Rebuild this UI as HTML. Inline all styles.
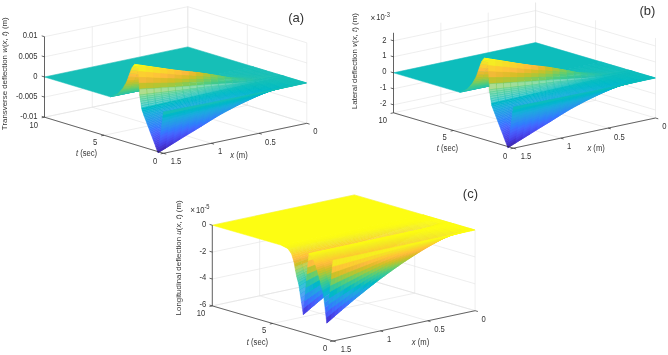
<!DOCTYPE html>
<html><head><meta charset="utf-8"><title>Figure</title>
<style>
html,body{margin:0;padding:0;background:#fff;}
body{width:668px;height:355px;overflow:hidden;}
svg{display:block;}
.s path{fill:currentColor;stroke:currentColor}
text{font-family:"Liberation Sans",sans-serif;fill:#333;}
</style></head><body>
<svg width="668" height="355" viewBox="0 0 668 355">
<rect width="668" height="355" fill="#fff"/>
<path d="M306.80 123.30L187.80 87.20" stroke="#e3e3e3" stroke-width="0.6" fill="none"/>
<path d="M187.80 87.20L187.80 6.70" stroke="#e3e3e3" stroke-width="0.6" fill="none"/>
<path d="M259.03 133.30L140.03 97.20" stroke="#e3e3e3" stroke-width="0.6" fill="none"/>
<path d="M140.03 97.20L140.03 16.70" stroke="#e3e3e3" stroke-width="0.6" fill="none"/>
<path d="M211.27 143.30L92.27 107.20" stroke="#e3e3e3" stroke-width="0.6" fill="none"/>
<path d="M92.27 107.20L92.27 26.70" stroke="#e3e3e3" stroke-width="0.6" fill="none"/>
<path d="M163.50 153.30L44.50 117.20" stroke="#e3e3e3" stroke-width="0.6" fill="none"/>
<path d="M44.50 117.20L44.50 36.70" stroke="#e3e3e3" stroke-width="0.6" fill="none"/>
<path d="M306.80 123.30L163.50 153.30" stroke="#e3e3e3" stroke-width="0.6" fill="none"/>
<path d="M306.80 123.30L306.80 42.80" stroke="#e3e3e3" stroke-width="0.6" fill="none"/>
<path d="M247.30 105.25L104.00 135.25" stroke="#e3e3e3" stroke-width="0.6" fill="none"/>
<path d="M247.30 105.25L247.30 24.75" stroke="#e3e3e3" stroke-width="0.6" fill="none"/>
<path d="M187.80 87.20L44.50 117.20" stroke="#e3e3e3" stroke-width="0.6" fill="none"/>
<path d="M187.80 87.20L187.80 6.70" stroke="#e3e3e3" stroke-width="0.6" fill="none"/>
<path d="M44.50 117.20L187.80 87.20" stroke="#e3e3e3" stroke-width="0.6" fill="none"/>
<path d="M187.80 87.20L306.80 123.30" stroke="#e3e3e3" stroke-width="0.6" fill="none"/>
<path d="M44.50 97.08L187.80 67.07" stroke="#e3e3e3" stroke-width="0.6" fill="none"/>
<path d="M187.80 67.07L306.80 103.17" stroke="#e3e3e3" stroke-width="0.6" fill="none"/>
<path d="M44.50 76.95L187.80 46.95" stroke="#e3e3e3" stroke-width="0.6" fill="none"/>
<path d="M187.80 46.95L306.80 83.05" stroke="#e3e3e3" stroke-width="0.6" fill="none"/>
<path d="M44.50 56.83L187.80 26.82" stroke="#e3e3e3" stroke-width="0.6" fill="none"/>
<path d="M187.80 26.82L306.80 62.92" stroke="#e3e3e3" stroke-width="0.6" fill="none"/>
<path d="M44.50 36.70L187.80 6.70" stroke="#e3e3e3" stroke-width="0.6" fill="none"/>
<path d="M187.80 6.70L306.80 42.80" stroke="#e3e3e3" stroke-width="0.6" fill="none"/>
<g stroke-width="0.5" stroke-linejoin="round"><g class="s">
<path d="M253.4 66.8l-143.3 30-65.6-19.8 143.3-30.1z" color="#16bfb7"/>
<path d="M254 67l-7.2 1.5-0.6-0.2 7.2-1.5z" color="#16bfb7"/>
<path d="M246.8 68.5l-7.2 1.5-0.6-0.2 7.2-1.5z" color="#16bfb7"/>
<path d="M239.6 70l-7.1 1.5-0.6-0.2 7.1-1.5z" color="#16bfb7"/>
<path d="M232.5 71.5l-7.2 1.5-0.6-0.2 7.2-1.5z" color="#16bfb7"/>
<path d="M225.3 73l-7.2 1.5-0.6-0.2 7.2-1.5z" color="#16bfb7"/>
<path d="M218.1 74.5l-7.1 1.5-0.6-0.2 7.1-1.5z" color="#16bfb7"/>
<path d="M211 76l-7.2 1.4-0.6-0.1 7.2-1.5z" color="#16bfb7"/>
<path d="M203.8 77.4l-7.2 1.5-0.6-0.1 7.2-1.5z" color="#17bfb7"/>
<path d="M196.6 78.9l-7.1 1.5-0.6-0.1 7.1-1.5z" color="#17bfb7"/>
<path d="M189.5 80.4l-7.2 1.5-0.6-0.1 7.2-1.5z" color="#17bfb6"/>
<path d="M182.3 81.9l-7.2 1.4-0.5 0 7.1-1.5z" color="#17bfb6"/>
<path d="M175.1 83.3l-7.1 1.5-0.6 0 7.2-1.5z" color="#17bfb6"/>
<path d="M168 84.8l-7.2 1.5-0.6 0 7.2-1.5z" color="#17bfb6"/>
<path d="M160.8 86.3l-7.1 1.5-0.6 0 7.1-1.5z" color="#18bfb6"/>
<path d="M153.7 87.8l-7.2 1.5-0.6 0 7.2-1.5z" color="#18bfb6"/>
<path d="M146.5 89.3l-7.2 1.4-0.6 0.1 7.2-1.5z" color="#18bfb6"/>
<path d="M139.3 90.7l-7.1 1.5-0.6 0.1 7.1-1.5z" color="#18bfb6"/>
<path d="M132.2 92.2l-7.2 1.5-0.6 0.1 7.2-1.5z" color="#18bfb6"/>
<path d="M125 93.7l-7.2 1.5-0.6 0.1 7.2-1.5z" color="#18bfb6"/>
<path d="M117.8 95.2l-7.1 1.4-0.6 0.2 7.1-1.5z" color="#18bfb6"/>
<path d="M255.2 67.4l-7.2 1.5-1.2-0.4 7.2-1.5z" color="#16bfb7"/>
<path d="M248 68.9l-7.2 1.5-1.2-0.4 7.2-1.5z" color="#16bfb7"/>
<path d="M240.8 70.4l-7.1 1.5-1.2-0.4 7.1-1.5z" color="#16bfb7"/>
<path d="M233.7 71.9l-7.2 1.4-1.2-0.3 7.2-1.5z" color="#16bfb7"/>
<path d="M226.5 73.3l-7.2 1.5-1.2-0.3 7.2-1.5z" color="#17bfb7"/>
<path d="M219.3 74.8l-7.1 1.4-1.2-0.2 7.1-1.5z" color="#17bfb6"/>
<path d="M212.2 76.2l-7.2 1.5-1.2-0.3 7.2-1.4z" color="#17bfb6"/>
<path d="M205 77.7l-7.2 1.4-1.2-0.2 7.2-1.5z" color="#18bfb6"/>
<path d="M197.8 79.1l-7.1 1.4-1.2-0.1 7.1-1.5z" color="#19bfb6"/>
<path d="M190.7 80.5l-7.2 1.4-1.2 0 7.2-1.5z" color="#19bfb5"/>
<path d="M183.5 81.9l-7.2 1.4-1.2 0 7.2-1.4z" color="#1abfb5"/>
<path d="M176.3 83.3l-7.1 1.5-1.2 0 7.1-1.5z" color="#1ac0b4"/>
<path d="M169.2 84.8l-7.2 1.4-1.2 0.1 7.2-1.5z" color="#1bc0b4"/>
<path d="M162 86.2l-7.2 1.4-1.1 0.2 7.1-1.5z" color="#1bc0b4"/>
<path d="M154.8 87.6l-7.1 1.5-1.2 0.2 7.2-1.5z" color="#1cc0b4"/>
<path d="M147.7 89.1l-7.2 1.4-1.2 0.2 7.2-1.4z" color="#1cc0b3"/>
<path d="M140.5 90.5l-7.2 1.4-1.1 0.3 7.1-1.5z" color="#1dc0b3"/>
<path d="M133.3 91.9l-7.1 1.4-1.2 0.4 7.2-1.5z" color="#1dc0b3"/>
<path d="M126.2 93.3l-7.2 1.5-1.2 0.4 7.2-1.5z" color="#1dc0b3"/>
<path d="M119 94.8l-7.1 1.4-1.2 0.4 7.1-1.4z" color="#1dc0b2"/>
<path d="M256.3 67.7l-7.1 1.5-1.2-0.3 7.2-1.5z" color="#16bfb7"/>
<path d="M249.2 69.2l-7.2 1.5-1.2-0.3 7.2-1.5z" color="#16bfb7"/>
<path d="M242 70.7l-7.2 1.5-1.1-0.3 7.1-1.5z" color="#16bfb7"/>
<path d="M234.8 72.2l-7.1 1.5-1.2-0.4 7.2-1.4z" color="#17bfb7"/>
<path d="M227.7 73.7l-7.2 1.4-1.2-0.3 7.2-1.5z" color="#17bfb6"/>
<path d="M220.5 75.1l-7.1 1.4-1.2-0.3 7.1-1.4z" color="#18bfb6"/>
<path d="M213.4 76.5l-7.2 1.4-1.2-0.2 7.2-1.5z" color="#19bfb6"/>
<path d="M206.2 77.9l-7.2 1.3-1.2-0.1 7.2-1.4z" color="#1abfb5"/>
<path d="M199 79.2l-7.1 1.4-1.2-0.1 7.1-1.4z" color="#1bc0b4"/>
<path d="M191.9 80.6l-7.2 1.4-1.2-0.1 7.2-1.4z" color="#1cc0b4"/>
<path d="M184.7 82l-7.2 1.4-1.2-0.1 7.2-1.4z" color="#1dc0b3"/>
<path d="M177.5 83.4l-7.1 1.3-1.2 0.1 7.1-1.5z" color="#1ec0b2"/>
<path d="M170.4 84.7l-7.2 1.4-1.2 0.1 7.2-1.4z" color="#1fc1b1"/>
<path d="M163.2 86.1l-7.2 1.4-1.2 0.1 7.2-1.4z" color="#20c1b1"/>
<path d="M156 87.5l-7.1 1.4-1.2 0.2 7.1-1.5z" color="#21c1b0"/>
<path d="M148.9 88.9l-7.2 1.4-1.2 0.2 7.2-1.4z" color="#22c1b0"/>
<path d="M141.7 90.3l-7.2 1.3-1.2 0.3 7.2-1.4z" color="#23c1af"/>
<path d="M134.5 91.6l-7.1 1.4-1.2 0.3 7.1-1.4z" color="#23c1af"/>
<path d="M127.4 93l-7.2 1.4-1.2 0.4 7.2-1.5z" color="#24c1ae"/>
<path d="M120.2 94.4l-7.2 1.4-1.1 0.4 7.1-1.4z" color="#24c1ae"/>
<path d="M257.5 68.1l-7.1 1.5-1.2-0.4 7.1-1.5z" color="#16bfb7"/>
<path d="M250.4 69.6l-7.2 1.5-1.2-0.4 7.2-1.5z" color="#16bfb7"/>
<path d="M243.2 71.1l-7.2 1.4-1.2-0.3 7.2-1.5z" color="#17bfb7"/>
<path d="M236 72.5l-7.1 1.5-1.2-0.3 7.1-1.5z" color="#17bfb6"/>
<path d="M228.9 74l-7.2 1.4-1.2-0.3 7.2-1.4z" color="#18bfb6"/>
<path d="M221.7 75.4l-7.2 1.4-1.1-0.3 7.1-1.4z" color="#19bfb6"/>
<path d="M214.5 76.8l-7.1 1.3-1.2-0.2 7.2-1.4z" color="#1abfb5"/>
<path d="M207.4 78.1l-7.2 1.3-1.2-0.2 7.2-1.3z" color="#1bc0b4"/>
<path d="M200.2 79.4l-7.2 1.3-1.1-0.1 7.1-1.4z" color="#1dc0b3"/>
<path d="M193 80.7l-7.1 1.3-1.2 0 7.2-1.4z" color="#1ec0b2"/>
<path d="M185.9 82l-7.2 1.4-1.2 0 7.2-1.4z" color="#20c1b1"/>
<path d="M178.7 83.4l-7.1 1.3-1.2 0 7.1-1.3z" color="#22c1b0"/>
<path d="M171.6 84.7l-7.2 1.3-1.2 0.1 7.2-1.4z" color="#24c1af"/>
<path d="M164.4 86l-7.2 1.4-1.2 0.1 7.2-1.4z" color="#25c2ae"/>
<path d="M157.2 87.4l-7.1 1.3-1.2 0.2 7.1-1.4z" color="#26c2ad"/>
<path d="M150.1 88.7l-7.2 1.3-1.2 0.3 7.2-1.4z" color="#27c2ac"/>
<path d="M142.9 90l-7.2 1.4-1.2 0.2 7.2-1.3z" color="#27c2ab"/>
<path d="M135.7 91.4l-7.1 1.3-1.2 0.3 7.1-1.4z" color="#28c3ab"/>
<path d="M128.6 92.7l-7.2 1.3-1.2 0.4 7.2-1.4z" color="#29c3aa"/>
<path d="M121.4 94l-7.2 1.3-1.2 0.5 7.2-1.4z" color="#29c3aa"/>
<path d="M258.7 68.5l-7.1 1.4-1.2-0.3 7.1-1.5z" color="#16bfb7"/>
<path d="M251.6 69.9l-7.2 1.5-1.2-0.3 7.2-1.5z" color="#16bfb7"/>
<path d="M244.4 71.4l-7.2 1.5-1.2-0.4 7.2-1.4z" color="#17bfb7"/>
<path d="M237.2 72.9l-7.1 1.4-1.2-0.3 7.1-1.5z" color="#17bfb6"/>
<path d="M230.1 74.3l-7.2 1.4-1.2-0.3 7.2-1.4z" color="#18bfb6"/>
<path d="M222.9 75.7l-7.2 1.3-1.2-0.2 7.2-1.4z" color="#19bfb5"/>
<path d="M215.7 77l-7.1 1.3-1.2-0.2 7.1-1.3z" color="#1bc0b4"/>
<path d="M208.6 78.3l-7.2 1.3-1.2-0.2 7.2-1.3z" color="#1dc0b3"/>
<path d="M201.4 79.6l-7.2 1.2-1.2-0.1 7.2-1.3z" color="#1fc0b2"/>
<path d="M194.2 80.8l-7.1 1.3-1.2-0.1 7.1-1.3z" color="#21c1b0"/>
<path d="M187.1 82.1l-7.2 1.3-1.2 0 7.2-1.4z" color="#23c1af"/>
<path d="M179.9 83.4l-7.2 1.3-1.1 0 7.1-1.3z" color="#25c2ad"/>
<path d="M172.7 84.7l-7.1 1.3-1.2 0 7.2-1.3z" color="#27c2ac"/>
<path d="M165.6 86l-7.2 1.3-1.2 0.1 7.2-1.4z" color="#28c3aa"/>
<path d="M158.4 87.3l-7.2 1.2-1.1 0.2 7.1-1.3z" color="#29c3a9"/>
<path d="M151.2 88.5l-7.1 1.3-1.2 0.2 7.2-1.3z" color="#2bc3a8"/>
<path d="M144.1 89.8l-7.2 1.3-1.2 0.3 7.2-1.4z" color="#2cc4a7"/>
<path d="M136.9 91.1l-7.1 1.3-1.2 0.3 7.1-1.3z" color="#2cc4a6"/>
<path d="M129.8 92.4l-7.2 1.2-1.2 0.4 7.2-1.3z" color="#2dc4a6"/>
<path d="M122.6 93.6l-7.2 1.3-1.2 0.4 7.2-1.3z" color="#2dc4a5"/>
<path d="M259.9 68.8l-7.2 1.5-1.1-0.4 7.1-1.4z" color="#16bfb7"/>
<path d="M252.7 70.3l-7.1 1.5-1.2-0.4 7.2-1.5z" color="#16bfb7"/>
<path d="M245.6 71.8l-7.2 1.4-1.2-0.3 7.2-1.5z" color="#17bfb6"/>
<path d="M238.4 73.2l-7.1 1.4-1.2-0.3 7.1-1.4z" color="#17bfb6"/>
<path d="M231.3 74.6l-7.2 1.4-1.2-0.3 7.2-1.4z" color="#19bfb6"/>
<path d="M224.1 76l-7.2 1.3-1.2-0.3 7.2-1.3z" color="#1ac0b5"/>
<path d="M216.9 77.3l-7.1 1.2-1.2-0.2 7.1-1.3z" color="#1cc0b4"/>
<path d="M209.8 78.5l-7.2 1.2-1.2-0.1 7.2-1.3z" color="#1ec0b2"/>
<path d="M202.6 79.7l-7.2 1.2-1.2-0.1 7.2-1.2z" color="#21c1b1"/>
<path d="M195.4 80.9l-7.1 1.2-1.2 0 7.1-1.3z" color="#23c1af"/>
<path d="M188.3 82.1l-7.2 1.3-1.2 0 7.2-1.3z" color="#26c2ad"/>
<path d="M181.1 83.4l-7.2 1.2-1.2 0.1 7.2-1.3z" color="#28c3ab"/>
<path d="M173.9 84.6l-7.1 1.3-1.2 0.1 7.1-1.3z" color="#2ac3a9"/>
<path d="M166.8 85.9l-7.2 1.2-1.2 0.2 7.2-1.3z" color="#2cc4a7"/>
<path d="M159.6 87.1l-7.2 1.3-1.2 0.1 7.2-1.2z" color="#2dc4a6"/>
<path d="M152.4 88.4l-7.1 1.2-1.2 0.2 7.1-1.3z" color="#2ec4a4"/>
<path d="M145.3 89.6l-7.2 1.2-1.2 0.3 7.2-1.3z" color="#2fc5a3"/>
<path d="M138.1 90.8l-7.2 1.2-1.1 0.4 7.1-1.3z" color="#2fc5a2"/>
<path d="M130.9 92l-7.1 1.2-1.2 0.4 7.2-1.2z" color="#30c5a1"/>
<path d="M123.8 93.2l-7.2 1.3-1.2 0.4 7.2-1.3z" color="#31c6a0"/>
<path d="M261.1 69.2l-7.2 1.5-1.2-0.4 7.2-1.5z" color="#16bfb7"/>
<path d="M253.9 70.7l-7.1 1.4-1.2-0.3 7.1-1.5z" color="#17bfb7"/>
<path d="M246.8 72.1l-7.2 1.5-1.2-0.4 7.2-1.4z" color="#17bfb6"/>
<path d="M239.6 73.6l-7.2 1.4-1.1-0.4 7.1-1.4z" color="#18bfb6"/>
<path d="M232.4 75l-7.1 1.3-1.2-0.3 7.2-1.4z" color="#19bfb5"/>
<path d="M225.3 76.3l-7.2 1.2-1.2-0.2 7.2-1.3z" color="#1bc0b4"/>
<path d="M218.1 77.5l-7.2 1.2-1.1-0.2 7.1-1.2z" color="#1dc0b3"/>
<path d="M210.9 78.7l-7.1 1.1-1.2-0.1 7.2-1.2z" color="#20c1b1"/>
<path d="M203.8 79.8l-7.2 1.1-1.2 0 7.2-1.2z" color="#23c1af"/>
<path d="M196.6 80.9l-7.1 1.2-1.2 0 7.1-1.2z" color="#26c2ad"/>
<path d="M189.5 82.1l-7.2 1.1-1.2 0.2 7.2-1.3z" color="#28c3aa"/>
<path d="M182.3 83.2l-7.2 1.2-1.2 0.2 7.2-1.2z" color="#2bc3a8"/>
<path d="M175.1 84.4l-7.1 1.2-1.2 0.3 7.1-1.3z" color="#2dc4a5"/>
<path d="M168 85.6l-7.2 1.2-1.2 0.3 7.2-1.2z" color="#2fc5a3"/>
<path d="M160.8 86.8l-7.2 1.2-1.2 0.4 7.2-1.3z" color="#30c5a1"/>
<path d="M153.6 88l-7.1 1.1-1.2 0.5 7.1-1.2z" color="#31c6a0"/>
<path d="M146.5 89.1l-7.2 1.2-1.2 0.5 7.2-1.2z" color="#32c69e"/>
<path d="M139.3 90.3l-7.2 1.1-1.2 0.6 7.2-1.2z" color="#33c79d"/>
<path d="M132.1 91.4l-7.1 1.2-1.2 0.6 7.1-1.2z" color="#34c79b"/>
<path d="M125 92.6l-7.2 1.1-1.2 0.8 7.2-1.3z" color="#35c79a"/>
<path d="M262.3 69.5l-7.2 1.5-1.2-0.3 7.2-1.5z" color="#16bfb7"/>
<path d="M255.1 71l-7.1 1.5-1.2-0.4 7.1-1.4z" color="#17bfb7"/>
<path d="M248 72.5l-7.2 1.4-1.2-0.3 7.2-1.5z" color="#17bfb6"/>
<path d="M240.8 73.9l-7.2 1.4-1.2-0.3 7.2-1.4z" color="#18bfb6"/>
<path d="M233.6 75.3l-7.1 1.2-1.2-0.2 7.1-1.3z" color="#1ac0b5"/>
<path d="M226.5 76.5l-7.2 1.2-1.2-0.2 7.2-1.2z" color="#1cc0b3"/>
<path d="M219.3 77.7l-7.2 1.1-1.2-0.1 7.2-1.2z" color="#1fc0b2"/>
<path d="M212.1 78.8l-7.1 1-1.2 0 7.1-1.1z" color="#22c1af"/>
<path d="M205 79.8l-7.2 1-1.2 0.1 7.2-1.1z" color="#26c2ad"/>
<path d="M197.8 80.8l-7.2 1-1.1 0.3 7.1-1.2z" color="#29c3aa"/>
<path d="M190.6 81.8l-7.1 1.1-1.2 0.3 7.2-1.1z" color="#2cc4a7"/>
<path d="M183.5 82.9l-7.2 1-1.2 0.5 7.2-1.2z" color="#2fc5a3"/>
<path d="M176.3 83.9l-7.2 1.2-1.1 0.5 7.1-1.2z" color="#31c6a0"/>
<path d="M169.1 85.1l-7.1 1.1-1.2 0.6 7.2-1.2z" color="#33c69d"/>
<path d="M162 86.2l-7.2 1-1.2 0.8 7.2-1.2z" color="#35c79b"/>
<path d="M154.8 87.2l-7.1 1.1-1.2 0.8 7.1-1.1z" color="#36c899"/>
<path d="M147.7 88.3l-7.2 1-1.2 1 7.2-1.2z" color="#38c896"/>
<path d="M140.5 89.3l-7.2 1.1-1.2 1 7.2-1.1z" color="#3ac994"/>
<path d="M133.3 90.4l-7.1 1-1.2 1.2 7.1-1.2z" color="#3bc992"/>
<path d="M126.2 91.4l-7.2 1.1-1.2 1.2 7.2-1.1z" color="#3dc991"/>
<path d="M263.5 69.9l-7.2 1.5-1.2-0.4 7.2-1.5z" color="#16bfb7"/>
<path d="M256.3 71.4l-7.1 1.4-1.2-0.3 7.1-1.5z" color="#17bfb6"/>
<path d="M249.2 72.8l-7.2 1.4-1.2-0.3 7.2-1.4z" color="#17bfb6"/>
<path d="M242 74.2l-7.2 1.3-1.2-0.2 7.2-1.4z" color="#19bfb5"/>
<path d="M234.8 75.5l-7.1 1.2-1.2-0.2 7.1-1.2z" color="#1bc0b4"/>
<path d="M227.7 76.7l-7.2 1.1-1.2-0.1 7.2-1.2z" color="#1ec0b2"/>
<path d="M220.5 77.8l-7.2 1-1.2 0 7.2-1.1z" color="#21c1b0"/>
<path d="M213.3 78.8l-7.1 0.9-1.2 0.1 7.1-1z" color="#25c2ad"/>
<path d="M206.2 79.7l-7.2 0.9-1.2 0.2 7.2-1z" color="#28c3aa"/>
<path d="M199 80.6l-7.2 0.9-1.2 0.3 7.2-1z" color="#2cc4a7"/>
<path d="M191.8 81.5l-7.1 1-1.2 0.4 7.1-1.1z" color="#2fc5a2"/>
<path d="M184.7 82.5l-7.2 1-1.2 0.4 7.2-1z" color="#33c69e"/>
<path d="M177.5 83.5l-7.2 1-1.2 0.6 7.2-1.2z" color="#35c799"/>
<path d="M170.3 84.5l-7.1 1-1.2 0.7 7.1-1.1z" color="#38c896"/>
<path d="M163.2 85.5l-7.2 1-1.2 0.7 7.2-1z" color="#3bc992"/>
<path d="M156 86.5l-7.2 0.9-1.1 0.9 7.1-1.1z" color="#3eca8f"/>
<path d="M148.8 87.4l-7.1 1-1.2 0.9 7.2-1z" color="#41ca8c"/>
<path d="M141.7 88.4l-7.2 0.9-1.2 1.1 7.2-1.1z" color="#44cb8a"/>
<path d="M134.5 89.3l-7.2 1-1.1 1.1 7.1-1z" color="#47cb87"/>
<path d="M127.3 90.3l-7.1 0.9-1.2 1.3 7.2-1.1z" color="#49cb85"/>
<path d="M264.7 70.3l-7.2 1.4-1.2-0.3 7.2-1.5z" color="#16bfb7"/>
<path d="M257.5 71.7l-7.2 1.5-1.1-0.4 7.1-1.4z" color="#17bfb6"/>
<path d="M250.3 73.2l-7.1 1.4-1.2-0.4 7.2-1.4z" color="#18bfb6"/>
<path d="M243.2 74.6l-7.2 1.2-1.2-0.3 7.2-1.3z" color="#19bfb5"/>
<path d="M236 75.8l-7.2 1.2-1.1-0.3 7.1-1.2z" color="#1cc0b4"/>
<path d="M228.8 77l-7.1 1-1.2-0.2 7.2-1.1z" color="#1fc0b1"/>
<path d="M221.7 78l-7.2 0.9-1.2-0.1 7.2-1z" color="#23c1af"/>
<path d="M214.5 78.9l-7.1 0.8-1.2 0 7.1-0.9z" color="#27c2ab"/>
<path d="M207.4 79.7l-7.2 0.8-1.2 0.1 7.2-0.9z" color="#2bc3a8"/>
<path d="M200.2 80.5l-7.2 0.8-1.2 0.2 7.2-0.9z" color="#2fc5a3"/>
<path d="M193 81.3l-7.1 0.8-1.2 0.4 7.1-1z" color="#32c69e"/>
<path d="M185.9 82.1l-7.2 0.9-1.2 0.5 7.2-1z" color="#36c898"/>
<path d="M178.7 83l-7.2 1-1.2 0.5 7.2-1z" color="#3bc992"/>
<path d="M171.5 84l-7.1 0.9-1.2 0.6 7.1-1z" color="#3fca8e"/>
<path d="M164.4 84.9l-7.2 0.8-1.2 0.8 7.2-1z" color="#44cb89"/>
<path d="M157.2 85.7l-7.2 0.9-1.2 0.8 7.2-0.9z" color="#49cb85"/>
<path d="M150 86.6l-7.1 0.8-1.2 1 7.1-1z" color="#4dcc82"/>
<path d="M142.9 87.4l-7.2 0.9-1.2 1 7.2-0.9z" color="#52cc7e"/>
<path d="M135.7 88.3l-7.2 0.8-1.2 1.2 7.2-1z" color="#56cc7b"/>
<path d="M128.5 89.1l-7.1 0.9-1.2 1.2 7.1-0.9z" color="#59cc78"/>
<path d="M265.9 70.6l-7.2 1.5-1.2-0.4 7.2-1.4z" color="#16bfb7"/>
<path d="M258.7 72.1l-7.2 1.4-1.2-0.3 7.2-1.5z" color="#17bfb6"/>
<path d="M251.5 73.5l-7.1 1.4-1.2-0.3 7.1-1.4z" color="#18bfb6"/>
<path d="M244.4 74.9l-7.2 1.2-1.2-0.3 7.2-1.2z" color="#1abfb5"/>
<path d="M237.2 76.1l-7.2 1.1-1.2-0.2 7.2-1.2z" color="#1dc0b3"/>
<path d="M230 77.2l-7.1 1-1.2-0.2 7.1-1z" color="#21c1b1"/>
<path d="M222.9 78.2l-7.2 0.8-1.2-0.1 7.2-0.9z" color="#25c2ad"/>
<path d="M215.7 79l-7.2 0.6-1.1 0.1 7.1-0.8z" color="#29c3a9"/>
<path d="M208.5 79.6l-7.1 0.7-1.2 0.2 7.2-0.8z" color="#2dc4a5"/>
<path d="M201.4 80.3l-7.2 0.7-1.2 0.3 7.2-0.8z" color="#31c69f"/>
<path d="M194.2 81l-7.2 0.8-1.1 0.3 7.1-0.8z" color="#36c799"/>
<path d="M187 81.8l-7.1 0.8-1.2 0.4 7.2-0.9z" color="#3cc992"/>
<path d="M179.9 82.6l-7.2 0.8-1.2 0.6 7.2-1z" color="#42ca8b"/>
<path d="M172.7 83.4l-7.1 0.8-1.2 0.7 7.1-0.9z" color="#49cb85"/>
<path d="M165.6 84.2l-7.2 0.8-1.2 0.7 7.2-0.8z" color="#4fcc80"/>
<path d="M158.4 85l-7.2 0.8-1.2 0.8 7.2-0.9z" color="#56cc7b"/>
<path d="M151.2 85.8l-7.1 0.7-1.2 0.9 7.1-0.8z" color="#5bcc76"/>
<path d="M144.1 86.5l-7.2 0.7-1.2 1.1 7.2-0.9z" color="#61cd72"/>
<path d="M136.9 87.2l-7.2 0.8-1.2 1.1 7.2-0.8z" color="#65cd6e"/>
<path d="M129.7 88l-7.1 0.7-1.2 1.3 7.1-0.9z" color="#6acd6a"/>
<path d="M267.1 71l-7.2 1.4-1.2-0.3 7.2-1.5z" color="#17bfb7"/>
<path d="M259.9 72.4l-7.2 1.4-1.2-0.3 7.2-1.4z" color="#17bfb6"/>
<path d="M252.7 73.8l-7.1 1.4-1.2-0.3 7.1-1.4z" color="#18bfb6"/>
<path d="M245.6 75.2l-7.2 1.2-1.2-0.3 7.2-1.2z" color="#1ac0b5"/>
<path d="M238.4 76.4l-7.2 1-1.2-0.2 7.2-1.1z" color="#1ec0b2"/>
<path d="M231.2 77.4l-7.1 0.8-1.2 0 7.1-1z" color="#22c1af"/>
<path d="M224.1 78.2l-7.2 0.7-1.2 0.1 7.2-0.8z" color="#27c2ac"/>
<path d="M216.9 78.9l-7.2 0.5-1.2 0.2 7.2-0.6z" color="#2cc4a7"/>
<path d="M209.7 79.4l-7.1 0.6-1.2 0.3 7.1-0.7z" color="#30c5a1"/>
<path d="M202.6 80l-7.2 0.5-1.2 0.5 7.2-0.7z" color="#35c79b"/>
<path d="M195.4 80.5l-7.2 0.6-1.2 0.7 7.2-0.8z" color="#3bc993"/>
<path d="M188.2 81.1l-7.1 0.7-1.2 0.8 7.1-0.8z" color="#43ca8a"/>
<path d="M181.1 81.8l-7.2 0.7-1.2 0.9 7.2-0.8z" color="#4dcc82"/>
<path d="M173.9 82.5l-7.2 0.7-1.1 1 7.1-0.8z" color="#56cc7a"/>
<path d="M166.7 83.2l-7.1 0.6-1.2 1.2 7.2-0.8z" color="#5ecd74"/>
<path d="M159.6 83.8l-7.2 0.6-1.2 1.4 7.2-0.8z" color="#66cd6d"/>
<path d="M152.4 84.4l-7.2 0.6-1.1 1.5 7.1-0.7z" color="#6dcd67"/>
<path d="M145.2 85l-7.1 0.6-1.2 1.6 7.2-0.7z" color="#74cc62"/>
<path d="M138.1 85.6l-7.2 0.6-1.2 1.8 7.2-0.8z" color="#7acc5d"/>
<path d="M130.9 86.2l-7.1 0.6-1.2 1.9 7.1-0.7z" color="#80cc59"/>
<path d="M268.2 71.4l-7.1 1.4-1.2-0.4 7.2-1.4z" color="#17bfb7"/>
<path d="M261.1 72.8l-7.2 1.4-1.2-0.4 7.2-1.4z" color="#18bfb6"/>
<path d="M253.9 74.2l-7.2 1.3-1.1-0.3 7.1-1.4z" color="#19bfb6"/>
<path d="M246.7 75.5l-7.1 1.2-1.2-0.3 7.2-1.2z" color="#1bc0b4"/>
<path d="M239.6 76.7l-7.2 0.8-1.2-0.1 7.2-1z" color="#1fc0b2"/>
<path d="M232.4 77.5l-7.1 0.8-1.2-0.1 7.1-0.8z" color="#24c1ae"/>
<path d="M225.3 78.3l-7.2 0.5-1.2 0.1 7.2-0.7z" color="#29c3aa"/>
<path d="M218.1 78.8l-7.2 0.4-1.2 0.2 7.2-0.5z" color="#2ec4a4"/>
<path d="M210.9 79.2l-7.1 0.4-1.2 0.4 7.1-0.6z" color="#33c69d"/>
<path d="M203.8 79.6l-7.2 0.4-1.2 0.5 7.2-0.5z" color="#39c895"/>
<path d="M196.6 80l-7.2 0.4-1.2 0.7 7.2-0.6z" color="#42ca8b"/>
<path d="M189.4 80.4l-7.1 0.6-1.2 0.8 7.1-0.7z" color="#4fcc80"/>
<path d="M182.3 81l-7.2 0.5-1.2 1 7.2-0.7z" color="#5ccc76"/>
<path d="M175.1 81.5l-7.2 0.6-1.2 1.1 7.2-0.7z" color="#67cd6c"/>
<path d="M167.9 82.1l-7.1 0.5-1.2 1.2 7.1-0.6z" color="#71cd64"/>
<path d="M160.8 82.6l-7.2 0.4-1.2 1.4 7.2-0.6z" color="#7bcc5d"/>
<path d="M153.6 83l-7.2 0.5-1.2 1.5 7.2-0.6z" color="#84cc56"/>
<path d="M146.4 83.5l-7.1 0.4-1.2 1.7 7.1-0.6z" color="#8ccb50"/>
<path d="M139.3 83.9l-7.2 0.5-1.2 1.8 7.2-0.6z" color="#93ca4b"/>
<path d="M132.1 84.4l-7.2 0.4-1.1 2 7.1-0.6z" color="#9ac946"/>
<path d="M269.4 71.7l-7.1 1.4-1.2-0.3 7.1-1.4z" color="#17bfb7"/>
<path d="M262.3 73.1l-7.2 1.4-1.2-0.3 7.2-1.4z" color="#18bfb6"/>
<path d="M255.1 74.5l-7.2 1.3-1.2-0.3 7.2-1.3z" color="#19bfb5"/>
<path d="M247.9 75.8l-7.1 1.1-1.2-0.2 7.1-1.2z" color="#1bc0b4"/>
<path d="M240.8 76.9l-7.2 0.8-1.2-0.2 7.2-0.8z" color="#20c1b1"/>
<path d="M233.6 77.7l-7.2 0.7-1.1-0.1 7.1-0.8z" color="#26c2ad"/>
<path d="M226.4 78.4l-7.1 0.4-1.2 0 7.2-0.5z" color="#2bc3a8"/>
<path d="M219.3 78.8l-7.2 0.2-1.2 0.2 7.2-0.4z" color="#30c5a1"/>
<path d="M212.1 79l-7.2 0.2-1.1 0.4 7.1-0.4z" color="#36c799"/>
<path d="M204.9 79.2l-7.1 0.2-1.2 0.6 7.2-0.4z" color="#3eca8f"/>
<path d="M197.8 79.4l-7.2 0.3-1.2 0.7 7.2-0.4z" color="#4bcb83"/>
<path d="M190.6 79.7l-7.1 0.4-1.2 0.9 7.1-0.6z" color="#5ccc76"/>
<path d="M183.5 80.1l-7.2 0.5-1.2 0.9 7.2-0.5z" color="#6bcd69"/>
<path d="M176.3 80.6l-7.2 0.4-1.2 1.1 7.2-0.6z" color="#79cc5e"/>
<path d="M169.1 81l-7.1 0.4-1.2 1.2 7.1-0.5z" color="#85cb55"/>
<path d="M162 81.4l-7.2 0.3-1.2 1.3 7.2-0.4z" color="#91ca4d"/>
<path d="M154.8 81.7l-7.2 0.3-1.2 1.5 7.2-0.5z" color="#9bc945"/>
<path d="M147.6 82l-7.1 0.3-1.2 1.6 7.1-0.4z" color="#a4c83e"/>
<path d="M140.5 82.3l-7.2 0.3-1.2 1.8 7.2-0.5z" color="#acc739"/>
<path d="M133.3 82.6l-7.2 0.3-1.2 1.9 7.2-0.4z" color="#b3c534"/>
<path d="M270.6 72.1l-7.1 1.4-1.2-0.4 7.1-1.4z" color="#17bfb7"/>
<path d="M263.5 73.5l-7.2 1.3-1.2-0.3 7.2-1.4z" color="#18bfb6"/>
<path d="M256.3 74.8l-7.2 1.3-1.2-0.3 7.2-1.3z" color="#19bfb5"/>
<path d="M249.1 76.1l-7.1 1-1.2-0.2 7.1-1.1z" color="#1cc0b3"/>
<path d="M242 77.1l-7.2 0.7-1.2-0.1 7.2-0.8z" color="#22c1b0"/>
<path d="M234.8 77.8l-7.2 0.6-1.2 0 7.2-0.7z" color="#27c2ab"/>
<path d="M227.6 78.4l-7.1 0.1-1.2 0.3 7.1-0.4z" color="#2dc4a5"/>
<path d="M220.5 78.5l-7.2 0-1.2 0.5 7.2-0.2z" color="#33c69d"/>
<path d="M213.3 78.5l-7.2 0-1.2 0.7 7.2-0.2z" color="#3ac993"/>
<path d="M206.1 78.5l-7.1 0-1.2 0.9 7.1-0.2z" color="#46cb87"/>
<path d="M199 78.5l-7.2 0.1-1.2 1.1 7.2-0.3z" color="#58cc79"/>
<path d="M191.8 78.6l-7.2 0.2-1.1 1.3 7.1-0.4z" color="#6ccd68"/>
<path d="M184.6 78.8l-7.1 0.3-1.2 1.5 7.2-0.5z" color="#80cc59"/>
<path d="M177.5 79.1l-7.2 0.3-1.2 1.6 7.2-0.4z" color="#90ca4d"/>
<path d="M170.3 79.4l-7.2 0.1-1.1 1.9 7.1-0.4z" color="#9dc943"/>
<path d="M163.1 79.5l-7.1 0.1-1.2 2.1 7.2-0.3z" color="#aac73a"/>
<path d="M156 79.6l-7.2 0.1-1.2 2.3 7.2-0.3z" color="#b5c533"/>
<path d="M148.8 79.7l-7.1 0.1-1.2 2.5 7.1-0.3z" color="#bfc32e"/>
<path d="M141.7 79.8l-7.2 0.1-1.2 2.7 7.2-0.3z" color="#c7c12a"/>
<path d="M134.5 79.9l-7.2 0.1-1.2 2.9 7.2-0.3z" color="#cec028"/>
<path d="M271.8 72.4l-7.2 1.4-1.1-0.3 7.1-1.4z" color="#17bfb6"/>
<path d="M264.6 73.8l-7.1 1.3-1.2-0.3 7.2-1.3z" color="#18bfb6"/>
<path d="M257.5 75.1l-7.2 1.3-1.2-0.3 7.2-1.3z" color="#1abfb5"/>
<path d="M250.3 76.4l-7.1 1-1.2-0.3 7.1-1z" color="#1dc0b3"/>
<path d="M243.2 77.4l-7.2 0.5-1.2-0.1 7.2-0.7z" color="#23c1af"/>
<path d="M236 77.9l-7.2 0.4-1.2 0.1 7.2-0.6z" color="#2ac3a9"/>
<path d="M228.8 78.3l-7.1 0-1.2 0.2 7.1-0.1z" color="#30c5a2"/>
<path d="M221.7 78.3l-7.2-0.3-1.2 0.5 7.2 0z" color="#36c899"/>
<path d="M214.5 78l-7.2-0.2-1.2 0.7 7.2 0z" color="#41ca8d"/>
<path d="M207.3 77.8l-7.1-0.3-1.2 1 7.1 0z" color="#52cc7e"/>
<path d="M200.2 77.5l-7.2-0.1-1.2 1.2 7.2-0.1z" color="#68cd6c"/>
<path d="M193 77.4l-7.2 0-1.2 1.4 7.2-0.2z" color="#81cc58"/>
<path d="M185.8 77.4l-7.1 0.1-1.2 1.6 7.1-0.3z" color="#98c947"/>
<path d="M178.7 77.5l-7.2 0-1.2 1.9 7.2-0.3z" color="#aac73a"/>
<path d="M171.5 77.5l-7.2 0-1.2 2 7.2-0.1z" color="#b9c431"/>
<path d="M164.3 77.5l-7.1-0.2-1.2 2.3 7.1-0.1z" color="#c6c22a"/>
<path d="M157.2 77.3l-7.2-0.1-1.2 2.5 7.2-0.1z" color="#d1bf27"/>
<path d="M150 77.2l-7.2-0.1-1.1 2.7 7.1-0.1z" color="#dbbd29"/>
<path d="M142.8 77.1l-7.1-0.2-1.2 3 7.2-0.1z" color="#e3bc2c"/>
<path d="M135.7 76.9l-7.2-0.1-1.2 3.2 7.2-0.1z" color="#eabb30"/>
<path d="M273 72.8l-7.2 1.3-1.2-0.3 7.2-1.4z" color="#17bfb6"/>
<path d="M265.8 74.1l-7.1 1.4-1.2-0.4 7.1-1.3z" color="#19bfb6"/>
<path d="M258.7 75.5l-7.2 1.2-1.2-0.3 7.2-1.3z" color="#1ac0b4"/>
<path d="M251.5 76.7l-7.2 0.9-1.1-0.2 7.1-1z" color="#1ec0b2"/>
<path d="M244.3 77.6l-7.1 0.4-1.2-0.1 7.2-0.5z" color="#25c2ad"/>
<path d="M237.2 78l-7.2 0.2-1.2 0.1 7.2-0.4z" color="#2cc4a7"/>
<path d="M230 78.2l-7.2-0.2-1.1 0.3 7.1 0z" color="#32c69f"/>
<path d="M222.8 78l-7.1-0.6-1.2 0.6 7.2 0.3z" color="#3ac993"/>
<path d="M215.7 77.4l-7.2-0.4-1.2 0.8 7.2 0.2z" color="#49cb85"/>
<path d="M208.5 77l-7.1-0.5-1.2 1 7.1 0.3z" color="#5fcd73"/>
<path d="M201.4 76.5l-7.2-0.4-1.2 1.3 7.2 0.1z" color="#7acc5e"/>
<path d="M194.2 76.1l-7.2-0.2-1.2 1.5 7.2 0z" color="#97ca48"/>
<path d="M187 75.9l-7.1-0.1-1.2 1.7 7.1-0.1z" color="#b0c636"/>
<path d="M179.9 75.8l-7.2-0.1-1.2 1.8 7.2 0z" color="#c3c22b"/>
<path d="M172.7 75.7l-7.2-0.3-1.2 2.1 7.2 0z" color="#d2bf27"/>
<path d="M165.5 75.4l-7.1-0.4-1.2 2.3 7.1 0.2z" color="#dfbc2a"/>
<path d="M158.4 75l-7.2-0.3-1.2 2.5 7.2 0.1z" color="#eaba31"/>
<path d="M151.2 74.7l-7.2-0.4-1.2 2.8 7.2 0.1z" color="#f3ba39"/>
<path d="M144 74.3l-7.1-0.3-1.2 2.9 7.1 0.2z" color="#fabb3d"/>
<path d="M136.9 74l-7.2-0.4-1.2 3.2 7.2 0.1z" color="#febe3c"/>
<path d="M274.2 73.2l-7.2 1.3-1.2-0.4 7.2-1.3z" color="#17bfb6"/>
<path d="M267 74.5l-7.1 1.3-1.2-0.3 7.1-1.4z" color="#19bfb5"/>
<path d="M259.9 75.8l-7.2 1.2-1.2-0.3 7.2-1.2z" color="#1bc0b4"/>
<path d="M252.7 77l-7.2 0.8-1.2-0.2 7.2-0.9z" color="#1fc0b1"/>
<path d="M245.5 77.8l-7.1 0.3-1.2-0.1 7.1-0.4z" color="#26c2ac"/>
<path d="M238.4 78.1l-7.2 0-1.2 0.1 7.2-0.2z" color="#2dc4a5"/>
<path d="M231.2 78.1l-7.2-0.5-1.2 0.4 7.2 0.2z" color="#34c79b"/>
<path d="M224 77.6l-7.1-0.7-1.2 0.5 7.1 0.6z" color="#3fca8e"/>
<path d="M216.9 76.9l-7.2-0.7-1.2 0.8 7.2 0.4z" color="#54cc7d"/>
<path d="M209.7 76.2l-7.2-0.8-1.1 1.1 7.1 0.5z" color="#6dcd67"/>
<path d="M202.5 75.4l-7.1-0.6-1.2 1.3 7.2 0.4z" color="#8dcb50"/>
<path d="M195.4 74.8l-7.2-0.4-1.2 1.5 7.2 0.2z" color="#adc738"/>
<path d="M188.2 74.4l-7.2-0.3-1.1 1.7 7.1 0.1z" color="#c7c12a"/>
<path d="M181 74.1l-7.1-0.3-1.2 1.9 7.2 0.1z" color="#dabd28"/>
<path d="M173.9 73.8l-7.2-0.5-1.2 2.1 7.2 0.3z" color="#e9bb2f"/>
<path d="M166.7 73.3l-7.1-0.6-1.2 2.3 7.1 0.4z" color="#f5ba3a"/>
<path d="M159.6 72.7l-7.2-0.6-1.2 2.6 7.2 0.3z" color="#fdbd3d"/>
<path d="M152.4 72.1l-7.2-0.6-1.2 2.8 7.2 0.4z" color="#fec338"/>
<path d="M145.2 71.5l-7.1-0.6-1.2 3.1 7.1 0.3z" color="#fec934"/>
<path d="M138.1 70.9l-7.2-0.6-1.2 3.3 7.2 0.4z" color="#fccf30"/>
<path d="M275.4 73.5l-7.2 1.3-1.2-0.3 7.2-1.3z" color="#17bfb6"/>
<path d="M268.2 74.8l-7.1 1.3-1.2-0.3 7.1-1.3z" color="#19bfb5"/>
<path d="M261.1 76.1l-7.2 1.2-1.2-0.3 7.2-1.2z" color="#1bc0b4"/>
<path d="M253.9 77.3l-7.2 0.7-1.2-0.2 7.2-0.8z" color="#20c1b1"/>
<path d="M246.7 78l-7.1 0.2-1.2-0.1 7.1-0.3z" color="#28c2ab"/>
<path d="M239.6 78.2l-7.2-0.1-1.2 0 7.2 0z" color="#2fc5a3"/>
<path d="M232.4 78.1l-7.2-0.7-1.2 0.2 7.2 0.5z" color="#37c898"/>
<path d="M225.2 77.4l-7.1-1-1.2 0.5 7.1 0.7z" color="#46cb88"/>
<path d="M218.1 76.4l-7.2-0.9-1.2 0.7 7.2 0.7z" color="#5dcc75"/>
<path d="M210.9 75.5l-7.2-0.9-1.2 0.8 7.2 0.8z" color="#7bcc5d"/>
<path d="M203.7 74.6l-7.1-0.8-1.2 1 7.1 0.6z" color="#9ec942"/>
<path d="M196.6 73.8l-7.2-0.6-1.2 1.2 7.2 0.4z" color="#bfc32d"/>
<path d="M189.4 73.2l-7.2-0.5-1.2 1.4 7.2 0.3z" color="#dabd28"/>
<path d="M182.2 72.7l-7.1-0.5-1.2 1.6 7.1 0.3z" color="#edba33"/>
<path d="M175.1 72.2l-7.2-0.7-1.2 1.8 7.2 0.5z" color="#fabb3d"/>
<path d="M167.9 71.5l-7.2-0.8-1.1 2 7.1 0.6z" color="#fec239"/>
<path d="M160.7 70.7l-7.1-0.8-1.2 2.2 7.2 0.6z" color="#feca33"/>
<path d="M153.6 69.9l-7.2-0.8-1.2 2.4 7.2 0.6z" color="#fbd22f"/>
<path d="M146.4 69.1l-7.2-0.8-1.1 2.6 7.1 0.6z" color="#f8d92b"/>
<path d="M139.2 68.3l-7.1-0.8-1.2 2.8 7.2 0.6z" color="#f6e028"/>
<path d="M276.6 73.9l-7.2 1.3-1.2-0.4 7.2-1.3z" color="#17bfb6"/>
<path d="M269.4 75.2l-7.2 1.3-1.1-0.4 7.1-1.3z" color="#19bfb5"/>
<path d="M262.2 76.5l-7.1 1.1-1.2-0.3 7.2-1.2z" color="#1cc0b4"/>
<path d="M255.1 77.6l-7.2 0.7-1.2-0.3 7.2-0.7z" color="#21c1b0"/>
<path d="M247.9 78.3l-7.2 0.1-1.1-0.2 7.1-0.2z" color="#29c3aa"/>
<path d="M240.7 78.4l-7.1-0.2-1.2-0.1 7.2 0.1z" color="#30c5a1"/>
<path d="M233.6 78.2l-7.2-0.8-1.2 0 7.2 0.7z" color="#39c895"/>
<path d="M226.4 77.4l-7.1-1.1-1.2 0.1 7.1 1z" color="#4acb84"/>
<path d="M219.3 76.3l-7.2-1-1.2 0.2 7.2 0.9z" color="#65cd6e"/>
<path d="M212.1 75.3l-7.2-1.1-1.2 0.4 7.2 0.9z" color="#86cb55"/>
<path d="M204.9 74.2l-7.1-0.9-1.2 0.5 7.1 0.8z" color="#aac73a"/>
<path d="M197.8 73.3l-7.2-0.7-1.2 0.6 7.2 0.6z" color="#cdc028"/>
<path d="M190.6 72.6l-7.2-0.6-1.2 0.7 7.2 0.5z" color="#e7bb2e"/>
<path d="M183.4 72l-7.1-0.7-1.2 0.9 7.1 0.5z" color="#f8ba3d"/>
<path d="M176.3 71.3l-7.2-0.8-1.2 1 7.2 0.7z" color="#fec239"/>
<path d="M169.1 70.5l-7.2-0.9-1.2 1.1 7.2 0.8z" color="#fdcc32"/>
<path d="M161.9 69.6l-7.1-0.9-1.2 1.2 7.1 0.8z" color="#fad52d"/>
<path d="M154.8 68.7l-7.2-0.9-1.2 1.3 7.2 0.8z" color="#f6de29"/>
<path d="M147.6 67.8l-7.2-0.9-1.2 1.4 7.2 0.8z" color="#f5e526"/>
<path d="M140.4 66.9l-7.1-0.9-1.2 1.5 7.1 0.8z" color="#f5ec22"/>
<path d="M277.8 74.2l-7.2 1.3-1.2-0.3 7.2-1.3z" color="#17bfb6"/>
<path d="M270.6 75.5l-7.2 1.3-1.2-0.3 7.2-1.3z" color="#19bfb5"/>
<path d="M263.4 76.8l-7.1 1.1-1.2-0.3 7.1-1.1z" color="#1cc0b3"/>
<path d="M256.3 77.9l-7.2 0.7-1.2-0.3 7.2-0.7z" color="#21c1b0"/>
<path d="M249.1 78.6l-7.2 0-1.2-0.2 7.2-0.1z" color="#29c3a9"/>
<path d="M241.9 78.6l-7.1-0.3-1.2-0.1 7.1 0.2z" color="#31c6a0"/>
<path d="M234.8 78.3l-7.2-0.8-1.2-0.1 7.2 0.8z" color="#3bc993"/>
<path d="M227.6 77.5l-7.2-1.3-1.1 0.1 7.1 1.1z" color="#4ecc81"/>
<path d="M220.4 76.2l-7.1-1.2-1.2 0.3 7.2 1z" color="#6bcd69"/>
<path d="M213.3 75l-7.2-1.2-1.2 0.4 7.2 1.1z" color="#8ecb4e"/>
<path d="M206.1 73.8l-7.2-1-1.1 0.5 7.1 0.9z" color="#b3c534"/>
<path d="M198.9 72.8l-7.1-0.8-1.2 0.6 7.2 0.7z" color="#d6be28"/>
<path d="M191.8 72l-7.2-0.7-1.2 0.7 7.2 0.6z" color="#f0ba36"/>
<path d="M184.6 71.3l-7.1-0.8-1.2 0.8 7.1 0.7z" color="#febe3c"/>
<path d="M177.5 70.5l-7.2-0.9-1.2 0.9 7.2 0.8z" color="#fec934"/>
<path d="M170.3 69.6l-7.2-1-1.2 1 7.2 0.9z" color="#fbd32e"/>
<path d="M163.1 68.6l-7.1-1.1-1.2 1.2 7.1 0.9z" color="#f6de29"/>
<path d="M156 67.5l-7.2-1-1.2 1.3 7.2 0.9z" color="#f5e725"/>
<path d="M148.8 66.5l-7.2-1.1-1.2 1.5 7.2 0.9z" color="#f5ee21"/>
<path d="M141.6 65.4l-7.1-1-1.2 1.6 7.1 0.9z" color="#f9f618"/>
<path d="M279.1 74.6l-7.2 1.3-1.3-0.4 7.2-1.3z" color="#17bfb6"/>
<path d="M271.9 75.9l-7.2 1.3-1.3-0.4 7.2-1.3z" color="#1abfb5"/>
<path d="M264.7 77.2l-7.1 1.1-1.3-0.4 7.1-1.1z" color="#1cc0b3"/>
<path d="M257.6 78.3l-7.2 0.7-1.3-0.4 7.2-0.7z" color="#22c1b0"/>
<path d="M250.4 79l-7.2 0-1.3-0.4 7.2 0z" color="#2ac3a9"/>
<path d="M243.2 79l-7.1-0.3-1.3-0.4 7.1 0.3z" color="#31c69f"/>
<path d="M236.1 78.7l-7.2-0.9-1.3-0.3 7.2 0.8z" color="#3cc992"/>
<path d="M228.9 77.8l-7.1-1.2-1.4-0.4 7.2 1.3z" color="#50cc7f"/>
<path d="M221.8 76.6l-7.2-1.2-1.3-0.4 7.1 1.2z" color="#6ecd67"/>
<path d="M214.6 75.4l-7.2-1.2-1.3-0.4 7.2 1.2z" color="#92ca4b"/>
<path d="M207.4 74.2l-7.1-1-1.4-0.4 7.2 1z" color="#b8c431"/>
<path d="M200.3 73.2l-7.2-0.8-1.3-0.4 7.1 0.8z" color="#dbbd28"/>
<path d="M193.1 72.4l-7.2-0.7-1.3-0.4 7.2 0.7z" color="#f4ba39"/>
<path d="M185.9 71.7l-7.1-0.8-1.3-0.4 7.1 0.8z" color="#fec13a"/>
<path d="M178.8 70.9l-7.2-0.9-1.3-0.4 7.2 0.9z" color="#fdcc32"/>
<path d="M171.6 70l-7.2-1.1-1.3-0.3 7.2 1z" color="#f9d72c"/>
<path d="M164.4 68.9l-7.1-1-1.3-0.4 7.1 1.1z" color="#f5e228"/>
<path d="M157.3 67.9l-7.2-1-1.3-0.4 7.2 1z" color="#f5eb23"/>
<path d="M150.1 66.9l-7.2-1.1-1.3-0.4 7.2 1.1z" color="#f7f31c"/>
<path d="M142.9 65.8l-7.1-1-1.3-0.4 7.1 1z" color="#fcfb13"/>
<path d="M280.4 75l-7.2 1.3-1.3-0.4 7.2-1.3z" color="#17bfb6"/>
<path d="M273.2 76.3l-7.1 1.3-1.4-0.4 7.2-1.3z" color="#1abfb5"/>
<path d="M266.1 77.6l-7.2 1.1-1.3-0.4 7.1-1.1z" color="#1cc0b3"/>
<path d="M258.9 78.7l-7.2 0.7-1.3-0.4 7.2-0.7z" color="#22c1b0"/>
<path d="M251.7 79.4l-7.1 0-1.4-0.4 7.2 0z" color="#2ac3a9"/>
<path d="M244.6 79.4l-7.2-0.3-1.3-0.4 7.1 0.3z" color="#31c69f"/>
<path d="M237.4 79.1l-7.2-0.9-1.3-0.4 7.2 0.9z" color="#3cc992"/>
<path d="M230.2 78.2l-7.1-1.2-1.3-0.4 7.1 1.2z" color="#50cc7f"/>
<path d="M223.1 77l-7.2-1.2-1.3-0.4 7.2 1.2z" color="#6ecd67"/>
<path d="M215.9 75.8l-7.2-1.2-1.3-0.4 7.2 1.2z" color="#92ca4b"/>
<path d="M208.7 74.6l-7.1-1-1.3-0.4 7.1 1z" color="#b8c431"/>
<path d="M201.6 73.6l-7.2-0.8-1.3-0.4 7.2 0.8z" color="#dbbd28"/>
<path d="M194.4 72.8l-7.2-0.7-1.3-0.4 7.2 0.7z" color="#f4ba39"/>
<path d="M187.2 72.1l-7.1-0.8-1.3-0.4 7.1 0.8z" color="#fec13a"/>
<path d="M180.1 71.3l-7.2-0.9-1.3-0.4 7.2 0.9z" color="#fdcc32"/>
<path d="M172.9 70.4l-7.2-1.1-1.3-0.4 7.2 1.1z" color="#f9d72c"/>
<path d="M165.7 69.3l-7.1-1-1.3-0.4 7.1 1z" color="#f5e228"/>
<path d="M158.6 68.3l-7.2-1.1-1.3-0.3 7.2 1z" color="#f5eb23"/>
<path d="M151.4 67.2l-7.2-1-1.3-0.4 7.2 1.1z" color="#f7f31c"/>
<path d="M144.2 66.2l-7.1-1-1.3-0.4 7.1 1z" color="#fcfb13"/>
<path d="M281.7 75.4l-7.2 1.3-1.3-0.4 7.2-1.3z" color="#17bfb6"/>
<path d="M274.5 76.7l-7.1 1.3-1.3-0.4 7.1-1.3z" color="#1abfb5"/>
<path d="M267.4 78l-7.2 1.1-1.3-0.4 7.2-1.1z" color="#1cc0b3"/>
<path d="M260.2 79.1l-7.2 0.7-1.3-0.4 7.2-0.7z" color="#22c1b0"/>
<path d="M253 79.8l-7.1 0-1.3-0.4 7.1 0z" color="#2ac3a9"/>
<path d="M245.9 79.8l-7.2-0.3-1.3-0.4 7.2 0.3z" color="#31c69f"/>
<path d="M238.7 79.5l-7.2-0.9-1.3-0.4 7.2 0.9z" color="#3cc992"/>
<path d="M231.5 78.6l-7.1-1.2-1.3-0.4 7.1 1.2z" color="#50cc7f"/>
<path d="M224.4 77.4l-7.2-1.2-1.3-0.4 7.2 1.2z" color="#6ecd67"/>
<path d="M217.2 76.2l-7.2-1.2-1.3-0.4 7.2 1.2z" color="#92ca4b"/>
<path d="M210 75l-7.1-1-1.3-0.4 7.1 1z" color="#b8c431"/>
<path d="M202.9 74l-7.2-0.8-1.3-0.4 7.2 0.8z" color="#dbbd28"/>
<path d="M195.7 73.2l-7.2-0.7-1.3-0.4 7.2 0.7z" color="#f4ba39"/>
<path d="M188.5 72.5l-7.1-0.8-1.3-0.4 7.1 0.8z" color="#fec13a"/>
<path d="M181.4 71.7l-7.2-0.9-1.3-0.4 7.2 0.9z" color="#fdcc32"/>
<path d="M174.2 70.8l-7.1-1.1-1.4-0.4 7.2 1.1z" color="#f9d72c"/>
<path d="M167.1 69.7l-7.2-1-1.3-0.4 7.1 1z" color="#f5e228"/>
<path d="M159.9 68.7l-7.2-1.1-1.3-0.4 7.2 1.1z" color="#f5eb23"/>
<path d="M152.7 67.6l-7.1-1-1.4-0.4 7.2 1z" color="#f7f31c"/>
<path d="M145.6 66.6l-7.2-1-1.3-0.4 7.1 1z" color="#fcfb13"/>
<path d="M282 75.5l-7.2 1.3-0.3-0.1 7.2-1.3z" color="#17bfb6"/>
<path d="M274.8 76.8l-7.2 1.3-0.2-0.1 7.1-1.3z" color="#19bfb5"/>
<path d="M267.6 78.1l-7.1 1.2-0.3-0.2 7.2-1.1z" color="#1cc0b4"/>
<path d="M260.5 79.3l-7.2 0.8-0.3-0.3 7.2-0.7z" color="#21c1b0"/>
<path d="M253.3 80.1l-7.2 0.2-0.2-0.5 7.1 0z" color="#29c3aa"/>
<path d="M246.1 80.3l-7.1 0-0.3-0.8 7.2 0.3z" color="#30c5a1"/>
<path d="M239 80.3l-7.2-0.5-0.3-1.2 7.2 0.9z" color="#39c895"/>
<path d="M231.8 79.8l-7.2-0.9-0.2-1.5 7.1 1.2z" color="#4acb84"/>
<path d="M224.6 78.9l-7.1-0.8-0.3-1.9 7.2 1.2z" color="#65cd6e"/>
<path d="M217.5 78.1l-7.2-0.8-0.3-2.3 7.2 1.2z" color="#86cb55"/>
<path d="M210.3 77.3l-7.2-0.6-0.2-2.7 7.1 1z" color="#aac73a"/>
<path d="M203.1 76.7l-7.1-0.5-0.3-3 7.2 0.8z" color="#cdc028"/>
<path d="M196 76.2l-7.2-0.4-0.3-3.3 7.2 0.7z" color="#e7bb2e"/>
<path d="M188.8 75.8l-7.2-0.4-0.2-3.7 7.1 0.8z" color="#f8ba3d"/>
<path d="M181.6 75.4l-7.1-0.6-0.3-4 7.2 0.9z" color="#fec239"/>
<path d="M174.5 74.8l-7.2-0.7-0.2-4.4 7.1 1.1z" color="#fdcc32"/>
<path d="M167.3 74.1l-7.2-0.6-0.2-4.8 7.2 1z" color="#fad52d"/>
<path d="M160.1 73.5l-7.1-0.7-0.3-5.2 7.2 1.1z" color="#f6de29"/>
<path d="M153 72.8l-7.2-0.7-0.2-5.5 7.1 1z" color="#f5e526"/>
<path d="M145.8 72.1l-7.1-0.6-0.3-5.9 7.2 1z" color="#f5ec22"/>
<path d="M282.2 75.6l-7.2 1.3-0.2-0.1 7.2-1.3z" color="#17bfb6"/>
<path d="M275 76.9l-7.1 1.4-0.3-0.2 7.2-1.3z" color="#19bfb5"/>
<path d="M267.9 78.3l-7.2 1.2-0.2-0.2 7.1-1.2z" color="#1bc0b4"/>
<path d="M260.7 79.5l-7.1 0.9-0.3-0.3 7.2-0.8z" color="#1fc0b1"/>
<path d="M253.6 80.4l-7.2 0.5-0.3-0.6 7.2-0.2z" color="#26c2ac"/>
<path d="M246.4 80.9l-7.2 0.2-0.2-0.8 7.1 0z" color="#2ec4a5"/>
<path d="M239.2 81.1l-7.1-0.2-0.3-1.1 7.2 0.5z" color="#34c79b"/>
<path d="M232.1 80.9l-7.2-0.4-0.3-1.6 7.2 0.9z" color="#3fca8e"/>
<path d="M224.9 80.5l-7.2-0.4-0.2-2 7.1 0.8z" color="#54cc7c"/>
<path d="M217.7 80.1l-7.1-0.4-0.3-2.4 7.2 0.8z" color="#6ecd67"/>
<path d="M210.6 79.7l-7.2-0.4-0.3-2.6 7.2 0.6z" color="#8dcb4f"/>
<path d="M203.4 79.3l-7.2-0.1-0.2-3 7.1 0.5z" color="#adc638"/>
<path d="M196.2 79.2l-7.1 0-0.3-3.4 7.2 0.4z" color="#c8c129"/>
<path d="M189.1 79.2l-7.2-0.1-0.3-3.7 7.2 0.4z" color="#dbbd29"/>
<path d="M181.9 79.1l-7.2-0.3-0.2-4 7.1 0.6z" color="#e9bb30"/>
<path d="M174.7 78.8l-7.1-0.3-0.3-4.4 7.2 0.7z" color="#f5ba3b"/>
<path d="M167.6 78.5l-7.2-0.3-0.3-4.7 7.2 0.6z" color="#febd3c"/>
<path d="M160.4 78.2l-7.2-0.3-0.2-5.1 7.1 0.7z" color="#fec438"/>
<path d="M153.2 77.9l-7.1-0.3-0.3-5.5 7.2 0.7z" color="#feca33"/>
<path d="M146.1 77.6l-7.2-0.3-0.2-5.8 7.1 0.6z" color="#fccf30"/>
<path d="M282.5 75.7l-7.2 1.3-0.3-0.1 7.2-1.3z" color="#17bfb6"/>
<path d="M275.3 77l-7.2 1.4-0.2-0.1 7.1-1.4z" color="#18bfb6"/>
<path d="M268.1 78.4l-7.1 1.3-0.3-0.2 7.2-1.2z" color="#1ac0b5"/>
<path d="M261 79.7l-7.2 1-0.2-0.3 7.1-0.9z" color="#1ec0b2"/>
<path d="M253.8 80.7l-7.1 0.7-0.3-0.5 7.2-0.5z" color="#24c1ae"/>
<path d="M246.7 81.4l-7.2 0.5-0.3-0.8 7.2-0.2z" color="#2bc3a8"/>
<path d="M239.5 81.9l-7.2 0.2-0.2-1.2 7.1 0.2z" color="#31c5a1"/>
<path d="M232.3 82.1l-7.1-0.1-0.3-1.5 7.2 0.4z" color="#38c896"/>
<path d="M225.2 82l-7.2 0-0.3-1.9 7.2 0.4z" color="#44cb89"/>
<path d="M218 82l-7.2 0-0.2-2.3 7.1 0.4z" color="#58cc79"/>
<path d="M210.8 82l-7.1 0-0.3-2.7 7.2 0.4z" color="#6fcd66"/>
<path d="M203.7 82l-7.2 0.2-0.3-3 7.2 0.1z" color="#8acb51"/>
<path d="M196.5 82.2l-7.2 0.3-0.2-3.3 7.1 0z" color="#a2c83f"/>
<path d="M189.3 82.5l-7.1 0.2-0.3-3.6 7.2 0.1z" color="#b5c533"/>
<path d="M182.2 82.7l-7.2 0.2-0.3-4.1 7.2 0.3z" color="#c4c22b"/>
<path d="M175 82.9l-7.2 0-0.2-4.4 7.1 0.3z" color="#d1bf27"/>
<path d="M167.8 82.9l-7.1 0.1-0.3-4.8 7.2 0.3z" color="#dcbd29"/>
<path d="M160.7 83l-7.2 0.1-0.3-5.2 7.2 0.3z" color="#e6bb2d"/>
<path d="M153.5 83.1l-7.2 0-0.2-5.5 7.1 0.3z" color="#edba34"/>
<path d="M146.3 83.1l-7.1 0.1-0.3-5.9 7.2 0.3z" color="#f4ba39"/>
<path d="M282.7 75.8l-7.1 1.4-0.3-0.2 7.2-1.3z" color="#17bfb7"/>
<path d="M275.6 77.2l-7.2 1.4-0.3-0.2 7.2-1.4z" color="#18bfb6"/>
<path d="M268.4 78.6l-7.2 1.3-0.2-0.2 7.1-1.3z" color="#19bfb5"/>
<path d="M261.2 79.9l-7.1 1.2-0.3-0.4 7.2-1z" color="#1cc0b3"/>
<path d="M254.1 81.1l-7.2 0.8-0.2-0.5 7.1-0.7z" color="#21c1b0"/>
<path d="M246.9 81.9l-7.2 0.8-0.2-0.8 7.2-0.5z" color="#27c2ac"/>
<path d="M239.7 82.7l-7.1 0.5-0.3-1.1 7.2-0.2z" color="#2dc4a6"/>
<path d="M232.6 83.2l-7.2 0.3-0.2-1.5 7.1 0.1z" color="#32c69f"/>
<path d="M225.4 83.5l-7.1 0.4-0.3-1.9 7.2 0z" color="#39c895"/>
<path d="M218.3 83.9l-7.2 0.4-0.3-2.3 7.2 0z" color="#44ca8a"/>
<path d="M211.1 84.3l-7.2 0.4-0.2-2.7 7.1 0z" color="#54cc7d"/>
<path d="M203.9 84.7l-7.1 0.6-0.3-3.1 7.2-0.2z" color="#66cd6d"/>
<path d="M196.8 85.3l-7.2 0.6-0.3-3.4 7.2-0.3z" color="#79cc5e"/>
<path d="M189.6 85.9l-7.2 0.5-0.2-3.7 7.1-0.2z" color="#88cb53"/>
<path d="M182.4 86.4l-7.1 0.5-0.3-4 7.2-0.2z" color="#96ca49"/>
<path d="M175.3 86.9l-7.2 0.4-0.3-4.4 7.2 0z" color="#a2c840"/>
<path d="M168.1 87.3l-7.2 0.5-0.2-4.8 7.1-0.1z" color="#adc638"/>
<path d="M160.9 87.8l-7.1 0.4-0.3-5.1 7.2-0.1z" color="#b6c532"/>
<path d="M153.8 88.2l-7.2 0.4-0.3-5.5 7.2 0z" color="#bec32e"/>
<path d="M146.6 88.6l-7.2 0.5-0.2-5.9 7.1-0.1z" color="#c5c22a"/>
</g>
<g class="p">
<path d="M283 75.8l-7.2 1.5-0.2-0.1 7.1-1.4z" fill="#66d5cf" stroke="#17bfb7"/>
<path d="M275.8 77.3l-7.1 1.4-0.3-0.1 7.2-1.4z" fill="#66d5cf" stroke="#17bfb6"/>
<path d="M268.7 78.7l-7.2 1.4-0.3-0.2 7.2-1.3z" fill="#67d5cf" stroke="#18bfb6"/>
<path d="M261.5 80.1l-7.2 1.3-0.2-0.3 7.1-1.2z" fill="#68d5ce" stroke="#1ac0b4"/>
<path d="M254.3 81.4l-7.1 1.1-0.3-0.6 7.2-0.8z" fill="#6bd6cc" stroke="#1ec0b2"/>
<path d="M247.2 82.5l-7.2 1-0.3-0.8 7.2-0.8z" fill="#6ed6ca" stroke="#23c1af"/>
<path d="M240 83.5l-7.2 0.8-0.2-1.1 7.1-0.5z" fill="#71d7c8" stroke="#28c2ab"/>
<path d="M232.8 84.3l-7.1 0.8-0.3-1.6 7.2-0.3z" fill="#74d8c4" stroke="#2cc4a6"/>
<path d="M225.7 85.1l-7.2 0.8-0.2-2 7.1-0.4z" fill="#77d9c0" stroke="#31c6a0"/>
<path d="M218.5 85.9l-7.1 0.7-0.3-2.3 7.2-0.4z" fill="#7adabc" stroke="#36c799"/>
<path d="M211.4 86.6l-7.2 0.8-0.3-2.7 7.2-0.4z" fill="#7fdcb6" stroke="#3dc991"/>
<path d="M204.2 87.4l-7.2 0.9-0.2-3 7.1-0.6z" fill="#85ddb0" stroke="#47cb87"/>
<path d="M197 88.3l-7.1 0.9-0.3-3.3 7.2-0.6z" fill="#8dddaa" stroke="#52cc7e"/>
<path d="M189.9 89.2l-7.2 0.9-0.3-3.7 7.2-0.5z" fill="#93dea5" stroke="#5bcc76"/>
<path d="M182.7 90.1l-7.2 0.8-0.2-4 7.1-0.5z" fill="#98dea0" stroke="#64cd6f"/>
<path d="M175.5 90.9l-7.1 0.8-0.3-4.4 7.2-0.4z" fill="#9ede9b" stroke="#6ccd68"/>
<path d="M168.4 91.7l-7.2 0.8-0.3-4.7 7.2-0.5z" fill="#a3de97" stroke="#74cc62"/>
<path d="M161.2 92.5l-7.2 0.8-0.2-5.1 7.1-0.4z" fill="#a8dd94" stroke="#7ccc5c"/>
<path d="M154 93.3l-7.1 0.9-0.3-5.6 7.2-0.4z" fill="#addd91" stroke="#82cc58"/>
<path d="M146.9 94.2l-7.2 0.8-0.3-5.9 7.2-0.5z" fill="#b0dd8e" stroke="#88cb53"/>
<path d="M283.3 75.9l-7.1 1.5-0.4-0.1 7.2-1.5z" fill="#65d5cf" stroke="#16bfb7"/>
<path d="M276.2 77.4l-7.2 1.4-0.3-0.1 7.1-1.4z" fill="#66d5cf" stroke="#17bfb6"/>
<path d="M269 78.8l-7.2 1.4-0.3-0.1 7.2-1.4z" fill="#66d5cf" stroke="#18bfb6"/>
<path d="M261.8 80.2l-7.1 1.3-0.4-0.1 7.2-1.3z" fill="#67d5ce" stroke="#19bfb5"/>
<path d="M254.7 81.5l-7.2 1.2-0.3-0.2 7.1-1.1z" fill="#69d5cd" stroke="#1cc0b3"/>
<path d="M247.5 82.7l-7.2 1.1-0.3-0.3 7.2-1z" fill="#6bd6cc" stroke="#1fc1b1"/>
<path d="M240.3 83.8l-7.1 1-0.4-0.5 7.2-0.8z" fill="#6ed6ca" stroke="#24c1af"/>
<path d="M233.2 84.8l-7.2 1-0.3-0.7 7.1-0.8z" fill="#71d7c8" stroke="#28c2ab"/>
<path d="M226 85.8l-7.2 0.9-0.3-0.8 7.2-0.8z" fill="#74d8c5" stroke="#2cc4a7"/>
<path d="M218.8 86.7l-7.1 0.9-0.3-1 7.1-0.7z" fill="#76d9c2" stroke="#2fc5a3"/>
<path d="M211.7 87.6l-7.2 1-0.3-1.2 7.2-0.8z" fill="#78dabf" stroke="#33c69d"/>
<path d="M204.5 88.6l-7.2 0.9-0.3-1.2 7.2-0.9z" fill="#7bdbbb" stroke="#37c897"/>
<path d="M197.3 89.5l-7.1 1-0.3-1.3 7.1-0.9z" fill="#7edbb7" stroke="#3cc992"/>
<path d="M190.2 90.5l-7.2 1-0.3-1.4 7.2-0.9z" fill="#81dcb4" stroke="#40ca8d"/>
<path d="M183 91.5l-7.2 1-0.3-1.6 7.2-0.8z" fill="#85ddb1" stroke="#46cb88"/>
<path d="M175.8 92.5l-7.1 0.9-0.3-1.7 7.1-0.8z" fill="#88ddae" stroke="#4bcb84"/>
<path d="M168.7 93.4l-7.2 0.9-0.3-1.8 7.2-0.8z" fill="#8bddab" stroke="#50cc80"/>
<path d="M161.5 94.3l-7.1 1-0.4-2 7.2-0.8z" fill="#8edda9" stroke="#54cc7c"/>
<path d="M154.4 95.3l-7.2 0.9-0.3-2 7.1-0.9z" fill="#91dea6" stroke="#59cc79"/>
<path d="M147.2 96.2l-7.2 0.9-0.3-2.1 7.2-0.8z" fill="#94dea4" stroke="#5dcc75"/>
<path d="M283.6 76l-7.1 1.5-0.3-0.1 7.1-1.5z" fill="#65d5cf" stroke="#16bfb7"/>
<path d="M276.5 77.5l-7.2 1.4-0.3-0.1 7.2-1.4z" fill="#66d5cf" stroke="#17bfb6"/>
<path d="M269.3 78.9l-7.2 1.5-0.3-0.2 7.2-1.4z" fill="#66d5cf" stroke="#18bfb6"/>
<path d="M262.1 80.4l-7.1 1.3-0.3-0.2 7.1-1.3z" fill="#67d5ce" stroke="#19bfb5"/>
<path d="M255 81.7l-7.2 1.3-0.3-0.3 7.2-1.2z" fill="#69d5ce" stroke="#1bc0b4"/>
<path d="M247.8 83l-7.1 1.2-0.4-0.4 7.2-1.1z" fill="#6ad6cc" stroke="#1ec0b2"/>
<path d="M240.7 84.2l-7.2 1.1-0.3-0.5 7.1-1z" fill="#6cd6cb" stroke="#21c1b0"/>
<path d="M233.5 85.3l-7.2 1.1-0.3-0.6 7.2-1z" fill="#6fd6c9" stroke="#25c2ae"/>
<path d="M226.3 86.4l-7.1 1.1-0.4-0.8 7.2-0.9z" fill="#71d7c7" stroke="#28c2ab"/>
<path d="M219.2 87.5l-7.2 1.1-0.3-1 7.1-0.9z" fill="#73d8c5" stroke="#2bc3a7"/>
<path d="M212 88.6l-7.2 1-0.3-1 7.2-1z" fill="#75d8c3" stroke="#2ec5a4"/>
<path d="M204.8 89.6l-7.1 1.1-0.4-1.2 7.2-0.9z" fill="#77d9c0" stroke="#31c6a0"/>
<path d="M197.7 90.7l-7.2 1.1-0.3-1.3 7.1-1z" fill="#79dabd" stroke="#34c79b"/>
<path d="M190.5 91.8l-7.2 1.1-0.3-1.4 7.2-1z" fill="#7bdbbb" stroke="#36c898"/>
<path d="M183.3 92.9l-7.1 1.1-0.4-1.5 7.2-1z" fill="#7cdbb9" stroke="#39c995"/>
<path d="M176.2 94l-7.2 1-0.3-1.6 7.1-0.9z" fill="#7edbb7" stroke="#3cc991"/>
<path d="M169 95l-7.2 1.1-0.3-1.8 7.2-0.9z" fill="#80dcb5" stroke="#3fca8e"/>
<path d="M161.8 96.1l-7.1 1.1-0.3-1.9 7.1-1z" fill="#82dcb3" stroke="#42ca8b"/>
<path d="M154.7 97.2l-7.2 1-0.3-2 7.2-0.9z" fill="#84dcb1" stroke="#45cb89"/>
<path d="M147.5 98.2l-7.2 1.1-0.3-2.2 7.2-0.9z" fill="#86ddaf" stroke="#48cb86"/>
<path d="M284 76.1l-7.2 1.5-0.3-0.1 7.1-1.5z" fill="#65d5cf" stroke="#16bfb7"/>
<path d="M276.8 77.6l-7.2 1.5-0.3-0.2 7.2-1.4z" fill="#66d5cf" stroke="#17bfb7"/>
<path d="M269.6 79.1l-7.1 1.4-0.4-0.1 7.2-1.5z" fill="#66d5cf" stroke="#17bfb6"/>
<path d="M262.5 80.5l-7.2 1.4-0.3-0.2 7.1-1.3z" fill="#67d5cf" stroke="#18bfb6"/>
<path d="M255.3 81.9l-7.2 1.3-0.3-0.2 7.2-1.3z" fill="#68d5ce" stroke="#1ac0b5"/>
<path d="M248.1 83.2l-7.1 1.3-0.3-0.3 7.1-1.2z" fill="#69d5cd" stroke="#1cc0b4"/>
<path d="M241 84.5l-7.2 1.3-0.3-0.5 7.2-1.1z" fill="#6bd6cc" stroke="#1ec0b2"/>
<path d="M233.8 85.8l-7.2 1.2-0.3-0.6 7.2-1.1z" fill="#6cd6cb" stroke="#21c1b0"/>
<path d="M226.6 87l-7.1 1.2-0.3-0.7 7.1-1.1z" fill="#6fd6ca" stroke="#24c1ae"/>
<path d="M219.5 88.2l-7.2 1.3-0.3-0.9 7.2-1.1z" fill="#70d7c8" stroke="#27c2ac"/>
<path d="M212.3 89.5l-7.2 1.2-0.3-1.1 7.2-1z" fill="#72d7c7" stroke="#29c3a9"/>
<path d="M205.1 90.7l-7.1 1.2-0.3-1.2 7.1-1.1z" fill="#74d8c5" stroke="#2cc4a7"/>
<path d="M198 91.9l-7.2 1.2-0.3-1.3 7.2-1.1z" fill="#75d8c3" stroke="#2ec4a4"/>
<path d="M190.8 93.1l-7.1 1.2-0.4-1.4 7.2-1.1z" fill="#76d9c1" stroke="#30c5a2"/>
<path d="M183.7 94.3l-7.2 1.2-0.3-1.5 7.1-1.1z" fill="#77d9c0" stroke="#31c69f"/>
<path d="M176.5 95.5l-7.2 1.2-0.3-1.7 7.2-1z" fill="#78dabe" stroke="#33c69d"/>
<path d="M169.3 96.7l-7.1 1.2-0.4-1.8 7.2-1.1z" fill="#79dabd" stroke="#34c79b"/>
<path d="M162.2 97.9l-7.2 1.2-0.3-1.9 7.1-1.1z" fill="#7adabc" stroke="#36c899"/>
<path d="M155 99.1l-7.2 1.1-0.3-2 7.2-1z" fill="#7bdbba" stroke="#37c897"/>
<path d="M147.8 100.2l-7.1 1.2-0.4-2.1 7.2-1.1z" fill="#7cdbb9" stroke="#39c895"/>
<path d="M284.3 76.2l-7.2 1.5-0.3-0.1 7.2-1.5z" fill="#65d5cf" stroke="#16bfb7"/>
<path d="M277.1 77.7l-7.1 1.5-0.4-0.1 7.2-1.5z" fill="#66d5cf" stroke="#17bfb7"/>
<path d="M270 79.2l-7.2 1.4-0.3-0.1 7.1-1.4z" fill="#66d5cf" stroke="#17bfb6"/>
<path d="M262.8 80.6l-7.2 1.5-0.3-0.2 7.2-1.4z" fill="#66d5cf" stroke="#18bfb6"/>
<path d="M255.6 82.1l-7.1 1.4-0.4-0.3 7.2-1.3z" fill="#67d5ce" stroke="#19bfb5"/>
<path d="M248.5 83.5l-7.2 1.4-0.3-0.4 7.1-1.3z" fill="#68d5ce" stroke="#1ac0b5"/>
<path d="M241.3 84.9l-7.2 1.4-0.3-0.5 7.2-1.3z" fill="#69d5cd" stroke="#1bc0b4"/>
<path d="M234.1 86.3l-7.1 1.3-0.4-0.6 7.2-1.2z" fill="#6ad5cd" stroke="#1dc0b3"/>
<path d="M227 87.6l-7.2 1.4-0.3-0.8 7.1-1.2z" fill="#6bd6cc" stroke="#1fc0b2"/>
<path d="M219.8 89l-7.2 1.3-0.3-0.8 7.2-1.3z" fill="#6dd6cb" stroke="#21c1b0"/>
<path d="M212.6 90.3l-7.1 1.4-0.4-1 7.2-1.2z" fill="#6ed6ca" stroke="#23c1af"/>
<path d="M205.5 91.7l-7.2 1.3-0.3-1.1 7.1-1.2z" fill="#6fd7c9" stroke="#25c2ad"/>
<path d="M198.3 93l-7.1 1.4-0.4-1.3 7.2-1.2z" fill="#70d7c8" stroke="#27c2ac"/>
<path d="M191.2 94.4l-7.2 1.3-0.3-1.4 7.1-1.2z" fill="#72d7c7" stroke="#29c3aa"/>
<path d="M184 95.7l-7.2 1.3-0.3-1.5 7.2-1.2z" fill="#72d7c6" stroke="#2ac3a9"/>
<path d="M176.8 97l-7.1 1.4-0.4-1.7 7.2-1.2z" fill="#73d8c5" stroke="#2bc3a7"/>
<path d="M169.7 98.4l-7.2 1.3-0.3-1.8 7.1-1.2z" fill="#74d8c4" stroke="#2dc4a6"/>
<path d="M162.5 99.7l-7.2 1.3-0.3-1.9 7.2-1.2z" fill="#75d8c3" stroke="#2dc4a5"/>
<path d="M155.3 101l-7.1 1.3-0.4-2.1 7.2-1.1z" fill="#75d8c3" stroke="#2ec5a4"/>
<path d="M148.2 102.3l-7.2 1.4-0.3-2.3 7.1-1.2z" fill="#76d9c2" stroke="#2fc5a2"/>
<path d="M284.6 76.3l-7.1 1.5-0.4-0.1 7.2-1.5z" fill="#65d5cf" stroke="#16bfb7"/>
<path d="M277.5 77.8l-7.2 1.5-0.3-0.1 7.1-1.5z" fill="#65d5cf" stroke="#16bfb7"/>
<path d="M270.3 79.3l-7.2 1.5-0.3-0.2 7.2-1.4z" fill="#66d5cf" stroke="#17bfb7"/>
<path d="M263.1 80.8l-7.1 1.5-0.4-0.2 7.2-1.5z" fill="#66d5cf" stroke="#17bfb6"/>
<path d="M256 82.3l-7.2 1.5-0.3-0.3 7.1-1.4z" fill="#66d5cf" stroke="#17bfb6"/>
<path d="M248.8 83.8l-7.2 1.5-0.3-0.4 7.2-1.4z" fill="#66d5cf" stroke="#18bfb6"/>
<path d="M241.6 85.3l-7.1 1.4-0.4-0.4 7.2-1.4z" fill="#67d5cf" stroke="#19bfb6"/>
<path d="M234.5 86.7l-7.2 1.5-0.3-0.6 7.1-1.3z" fill="#67d5ce" stroke="#19bfb5"/>
<path d="M227.3 88.2l-7.2 1.5-0.3-0.7 7.2-1.4z" fill="#68d5ce" stroke="#1ac0b5"/>
<path d="M220.1 89.7l-7.1 1.5-0.4-0.9 7.2-1.3z" fill="#68d5ce" stroke="#1bc0b4"/>
<path d="M213 91.2l-7.2 1.4-0.3-0.9 7.1-1.4z" fill="#69d5cd" stroke="#1cc0b4"/>
<path d="M205.8 92.6l-7.2 1.5-0.3-1.1 7.2-1.3z" fill="#6ad5cd" stroke="#1dc0b3"/>
<path d="M198.6 94.1l-7.1 1.5-0.3-1.2 7.1-1.4z" fill="#6ad6cc" stroke="#1ec0b2"/>
<path d="M191.5 95.6l-7.2 1.4-0.3-1.3 7.2-1.3z" fill="#6bd6cc" stroke="#1fc0b2"/>
<path d="M184.3 97l-7.2 1.5-0.3-1.5 7.2-1.3z" fill="#6cd6cc" stroke="#20c1b1"/>
<path d="M177.1 98.5l-7.1 1.5-0.3-1.6 7.1-1.4z" fill="#6cd6cb" stroke="#21c1b1"/>
<path d="M170 100l-7.2 1.4-0.3-1.7 7.2-1.3z" fill="#6dd6cb" stroke="#21c1b0"/>
<path d="M162.8 101.4l-7.2 1.5-0.3-1.9 7.2-1.3z" fill="#6dd6cb" stroke="#22c1b0"/>
<path d="M155.6 102.9l-7.1 1.5-0.3-2.1 7.1-1.3z" fill="#6ed6ca" stroke="#23c1af"/>
<path d="M148.5 104.4l-7.2 1.4-0.3-2.1 7.2-1.4z" fill="#6ed6ca" stroke="#24c1af"/>
<path d="M284.9 76.4l-7.1 1.5-0.3-0.1 7.1-1.5z" fill="#65d5cf" stroke="#16bfb7"/>
<path d="M277.8 77.9l-7.2 1.5-0.3-0.1 7.2-1.5z" fill="#65d5cf" stroke="#16bfb7"/>
<path d="M270.6 79.4l-7.2 1.6-0.3-0.2 7.2-1.5z" fill="#65d5cf" stroke="#16bfb7"/>
<path d="M263.4 81l-7.1 1.5-0.3-0.2 7.1-1.5z" fill="#65d5cf" stroke="#16bfb7"/>
<path d="M256.3 82.5l-7.2 1.6-0.3-0.3 7.2-1.5z" fill="#65d5d0" stroke="#16bfb7"/>
<path d="M249.1 84.1l-7.2 1.5-0.3-0.3 7.2-1.5z" fill="#65d5d0" stroke="#16bfb7"/>
<path d="M241.9 85.6l-7.1 1.6-0.3-0.5 7.1-1.4z" fill="#65d5d0" stroke="#15bfb7"/>
<path d="M234.8 87.2l-7.2 1.6-0.3-0.6 7.2-1.5z" fill="#65d5d0" stroke="#15bfb7"/>
<path d="M227.6 88.8l-7.1 1.5-0.4-0.6 7.2-1.5z" fill="#64d4d0" stroke="#15bfb8"/>
<path d="M220.5 90.3l-7.2 1.6-0.3-0.7 7.1-1.5z" fill="#64d4d0" stroke="#14bfb8"/>
<path d="M213.3 91.9l-7.2 1.6-0.3-0.9 7.2-1.4z" fill="#64d4d0" stroke="#14bfb8"/>
<path d="M206.1 93.5l-7.1 1.6-0.4-1 7.2-1.5z" fill="#64d4d0" stroke="#14beb8"/>
<path d="M199 95.1l-7.2 1.6-0.3-1.1 7.1-1.5z" fill="#63d4d0" stroke="#13beb8"/>
<path d="M191.8 96.7l-7.2 1.6-0.3-1.3 7.2-1.4z" fill="#63d4d0" stroke="#13beb8"/>
<path d="M184.6 98.3l-7.1 1.6-0.4-1.4 7.2-1.5z" fill="#63d4d1" stroke="#13beb9"/>
<path d="M177.5 99.9l-7.2 1.6-0.3-1.5 7.1-1.5z" fill="#63d4d1" stroke="#12beb9"/>
<path d="M170.3 101.5l-7.2 1.7-0.3-1.8 7.2-1.4z" fill="#62d4d1" stroke="#12beb9"/>
<path d="M163.1 103.2l-7.1 1.6-0.4-1.9 7.2-1.5z" fill="#62d4d1" stroke="#11beb9"/>
<path d="M156 104.8l-7.2 1.6-0.3-2 7.1-1.5z" fill="#62d4d1" stroke="#11beb9"/>
<path d="M148.8 106.4l-7.2 1.6-0.3-2.2 7.2-1.4z" fill="#62d4d1" stroke="#11beba"/>
</g>
<g class="s">
<path d="M285.3 76.5l-7.2 1.5-0.3-0.1 7.1-1.5z" color="#16bfb7"/>
<path d="M278.1 78l-7.2 1.6-0.3-0.2 7.2-1.5z" color="#16bfb7"/>
<path d="M270.9 79.6l-7.1 1.6-0.4-0.2 7.2-1.6z" color="#15bfb7"/>
<path d="M263.8 81.2l-7.2 1.5-0.3-0.2 7.1-1.5z" color="#15bfb8"/>
<path d="M256.6 82.7l-7.2 1.6-0.3-0.2 7.2-1.6z" color="#14beb8"/>
<path d="M249.4 84.3l-7.1 1.7-0.4-0.4 7.2-1.5z" color="#13beb8"/>
<path d="M242.3 86l-7.2 1.6-0.3-0.4 7.1-1.6z" color="#12beb9"/>
<path d="M235.1 87.6l-7.2 1.7-0.3-0.5 7.2-1.6z" color="#11beba"/>
<path d="M227.9 89.3l-7.1 1.7-0.3-0.7 7.1-1.5z" color="#0fbeba"/>
<path d="M220.8 91l-7.2 1.7-0.3-0.8 7.2-1.6z" color="#0ebdbb"/>
<path d="M213.6 92.7l-7.2 1.7-0.3-0.9 7.2-1.6z" color="#0cbdbc"/>
<path d="M206.4 94.4l-7.1 1.7-0.3-1 7.1-1.6z" color="#0bbdbd"/>
<path d="M199.3 96.1l-7.2 1.8-0.3-1.2 7.2-1.6z" color="#0abdbe"/>
<path d="M192.1 97.9l-7.1 1.7-0.4-1.3 7.2-1.6z" color="#08bcbf"/>
<path d="M185 99.6l-7.2 1.8-0.3-1.5 7.1-1.6z" color="#07bcc0"/>
<path d="M177.8 101.4l-7.2 1.7-0.3-1.6 7.2-1.6z" color="#06bbc1"/>
<path d="M170.6 103.1l-7.1 1.8-0.4-1.7 7.2-1.7z" color="#04bbc2"/>
<path d="M163.5 104.9l-7.2 1.7-0.3-1.8 7.1-1.6z" color="#03bbc2"/>
<path d="M156.3 106.6l-7.2 1.8-0.3-2 7.2-1.6z" color="#02bac3"/>
<path d="M149.1 108.4l-7.1 1.7-0.4-2.1 7.2-1.6z" color="#02bac4"/>
<path d="M285.9 76.7l-7.2 1.5-0.6-0.2 7.2-1.5z" color="#16bfb7"/>
<path d="M278.7 78.2l-7.2 1.6-0.6-0.2 7.2-1.6z" color="#16bfb7"/>
<path d="M271.5 79.8l-7.1 1.6-0.6-0.2 7.1-1.6z" color="#15bfb8"/>
<path d="M264.4 81.4l-7.2 1.6-0.6-0.3 7.2-1.5z" color="#14beb8"/>
<path d="M257.2 83l-7.2 1.7-0.6-0.4 7.2-1.6z" color="#13beb9"/>
<path d="M250 84.7l-7.1 1.6-0.6-0.3 7.1-1.7z" color="#11beb9"/>
<path d="M242.9 86.3l-7.2 1.7-0.6-0.4 7.2-1.6z" color="#0fbeba"/>
<path d="M235.7 88l-7.2 1.8-0.6-0.5 7.2-1.7z" color="#0dbdbb"/>
<path d="M228.5 89.8l-7.1 1.7-0.6-0.5 7.1-1.7z" color="#0bbdbd"/>
<path d="M221.4 91.5l-7.2 1.8-0.6-0.6 7.2-1.7z" color="#09bdbe"/>
<path d="M214.2 93.3l-7.2 1.8-0.6-0.7 7.2-1.7z" color="#08bcbf"/>
<path d="M207 95.1l-7.1 1.8-0.6-0.8 7.1-1.7z" color="#06bcc0"/>
<path d="M199.9 96.9l-7.2 1.8-0.6-0.8 7.2-1.8z" color="#04bbc2"/>
<path d="M192.7 98.7l-7.2 1.9-0.5-1 7.1-1.7z" color="#02bac4"/>
<path d="M185.5 100.6l-7.1 1.9-0.6-1.1 7.2-1.8z" color="#01bac5"/>
<path d="M178.4 102.5l-7.2 1.8-0.6-1.2 7.2-1.7z" color="#01b9c7"/>
<path d="M171.2 104.3l-7.1 1.8-0.6-1.2 7.1-1.8z" color="#01b8c8"/>
<path d="M164.1 106.1l-7.2 1.9-0.6-1.4 7.2-1.7z" color="#01b8ca"/>
<path d="M156.9 108l-7.2 1.9-0.6-1.5 7.2-1.8z" color="#02b7cb"/>
<path d="M149.7 109.9l-7.1 1.8-0.6-1.6 7.1-1.7z" color="#04b6cd"/>
<path d="M286.5 76.9l-7.2 1.5-0.6-0.2 7.2-1.5z" color="#16bfb7"/>
<path d="M279.3 78.4l-7.2 1.6-0.6-0.2 7.2-1.6z" color="#15bfb7"/>
<path d="M272.1 80l-7.1 1.6-0.6-0.2 7.1-1.6z" color="#14bfb8"/>
<path d="M265 81.6l-7.2 1.7-0.6-0.3 7.2-1.6z" color="#13beb8"/>
<path d="M257.8 83.3l-7.2 1.7-0.6-0.3 7.2-1.7z" color="#11beb9"/>
<path d="M250.6 85l-7.1 1.7-0.6-0.4 7.1-1.6z" color="#0fbeba"/>
<path d="M243.5 86.7l-7.2 1.8-0.6-0.5 7.2-1.7z" color="#0dbdbc"/>
<path d="M236.3 88.5l-7.2 1.8-0.6-0.5 7.2-1.8z" color="#0bbdbd"/>
<path d="M229.1 90.3l-7.1 1.8-0.6-0.6 7.1-1.7z" color="#09bcbe"/>
<path d="M222 92.1l-7.2 1.8-0.6-0.6 7.2-1.8z" color="#06bcc0"/>
<path d="M214.8 93.9l-7.2 1.9-0.6-0.7 7.2-1.8z" color="#04bbc2"/>
<path d="M207.6 95.8l-7.1 1.9-0.6-0.8 7.1-1.8z" color="#02bac3"/>
<path d="M200.5 97.7l-7.2 1.9-0.6-0.9 7.2-1.8z" color="#01bac5"/>
<path d="M193.3 99.6l-7.2 2-0.6-1 7.2-1.9z" color="#01b9c8"/>
<path d="M186.1 101.6l-7.1 1.9-0.6-1 7.1-1.9z" color="#01b8ca"/>
<path d="M179 103.5l-7.2 2-0.6-1.2 7.2-1.8z" color="#03b7cc"/>
<path d="M171.8 105.5l-7.2 1.9-0.5-1.3 7.1-1.8z" color="#05b6ce"/>
<path d="M164.6 107.4l-7.1 2-0.6-1.4 7.2-1.9z" color="#07b5d0"/>
<path d="M157.5 109.4l-7.2 1.9-0.6-1.4 7.2-1.9z" color="#0ab4d1"/>
<path d="M150.3 111.3l-7.1 2-0.6-1.6 7.1-1.8z" color="#0db3d3"/>
<path d="M287 77.1l-7.1 1.5-0.6-0.2 7.2-1.5z" color="#16bfb7"/>
<path d="M279.9 78.6l-7.2 1.6-0.6-0.2 7.2-1.6z" color="#15bfb7"/>
<path d="M272.7 80.2l-7.1 1.7-0.6-0.3 7.1-1.6z" color="#14beb8"/>
<path d="M265.6 81.9l-7.2 1.7-0.6-0.3 7.2-1.7z" color="#12beb9"/>
<path d="M258.4 83.6l-7.2 1.7-0.6-0.3 7.2-1.7z" color="#10beba"/>
<path d="M251.2 85.3l-7.1 1.8-0.6-0.4 7.1-1.7z" color="#0ebdbb"/>
<path d="M244.1 87.1l-7.2 1.8-0.6-0.4 7.2-1.8z" color="#0bbdbd"/>
<path d="M236.9 88.9l-7.2 1.8-0.6-0.4 7.2-1.8z" color="#09bcbe"/>
<path d="M229.7 90.7l-7.1 1.9-0.6-0.5 7.1-1.8z" color="#06bcc0"/>
<path d="M222.6 92.6l-7.2 1.9-0.6-0.6 7.2-1.8z" color="#03bbc2"/>
<path d="M215.4 94.5l-7.2 2-0.6-0.7 7.2-1.9z" color="#02bac4"/>
<path d="M208.2 96.5l-7.1 2-0.6-0.8 7.1-1.9z" color="#01b9c6"/>
<path d="M201.1 98.5l-7.2 2-0.6-0.9 7.2-1.9z" color="#01b8c9"/>
<path d="M193.9 100.5l-7.2 2.1-0.6-1 7.2-2z" color="#03b7cb"/>
<path d="M186.7 102.6l-7.1 2-0.6-1.1 7.1-1.9z" color="#05b6ce"/>
<path d="M179.6 104.6l-7.2 2.1-0.6-1.2 7.2-2z" color="#08b4d0"/>
<path d="M172.4 106.7l-7.2 2-0.6-1.3 7.2-1.9z" color="#0cb3d3"/>
<path d="M165.2 108.7l-7.1 2.1-0.6-1.4 7.1-2z" color="#10b2d5"/>
<path d="M158.1 110.8l-7.2 2-0.6-1.5 7.2-1.9z" color="#13b0d7"/>
<path d="M150.9 112.8l-7.2 2.1-0.5-1.6 7.1-2z" color="#16afd9"/>
<path d="M287.6 77.2l-7.1 1.6-0.6-0.2 7.1-1.5z" color="#16bfb7"/>
<path d="M280.5 78.8l-7.2 1.6-0.6-0.2 7.2-1.6z" color="#15bfb7"/>
<path d="M273.3 80.4l-7.2 1.7-0.5-0.2 7.1-1.7z" color="#13beb8"/>
<path d="M266.1 82.1l-7.1 1.7-0.6-0.2 7.2-1.7z" color="#11beb9"/>
<path d="M259 83.8l-7.2 1.8-0.6-0.3 7.2-1.7z" color="#0fbeba"/>
<path d="M251.8 85.6l-7.1 1.8-0.6-0.3 7.1-1.8z" color="#0cbdbc"/>
<path d="M244.7 87.4l-7.2 1.9-0.6-0.4 7.2-1.8z" color="#09bdbe"/>
<path d="M237.5 89.3l-7.2 1.9-0.6-0.5 7.2-1.8z" color="#07bcc0"/>
<path d="M230.3 91.2l-7.1 2-0.6-0.6 7.1-1.9z" color="#04bbc2"/>
<path d="M223.2 93.2l-7.2 1.9-0.6-0.6 7.2-1.9z" color="#02bac4"/>
<path d="M216 95.1l-7.2 2.1-0.6-0.7 7.2-2z" color="#01b9c7"/>
<path d="M208.8 97.2l-7.1 2.1-0.6-0.8 7.1-2z" color="#01b8c9"/>
<path d="M201.7 99.3l-7.2 2.1-0.6-0.9 7.2-2z" color="#03b7cc"/>
<path d="M194.5 101.4l-7.2 2.2-0.6-1 7.2-2.1z" color="#07b5cf"/>
<path d="M187.3 103.6l-7.1 2.1-0.6-1.1 7.1-2z" color="#0bb3d2"/>
<path d="M180.2 105.7l-7.2 2.2-0.6-1.2 7.2-2.1z" color="#0fb2d5"/>
<path d="M173 107.9l-7.2 2.1-0.6-1.3 7.2-2z" color="#13b0d7"/>
<path d="M165.8 110l-7.1 2.1-0.6-1.3 7.1-2.1z" color="#16aeda"/>
<path d="M158.7 112.1l-7.2 2.2-0.6-1.5 7.2-2z" color="#19addc"/>
<path d="M151.5 114.3l-7.2 2.2-0.6-1.6 7.2-2.1z" color="#1babde"/>
<path d="M288.2 77.4l-7.1 1.6-0.6-0.2 7.1-1.6z" color="#16bfb7"/>
<path d="M281.1 79l-7.2 1.6-0.6-0.2 7.2-1.6z" color="#15bfb8"/>
<path d="M273.9 80.6l-7.2 1.7-0.6-0.2 7.2-1.7z" color="#13beb8"/>
<path d="M266.7 82.3l-7.1 1.8-0.6-0.3 7.1-1.7z" color="#11beba"/>
<path d="M259.6 84.1l-7.2 1.8-0.6-0.3 7.2-1.8z" color="#0ebdbb"/>
<path d="M252.4 85.9l-7.2 1.9-0.5-0.4 7.1-1.8z" color="#0bbdbd"/>
<path d="M245.2 87.8l-7.1 1.9-0.6-0.4 7.2-1.9z" color="#08bcbf"/>
<path d="M238.1 89.7l-7.2 2-0.6-0.5 7.2-1.9z" color="#05bbc1"/>
<path d="M230.9 91.7l-7.1 2-0.6-0.5 7.1-2z" color="#02bac4"/>
<path d="M223.8 93.7l-7.2 2.1-0.6-0.7 7.2-1.9z" color="#01b9c6"/>
<path d="M216.6 95.8l-7.2 2.1-0.6-0.7 7.2-2.1z" color="#01b8c9"/>
<path d="M209.4 97.9l-7.1 2.2-0.6-0.8 7.1-2.1z" color="#03b7cc"/>
<path d="M202.3 100.1l-7.2 2.2-0.6-0.9 7.2-2.1z" color="#07b5cf"/>
<path d="M195.1 102.3l-7.2 2.3-0.6-1 7.2-2.2z" color="#0cb3d3"/>
<path d="M187.9 104.6l-7.1 2.2-0.6-1.1 7.1-2.1z" color="#12b1d6"/>
<path d="M180.8 106.8l-7.2 2.2-0.6-1.1 7.2-2.2z" color="#15afd9"/>
<path d="M173.6 109l-7.2 2.3-0.6-1.3 7.2-2.1z" color="#19addc"/>
<path d="M166.4 111.3l-7.1 2.2-0.6-1.4 7.1-2.1z" color="#1babde"/>
<path d="M159.3 113.5l-7.2 2.3-0.6-1.5 7.2-2.2z" color="#1da8e0"/>
<path d="M152.1 115.8l-7.2 2.2-0.6-1.5 7.2-2.2z" color="#1fa6e2"/>
<path d="M288.8 77.6l-7.1 1.6-0.6-0.2 7.1-1.6z" color="#16bfb7"/>
<path d="M281.7 79.2l-7.2 1.6-0.6-0.2 7.2-1.6z" color="#15bfb8"/>
<path d="M274.5 80.8l-7.2 1.8-0.6-0.3 7.2-1.7z" color="#13beb9"/>
<path d="M267.3 82.6l-7.1 1.8-0.6-0.3 7.1-1.8z" color="#10beba"/>
<path d="M260.2 84.4l-7.2 1.8-0.6-0.3 7.2-1.8z" color="#0dbdbc"/>
<path d="M253 86.2l-7.2 1.9-0.6-0.3 7.2-1.9z" color="#0abdbe"/>
<path d="M245.8 88.1l-7.1 2-0.6-0.4 7.1-1.9z" color="#06bcc0"/>
<path d="M238.7 90.1l-7.2 2.1-0.6-0.5 7.2-2z" color="#03bbc3"/>
<path d="M231.5 92.2l-7.2 2.1-0.5-0.6 7.1-2z" color="#01bac5"/>
<path d="M224.3 94.3l-7.1 2.1-0.6-0.6 7.2-2.1z" color="#01b8c8"/>
<path d="M217.2 96.4l-7.2 2.2-0.6-0.7 7.2-2.1z" color="#03b7cc"/>
<path d="M210 98.6l-7.1 2.3-0.6-0.8 7.1-2.2z" color="#06b5cf"/>
<path d="M202.9 100.9l-7.2 2.3-0.6-0.9 7.2-2.2z" color="#0cb3d3"/>
<path d="M195.7 103.2l-7.2 2.4-0.6-1 7.2-2.3z" color="#12b1d6"/>
<path d="M188.5 105.6l-7.1 2.3-0.6-1.1 7.1-2.2z" color="#16afda"/>
<path d="M181.4 107.9l-7.2 2.3-0.6-1.2 7.2-2.2z" color="#1aacdd"/>
<path d="M174.2 110.2l-7.2 2.4-0.6-1.3 7.2-2.3z" color="#1caadf"/>
<path d="M167 112.6l-7.1 2.3-0.6-1.4 7.1-2.2z" color="#1ea7e1"/>
<path d="M159.9 114.9l-7.2 2.4-0.6-1.5 7.2-2.3z" color="#20a4e3"/>
<path d="M152.7 117.3l-7.2 2.3-0.6-1.6 7.2-2.2z" color="#23a1e4"/>
<path d="M289.4 77.8l-7.1 1.6-0.6-0.2 7.1-1.6z" color="#16bfb7"/>
<path d="M282.3 79.4l-7.2 1.6-0.6-0.2 7.2-1.6z" color="#14bfb8"/>
<path d="M275.1 81l-7.2 1.8-0.6-0.2 7.2-1.8z" color="#12beb9"/>
<path d="M267.9 82.8l-7.1 1.8-0.6-0.2 7.1-1.8z" color="#0fbeba"/>
<path d="M260.8 84.6l-7.2 1.9-0.6-0.3 7.2-1.8z" color="#0cbdbc"/>
<path d="M253.6 86.5l-7.2 2-0.6-0.4 7.2-1.9z" color="#08bcbe"/>
<path d="M246.4 88.5l-7.1 2.1-0.6-0.5 7.1-2z" color="#05bbc1"/>
<path d="M239.3 90.6l-7.2 2.1-0.6-0.5 7.2-2.1z" color="#02bac4"/>
<path d="M232.1 92.7l-7.2 2.1-0.6-0.5 7.2-2.1z" color="#01b9c7"/>
<path d="M224.9 94.8l-7.1 2.2-0.6-0.6 7.1-2.1z" color="#02b7ca"/>
<path d="M217.8 97l-7.2 2.3-0.6-0.7 7.2-2.2z" color="#05b6ce"/>
<path d="M210.6 99.3l-7.2 2.3-0.5-0.7 7.1-2.3z" color="#0ab4d2"/>
<path d="M203.4 101.6l-7.1 2.5-0.6-0.9 7.2-2.3z" color="#11b1d6"/>
<path d="M196.3 104.1l-7.2 2.5-0.6-1 7.2-2.4z" color="#16afd9"/>
<path d="M189.1 106.6l-7.1 2.4-0.6-1.1 7.1-2.3z" color="#1aacdd"/>
<path d="M182 109l-7.2 2.4-0.6-1.2 7.2-2.3z" color="#1da9e0"/>
<path d="M174.8 111.4l-7.2 2.4-0.6-1.2 7.2-2.4z" color="#1fa6e2"/>
<path d="M167.6 113.8l-7.1 2.5-0.6-1.4 7.1-2.3z" color="#21a3e4"/>
<path d="M160.5 116.3l-7.2 2.4-0.6-1.4 7.2-2.4z" color="#249fe5"/>
<path d="M153.3 118.7l-7.2 2.5-0.6-1.6 7.2-2.3z" color="#259ce7"/>
<path d="M290 78l-7.1 1.6-0.6-0.2 7.1-1.6z" color="#16bfb7"/>
<path d="M282.9 79.6l-7.2 1.6-0.6-0.2 7.2-1.6z" color="#14bfb8"/>
<path d="M275.7 81.2l-7.2 1.8-0.6-0.2 7.2-1.8z" color="#12beb9"/>
<path d="M268.5 83l-7.1 1.9-0.6-0.3 7.1-1.8z" color="#0ebebb"/>
<path d="M261.4 84.9l-7.2 1.9-0.6-0.3 7.2-1.9z" color="#0bbdbd"/>
<path d="M254.2 86.8l-7.2 2-0.6-0.3 7.2-2z" color="#07bcbf"/>
<path d="M247 88.8l-7.1 2.2-0.6-0.4 7.1-2.1z" color="#03bbc2"/>
<path d="M239.9 91l-7.2 2.1-0.6-0.4 7.2-2.1z" color="#01bac5"/>
<path d="M232.7 93.1l-7.2 2.3-0.6-0.6 7.2-2.1z" color="#01b8c9"/>
<path d="M225.5 95.4l-7.1 2.2-0.6-0.6 7.1-2.2z" color="#04b6cc"/>
<path d="M218.4 97.6l-7.2 2.4-0.6-0.7 7.2-2.3z" color="#08b5d0"/>
<path d="M211.2 100l-7.2 2.4-0.6-0.8 7.2-2.3z" color="#0fb2d4"/>
<path d="M204 102.4l-7.1 2.6-0.6-0.9 7.1-2.5z" color="#15afd8"/>
<path d="M196.9 105l-7.2 2.5-0.6-0.9 7.2-2.5z" color="#19acdc"/>
<path d="M189.7 107.5l-7.2 2.6-0.5-1.1 7.1-2.4z" color="#1da9e0"/>
<path d="M182.5 110.1l-7.1 2.5-0.6-1.2 7.2-2.4z" color="#1fa6e2"/>
<path d="M175.4 112.6l-7.2 2.5-0.6-1.3 7.2-2.4z" color="#22a2e4"/>
<path d="M168.2 115.1l-7.1 2.6-0.6-1.4 7.1-2.5z" color="#249ee6"/>
<path d="M161.1 117.7l-7.2 2.5-0.6-1.5 7.2-2.4z" color="#269be8"/>
<path d="M153.9 120.2l-7.2 2.6-0.6-1.6 7.2-2.5z" color="#2797eb"/>
<path d="M290.6 78.1l-7.1 1.6-0.6-0.1 7.1-1.6z" color="#16bfb7"/>
<path d="M283.5 79.7l-7.2 1.8-0.6-0.3 7.2-1.6z" color="#14beb8"/>
<path d="M276.3 81.5l-7.2 1.8-0.6-0.3 7.2-1.8z" color="#11beb9"/>
<path d="M269.1 83.3l-7.1 1.9-0.6-0.3 7.1-1.9z" color="#0ebdbb"/>
<path d="M262 85.2l-7.2 1.9-0.6-0.3 7.2-1.9z" color="#0abdbd"/>
<path d="M254.8 87.1l-7.2 2.1-0.6-0.4 7.2-2z" color="#06bcc0"/>
<path d="M247.6 89.2l-7.1 2.2-0.6-0.4 7.1-2.2z" color="#02bac3"/>
<path d="M240.5 91.4l-7.2 2.2-0.6-0.5 7.2-2.1z" color="#01b9c7"/>
<path d="M233.3 93.6l-7.2 2.3-0.6-0.5 7.2-2.3z" color="#02b7cb"/>
<path d="M226.1 95.9l-7.1 2.4-0.6-0.7 7.1-2.2z" color="#06b5ce"/>
<path d="M219 98.3l-7.2 2.4-0.6-0.7 7.2-2.4z" color="#0cb3d3"/>
<path d="M211.8 100.7l-7.2 2.5-0.6-0.8 7.2-2.4z" color="#13b1d7"/>
<path d="M204.6 103.2l-7.1 2.7-0.6-0.9 7.1-2.6z" color="#18addb"/>
<path d="M197.5 105.9l-7.2 2.6-0.6-1 7.2-2.5z" color="#1caadf"/>
<path d="M190.3 108.5l-7.2 2.7-0.6-1.1 7.2-2.6z" color="#1fa6e2"/>
<path d="M183.1 111.2l-7.1 2.6-0.6-1.2 7.1-2.5z" color="#22a2e4"/>
<path d="M176 113.8l-7.2 2.6-0.6-1.3 7.2-2.5z" color="#249ee6"/>
<path d="M168.8 116.4l-7.2 2.7-0.5-1.4 7.1-2.6z" color="#269ae8"/>
<path d="M161.6 119.1l-7.1 2.6-0.6-1.5 7.2-2.5z" color="#2896ec"/>
<path d="M154.5 121.7l-7.2 2.7-0.6-1.6 7.2-2.6z" color="#2b91ef"/>
<path d="M291.2 78.3l-7.2 1.6-0.5-0.2 7.1-1.6z" color="#16bfb7"/>
<path d="M284 79.9l-7.1 1.8-0.6-0.2 7.2-1.8z" color="#14beb8"/>
<path d="M276.9 81.7l-7.2 1.8-0.6-0.2 7.2-1.8z" color="#11beba"/>
<path d="M269.7 83.5l-7.1 1.9-0.6-0.2 7.1-1.9z" color="#0dbdbc"/>
<path d="M262.6 85.4l-7.2 2-0.6-0.3 7.2-1.9z" color="#09bcbe"/>
<path d="M255.4 87.4l-7.2 2.2-0.6-0.4 7.2-2.1z" color="#05bbc1"/>
<path d="M248.2 89.6l-7.1 2.2-0.6-0.4 7.1-2.2z" color="#02bac4"/>
<path d="M241.1 91.8l-7.2 2.3-0.6-0.5 7.2-2.2z" color="#01b8c8"/>
<path d="M233.9 94.1l-7.2 2.3-0.6-0.5 7.2-2.3z" color="#03b7cc"/>
<path d="M226.7 96.4l-7.1 2.5-0.6-0.6 7.1-2.4z" color="#08b4d0"/>
<path d="M219.6 98.9l-7.2 2.5-0.6-0.7 7.2-2.4z" color="#0fb2d5"/>
<path d="M212.4 101.4l-7.2 2.6-0.6-0.8 7.2-2.5z" color="#16afd9"/>
<path d="M205.2 104l-7.1 2.8-0.6-0.9 7.1-2.7z" color="#1aabdd"/>
<path d="M198.1 106.8l-7.2 2.7-0.6-1 7.2-2.6z" color="#1ea7e1"/>
<path d="M190.9 109.5l-7.2 2.8-0.6-1.1 7.2-2.7z" color="#21a3e3"/>
<path d="M183.7 112.3l-7.1 2.7-0.6-1.2 7.1-2.6z" color="#249ee6"/>
<path d="M176.6 115l-7.2 2.7-0.6-1.3 7.2-2.6z" color="#269ae8"/>
<path d="M169.4 117.7l-7.2 2.7-0.6-1.3 7.2-2.7z" color="#2896ec"/>
<path d="M162.2 120.4l-7.1 2.8-0.6-1.5 7.1-2.6z" color="#2b91ef"/>
<path d="M155.1 123.2l-7.2 2.8-0.6-1.6 7.2-2.7z" color="#2d8cf3"/>
<path d="M291.8 78.5l-7.2 1.6-0.6-0.2 7.2-1.6z" color="#15bfb7"/>
<path d="M284.6 80.1l-7.1 1.8-0.6-0.2 7.1-1.8z" color="#14beb8"/>
<path d="M277.5 81.9l-7.2 1.8-0.6-0.2 7.2-1.8z" color="#10beba"/>
<path d="M270.3 83.7l-7.2 2-0.5-0.3 7.1-1.9z" color="#0cbdbc"/>
<path d="M263.1 85.7l-7.1 2-0.6-0.3 7.2-2z" color="#08bcbf"/>
<path d="M256 87.7l-7.2 2.2-0.6-0.3 7.2-2.2z" color="#04bbc2"/>
<path d="M248.8 89.9l-7.1 2.3-0.6-0.4 7.1-2.2z" color="#01bac5"/>
<path d="M241.7 92.2l-7.2 2.4-0.6-0.5 7.2-2.3z" color="#01b8ca"/>
<path d="M234.5 94.6l-7.2 2.4-0.6-0.6 7.2-2.3z" color="#05b6ce"/>
<path d="M227.3 97l-7.1 2.5-0.6-0.6 7.1-2.5z" color="#0bb3d2"/>
<path d="M220.2 99.5l-7.2 2.6-0.6-0.7 7.2-2.5z" color="#13b1d7"/>
<path d="M213 102.1l-7.2 2.7-0.6-0.8 7.2-2.6z" color="#18addb"/>
<path d="M205.8 104.8l-7.1 2.9-0.6-0.9 7.1-2.8z" color="#1ca9e0"/>
<path d="M198.7 107.7l-7.2 2.8-0.6-1 7.2-2.7z" color="#20a4e3"/>
<path d="M191.5 110.5l-7.2 2.9-0.6-1.1 7.2-2.8z" color="#23a0e5"/>
<path d="M184.3 113.4l-7.1 2.8-0.6-1.2 7.1-2.7z" color="#259be8"/>
<path d="M177.2 116.2l-7.2 2.8-0.6-1.3 7.2-2.7z" color="#2896eb"/>
<path d="M170 119l-7.2 2.8-0.6-1.4 7.2-2.7z" color="#2b91ef"/>
<path d="M162.8 121.8l-7.1 2.9-0.6-1.5 7.1-2.8z" color="#2d8cf3"/>
<path d="M155.7 124.7l-7.2 2.8-0.6-1.5 7.2-2.8z" color="#2e86f7"/>
<path d="M292.4 78.7l-7.2 1.6-0.6-0.2 7.2-1.6z" color="#15bfb7"/>
<path d="M285.2 80.3l-7.1 1.8-0.6-0.2 7.1-1.8z" color="#13beb8"/>
<path d="M278.1 82.1l-7.2 1.9-0.6-0.3 7.2-1.8z" color="#10beba"/>
<path d="M270.9 84l-7.2 2-0.6-0.3 7.2-2z" color="#0bbdbc"/>
<path d="M263.7 86l-7.1 2-0.6-0.3 7.1-2z" color="#07bcbf"/>
<path d="M256.6 88l-7.2 2.3-0.6-0.4 7.2-2.2z" color="#03bbc3"/>
<path d="M249.4 90.3l-7.2 2.3-0.5-0.4 7.1-2.3z" color="#01b9c7"/>
<path d="M242.2 92.6l-7.1 2.5-0.6-0.5 7.2-2.4z" color="#02b7cb"/>
<path d="M235.1 95.1l-7.2 2.4-0.6-0.5 7.2-2.4z" color="#07b5d0"/>
<path d="M227.9 97.5l-7.1 2.6-0.6-0.6 7.1-2.5z" color="#0eb2d4"/>
<path d="M220.8 100.1l-7.2 2.7-0.6-0.7 7.2-2.6z" color="#15afd9"/>
<path d="M213.6 102.8l-7.2 2.8-0.6-0.8 7.2-2.7z" color="#1aabdd"/>
<path d="M206.4 105.6l-7.1 2.9-0.6-0.8 7.1-2.9z" color="#1ea7e1"/>
<path d="M199.3 108.5l-7.2 3-0.6-1 7.2-2.8z" color="#22a2e4"/>
<path d="M192.1 111.5l-7.2 2.9-0.6-1 7.2-2.9z" color="#259ce7"/>
<path d="M184.9 114.4l-7.1 2.9-0.6-1.1 7.1-2.8z" color="#2797ea"/>
<path d="M177.8 117.3l-7.2 3-0.6-1.3 7.2-2.8z" color="#2b92ee"/>
<path d="M170.6 120.3l-7.2 2.9-0.6-1.4 7.2-2.8z" color="#2d8cf3"/>
<path d="M163.4 123.2l-7.1 3-0.6-1.5 7.1-2.9z" color="#2e86f7"/>
<path d="M156.3 126.2l-7.2 2.9-0.6-1.6 7.2-2.8z" color="#3080fa"/>
<path d="M293 78.9l-7.2 1.6-0.6-0.2 7.2-1.6z" color="#15bfb7"/>
<path d="M285.8 80.5l-7.1 1.8-0.6-0.2 7.1-1.8z" color="#13beb8"/>
<path d="M278.7 82.3l-7.2 1.9-0.6-0.2 7.2-1.9z" color="#10beba"/>
<path d="M271.5 84.2l-7.2 2-0.6-0.2 7.2-2z" color="#0bbdbd"/>
<path d="M264.3 86.2l-7.1 2.1-0.6-0.3 7.1-2z" color="#07bcc0"/>
<path d="M257.2 88.3l-7.2 2.3-0.6-0.3 7.2-2.3z" color="#02bac3"/>
<path d="M250 90.6l-7.2 2.5-0.6-0.5 7.2-2.3z" color="#01b9c8"/>
<path d="M242.8 93.1l-7.1 2.4-0.6-0.4 7.1-2.5z" color="#03b6cc"/>
<path d="M235.7 95.5l-7.2 2.6-0.6-0.6 7.2-2.4z" color="#09b4d1"/>
<path d="M228.5 98.1l-7.2 2.7-0.5-0.7 7.1-2.6z" color="#12b1d6"/>
<path d="M221.3 100.8l-7.1 2.7-0.6-0.7 7.2-2.7z" color="#18aedb"/>
<path d="M214.2 103.5l-7.2 2.9-0.6-0.8 7.2-2.8z" color="#1ca9df"/>
<path d="M207 106.4l-7.1 3-0.6-0.9 7.1-2.9z" color="#20a4e3"/>
<path d="M199.9 109.4l-7.2 3.1-0.6-1 7.2-3z" color="#249fe6"/>
<path d="M192.7 112.5l-7.2 3-0.6-1.1 7.2-2.9z" color="#2699e9"/>
<path d="M185.5 115.5l-7.1 3-0.6-1.2 7.1-2.9z" color="#2a93ed"/>
<path d="M178.4 118.5l-7.2 3-0.6-1.2 7.2-3z" color="#2c8ef2"/>
<path d="M171.2 121.5l-7.2 3.1-0.6-1.4 7.2-2.9z" color="#2d87f7"/>
<path d="M164 124.6l-7.1 3-0.6-1.4 7.1-3z" color="#2f81fa"/>
<path d="M156.9 127.6l-7.2 3.1-0.6-1.6 7.2-2.9z" color="#347afd"/>
<path d="M293.6 79l-7.2 1.7-0.6-0.2 7.2-1.6z" color="#15bfb7"/>
<path d="M286.4 80.7l-7.1 1.8-0.6-0.2 7.1-1.8z" color="#13beb8"/>
<path d="M279.3 82.5l-7.2 1.9-0.6-0.2 7.2-1.9z" color="#0fbeba"/>
<path d="M272.1 84.4l-7.2 2.1-0.6-0.3 7.2-2z" color="#0abdbd"/>
<path d="M264.9 86.5l-7.1 2.2-0.6-0.4 7.1-2.1z" color="#06bcc0"/>
<path d="M257.8 88.7l-7.2 2.3-0.6-0.4 7.2-2.3z" color="#02bac4"/>
<path d="M250.6 91l-7.2 2.5-0.6-0.4 7.2-2.5z" color="#01b8c9"/>
<path d="M243.4 93.5l-7.1 2.5-0.6-0.5 7.1-2.4z" color="#05b6ce"/>
<path d="M236.3 96l-7.2 2.6-0.6-0.5 7.2-2.6z" color="#0cb3d3"/>
<path d="M229.1 98.6l-7.2 2.8-0.6-0.6 7.2-2.7z" color="#14b0d8"/>
<path d="M221.9 101.4l-7.1 2.8-0.6-0.7 7.1-2.7z" color="#1aacdd"/>
<path d="M214.8 104.2l-7.2 3-0.6-0.8 7.2-2.9z" color="#1ea7e1"/>
<path d="M207.6 107.2l-7.2 3.1-0.5-0.9 7.1-3z" color="#22a2e4"/>
<path d="M200.4 110.3l-7.1 3.2-0.6-1 7.2-3.1z" color="#259ce7"/>
<path d="M193.3 113.5l-7.2 3.1-0.6-1.1 7.2-3z" color="#2896eb"/>
<path d="M186.1 116.6l-7.1 3.1-0.6-1.2 7.1-3z" color="#2c90f0"/>
<path d="M179 119.7l-7.2 3.1-0.6-1.3 7.2-3z" color="#2d89f5"/>
<path d="M171.8 122.8l-7.2 3.2-0.6-1.4 7.2-3.1z" color="#2f82f9"/>
<path d="M164.6 126l-7.1 3.1-0.6-1.5 7.1-3z" color="#337bfc"/>
<path d="M157.5 129.1l-7.2 3.2-0.6-1.6 7.2-3.1z" color="#3a73fe"/>
<path d="M294.2 79.2l-7.2 1.7-0.6-0.2 7.2-1.7z" color="#15bfb7"/>
<path d="M287 80.9l-7.1 1.8-0.6-0.2 7.1-1.8z" color="#13beb9"/>
<path d="M279.9 82.7l-7.2 2-0.6-0.3 7.2-1.9z" color="#0fbebb"/>
<path d="M272.7 84.7l-7.2 2.1-0.6-0.3 7.2-2.1z" color="#0abdbe"/>
<path d="M265.5 86.8l-7.1 2.2-0.6-0.3 7.1-2.2z" color="#05bbc1"/>
<path d="M258.4 89l-7.2 2.4-0.6-0.4 7.2-2.3z" color="#02bac5"/>
<path d="M251.2 91.4l-7.2 2.5-0.6-0.4 7.2-2.5z" color="#01b8ca"/>
<path d="M244 93.9l-7.1 2.6-0.6-0.5 7.1-2.5z" color="#06b5cf"/>
<path d="M236.9 96.5l-7.2 2.7-0.6-0.6 7.2-2.6z" color="#0eb2d4"/>
<path d="M229.7 99.2l-7.2 2.8-0.6-0.6 7.2-2.8z" color="#16afd9"/>
<path d="M222.5 102l-7.1 2.9-0.6-0.7 7.1-2.8z" color="#1baade"/>
<path d="M215.4 104.9l-7.2 3.1-0.6-0.8 7.2-3z" color="#1fa5e2"/>
<path d="M208.2 108l-7.2 3.2-0.6-0.9 7.2-3.1z" color="#23a0e5"/>
<path d="M201 111.2l-7.1 3.3-0.6-1 7.1-3.2z" color="#2699e9"/>
<path d="M193.9 114.5l-7.2 3.2-0.6-1.1 7.2-3.1z" color="#2a92ee"/>
<path d="M186.7 117.7l-7.2 3.2-0.5-1.2 7.1-3.1z" color="#2d8cf3"/>
<path d="M179.5 120.9l-7.1 3.2-0.6-1.3 7.2-3.1z" color="#2e85f8"/>
<path d="M172.4 124.1l-7.2 3.2-0.6-1.3 7.2-3.2z" color="#317dfc"/>
<path d="M165.2 127.3l-7.1 3.3-0.6-1.5 7.1-3.1z" color="#3975fe"/>
<path d="M158.1 130.6l-7.2 3.3-0.6-1.6 7.2-3.2z" color="#406dfe"/>
<path d="M294.8 79.4l-7.2 1.7-0.6-0.2 7.2-1.7z" color="#15bfb7"/>
<path d="M287.6 81.1l-7.1 1.8-0.6-0.2 7.1-1.8z" color="#13beb9"/>
<path d="M280.5 82.9l-7.2 2-0.6-0.2 7.2-2z" color="#0ebebb"/>
<path d="M273.3 84.9l-7.2 2.1-0.6-0.2 7.2-2.1z" color="#09bcbe"/>
<path d="M266.1 87l-7.1 2.3-0.6-0.3 7.1-2.2z" color="#04bbc1"/>
<path d="M259 89.3l-7.2 2.4-0.6-0.3 7.2-2.4z" color="#01b9c6"/>
<path d="M251.8 91.7l-7.2 2.6-0.6-0.4 7.2-2.5z" color="#02b7cb"/>
<path d="M244.6 94.3l-7.1 2.7-0.6-0.5 7.1-2.6z" color="#08b5d0"/>
<path d="M237.5 97l-7.2 2.7-0.6-0.5 7.2-2.7z" color="#11b1d6"/>
<path d="M230.3 99.7l-7.2 2.9-0.6-0.6 7.2-2.8z" color="#18addb"/>
<path d="M223.1 102.6l-7.1 3-0.6-0.7 7.1-2.9z" color="#1da9e0"/>
<path d="M216 105.6l-7.2 3.2-0.6-0.8 7.2-3.1z" color="#21a3e3"/>
<path d="M208.8 108.8l-7.2 3.3-0.6-0.9 7.2-3.2z" color="#249de7"/>
<path d="M201.6 112.1l-7.1 3.4-0.6-1 7.1-3.3z" color="#2796eb"/>
<path d="M194.5 115.5l-7.2 3.3-0.6-1.1 7.2-3.2z" color="#2c8ff1"/>
<path d="M187.3 118.8l-7.2 3.3-0.6-1.2 7.2-3.2z" color="#2d88f6"/>
<path d="M180.1 122.1l-7.1 3.3-0.6-1.3 7.1-3.2z" color="#3080fa"/>
<path d="M173 125.4l-7.2 3.3-0.6-1.4 7.2-3.2z" color="#3678fe"/>
<path d="M165.8 128.7l-7.2 3.4-0.5-1.5 7.1-3.3z" color="#3e6fff"/>
<path d="M158.6 132.1l-7.1 3.3-0.6-1.5 7.2-3.3z" color="#4466fd"/>
<path d="M295.4 79.6l-7.2 1.7-0.6-0.2 7.2-1.7z" color="#15bfb7"/>
<path d="M288.2 81.3l-7.2 1.8-0.5-0.2 7.1-1.8z" color="#12beb9"/>
<path d="M281 83.1l-7.1 2-0.6-0.2 7.2-2z" color="#0ebdbb"/>
<path d="M273.9 85.1l-7.2 2.2-0.6-0.3 7.2-2.1z" color="#09bcbe"/>
<path d="M266.7 87.3l-7.1 2.3-0.6-0.3 7.1-2.3z" color="#03bbc2"/>
<path d="M259.6 89.6l-7.2 2.5-0.6-0.4 7.2-2.4z" color="#01b9c7"/>
<path d="M252.4 92.1l-7.2 2.6-0.6-0.4 7.2-2.6z" color="#03b7cc"/>
<path d="M245.2 94.7l-7.1 2.8-0.6-0.5 7.1-2.7z" color="#0ab4d2"/>
<path d="M238.1 97.5l-7.2 2.8-0.6-0.6 7.2-2.7z" color="#13b0d7"/>
<path d="M230.9 100.3l-7.2 2.9-0.6-0.6 7.2-2.9z" color="#19acdc"/>
<path d="M223.7 103.2l-7.1 3.1-0.6-0.7 7.1-3z" color="#1ea7e1"/>
<path d="M216.6 106.3l-7.2 3.3-0.6-0.8 7.2-3.2z" color="#22a1e4"/>
<path d="M209.4 109.6l-7.2 3.4-0.6-0.9 7.2-3.3z" color="#269be8"/>
<path d="M202.2 113l-7.1 3.5-0.6-1 7.1-3.4z" color="#2a93ed"/>
<path d="M195.1 116.5l-7.2 3.4-0.6-1.1 7.2-3.3z" color="#2d8bf3"/>
<path d="M187.9 119.9l-7.2 3.4-0.6-1.2 7.2-3.3z" color="#2e83f9"/>
<path d="M180.7 123.3l-7.1 3.4-0.6-1.3 7.1-3.3z" color="#337bfc"/>
<path d="M173.6 126.7l-7.2 3.4-0.6-1.4 7.2-3.3z" color="#3c72ff"/>
<path d="M166.4 130.1l-7.2 3.5-0.6-1.5 7.2-3.4z" color="#4269fe"/>
<path d="M159.2 133.6l-7.1 3.4-0.6-1.6 7.1-3.3z" color="#4660fb"/>
<path d="M296 79.8l-7.2 1.7-0.6-0.2 7.2-1.7z" color="#15bfb7"/>
<path d="M288.8 81.5l-7.2 1.8-0.6-0.2 7.2-1.8z" color="#12beb9"/>
<path d="M281.6 83.3l-7.1 2.1-0.6-0.3 7.1-2z" color="#0dbdbb"/>
<path d="M274.5 85.4l-7.2 2.2-0.6-0.3 7.2-2.2z" color="#08bcbf"/>
<path d="M267.3 87.6l-7.2 2.3-0.5-0.3 7.1-2.3z" color="#03bbc3"/>
<path d="M260.1 89.9l-7.1 2.5-0.6-0.3 7.2-2.5z" color="#01b9c7"/>
<path d="M253 92.4l-7.2 2.7-0.6-0.4 7.2-2.6z" color="#04b6cd"/>
<path d="M245.8 95.1l-7.1 2.8-0.6-0.4 7.1-2.8z" color="#0cb3d3"/>
<path d="M238.7 97.9l-7.2 2.9-0.6-0.5 7.2-2.8z" color="#15afd9"/>
<path d="M231.5 100.8l-7.2 3.1-0.6-0.7 7.2-2.9z" color="#1babde"/>
<path d="M224.3 103.9l-7.1 3.1-0.6-0.7 7.1-3.1z" color="#1fa5e2"/>
<path d="M217.2 107l-7.2 3.4-0.6-0.8 7.2-3.3z" color="#249fe5"/>
<path d="M210 110.4l-7.2 3.5-0.6-0.9 7.2-3.4z" color="#2798ea"/>
<path d="M202.8 113.9l-7.1 3.6-0.6-1 7.1-3.5z" color="#2c90f0"/>
<path d="M195.7 117.5l-7.2 3.5-0.6-1.1 7.2-3.4z" color="#2d88f6"/>
<path d="M188.5 121l-7.2 3.5-0.6-1.2 7.2-3.4z" color="#307ffb"/>
<path d="M181.3 124.5l-7.1 3.5-0.6-1.3 7.1-3.4z" color="#3876fe"/>
<path d="M174.2 128l-7.2 3.5-0.6-1.4 7.2-3.4z" color="#406cfe"/>
<path d="M167 131.5l-7.2 3.5-0.6-1.4 7.2-3.5z" color="#4563fd"/>
<path d="M159.8 135l-7.1 3.6-0.6-1.6 7.1-3.4z" color="#475af9"/>
<path d="M296.6 79.9l-7.2 1.7-0.6-0.1 7.2-1.7z" color="#15bfb7"/>
<path d="M289.4 81.6l-7.2 1.9-0.6-0.2 7.2-1.8z" color="#12beb9"/>
<path d="M282.2 83.5l-7.1 2.1-0.6-0.2 7.1-2.1z" color="#0dbdbc"/>
<path d="M275.1 85.6l-7.2 2.2-0.6-0.2 7.2-2.2z" color="#08bcbf"/>
<path d="M267.9 87.8l-7.2 2.4-0.6-0.3 7.2-2.3z" color="#02bbc3"/>
<path d="M260.7 90.2l-7.1 2.6-0.6-0.4 7.1-2.5z" color="#01b8c8"/>
<path d="M253.6 92.8l-7.2 2.8-0.6-0.5 7.2-2.7z" color="#05b6ce"/>
<path d="M246.4 95.6l-7.2 2.8-0.5-0.5 7.1-2.8z" color="#0eb2d4"/>
<path d="M239.2 98.4l-7.1 3-0.6-0.6 7.2-2.9z" color="#17aeda"/>
<path d="M232.1 101.4l-7.2 3.1-0.6-0.6 7.2-3.1z" color="#1ca9df"/>
<path d="M224.9 104.5l-7.1 3.2-0.6-0.7 7.1-3.1z" color="#21a4e3"/>
<path d="M217.8 107.7l-7.2 3.4-0.6-0.7 7.2-3.4z" color="#249de7"/>
<path d="M210.6 111.1l-7.2 3.7-0.6-0.9 7.2-3.5z" color="#2895ec"/>
<path d="M203.4 114.8l-7.1 3.7-0.6-1 7.1-3.6z" color="#2d8df2"/>
<path d="M196.3 118.5l-7.2 3.6-0.6-1.1 7.2-3.5z" color="#2e84f8"/>
<path d="M189.1 122.1l-7.2 3.6-0.6-1.2 7.2-3.5z" color="#337bfd"/>
<path d="M181.9 125.7l-7.1 3.5-0.6-1.2 7.1-3.5z" color="#3d71ff"/>
<path d="M174.8 129.2l-7.2 3.7-0.6-1.4 7.2-3.5z" color="#4367fd"/>
<path d="M167.6 132.9l-7.2 3.6-0.6-1.5 7.2-3.5z" color="#465dfb"/>
<path d="M160.4 136.5l-7.1 3.7-0.6-1.6 7.1-3.6z" color="#4854f5"/>
<path d="M297.2 80.1l-7.2 1.7-0.6-0.2 7.2-1.7z" color="#15bfb7"/>
<path d="M290 81.8l-7.2 1.9-0.6-0.2 7.2-1.9z" color="#12beb9"/>
<path d="M282.8 83.7l-7.1 2.2-0.6-0.3 7.1-2.1z" color="#0cbdbc"/>
<path d="M275.7 85.9l-7.2 2.2-0.6-0.3 7.2-2.2z" color="#07bcbf"/>
<path d="M268.5 88.1l-7.2 2.4-0.6-0.3 7.2-2.4z" color="#02bac4"/>
<path d="M261.3 90.5l-7.1 2.7-0.6-0.4 7.1-2.6z" color="#01b8c9"/>
<path d="M254.2 93.2l-7.2 2.8-0.6-0.4 7.2-2.8z" color="#06b5cf"/>
<path d="M247 96l-7.2 2.9-0.6-0.5 7.2-2.8z" color="#10b2d5"/>
<path d="M239.8 98.9l-7.1 3-0.6-0.5 7.1-3z" color="#18addb"/>
<path d="M232.7 101.9l-7.2 3.2-0.6-0.6 7.2-3.1z" color="#1da8e0"/>
<path d="M225.5 105.1l-7.2 3.3-0.5-0.7 7.1-3.2z" color="#22a2e4"/>
<path d="M218.3 108.4l-7.1 3.5-0.6-0.8 7.2-3.4z" color="#259be8"/>
<path d="M211.2 111.9l-7.2 3.8-0.6-0.9 7.2-3.7z" color="#2a93ee"/>
<path d="M204 115.7l-7.1 3.8-0.6-1 7.1-3.7z" color="#2d8af5"/>
<path d="M196.9 119.5l-7.2 3.7-0.6-1.1 7.2-3.6z" color="#2f80fa"/>
<path d="M189.7 123.2l-7.2 3.6-0.6-1.1 7.2-3.6z" color="#3876fe"/>
<path d="M182.5 126.8l-7.1 3.7-0.6-1.3 7.1-3.5z" color="#416cfe"/>
<path d="M175.4 130.5l-7.2 3.7-0.6-1.3 7.2-3.7z" color="#4562fc"/>
<path d="M168.2 134.2l-7.2 3.8-0.6-1.5 7.2-3.6z" color="#4758f8"/>
<path d="M161 138l-7.1 3.8-0.6-1.6 7.1-3.7z" color="#484ef1"/>
<path d="M297.8 80.3l-7.2 1.7-0.6-0.2 7.2-1.7z" color="#15bfb7"/>
<path d="M290.6 82l-7.2 1.9-0.6-0.2 7.2-1.9z" color="#12beb9"/>
<path d="M283.4 83.9l-7.1 2.2-0.6-0.2 7.1-2.2z" color="#0cbdbc"/>
<path d="M276.3 86.1l-7.2 2.3-0.6-0.3 7.2-2.2z" color="#07bcc0"/>
<path d="M269.1 88.4l-7.2 2.4-0.6-0.3 7.2-2.4z" color="#02bac4"/>
<path d="M261.9 90.8l-7.1 2.7-0.6-0.3 7.1-2.7z" color="#01b8ca"/>
<path d="M254.8 93.5l-7.2 2.9-0.6-0.4 7.2-2.8z" color="#07b5d0"/>
<path d="M247.6 96.4l-7.2 3-0.6-0.5 7.2-2.9z" color="#12b1d6"/>
<path d="M240.4 99.4l-7.1 3.1-0.6-0.6 7.1-3z" color="#19acdc"/>
<path d="M233.3 102.5l-7.2 3.2-0.6-0.6 7.2-3.2z" color="#1ea7e1"/>
<path d="M226.1 105.7l-7.2 3.4-0.6-0.7 7.2-3.3z" color="#23a0e5"/>
<path d="M218.9 109.1l-7.1 3.6-0.6-0.8 7.1-3.5z" color="#2699e9"/>
<path d="M211.8 112.7l-7.2 3.9-0.6-0.9 7.2-3.8z" color="#2b90f0"/>
<path d="M204.6 116.6l-7.2 3.8-0.5-0.9 7.1-3.8z" color="#2e87f7"/>
<path d="M197.4 120.4l-7.1 3.8-0.6-1 7.2-3.7z" color="#327cfc"/>
<path d="M190.3 124.2l-7.2 3.8-0.6-1.2 7.2-3.6z" color="#3c71ff"/>
<path d="M183.1 128l-7.1 3.8-0.6-1.3 7.1-3.7z" color="#4367fd"/>
<path d="M176 131.8l-7.2 3.8-0.6-1.4 7.2-3.7z" color="#475cfa"/>
<path d="M168.8 135.6l-7.2 3.9-0.6-1.5 7.2-3.8z" color="#4852f4"/>
<path d="M161.6 139.5l-7.1 3.9-0.6-1.6 7.1-3.8z" color="#4848ec"/>
<path d="M298.4 80.5l-7.2 1.7-0.6-0.2 7.2-1.7z" color="#15bfb7"/>
<path d="M291.2 82.2l-7.2 2-0.6-0.3 7.2-1.9z" color="#11beb9"/>
<path d="M284 84.2l-7.1 2.1-0.6-0.2 7.1-2.2z" color="#0cbdbc"/>
<path d="M276.9 86.3l-7.2 2.4-0.6-0.3 7.2-2.3z" color="#06bcc0"/>
<path d="M269.7 88.7l-7.2 2.4-0.6-0.3 7.2-2.4z" color="#02bac5"/>
<path d="M262.5 91.1l-7.1 2.8-0.6-0.4 7.1-2.7z" color="#02b7ca"/>
<path d="M255.4 93.9l-7.2 2.9-0.6-0.4 7.2-2.9z" color="#09b4d1"/>
<path d="M248.2 96.8l-7.2 3.1-0.6-0.5 7.2-3z" color="#14b0d8"/>
<path d="M241 99.9l-7.1 3.1-0.6-0.5 7.1-3.1z" color="#1aabde"/>
<path d="M233.9 103l-7.2 3.4-0.6-0.7 7.2-3.2z" color="#1fa5e2"/>
<path d="M226.7 106.4l-7.2 3.4-0.6-0.7 7.2-3.4z" color="#249ee6"/>
<path d="M219.5 109.8l-7.1 3.7-0.6-0.8 7.1-3.6z" color="#2797eb"/>
<path d="M212.4 113.5l-7.2 4-0.6-0.9 7.2-3.9z" color="#2d8df2"/>
<path d="M205.2 117.5l-7.2 3.9-0.6-1 7.2-3.8z" color="#2e83f9"/>
<path d="M198 121.4l-7.1 3.9-0.6-1.1 7.1-3.8z" color="#3678fd"/>
<path d="M190.9 125.3l-7.2 3.9-0.6-1.2 7.2-3.8z" color="#406dfe"/>
<path d="M183.7 129.2l-7.2 3.9-0.5-1.3 7.1-3.8z" color="#4562fc"/>
<path d="M176.5 133.1l-7.1 3.9-0.6-1.4 7.2-3.8z" color="#4757f7"/>
<path d="M169.4 137l-7.2 4-0.6-1.5 7.2-3.9z" color="#484df0"/>
<path d="M162.2 141l-7.1 3.9-0.6-1.5 7.1-3.9z" color="#4742e6"/>
<path d="M298.9 80.7l-7.1 1.7-0.6-0.2 7.2-1.7z" color="#15bfb7"/>
<path d="M291.8 82.4l-7.2 2-0.6-0.2 7.2-2z" color="#11beb9"/>
<path d="M284.6 84.4l-7.1 2.2-0.6-0.3 7.1-2.1z" color="#0bbdbc"/>
<path d="M277.5 86.6l-7.2 2.3-0.6-0.2 7.2-2.4z" color="#05bbc1"/>
<path d="M270.3 88.9l-7.2 2.5-0.6-0.3 7.2-2.4z" color="#01bac5"/>
<path d="M263.1 91.4l-7.1 2.8-0.6-0.3 7.1-2.8z" color="#02b7cb"/>
<path d="M256 94.2l-7.2 3-0.6-0.4 7.2-2.9z" color="#0bb4d2"/>
<path d="M248.8 97.2l-7.2 3.1-0.6-0.4 7.2-3.1z" color="#15afd9"/>
<path d="M241.6 100.3l-7.1 3.3-0.6-0.6 7.1-3.1z" color="#1caadf"/>
<path d="M234.5 103.6l-7.2 3.4-0.6-0.6 7.2-3.4z" color="#21a4e3"/>
<path d="M227.3 107l-7.2 3.5-0.6-0.7 7.2-3.4z" color="#259de7"/>
<path d="M220.1 110.5l-7.1 3.8-0.6-0.8 7.1-3.7z" color="#2994ed"/>
<path d="M213 114.3l-7.2 4-0.6-0.8 7.2-4z" color="#2d8bf4"/>
<path d="M205.8 118.3l-7.2 4.1-0.6-1 7.2-3.9z" color="#3080fa"/>
<path d="M198.6 122.4l-7.1 4-0.6-1.1 7.1-3.9z" color="#3a74fe"/>
<path d="M191.5 126.4l-7.2 4-0.6-1.2 7.2-3.9z" color="#4368fe"/>
<path d="M184.3 130.4l-7.2 4-0.6-1.3 7.2-3.9z" color="#465dfa"/>
<path d="M177.1 134.4l-7.1 4-0.6-1.4 7.1-3.9z" color="#4852f4"/>
<path d="M170 138.4l-7.2 4-0.6-1.4 7.2-4z" color="#4747eb"/>
<path d="M162.8 142.4l-7.2 4.1-0.5-1.6 7.1-3.9z" color="#463cde"/>
<path d="M299.5 80.8l-7.1 1.8-0.6-0.2 7.1-1.7z" color="#15bfb8"/>
<path d="M292.4 82.6l-7.2 2-0.6-0.2 7.2-2z" color="#11beb9"/>
<path d="M285.2 84.6l-7.2 2.2-0.5-0.2 7.1-2.2z" color="#0bbdbd"/>
<path d="M278 86.8l-7.1 2.4-0.6-0.3 7.2-2.3z" color="#05bbc1"/>
<path d="M270.9 89.2l-7.2 2.5-0.6-0.3 7.2-2.5z" color="#01b9c6"/>
<path d="M263.7 91.7l-7.1 2.9-0.6-0.4 7.1-2.8z" color="#03b7cc"/>
<path d="M256.6 94.6l-7.2 3.1-0.6-0.5 7.2-3z" color="#0cb3d3"/>
<path d="M249.4 97.7l-7.2 3.1-0.6-0.5 7.2-3.1z" color="#16aeda"/>
<path d="M242.2 100.8l-7.1 3.3-0.6-0.5 7.1-3.3z" color="#1da9e0"/>
<path d="M235.1 104.1l-7.2 3.5-0.6-0.6 7.2-3.4z" color="#22a2e4"/>
<path d="M227.9 107.6l-7.2 3.6-0.6-0.7 7.2-3.5z" color="#259be8"/>
<path d="M220.7 111.2l-7.1 3.9-0.6-0.8 7.1-3.8z" color="#2b92ee"/>
<path d="M213.6 115.1l-7.2 4.1-0.6-0.9 7.2-4z" color="#2d88f6"/>
<path d="M206.4 119.2l-7.2 4.2-0.6-1 7.2-4.1z" color="#327cfc"/>
<path d="M199.2 123.4l-7.1 4.1-0.6-1.1 7.1-4z" color="#3e70ff"/>
<path d="M192.1 127.5l-7.2 4.1-0.6-1.2 7.2-4z" color="#4564fd"/>
<path d="M184.9 131.6l-7.2 4.1-0.6-1.3 7.2-4z" color="#4758f8"/>
<path d="M177.7 135.7l-7.1 4.1-0.6-1.4 7.1-4z" color="#484df0"/>
<path d="M170.6 139.8l-7.2 4.1-0.6-1.5 7.2-4z" color="#4741e5"/>
<path d="M163.4 143.9l-7.2 4.2-0.6-1.6 7.2-4.1z" color="#4537d5"/>
<path d="M300.1 81l-7.1 1.8-0.6-0.2 7.1-1.8z" color="#15bfb8"/>
<path d="M293 82.8l-7.2 2-0.6-0.2 7.2-2z" color="#11beba"/>
<path d="M285.8 84.8l-7.2 2.2-0.6-0.2 7.2-2.2z" color="#0bbdbd"/>
<path d="M278.6 87l-7.1 2.5-0.6-0.3 7.1-2.4z" color="#04bbc1"/>
<path d="M271.5 89.5l-7.2 2.5-0.6-0.3 7.2-2.5z" color="#01b9c7"/>
<path d="M264.3 92l-7.2 2.9-0.5-0.3 7.1-2.9z" color="#04b6cd"/>
<path d="M257.1 94.9l-7.1 3.2-0.6-0.4 7.2-3.1z" color="#0eb2d4"/>
<path d="M250 98.1l-7.2 3.2-0.6-0.5 7.2-3.1z" color="#18aedb"/>
<path d="M242.8 101.3l-7.1 3.4-0.6-0.6 7.1-3.3z" color="#1ea8e0"/>
<path d="M235.7 104.7l-7.2 3.5-0.6-0.6 7.2-3.5z" color="#23a1e4"/>
<path d="M228.5 108.2l-7.2 3.7-0.6-0.7 7.2-3.6z" color="#2699e9"/>
<path d="M221.3 111.9l-7.1 4-0.6-0.8 7.1-3.9z" color="#2c90f0"/>
<path d="M214.2 115.9l-7.2 4.2-0.6-0.9 7.2-4.1z" color="#2e85f8"/>
<path d="M207 120.1l-7.2 4.3-0.6-1 7.2-4.2z" color="#3579fd"/>
<path d="M199.8 124.4l-7.1 4.2-0.6-1.1 7.1-4.1z" color="#416cfe"/>
<path d="M192.7 128.6l-7.2 4.2-0.6-1.2 7.2-4.1z" color="#465ffb"/>
<path d="M185.5 132.8l-7.2 4.1-0.6-1.2 7.2-4.1z" color="#4854f5"/>
<path d="M178.3 136.9l-7.1 4.3-0.6-1.4 7.1-4.1z" color="#4848ec"/>
<path d="M171.2 141.2l-7.2 4.2-0.6-1.5 7.2-4.1z" color="#463cde"/>
<path d="M164 145.4l-7.2 4.3-0.6-1.6 7.2-4.2z" color="#4332ca"/>
<path d="M300.7 81.2l-7.1 1.8-0.6-0.2 7.1-1.8z" color="#15bfb8"/>
<path d="M293.6 83l-7.2 2-0.6-0.2 7.2-2z" color="#11beba"/>
<path d="M286.4 85l-7.2 2.3-0.6-0.3 7.2-2.2z" color="#0abdbd"/>
<path d="M279.2 87.3l-7.1 2.4-0.6-0.2 7.1-2.5z" color="#04bbc2"/>
<path d="M272.1 89.7l-7.2 2.7-0.6-0.4 7.2-2.5z" color="#01b9c7"/>
<path d="M264.9 92.4l-7.2 2.9-0.6-0.4 7.2-2.9z" color="#05b6cd"/>
<path d="M257.7 95.3l-7.1 3.2-0.6-0.4 7.1-3.2z" color="#10b2d5"/>
<path d="M250.6 98.5l-7.2 3.3-0.6-0.5 7.2-3.2z" color="#19addc"/>
<path d="M243.4 101.8l-7.2 3.4-0.5-0.5 7.1-3.4z" color="#1ea7e1"/>
<path d="M236.2 105.2l-7.1 3.6-0.6-0.6 7.2-3.5z" color="#249fe5"/>
<path d="M229.1 108.8l-7.2 3.8-0.6-0.7 7.2-3.7z" color="#2797eb"/>
<path d="M221.9 112.6l-7.1 4.1-0.6-0.8 7.1-4z" color="#2d8df2"/>
<path d="M214.8 116.7l-7.2 4.3-0.6-0.9 7.2-4.2z" color="#2f82f9"/>
<path d="M207.6 121l-7.2 4.4-0.6-1 7.2-4.3z" color="#3975fe"/>
<path d="M200.4 125.4l-7.1 4.3-0.6-1.1 7.1-4.2z" color="#4367fd"/>
<path d="M193.3 129.7l-7.2 4.3-0.6-1.2 7.2-4.2z" color="#475bf9"/>
<path d="M186.1 134l-7.2 4.2-0.6-1.3 7.2-4.1z" color="#484ff2"/>
<path d="M178.9 138.2l-7.1 4.3-0.6-1.3 7.1-4.3z" color="#4743e7"/>
<path d="M171.8 142.5l-7.2 4.4-0.6-1.5 7.2-4.2z" color="#4537d6"/>
<path d="M164.6 146.9l-7.2 4.4-0.6-1.6 7.2-4.3z" color="#412ebe"/>
<path d="M301.3 81.4l-7.1 1.8-0.6-0.2 7.1-1.8z" color="#15bfb8"/>
<path d="M294.2 83.2l-7.2 2-0.6-0.2 7.2-2z" color="#10beba"/>
<path d="M287 85.2l-7.2 2.3-0.6-0.2 7.2-2.3z" color="#0abdbd"/>
<path d="M279.8 87.5l-7.1 2.5-0.6-0.3 7.1-2.4z" color="#03bbc2"/>
<path d="M272.7 90l-7.2 2.7-0.6-0.3 7.2-2.7z" color="#01b9c8"/>
<path d="M265.5 92.7l-7.2 3-0.6-0.4 7.2-2.9z" color="#06b6ce"/>
<path d="M258.3 95.7l-7.1 3.2-0.6-0.4 7.1-3.2z" color="#11b1d6"/>
<path d="M251.2 98.9l-7.2 3.4-0.6-0.5 7.2-3.3z" color="#1aacdd"/>
<path d="M244 102.3l-7.2 3.5-0.6-0.6 7.2-3.4z" color="#1fa5e2"/>
<path d="M236.8 105.8l-7.1 3.7-0.6-0.7 7.1-3.6z" color="#249ee6"/>
<path d="M229.7 109.5l-7.2 3.8-0.6-0.7 7.2-3.8z" color="#2895ec"/>
<path d="M222.5 113.3l-7.2 4.2-0.5-0.8 7.1-4.1z" color="#2d8bf4"/>
<path d="M215.3 117.5l-7.1 4.4-0.6-0.9 7.2-4.3z" color="#307ffb"/>
<path d="M208.2 121.9l-7.2 4.5-0.6-1 7.2-4.4z" color="#3c71ff"/>
<path d="M201 126.4l-7.1 4.4-0.6-1.1 7.1-4.3z" color="#4563fd"/>
<path d="M193.9 130.8l-7.2 4.3-0.6-1.1 7.2-4.3z" color="#4757f7"/>
<path d="M186.7 135.1l-7.2 4.4-0.6-1.3 7.2-4.2z" color="#484aee"/>
<path d="M179.5 139.5l-7.1 4.4-0.6-1.4 7.1-4.3z" color="#463ee1"/>
<path d="M172.4 143.9l-7.2 4.5-0.6-1.5 7.2-4.4z" color="#4433cb"/>
<path d="M165.2 148.4l-7.2 4.4-0.6-1.5 7.2-4.4z" color="#3f29b1"/>
<path d="M301.7 81.5l-7.1 1.8-0.4-0.1 7.1-1.8z" color="#15bfb8"/>
<path d="M294.6 83.3l-7.2 2-0.4-0.1 7.2-2z" color="#11beba"/>
<path d="M287.4 85.3l-7.2 2.2-0.4 0 7.2-2.3z" color="#0abdbd"/>
<path d="M280.2 87.5l-7.1 2.4-0.4 0.1 7.1-2.5z" color="#04bbc2"/>
<path d="M273.1 89.9l-7.2 2.6-0.4 0.2 7.2-2.7z" color="#01b9c7"/>
<path d="M265.9 92.5l-7.2 2.9-0.4 0.3 7.2-3z" color="#05b6ce"/>
<path d="M258.7 95.4l-7.1 3.1-0.4 0.4 7.1-3.2z" color="#10b2d5"/>
<path d="M251.6 98.5l-7.2 3.2-0.4 0.6 7.2-3.4z" color="#19acdc"/>
<path d="M244.4 101.7l-7.2 3.4-0.4 0.7 7.2-3.5z" color="#1fa6e2"/>
<path d="M237.2 105.1l-7.1 3.5-0.4 0.9 7.1-3.7z" color="#249fe6"/>
<path d="M230.1 108.6l-7.2 3.7-0.4 1 7.2-3.8z" color="#2796eb"/>
<path d="M222.9 112.3l-7.2 4-0.4 1.2 7.2-4.2z" color="#2d8cf3"/>
<path d="M215.7 116.3l-7.1 4.2-0.4 1.4 7.1-4.4z" color="#2f81fa"/>
<path d="M208.6 120.5l-7.2 4.2-0.4 1.7 7.2-4.5z" color="#3a73fe"/>
<path d="M201.4 124.7l-7.2 4.2-0.3 1.9 7.1-4.4z" color="#4466fd"/>
<path d="M194.2 128.9l-7.1 4.2-0.4 2 7.2-4.3z" color="#4759f9"/>
<path d="M187.1 133.1l-7.2 4.1-0.4 2.3 7.2-4.4z" color="#484df0"/>
<path d="M179.9 137.2l-7.2 4.2-0.3 2.5 7.1-4.4z" color="#4741e4"/>
<path d="M172.7 141.4l-7.1 4.3-0.4 2.7 7.2-4.5z" color="#4435d2"/>
<path d="M165.6 145.7l-7.2 4.2-0.4 2.9 7.2-4.4z" color="#412cb9"/>
<path d="M302.1 81.6l-7.2 1.8-0.3-0.1 7.1-1.8z" color="#15bfb8"/>
<path d="M294.9 83.4l-7.1 1.9-0.4 0 7.2-2z" color="#11beb9"/>
<path d="M287.8 85.3l-7.2 2.2-0.4 0 7.2-2.2z" color="#0bbdbd"/>
<path d="M280.6 87.5l-7.1 2.4-0.4 0 7.1-2.4z" color="#05bbc1"/>
<path d="M273.5 89.9l-7.2 2.4-0.4 0.2 7.2-2.6z" color="#01b9c6"/>
<path d="M266.3 92.3l-7.2 2.8-0.4 0.3 7.2-2.9z" color="#03b7cc"/>
<path d="M259.1 95.1l-7.1 3-0.4 0.4 7.1-3.1z" color="#0db3d3"/>
<path d="M252 98.1l-7.2 3.1-0.4 0.5 7.2-3.2z" color="#17aeda"/>
<path d="M244.8 101.2l-7.2 3.2-0.4 0.7 7.2-3.4z" color="#1da9e0"/>
<path d="M237.6 104.4l-7.1 3.4-0.4 0.8 7.1-3.5z" color="#22a2e4"/>
<path d="M230.5 107.8l-7.2 3.5-0.4 1 7.2-3.7z" color="#269ae8"/>
<path d="M223.3 111.3l-7.2 3.8-0.4 1.2 7.2-4z" color="#2b92ef"/>
<path d="M216.1 115.1l-7.1 3.9-0.4 1.5 7.1-4.2z" color="#2e87f7"/>
<path d="M209 119l-7.2 4.1-0.4 1.6 7.2-4.2z" color="#327cfc"/>
<path d="M201.8 123.1l-7.2 4-0.4 1.8 7.2-4.2z" color="#3f6fff"/>
<path d="M194.6 127.1l-7.1 3.9-0.4 2.1 7.1-4.2z" color="#4563fc"/>
<path d="M187.5 131l-7.2 3.9-0.4 2.3 7.2-4.1z" color="#4757f7"/>
<path d="M180.3 134.9l-7.2 4-0.4 2.5 7.2-4.2z" color="#484cef"/>
<path d="M173.1 138.9l-7.1 4-0.4 2.8 7.1-4.3z" color="#4740e4"/>
<path d="M166 142.9l-7.2 4.1-0.4 2.9 7.2-4.2z" color="#4536d2"/>
<path d="M302.5 81.7l-7.2 1.8-0.4-0.1 7.2-1.8z" color="#15bfb7"/>
<path d="M295.3 83.5l-7.1 1.9-0.4-0.1 7.1-1.9z" color="#11beb9"/>
<path d="M288.2 85.4l-7.2 2.1-0.4 0 7.2-2.2z" color="#0cbdbc"/>
<path d="M281 87.5l-7.2 2.3-0.3 0.1 7.1-2.4z" color="#06bcc0"/>
<path d="M273.8 89.8l-7.1 2.4-0.4 0.1 7.2-2.4z" color="#02bac5"/>
<path d="M266.7 92.2l-7.2 2.7-0.4 0.2 7.2-2.8z" color="#02b7ca"/>
<path d="M259.5 94.9l-7.2 2.8-0.3 0.4 7.1-3z" color="#09b4d1"/>
<path d="M252.3 97.7l-7.1 3-0.4 0.5 7.2-3.1z" color="#14b0d8"/>
<path d="M245.2 100.7l-7.2 3-0.4 0.7 7.2-3.2z" color="#1babde"/>
<path d="M238 103.7l-7.1 3.2-0.4 0.9 7.1-3.4z" color="#1fa5e2"/>
<path d="M230.9 106.9l-7.2 3.4-0.4 1 7.2-3.5z" color="#249ee6"/>
<path d="M223.7 110.3l-7.2 3.5-0.4 1.3 7.2-3.8z" color="#2797eb"/>
<path d="M216.5 113.8l-7.1 3.8-0.4 1.4 7.1-3.9z" color="#2d8df2"/>
<path d="M209.4 117.6l-7.2 3.8-0.4 1.7 7.2-4.1z" color="#2e83f9"/>
<path d="M202.2 121.4l-7.2 3.8-0.4 1.9 7.2-4z" color="#3678fd"/>
<path d="M195 125.2l-7.1 3.7-0.4 2.1 7.1-3.9z" color="#406cfe"/>
<path d="M187.9 128.9l-7.2 3.7-0.4 2.3 7.2-3.9z" color="#4562fc"/>
<path d="M180.7 132.6l-7.2 3.8-0.4 2.5 7.2-4z" color="#4757f7"/>
<path d="M173.5 136.4l-7.1 3.8-0.4 2.7 7.1-4z" color="#484cf0"/>
<path d="M166.4 140.2l-7.2 3.8-0.4 3 7.2-4.1z" color="#4742e6"/>
<path d="M302.9 81.9l-7.2 1.7-0.4-0.1 7.2-1.8z" color="#15bfb7"/>
<path d="M295.7 83.6l-7.1 1.8-0.4 0 7.1-1.9z" color="#12beb9"/>
<path d="M288.6 85.4l-7.2 2.1-0.4 0 7.2-2.1z" color="#0dbdbc"/>
<path d="M281.4 87.5l-7.2 2.2-0.4 0.1 7.2-2.3z" color="#07bcbf"/>
<path d="M274.2 89.7l-7.1 2.3-0.4 0.2 7.1-2.4z" color="#02bac4"/>
<path d="M267.1 92l-7.2 2.6-0.4 0.3 7.2-2.7z" color="#01b8c9"/>
<path d="M259.9 94.6l-7.2 2.7-0.4 0.4 7.2-2.8z" color="#06b5cf"/>
<path d="M252.7 97.3l-7.1 2.8-0.4 0.6 7.1-3z" color="#10b2d5"/>
<path d="M245.6 100.1l-7.2 3-0.4 0.6 7.2-3z" color="#18addb"/>
<path d="M238.4 103.1l-7.2 3-0.3 0.8 7.1-3.2z" color="#1da8e0"/>
<path d="M231.2 106.1l-7.1 3.2-0.4 1 7.2-3.4z" color="#22a2e4"/>
<path d="M224.1 109.3l-7.2 3.4-0.4 1.1 7.2-3.5z" color="#259be8"/>
<path d="M216.9 112.7l-7.2 3.5-0.3 1.4 7.1-3.8z" color="#2a93ed"/>
<path d="M209.7 116.2l-7.1 3.6-0.4 1.6 7.2-3.8z" color="#2d8af4"/>
<path d="M202.6 119.8l-7.2 3.6-0.4 1.8 7.2-3.8z" color="#2f81fa"/>
<path d="M195.4 123.4l-7.2 3.5-0.3 2 7.1-3.7z" color="#3777fe"/>
<path d="M188.2 126.9l-7.1 3.5-0.4 2.2 7.2-3.7z" color="#406cfe"/>
<path d="M181.1 130.4l-7.2 3.6-0.4 2.4 7.2-3.8z" color="#4562fc"/>
<path d="M173.9 134l-7.2 3.6-0.3 2.6 7.1-3.8z" color="#4758f8"/>
<path d="M166.7 137.6l-7.1 3.6-0.4 2.8 7.2-3.8z" color="#484ff2"/>
<path d="M303.3 82l-7.2 1.7-0.4-0.1 7.2-1.7z" color="#15bfb7"/>
<path d="M296.1 83.7l-7.2 1.8-0.3-0.1 7.1-1.8z" color="#12beb9"/>
<path d="M288.9 85.5l-7.1 2-0.4 0 7.2-2.1z" color="#0dbdbb"/>
<path d="M281.8 87.5l-7.2 2.1-0.4 0.1 7.2-2.2z" color="#08bcbf"/>
<path d="M274.6 89.6l-7.1 2.3-0.4 0.1 7.1-2.3z" color="#03bbc2"/>
<path d="M267.5 91.9l-7.2 2.4-0.4 0.3 7.2-2.6z" color="#01b9c7"/>
<path d="M260.3 94.3l-7.2 2.6-0.4 0.4 7.2-2.7z" color="#04b6cd"/>
<path d="M253.1 96.9l-7.1 2.7-0.4 0.5 7.1-2.8z" color="#0bb3d2"/>
<path d="M246 99.6l-7.2 2.8-0.4 0.7 7.2-3z" color="#14b0d8"/>
<path d="M238.8 102.4l-7.2 2.9-0.4 0.8 7.2-3z" color="#1aabdd"/>
<path d="M231.6 105.3l-7.1 3-0.4 1 7.1-3.2z" color="#1fa6e2"/>
<path d="M224.5 108.3l-7.2 3.1-0.4 1.3 7.2-3.4z" color="#23a0e5"/>
<path d="M217.3 111.4l-7.2 3.4-0.4 1.4 7.2-3.5z" color="#2699e9"/>
<path d="M210.1 114.8l-7.1 3.4-0.4 1.6 7.1-3.6z" color="#2b91ef"/>
<path d="M203 118.2l-7.2 3.3-0.4 1.9 7.2-3.6z" color="#2d89f5"/>
<path d="M195.8 121.5l-7.2 3.3-0.4 2.1 7.2-3.5z" color="#2f80fa"/>
<path d="M188.6 124.8l-7.1 3.3-0.4 2.3 7.1-3.5z" color="#3677fe"/>
<path d="M181.5 128.1l-7.2 3.4-0.4 2.5 7.2-3.6z" color="#3f6efe"/>
<path d="M174.3 131.5l-7.2 3.3-0.4 2.8 7.2-3.6z" color="#4465fd"/>
<path d="M167.1 134.8l-7.1 3.4-0.4 3 7.1-3.6z" color="#475cfa"/>
<path d="M303.7 82.1l-7.2 1.7-0.4-0.1 7.2-1.7z" color="#15bfb7"/>
<path d="M296.5 83.8l-7.2 1.7-0.4 0 7.2-1.8z" color="#13beb9"/>
<path d="M289.3 85.5l-7.1 2-0.4 0 7.1-2z" color="#0ebebb"/>
<path d="M282.2 87.5l-7.2 2.1-0.4 0 7.2-2.1z" color="#09bdbe"/>
<path d="M275 89.6l-7.2 2.1-0.3 0.2 7.1-2.3z" color="#05bbc1"/>
<path d="M267.8 91.7l-7.1 2.3-0.4 0.3 7.2-2.4z" color="#01bac5"/>
<path d="M260.7 94l-7.2 2.5-0.4 0.4 7.2-2.6z" color="#01b7ca"/>
<path d="M253.5 96.5l-7.1 2.6-0.4 0.5 7.1-2.7z" color="#07b5d0"/>
<path d="M246.4 99.1l-7.2 2.6-0.4 0.7 7.2-2.8z" color="#10b2d5"/>
<path d="M239.2 101.7l-7.2 2.7-0.4 0.9 7.2-2.9z" color="#17aeda"/>
<path d="M232 104.4l-7.1 2.8-0.4 1.1 7.1-3z" color="#1caadf"/>
<path d="M224.9 107.2l-7.2 3-0.4 1.2 7.2-3.1z" color="#20a4e3"/>
<path d="M217.7 110.2l-7.2 3.2-0.4 1.4 7.2-3.4z" color="#249ee6"/>
<path d="M210.5 113.4l-7.1 3.1-0.4 1.7 7.1-3.4z" color="#2798ea"/>
<path d="M203.4 116.5l-7.2 3.1-0.4 1.9 7.2-3.3z" color="#2b91ef"/>
<path d="M196.2 119.6l-7.2 3.1-0.4 2.1 7.2-3.3z" color="#2d89f5"/>
<path d="M189 122.7l-7.1 3.1-0.4 2.3 7.1-3.3z" color="#2f82f9"/>
<path d="M181.9 125.8l-7.2 3.2-0.4 2.5 7.2-3.4z" color="#347afd"/>
<path d="M174.7 129l-7.2 3.1-0.4 2.7 7.2-3.3z" color="#3c71ff"/>
<path d="M167.5 132.1l-7.1 3.2-0.4 2.9 7.1-3.4z" color="#4269fe"/>
<path d="M304.1 82.2l-7.2 1.7-0.4-0.1 7.2-1.7z" color="#15bfb7"/>
<path d="M296.9 83.9l-7.2 1.7-0.4-0.1 7.2-1.7z" color="#13beb8"/>
<path d="M289.7 85.6l-7.1 1.9-0.4 0 7.1-2z" color="#0fbeba"/>
<path d="M282.6 87.5l-7.2 2-0.4 0.1 7.2-2.1z" color="#0bbdbd"/>
<path d="M275.4 89.5l-7.2 2-0.4 0.2 7.2-2.1z" color="#06bcc0"/>
<path d="M268.2 91.5l-7.1 2.3-0.4 0.2 7.1-2.3z" color="#02bac4"/>
<path d="M261.1 93.8l-7.2 2.3-0.4 0.4 7.2-2.5z" color="#01b8c8"/>
<path d="M253.9 96.1l-7.2 2.4-0.3 0.6 7.1-2.6z" color="#04b6cd"/>
<path d="M246.7 98.5l-7.1 2.5-0.4 0.7 7.2-2.6z" color="#0ab4d2"/>
<path d="M239.6 101l-7.2 2.6-0.4 0.8 7.2-2.7z" color="#12b1d7"/>
<path d="M232.4 103.6l-7.2 2.6-0.3 1 7.1-2.8z" color="#19addc"/>
<path d="M225.2 106.2l-7.1 2.8-0.4 1.2 7.2-3z" color="#1da9e0"/>
<path d="M218.1 109l-7.2 2.9-0.4 1.5 7.2-3.2z" color="#21a4e3"/>
<path d="M210.9 111.9l-7.1 3-0.4 1.6 7.1-3.1z" color="#249ee6"/>
<path d="M203.8 114.9l-7.2 2.9-0.4 1.8 7.2-3.1z" color="#2798ea"/>
<path d="M196.6 117.8l-7.2 2.9-0.4 2 7.2-3.1z" color="#2b92ee"/>
<path d="M189.4 120.7l-7.1 2.9-0.4 2.2 7.1-3.1z" color="#2d8cf3"/>
<path d="M182.3 123.6l-7.2 2.9-0.4 2.5 7.2-3.2z" color="#2e85f8"/>
<path d="M175.1 126.5l-7.2 2.9-0.4 2.7 7.2-3.1z" color="#307ffb"/>
<path d="M167.9 129.4l-7.1 2.9-0.4 3 7.1-3.2z" color="#3677fe"/>
<path d="M304.5 82.3l-7.2 1.7-0.4-0.1 7.2-1.7z" color="#15bfb7"/>
<path d="M297.3 84l-7.2 1.7-0.4-0.1 7.2-1.7z" color="#14beb8"/>
<path d="M290.1 85.7l-7.1 1.8-0.4 0 7.1-1.9z" color="#10beba"/>
<path d="M283 87.5l-7.2 1.9-0.4 0.1 7.2-2z" color="#0cbdbc"/>
<path d="M275.8 89.4l-7.2 2-0.4 0.1 7.2-2z" color="#08bcbf"/>
<path d="M268.6 91.4l-7.1 2.1-0.4 0.3 7.1-2.3z" color="#04bbc2"/>
<path d="M261.5 93.5l-7.2 2.2-0.4 0.4 7.2-2.3z" color="#01b9c6"/>
<path d="M254.3 95.7l-7.2 2.3-0.4 0.5 7.2-2.4z" color="#01b8ca"/>
<path d="M247.1 98l-7.1 2.3-0.4 0.7 7.1-2.5z" color="#05b6ce"/>
<path d="M240 100.3l-7.2 2.4-0.4 0.9 7.2-2.6z" color="#0cb3d3"/>
<path d="M232.8 102.7l-7.2 2.5-0.4 1 7.2-2.6z" color="#13b0d7"/>
<path d="M225.6 105.2l-7.1 2.6-0.4 1.2 7.1-2.8z" color="#19addc"/>
<path d="M218.5 107.8l-7.2 2.7-0.4 1.4 7.2-2.9z" color="#1da9e0"/>
<path d="M211.3 110.5l-7.2 2.7-0.3 1.7 7.1-3z" color="#20a4e3"/>
<path d="M204.1 113.2l-7.1 2.7-0.4 1.9 7.2-2.9z" color="#249fe5"/>
<path d="M197 115.9l-7.2 2.7-0.4 2.1 7.2-2.9z" color="#269ae8"/>
<path d="M189.8 118.6l-7.1 2.7-0.4 2.3 7.1-2.9z" color="#2895ec"/>
<path d="M182.7 121.3l-7.2 2.7-0.4 2.5 7.2-2.9z" color="#2c90f0"/>
<path d="M175.5 124l-7.2 2.7-0.4 2.7 7.2-2.9z" color="#2d8bf4"/>
<path d="M168.3 126.7l-7.1 2.7-0.4 2.9 7.1-2.9z" color="#2e85f8"/>
<path d="M304.8 82.5l-7.1 1.6-0.4-0.1 7.2-1.7z" color="#16bfb7"/>
<path d="M297.7 84.1l-7.2 1.6-0.4 0 7.2-1.7z" color="#14beb8"/>
<path d="M290.5 85.7l-7.1 1.8-0.4 0 7.1-1.8z" color="#11beb9"/>
<path d="M283.4 87.5l-7.2 1.8-0.4 0.1 7.2-1.9z" color="#0ebdbb"/>
<path d="M276.2 89.3l-7.2 1.9-0.4 0.2 7.2-2z" color="#0abdbd"/>
<path d="M269 91.2l-7.1 2-0.4 0.3 7.1-2.1z" color="#06bcc0"/>
<path d="M261.9 93.2l-7.2 2.1-0.4 0.4 7.2-2.2z" color="#02bac3"/>
<path d="M254.7 95.3l-7.2 2.2-0.4 0.5 7.2-2.3z" color="#01b9c7"/>
<path d="M247.5 97.5l-7.1 2.1-0.4 0.7 7.1-2.3z" color="#02b7cb"/>
<path d="M240.4 99.6l-7.2 2.3-0.4 0.8 7.2-2.4z" color="#06b5ce"/>
<path d="M233.2 101.9l-7.2 2.3-0.4 1 7.2-2.5z" color="#0cb3d3"/>
<path d="M226 104.2l-7.1 2.4-0.4 1.2 7.1-2.6z" color="#13b1d7"/>
<path d="M218.9 106.6l-7.2 2.5-0.4 1.4 7.2-2.7z" color="#18addb"/>
<path d="M211.7 109.1l-7.2 2.5-0.4 1.6 7.2-2.7z" color="#1caadf"/>
<path d="M204.5 111.6l-7.1 2.4-0.4 1.9 7.1-2.7z" color="#1fa6e2"/>
<path d="M197.4 114l-7.2 2.5-0.4 2.1 7.2-2.7z" color="#22a2e4"/>
<path d="M190.2 116.5l-7.2 2.5-0.3 2.3 7.1-2.7z" color="#249ee6"/>
<path d="M183 119l-7.1 2.5-0.4 2.5 7.2-2.7z" color="#269ae8"/>
<path d="M175.9 121.5l-7.2 2.5-0.4 2.7 7.2-2.7z" color="#2896ec"/>
<path d="M168.7 124l-7.2 2.5-0.3 2.9 7.1-2.7z" color="#2b91ef"/>
<path d="M305.2 82.6l-7.1 1.6-0.4-0.1 7.1-1.6z" color="#16bfb7"/>
<path d="M298.1 84.2l-7.2 1.6-0.4-0.1 7.2-1.6z" color="#14bfb8"/>
<path d="M290.9 85.8l-7.2 1.7-0.3 0 7.1-1.8z" color="#12beb9"/>
<path d="M283.7 87.5l-7.1 1.8-0.4 0 7.2-1.8z" color="#0fbeba"/>
<path d="M276.6 89.3l-7.2 1.8-0.4 0.1 7.2-1.9z" color="#0cbdbc"/>
<path d="M269.4 91.1l-7.1 1.9-0.4 0.2 7.1-2z" color="#09bcbe"/>
<path d="M262.3 93l-7.2 1.9-0.4 0.4 7.2-2.1z" color="#05bbc1"/>
<path d="M255.1 94.9l-7.2 2-0.4 0.6 7.2-2.2z" color="#02bac4"/>
<path d="M247.9 96.9l-7.1 2-0.4 0.7 7.1-2.1z" color="#01b9c7"/>
<path d="M240.8 98.9l-7.2 2.1-0.4 0.9 7.2-2.3z" color="#01b8ca"/>
<path d="M233.6 101l-7.2 2.2-0.4 1 7.2-2.3z" color="#05b6cd"/>
<path d="M226.4 103.2l-7.1 2.2-0.4 1.2 7.1-2.4z" color="#09b4d1"/>
<path d="M219.3 105.4l-7.2 2.2-0.4 1.5 7.2-2.5z" color="#10b2d5"/>
<path d="M212.1 107.6l-7.2 2.3-0.4 1.7 7.2-2.5z" color="#15afd9"/>
<path d="M204.9 109.9l-7.1 2.3-0.4 1.8 7.1-2.4z" color="#19acdc"/>
<path d="M197.8 112.2l-7.2 2.2-0.4 2.1 7.2-2.5z" color="#1caadf"/>
<path d="M190.6 114.4l-7.2 2.3-0.4 2.3 7.2-2.5z" color="#1ea7e1"/>
<path d="M183.4 116.7l-7.1 2.3-0.4 2.5 7.1-2.5z" color="#21a3e3"/>
<path d="M176.3 119l-7.2 2.2-0.4 2.8 7.2-2.5z" color="#23a0e5"/>
<path d="M169.1 121.2l-7.2 2.3-0.4 3 7.2-2.5z" color="#259de7"/>
<path d="M305.6 82.7l-7.1 1.5-0.4 0 7.1-1.6z" color="#16bfb7"/>
<path d="M298.5 84.2l-7.2 1.6-0.4 0 7.2-1.6z" color="#15bfb8"/>
<path d="M291.3 85.8l-7.2 1.7-0.4 0 7.2-1.7z" color="#13beb8"/>
<path d="M284.1 87.5l-7.1 1.7-0.4 0.1 7.1-1.8z" color="#11beb9"/>
<path d="M277 89.2l-7.2 1.7-0.4 0.2 7.2-1.8z" color="#0ebebb"/>
<path d="M269.8 90.9l-7.2 1.8-0.3 0.3 7.1-1.9z" color="#0bbdbd"/>
<path d="M262.6 92.7l-7.1 1.8-0.4 0.4 7.2-1.9z" color="#08bcbf"/>
<path d="M255.5 94.5l-7.2 1.9-0.4 0.5 7.2-2z" color="#05bbc1"/>
<path d="M248.3 96.4l-7.2 1.9-0.3 0.6 7.1-2z" color="#02bbc3"/>
<path d="M241.1 98.3l-7.1 1.9-0.4 0.8 7.2-2.1z" color="#01bac6"/>
<path d="M234 100.2l-7.2 2-0.4 1 7.2-2.2z" color="#01b8c8"/>
<path d="M226.8 102.2l-7.2 2-0.3 1.2 7.1-2.2z" color="#02b7cb"/>
<path d="M219.6 104.2l-7.1 2-0.4 1.4 7.2-2.2z" color="#06b5ce"/>
<path d="M212.5 106.2l-7.2 2.1-0.4 1.6 7.2-2.3z" color="#0ab4d2"/>
<path d="M205.3 108.3l-7.2 2.1-0.3 1.8 7.1-2.3z" color="#0fb2d5"/>
<path d="M198.1 110.4l-7.1 2-0.4 2 7.2-2.2z" color="#14b0d8"/>
<path d="M191 112.4l-7.2 2.1-0.4 2.2 7.2-2.3z" color="#17aeda"/>
<path d="M183.8 114.5l-7.1 2-0.4 2.5 7.1-2.3z" color="#1aacdd"/>
<path d="M176.7 116.5l-7.2 2.1-0.4 2.6 7.2-2.2z" color="#1caadf"/>
<path d="M169.5 118.6l-7.2 2.1-0.4 2.8 7.2-2.3z" color="#1ea7e1"/>
<path d="M306 82.8l-7.2 1.5-0.3-0.1 7.1-1.5z" color="#16bfb7"/>
<path d="M298.8 84.3l-7.1 1.6-0.4-0.1 7.2-1.6z" color="#15bfb7"/>
<path d="M291.7 85.9l-7.2 1.6-0.4 0 7.2-1.7z" color="#14bfb8"/>
<path d="M284.5 87.5l-7.1 1.6-0.4 0.1 7.1-1.7z" color="#13beb9"/>
<path d="M277.4 89.1l-7.2 1.7-0.4 0.1 7.2-1.7z" color="#11beba"/>
<path d="M270.2 90.8l-7.2 1.6-0.4 0.3 7.2-1.8z" color="#0fbebb"/>
<path d="M263 92.4l-7.1 1.7-0.4 0.4 7.1-1.8z" color="#0cbdbc"/>
<path d="M255.9 94.1l-7.2 1.8-0.4 0.5 7.2-1.9z" color="#0abdbe"/>
<path d="M248.7 95.9l-7.2 1.7-0.4 0.7 7.2-1.9z" color="#07bcbf"/>
<path d="M241.5 97.6l-7.1 1.8-0.4 0.8 7.1-1.9z" color="#05bbc1"/>
<path d="M234.4 99.4l-7.2 1.7-0.4 1.1 7.2-2z" color="#02bbc3"/>
<path d="M227.2 101.1l-7.2 1.9-0.4 1.2 7.2-2z" color="#02bac5"/>
<path d="M220 103l-7.1 1.8-0.4 1.4 7.1-2z" color="#01b9c7"/>
<path d="M212.9 104.8l-7.2 1.9-0.4 1.6 7.2-2.1z" color="#01b8ca"/>
<path d="M205.7 106.7l-7.2 1.8-0.4 1.9 7.2-2.1z" color="#03b7cc"/>
<path d="M198.5 108.5l-7.1 1.8-0.4 2.1 7.1-2z" color="#05b6ce"/>
<path d="M191.4 110.3l-7.2 1.9-0.4 2.3 7.2-2.1z" color="#08b5d0"/>
<path d="M184.2 112.2l-7.2 1.8-0.3 2.5 7.1-2z" color="#0bb3d2"/>
<path d="M177 114l-7.1 1.9-0.4 2.7 7.2-2.1z" color="#0fb2d4"/>
<path d="M169.9 115.9l-7.2 1.8-0.4 3 7.2-2.1z" color="#12b1d7"/>
<path d="M306.4 82.9l-7.2 1.5-0.4-0.1 7.2-1.5z" color="#16bfb7"/>
<path d="M299.2 84.4l-7.1 1.6-0.4-0.1 7.1-1.6z" color="#16bfb7"/>
<path d="M292.1 86l-7.2 1.5-0.4 0 7.2-1.6z" color="#15bfb7"/>
<path d="M284.9 87.5l-7.2 1.5-0.3 0.1 7.1-1.6z" color="#14bfb8"/>
<path d="M277.7 89l-7.1 1.6-0.4 0.2 7.2-1.7z" color="#13beb8"/>
<path d="M270.6 90.6l-7.2 1.6-0.4 0.2 7.2-1.6z" color="#12beb9"/>
<path d="M263.4 92.2l-7.1 1.5-0.4 0.4 7.1-1.7z" color="#11beba"/>
<path d="M256.3 93.7l-7.2 1.6-0.4 0.6 7.2-1.8z" color="#0fbeba"/>
<path d="M249.1 95.3l-7.2 1.6-0.4 0.7 7.2-1.7z" color="#0dbdbb"/>
<path d="M241.9 96.9l-7.1 1.6-0.4 0.9 7.1-1.8z" color="#0cbdbc"/>
<path d="M234.8 98.5l-7.2 1.6-0.4 1 7.2-1.7z" color="#0abdbd"/>
<path d="M227.6 100.1l-7.2 1.6-0.4 1.3 7.2-1.9z" color="#09bcbe"/>
<path d="M220.4 101.7l-7.1 1.7-0.4 1.4 7.1-1.8z" color="#07bcc0"/>
<path d="M213.3 103.4l-7.2 1.6-0.4 1.7 7.2-1.9z" color="#05bbc1"/>
<path d="M206.1 105l-7.2 1.6-0.4 1.9 7.2-1.8z" color="#03bbc2"/>
<path d="M198.9 106.6l-7.1 1.7-0.4 2 7.1-1.8z" color="#02bac3"/>
<path d="M191.8 108.3l-7.2 1.6-0.4 2.3 7.2-1.9z" color="#02bac5"/>
<path d="M184.6 109.9l-7.2 1.6-0.4 2.5 7.2-1.8z" color="#01b9c6"/>
<path d="M177.4 111.5l-7.1 1.7-0.4 2.7 7.1-1.9z" color="#01b9c7"/>
<path d="M170.3 113.2l-7.2 1.6-0.4 2.9 7.2-1.8z" color="#01b8c8"/>
<path d="M306.8 83l-7.2 1.5-0.4-0.1 7.2-1.5z" color="#16bfb7"/>
<path d="M299.6 84.5l-7.1 1.5-0.4 0 7.1-1.6z" color="#16bfb7"/>
<path d="M292.5 86l-7.2 1.5-0.4 0 7.2-1.5z" color="#16bfb7"/>
<path d="M285.3 87.5l-7.2 1.5-0.4 0 7.2-1.5z" color="#16bfb7"/>
<path d="M278.1 89l-7.1 1.4-0.4 0.2 7.1-1.6z" color="#16bfb7"/>
<path d="M271 90.4l-7.2 1.5-0.4 0.3 7.2-1.6z" color="#16bfb7"/>
<path d="M263.8 91.9l-7.2 1.4-0.3 0.4 7.1-1.5z" color="#16bfb7"/>
<path d="M256.6 93.3l-7.1 1.5-0.4 0.5 7.2-1.6z" color="#15bfb7"/>
<path d="M249.5 94.8l-7.2 1.4-0.4 0.7 7.2-1.6z" color="#15bfb7"/>
<path d="M242.3 96.2l-7.1 1.5-0.4 0.8 7.1-1.6z" color="#15bfb7"/>
<path d="M235.2 97.7l-7.2 1.4-0.4 1 7.2-1.6z" color="#15bfb7"/>
<path d="M228 99.1l-7.2 1.4-0.4 1.2 7.2-1.6z" color="#15bfb8"/>
<path d="M220.8 100.5l-7.1 1.4-0.4 1.5 7.1-1.7z" color="#14bfb8"/>
<path d="M213.7 101.9l-7.2 1.5-0.4 1.6 7.2-1.6z" color="#14bfb8"/>
<path d="M206.5 103.4l-7.2 1.4-0.4 1.8 7.2-1.6z" color="#14beb8"/>
<path d="M199.3 104.8l-7.1 1.4-0.4 2.1 7.1-1.7z" color="#14beb8"/>
<path d="M192.2 106.2l-7.2 1.4-0.4 2.3 7.2-1.6z" color="#14beb8"/>
<path d="M185 107.6l-7.2 1.4-0.4 2.5 7.2-1.6z" color="#13beb8"/>
<path d="M177.8 109l-7.1 1.4-0.4 2.8 7.1-1.7z" color="#13beb8"/>
<path d="M170.7 110.4l-7.2 1.4-0.4 3 7.2-1.6z" color="#13beb9"/>
</g></g>
<path d="M44.50 117.20L44.50 36.70" stroke="#262626" stroke-width="0.7" fill="none"/>
<path d="M44.50 117.20L163.50 153.30" stroke="#262626" stroke-width="0.7" fill="none"/>
<path d="M163.50 153.30L306.80 123.30" stroke="#262626" stroke-width="0.7" fill="none"/>
<path d="M306.80 123.30L309.58 124.14" stroke="#262626" stroke-width="0.7" fill="none"/>
<path d="M259.03 133.30L261.81 134.14" stroke="#262626" stroke-width="0.7" fill="none"/>
<path d="M211.27 143.30L214.04 144.14" stroke="#262626" stroke-width="0.7" fill="none"/>
<path d="M163.50 153.30L166.28 154.14" stroke="#262626" stroke-width="0.7" fill="none"/>
<path d="M163.50 153.30L160.66 153.89" stroke="#262626" stroke-width="0.7" fill="none"/>
<path d="M104.00 135.25L101.16 135.84" stroke="#262626" stroke-width="0.7" fill="none"/>
<path d="M44.50 117.20L41.66 117.79" stroke="#262626" stroke-width="0.7" fill="none"/>
<path d="M44.50 117.20L41.72 116.36" stroke="#262626" stroke-width="0.7" fill="none"/>
<path d="M44.50 97.08L41.72 96.23" stroke="#262626" stroke-width="0.7" fill="none"/>
<path d="M44.50 76.95L41.72 76.11" stroke="#262626" stroke-width="0.7" fill="none"/>
<path d="M44.50 56.83L41.72 55.98" stroke="#262626" stroke-width="0.7" fill="none"/>
<path d="M44.50 36.70L41.72 35.86" stroke="#262626" stroke-width="0.7" fill="none"/>
<path d="M655.50 118.00L535.60 82.60" stroke="#e3e3e3" stroke-width="0.6" fill="none"/>
<path d="M535.60 82.60L535.60 2.60" stroke="#e3e3e3" stroke-width="0.6" fill="none"/>
<path d="M608.13 128.07L488.23 92.67" stroke="#e3e3e3" stroke-width="0.6" fill="none"/>
<path d="M488.23 92.67L488.23 12.67" stroke="#e3e3e3" stroke-width="0.6" fill="none"/>
<path d="M560.77 138.13L440.87 102.73" stroke="#e3e3e3" stroke-width="0.6" fill="none"/>
<path d="M440.87 102.73L440.87 22.73" stroke="#e3e3e3" stroke-width="0.6" fill="none"/>
<path d="M513.40 148.20L393.50 112.80" stroke="#e3e3e3" stroke-width="0.6" fill="none"/>
<path d="M393.50 112.80L393.50 32.80" stroke="#e3e3e3" stroke-width="0.6" fill="none"/>
<path d="M655.50 118.00L513.40 148.20" stroke="#e3e3e3" stroke-width="0.6" fill="none"/>
<path d="M655.50 118.00L655.50 38.00" stroke="#e3e3e3" stroke-width="0.6" fill="none"/>
<path d="M595.55 100.30L453.45 130.50" stroke="#e3e3e3" stroke-width="0.6" fill="none"/>
<path d="M595.55 100.30L595.55 20.30" stroke="#e3e3e3" stroke-width="0.6" fill="none"/>
<path d="M535.60 82.60L393.50 112.80" stroke="#e3e3e3" stroke-width="0.6" fill="none"/>
<path d="M535.60 82.60L535.60 2.60" stroke="#e3e3e3" stroke-width="0.6" fill="none"/>
<path d="M393.50 104.80L535.60 74.60" stroke="#e3e3e3" stroke-width="0.6" fill="none"/>
<path d="M535.60 74.60L655.50 110.00" stroke="#e3e3e3" stroke-width="0.6" fill="none"/>
<path d="M393.50 88.80L535.60 58.60" stroke="#e3e3e3" stroke-width="0.6" fill="none"/>
<path d="M535.60 58.60L655.50 94.00" stroke="#e3e3e3" stroke-width="0.6" fill="none"/>
<path d="M393.50 72.80L535.60 42.60" stroke="#e3e3e3" stroke-width="0.6" fill="none"/>
<path d="M535.60 42.60L655.50 78.00" stroke="#e3e3e3" stroke-width="0.6" fill="none"/>
<path d="M393.50 56.80L535.60 26.60" stroke="#e3e3e3" stroke-width="0.6" fill="none"/>
<path d="M535.60 26.60L655.50 62.00" stroke="#e3e3e3" stroke-width="0.6" fill="none"/>
<path d="M393.50 40.80L535.60 10.60" stroke="#e3e3e3" stroke-width="0.6" fill="none"/>
<path d="M535.60 10.60L655.50 46.00" stroke="#e3e3e3" stroke-width="0.6" fill="none"/>
<g stroke-width="0.5" stroke-linejoin="round"><g class="s">
<path d="M601.7 62.1l-142.1 30.2-66.1-19.5 142.1-30.2z" color="#0dbdbc"/>
<path d="M602.3 62.3l-7.1 1.5-0.6-0.2 7.1-1.5z" color="#0dbdbc"/>
<path d="M595.2 63.8l-7.1 1.5-0.6-0.2 7.1-1.5z" color="#0dbdbc"/>
<path d="M588.1 65.3l-7.2 1.5-0.6-0.2 7.2-1.5z" color="#0dbdbc"/>
<path d="M580.9 66.8l-7.1 1.5-0.6-0.2 7.1-1.5z" color="#0dbdbc"/>
<path d="M573.8 68.3l-7.1 1.5-0.6-0.1 7.1-1.6z" color="#0dbdbc"/>
<path d="M566.7 69.8l-7.1 1.5-0.6-0.1 7.1-1.5z" color="#0dbdbc"/>
<path d="M559.6 71.3l-7.1 1.5-0.6-0.1 7.1-1.5z" color="#0dbdbc"/>
<path d="M552.5 72.8l-7.1 1.5-0.6-0.1 7.1-1.5z" color="#0dbdbb"/>
<path d="M545.4 74.3l-7.1 1.4-0.6 0 7.1-1.5z" color="#0dbdbb"/>
<path d="M538.3 75.7l-7.1 1.5-0.6 0 7.1-1.5z" color="#0ebdbb"/>
<path d="M531.2 77.2l-7.1 1.5-0.6 0 7.1-1.5z" color="#0ebdbb"/>
<path d="M524.1 78.7l-7.1 1.5-0.6 0 7.1-1.5z" color="#0ebdbb"/>
<path d="M517 80.2l-7.1 1.5-0.6 0 7.1-1.5z" color="#0ebdbb"/>
<path d="M509.9 81.7l-7.1 1.5-0.6 0 7.1-1.5z" color="#0ebebb"/>
<path d="M502.8 83.2l-7.1 1.5-0.6 0.1 7.1-1.6z" color="#0ebebb"/>
<path d="M495.7 84.7l-7.1 1.4-0.6 0.2 7.1-1.5z" color="#0ebebb"/>
<path d="M488.6 86.1l-7.1 1.5-0.6 0.2 7.1-1.5z" color="#0fbebb"/>
<path d="M481.5 87.6l-7.1 1.5-0.6 0.2 7.1-1.5z" color="#0fbebb"/>
<path d="M474.4 89.1l-7.1 1.5-0.6 0.2 7.1-1.5z" color="#0fbebb"/>
<path d="M467.3 90.6l-7.1 1.5-0.6 0.2 7.1-1.5z" color="#0fbebb"/>
<path d="M603.5 62.6l-7.1 1.5-1.2-0.3 7.1-1.5z" color="#0dbdbc"/>
<path d="M596.4 64.1l-7.1 1.5-1.2-0.3 7.1-1.5z" color="#0dbdbc"/>
<path d="M589.3 65.6l-7.2 1.5-1.2-0.3 7.2-1.5z" color="#0dbdbc"/>
<path d="M582.1 67.1l-7.1 1.5-1.2-0.3 7.1-1.5z" color="#0dbdbc"/>
<path d="M575 68.6l-7.1 1.5-1.2-0.3 7.1-1.5z" color="#0dbdbb"/>
<path d="M567.9 70.1l-7.1 1.4-1.2-0.2 7.1-1.5z" color="#0ebdbb"/>
<path d="M560.8 71.5l-7.1 1.5-1.2-0.2 7.1-1.5z" color="#0ebdbb"/>
<path d="M553.7 73l-7.1 1.4-1.2-0.1 7.1-1.5z" color="#0fbebb"/>
<path d="M546.6 74.4l-7.1 1.4-1.2-0.1 7.1-1.4z" color="#0fbeba"/>
<path d="M539.5 75.8l-7.1 1.5-1.2-0.1 7.1-1.5z" color="#10beba"/>
<path d="M532.4 77.3l-7.1 1.4-1.2 0 7.1-1.5z" color="#11beba"/>
<path d="M525.3 78.7l-7.1 1.4-1.2 0.1 7.1-1.5z" color="#11beb9"/>
<path d="M518.2 80.1l-7.1 1.5-1.2 0.1 7.1-1.5z" color="#12beb9"/>
<path d="M511.1 81.6l-7.1 1.4-1.2 0.2 7.1-1.5z" color="#13beb9"/>
<path d="M504 83l-7.1 1.4-1.2 0.3 7.1-1.5z" color="#13beb8"/>
<path d="M496.9 84.4l-7.1 1.5-1.2 0.2 7.1-1.4z" color="#14beb8"/>
<path d="M489.8 85.9l-7.1 1.4-1.2 0.3 7.1-1.5z" color="#14bfb8"/>
<path d="M482.7 87.3l-7.1 1.4-1.2 0.4 7.1-1.5z" color="#15bfb8"/>
<path d="M475.6 88.7l-7.1 1.5-1.2 0.4 7.1-1.5z" color="#15bfb7"/>
<path d="M468.5 90.2l-7.1 1.4-1.2 0.5 7.1-1.5z" color="#15bfb7"/>
<path d="M604.7 63l-7.1 1.5-1.2-0.4 7.1-1.5z" color="#0dbdbc"/>
<path d="M597.6 64.5l-7.1 1.5-1.2-0.4 7.1-1.5z" color="#0dbdbc"/>
<path d="M590.5 66l-7.2 1.5-1.2-0.4 7.2-1.5z" color="#0dbdbc"/>
<path d="M583.3 67.5l-7.1 1.4-1.2-0.3 7.1-1.5z" color="#0dbdbb"/>
<path d="M576.2 68.9l-7.1 1.5-1.2-0.3 7.1-1.5z" color="#0ebdbb"/>
<path d="M569.1 70.4l-7.1 1.4-1.2-0.3 7.1-1.4z" color="#0ebebb"/>
<path d="M562 71.8l-7.1 1.4-1.2-0.2 7.1-1.5z" color="#0fbeba"/>
<path d="M554.9 73.2l-7.1 1.4-1.2-0.2 7.1-1.4z" color="#10beba"/>
<path d="M547.8 74.6l-7.1 1.3-1.2-0.1 7.1-1.4z" color="#12beb9"/>
<path d="M540.7 75.9l-7.1 1.4-1.2 0 7.1-1.5z" color="#13beb8"/>
<path d="M533.6 77.3l-7.1 1.4-1.2 0 7.1-1.4z" color="#15bfb8"/>
<path d="M526.5 78.7l-7.1 1.4-1.2 0 7.1-1.4z" color="#16bfb7"/>
<path d="M519.4 80.1l-7.1 1.4-1.2 0.1 7.1-1.5z" color="#18bfb6"/>
<path d="M512.3 81.5l-7.1 1.4-1.2 0.1 7.1-1.4z" color="#19bfb5"/>
<path d="M505.2 82.9l-7.1 1.3-1.2 0.2 7.1-1.4z" color="#1abfb5"/>
<path d="M498.1 84.2l-7.1 1.4-1.2 0.3 7.1-1.5z" color="#1ac0b4"/>
<path d="M491 85.6l-7.1 1.4-1.2 0.3 7.1-1.4z" color="#1bc0b4"/>
<path d="M483.9 87l-7.1 1.4-1.2 0.3 7.1-1.4z" color="#1cc0b4"/>
<path d="M476.8 88.4l-7.1 1.4-1.2 0.4 7.1-1.5z" color="#1cc0b3"/>
<path d="M469.7 89.8l-7.1 1.3-1.2 0.5 7.1-1.4z" color="#1dc0b3"/>
<path d="M605.9 63.3l-7.1 1.5-1.2-0.3 7.1-1.5z" color="#0dbdbc"/>
<path d="M598.8 64.8l-7.1 1.5-1.2-0.3 7.1-1.5z" color="#0dbdbc"/>
<path d="M591.7 66.3l-7.2 1.5-1.2-0.3 7.2-1.5z" color="#0dbdbb"/>
<path d="M584.5 67.8l-7.1 1.5-1.2-0.4 7.1-1.4z" color="#0ebdbb"/>
<path d="M577.4 69.3l-7.1 1.4-1.2-0.3 7.1-1.5z" color="#0ebebb"/>
<path d="M570.3 70.7l-7.1 1.3-1.2-0.2 7.1-1.4z" color="#0fbeba"/>
<path d="M563.2 72l-7.1 1.4-1.2-0.2 7.1-1.4z" color="#11beba"/>
<path d="M556.1 73.4l-7.1 1.3-1.2-0.1 7.1-1.4z" color="#12beb9"/>
<path d="M549 74.7l-7.1 1.3-1.2-0.1 7.1-1.3z" color="#14beb8"/>
<path d="M541.9 76l-7.1 1.3-1.2 0 7.1-1.4z" color="#16bfb7"/>
<path d="M534.8 77.3l-7.1 1.4-1.2 0 7.1-1.4z" color="#18bfb6"/>
<path d="M527.7 78.7l-7.1 1.3-1.2 0.1 7.1-1.4z" color="#1ac0b4"/>
<path d="M520.6 80l-7.1 1.4-1.2 0.1 7.1-1.4z" color="#1cc0b3"/>
<path d="M513.5 81.4l-7.1 1.3-1.2 0.2 7.1-1.4z" color="#1ec0b2"/>
<path d="M506.4 82.7l-7.1 1.3-1.2 0.2 7.1-1.3z" color="#1fc0b2"/>
<path d="M499.3 84l-7.1 1.4-1.2 0.2 7.1-1.4z" color="#20c1b1"/>
<path d="M492.2 85.4l-7.1 1.3-1.2 0.3 7.1-1.4z" color="#21c1b0"/>
<path d="M485.1 86.7l-7.1 1.3-1.2 0.4 7.1-1.4z" color="#22c1af"/>
<path d="M478 88l-7.1 1.3-1.2 0.5 7.1-1.4z" color="#23c1af"/>
<path d="M470.9 89.3l-7.1 1.4-1.2 0.4 7.1-1.3z" color="#24c1ae"/>
<path d="M607.1 63.7l-7.1 1.5-1.2-0.4 7.1-1.5z" color="#0dbdbc"/>
<path d="M600 65.2l-7.1 1.5-1.2-0.4 7.1-1.5z" color="#0dbdbc"/>
<path d="M592.9 66.7l-7.2 1.5-1.2-0.4 7.2-1.5z" color="#0dbdbb"/>
<path d="M585.7 68.2l-7.1 1.4-1.2-0.3 7.1-1.5z" color="#0ebdbb"/>
<path d="M578.6 69.6l-7.1 1.4-1.2-0.3 7.1-1.4z" color="#0fbebb"/>
<path d="M571.5 71l-7.1 1.3-1.2-0.3 7.1-1.3z" color="#10beba"/>
<path d="M564.4 72.3l-7.1 1.3-1.2-0.2 7.1-1.4z" color="#12beb9"/>
<path d="M557.3 73.6l-7.1 1.2-1.2-0.1 7.1-1.3z" color="#14beb8"/>
<path d="M550.2 74.8l-7.1 1.3-1.2-0.1 7.1-1.3z" color="#17bfb7"/>
<path d="M543.1 76.1l-7.1 1.3-1.2-0.1 7.1-1.3z" color="#19bfb5"/>
<path d="M536 77.4l-7.1 1.2-1.2 0.1 7.1-1.4z" color="#1cc0b4"/>
<path d="M528.9 78.6l-7.1 1.3-1.2 0.1 7.1-1.3z" color="#1ec0b2"/>
<path d="M521.8 79.9l-7.1 1.3-1.2 0.2 7.1-1.4z" color="#21c1b0"/>
<path d="M514.7 81.2l-7.1 1.3-1.2 0.2 7.1-1.3z" color="#23c1af"/>
<path d="M507.6 82.5l-7.1 1.3-1.2 0.2 7.1-1.3z" color="#24c2ae"/>
<path d="M500.5 83.8l-7.1 1.3-1.2 0.3 7.1-1.4z" color="#25c2ad"/>
<path d="M493.4 85.1l-7.1 1.3-1.2 0.3 7.1-1.3z" color="#26c2ac"/>
<path d="M486.3 86.4l-7.1 1.2-1.2 0.4 7.1-1.3z" color="#27c2ab"/>
<path d="M479.2 87.6l-7.1 1.3-1.2 0.4 7.1-1.3z" color="#28c3aa"/>
<path d="M472.1 88.9l-7.1 1.3-1.2 0.5 7.1-1.4z" color="#29c3aa"/>
<path d="M608.3 64.1l-7.1 1.4-1.2-0.3 7.1-1.5z" color="#0dbdbc"/>
<path d="M601.2 65.5l-7.2 1.5-1.1-0.3 7.1-1.5z" color="#0dbdbb"/>
<path d="M594 67l-7.1 1.5-1.2-0.3 7.2-1.5z" color="#0dbdbb"/>
<path d="M586.9 68.5l-7.1 1.4-1.2-0.3 7.1-1.4z" color="#0ebdbb"/>
<path d="M579.8 69.9l-7.1 1.3-1.2-0.2 7.1-1.4z" color="#0fbeba"/>
<path d="M572.7 71.2l-7.1 1.4-1.2-0.3 7.1-1.3z" color="#11beb9"/>
<path d="M565.6 72.6l-7.1 1.2-1.2-0.2 7.1-1.3z" color="#13beb8"/>
<path d="M558.5 73.8l-7.1 1.2-1.2-0.2 7.1-1.2z" color="#16bfb7"/>
<path d="M551.4 75l-7.1 1.2-1.2-0.1 7.1-1.3z" color="#19bfb5"/>
<path d="M544.3 76.2l-7.1 1.2-1.2 0 7.1-1.3z" color="#1cc0b4"/>
<path d="M537.2 77.4l-7.1 1.2-1.2 0 7.1-1.2z" color="#1fc0b2"/>
<path d="M530.1 78.6l-7.1 1.3-1.2 0 7.1-1.3z" color="#22c1af"/>
<path d="M523 79.9l-7.1 1.2-1.2 0.1 7.1-1.3z" color="#25c2ae"/>
<path d="M515.9 81.1l-7.1 1.3-1.2 0.1 7.1-1.3z" color="#27c2ac"/>
<path d="M508.8 82.4l-7.1 1.2-1.2 0.2 7.1-1.3z" color="#28c3ab"/>
<path d="M501.7 83.6l-7.1 1.2-1.2 0.3 7.1-1.3z" color="#29c3a9"/>
<path d="M494.6 84.8l-7.1 1.3-1.2 0.3 7.1-1.3z" color="#2bc3a8"/>
<path d="M487.5 86.1l-7.1 1.2-1.2 0.3 7.1-1.2z" color="#2cc4a7"/>
<path d="M480.4 87.3l-7.1 1.2-1.2 0.4 7.1-1.3z" color="#2dc4a6"/>
<path d="M473.3 88.5l-7.1 1.2-1.2 0.5 7.1-1.3z" color="#2dc4a5"/>
<path d="M609.5 64.4l-7.1 1.5-1.2-0.4 7.1-1.4z" color="#0dbdbc"/>
<path d="M602.4 65.9l-7.2 1.5-1.2-0.4 7.2-1.5z" color="#0dbdbb"/>
<path d="M595.2 67.4l-7.1 1.4-1.2-0.3 7.1-1.5z" color="#0ebdbb"/>
<path d="M588.1 68.8l-7.1 1.4-1.2-0.3 7.1-1.4z" color="#0ebebb"/>
<path d="M581 70.2l-7.1 1.3-1.2-0.3 7.1-1.3z" color="#10beba"/>
<path d="M573.9 71.5l-7.1 1.3-1.2-0.2 7.1-1.4z" color="#12beb9"/>
<path d="M566.8 72.8l-7.1 1.1-1.2-0.1 7.1-1.2z" color="#15bfb7"/>
<path d="M559.7 73.9l-7.1 1.2-1.2-0.1 7.1-1.2z" color="#18bfb6"/>
<path d="M552.6 75.1l-7.1 1.1-1.2 0 7.1-1.2z" color="#1bc0b4"/>
<path d="M545.5 76.2l-7.1 1.1-1.2 0.1 7.1-1.2z" color="#1fc0b2"/>
<path d="M538.4 77.3l-7.1 1.2-1.2 0.1 7.1-1.2z" color="#23c1af"/>
<path d="M531.3 78.5l-7.1 1.1-1.2 0.3 7.1-1.3z" color="#26c2ac"/>
<path d="M524.2 79.6l-7.1 1.2-1.2 0.3 7.1-1.2z" color="#29c3aa"/>
<path d="M517.1 80.8l-7.1 1.2-1.2 0.4 7.1-1.3z" color="#2bc3a8"/>
<path d="M510 82l-7.1 1.2-1.2 0.4 7.1-1.2z" color="#2cc4a6"/>
<path d="M502.9 83.2l-7.1 1.1-1.2 0.5 7.1-1.2z" color="#2ec4a5"/>
<path d="M495.8 84.3l-7.1 1.2-1.2 0.6 7.1-1.3z" color="#2fc5a3"/>
<path d="M488.7 85.5l-7.1 1.1-1.2 0.7 7.1-1.2z" color="#30c5a2"/>
<path d="M481.6 86.6l-7.1 1.2-1.2 0.7 7.1-1.2z" color="#31c6a0"/>
<path d="M474.5 87.8l-7.1 1.1-1.2 0.8 7.1-1.2z" color="#32c69f"/>
<path d="M610.7 64.8l-7.1 1.4-1.2-0.3 7.1-1.5z" color="#0dbdbc"/>
<path d="M603.6 66.2l-7.2 1.5-1.2-0.3 7.2-1.5z" color="#0dbdbb"/>
<path d="M596.4 67.7l-7.1 1.4-1.2-0.3 7.1-1.4z" color="#0ebdbb"/>
<path d="M589.3 69.1l-7.1 1.4-1.2-0.3 7.1-1.4z" color="#0fbebb"/>
<path d="M582.2 70.5l-7.1 1.2-1.2-0.2 7.1-1.3z" color="#11beba"/>
<path d="M575.1 71.7l-7.1 1.2-1.2-0.1 7.1-1.3z" color="#14beb8"/>
<path d="M568 72.9l-7.1 1.1-1.2-0.1 7.1-1.1z" color="#17bfb6"/>
<path d="M560.9 74l-7.1 1-1.2 0.1 7.1-1.2z" color="#1bc0b4"/>
<path d="M553.8 75l-7.1 1-1.2 0.2 7.1-1.1z" color="#1fc0b2"/>
<path d="M546.7 76l-7.1 1-1.2 0.3 7.1-1.1z" color="#23c1af"/>
<path d="M539.6 77l-7.1 1.1-1.2 0.4 7.1-1.2z" color="#27c2ac"/>
<path d="M532.5 78.1l-7.1 1-1.2 0.5 7.1-1.1z" color="#2bc3a8"/>
<path d="M525.4 79.1l-7.1 1.1-1.2 0.6 7.1-1.2z" color="#2dc4a5"/>
<path d="M518.3 80.2l-7.1 1.1-1.2 0.7 7.1-1.2z" color="#2fc5a2"/>
<path d="M511.2 81.3l-7.1 1.1-1.2 0.8 7.1-1.2z" color="#31c6a0"/>
<path d="M504.1 82.4l-7.1 1-1.2 0.9 7.1-1.1z" color="#33c69e"/>
<path d="M497 83.4l-7.1 1.1-1.2 1 7.1-1.2z" color="#34c79b"/>
<path d="M489.9 84.5l-7.1 1-1.2 1.1 7.1-1.1z" color="#35c799"/>
<path d="M482.8 85.5l-7.1 1.1-1.2 1.2 7.1-1.2z" color="#37c898"/>
<path d="M475.7 86.6l-7.1 1-1.2 1.3 7.1-1.1z" color="#38c896"/>
<path d="M611.9 65.1l-7.1 1.5-1.2-0.4 7.1-1.4z" color="#0dbdbc"/>
<path d="M604.8 66.6l-7.2 1.4-1.2-0.3 7.2-1.5z" color="#0dbdbb"/>
<path d="M597.6 68l-7.1 1.5-1.2-0.4 7.1-1.4z" color="#0ebdbb"/>
<path d="M590.5 69.5l-7.1 1.3-1.2-0.3 7.1-1.4z" color="#0fbeba"/>
<path d="M583.4 70.8l-7.1 1.2-1.2-0.3 7.1-1.2z" color="#12beb9"/>
<path d="M576.3 72l-7.1 1.1-1.2-0.2 7.1-1.2z" color="#15bfb7"/>
<path d="M569.2 73.1l-7.1 0.9-1.2 0 7.1-1.1z" color="#1abfb5"/>
<path d="M562.1 74l-7.1 0.9-1.2 0.1 7.1-1z" color="#1ec0b2"/>
<path d="M555 74.9l-7.1 0.9-1.2 0.2 7.1-1z" color="#23c1af"/>
<path d="M547.9 75.8l-7.1 0.9-1.2 0.3 7.1-1z" color="#27c2ab"/>
<path d="M540.8 76.7l-7.1 1-1.2 0.4 7.1-1.1z" color="#2cc4a7"/>
<path d="M533.7 77.7l-7.1 0.9-1.2 0.5 7.1-1z" color="#2fc5a3"/>
<path d="M526.6 78.6l-7.1 1.1-1.2 0.5 7.1-1.1z" color="#32c69e"/>
<path d="M519.5 79.7l-7.1 1-1.2 0.6 7.1-1.1z" color="#35c79b"/>
<path d="M512.4 80.7l-7.1 0.9-1.2 0.8 7.1-1.1z" color="#37c898"/>
<path d="M505.3 81.6l-7.1 0.9-1.2 0.9 7.1-1z" color="#39c995"/>
<path d="M498.2 82.5l-7.1 1-1.2 1 7.1-1.1z" color="#3cc992"/>
<path d="M491.1 83.5l-7.1 0.9-1.2 1.1 7.1-1z" color="#3eca8f"/>
<path d="M484 84.4l-7.1 0.9-1.2 1.3 7.1-1.1z" color="#41ca8d"/>
<path d="M476.9 85.3l-7.1 1-1.2 1.3 7.1-1z" color="#43ca8a"/>
<path d="M613.1 65.5l-7.1 1.4-1.2-0.3 7.1-1.5z" color="#0dbdbc"/>
<path d="M606 66.9l-7.2 1.5-1.2-0.4 7.2-1.4z" color="#0ebdbb"/>
<path d="M598.8 68.4l-7.1 1.4-1.2-0.3 7.1-1.5z" color="#0ebebb"/>
<path d="M591.7 69.8l-7.1 1.3-1.2-0.3 7.1-1.3z" color="#10beba"/>
<path d="M584.6 71.1l-7.1 1.1-1.2-0.2 7.1-1.2z" color="#13beb8"/>
<path d="M577.5 72.2l-7.1 1-1.2-0.1 7.1-1.1z" color="#17bfb6"/>
<path d="M570.4 73.2l-7.1 0.9-1.2-0.1 7.1-0.9z" color="#1cc0b4"/>
<path d="M563.3 74.1l-7.1 0.7-1.2 0.1 7.1-0.9z" color="#21c1b0"/>
<path d="M556.2 74.8l-7.1 0.8-1.2 0.2 7.1-0.9z" color="#26c2ac"/>
<path d="M549.1 75.6l-7.1 0.8-1.2 0.3 7.1-0.9z" color="#2bc3a8"/>
<path d="M542 76.4l-7.1 0.9-1.2 0.4 7.1-1z" color="#2fc5a3"/>
<path d="M534.9 77.3l-7.1 0.8-1.2 0.5 7.1-0.9z" color="#33c69d"/>
<path d="M527.8 78.1l-7.1 1-1.2 0.6 7.1-1.1z" color="#37c898"/>
<path d="M520.7 79.1l-7.1 0.9-1.2 0.7 7.1-1z" color="#3bc993"/>
<path d="M513.6 80l-7.1 0.8-1.2 0.8 7.1-0.9z" color="#3eca8f"/>
<path d="M506.5 80.8l-7.1 0.9-1.2 0.8 7.1-0.9z" color="#43ca8b"/>
<path d="M499.4 81.7l-7.1 0.8-1.2 1 7.1-1z" color="#47cb87"/>
<path d="M492.3 82.5l-7.1 0.8-1.2 1.1 7.1-0.9z" color="#4bcb84"/>
<path d="M485.2 83.3l-7.1 0.8-1.2 1.2 7.1-0.9z" color="#4fcc80"/>
<path d="M478.1 84.1l-7.1 0.9-1.2 1.3 7.1-1z" color="#53cc7e"/>
<path d="M614.3 65.8l-7.2 1.5-1.1-0.4 7.1-1.4z" color="#0dbdbb"/>
<path d="M607.1 67.3l-7.1 1.4-1.2-0.3 7.2-1.5z" color="#0ebdbb"/>
<path d="M600 68.7l-7.1 1.4-1.2-0.3 7.1-1.4z" color="#0fbebb"/>
<path d="M592.9 70.1l-7.1 1.2-1.2-0.2 7.1-1.3z" color="#11beba"/>
<path d="M585.8 71.3l-7.1 1.1-1.2-0.2 7.1-1.1z" color="#14bfb8"/>
<path d="M578.7 72.4l-7.1 1-1.2-0.2 7.1-1z" color="#19bfb5"/>
<path d="M571.6 73.4l-7.1 0.7-1.2 0 7.1-0.9z" color="#1ec0b2"/>
<path d="M564.5 74.1l-7.1 0.7-1.2 0 7.1-0.7z" color="#24c1ae"/>
<path d="M557.4 74.8l-7.1 0.7-1.2 0.1 7.1-0.8z" color="#29c3aa"/>
<path d="M550.3 75.5l-7.1 0.6-1.2 0.3 7.1-0.8z" color="#2ec4a4"/>
<path d="M543.2 76.1l-7.1 0.8-1.2 0.4 7.1-0.9z" color="#32c69e"/>
<path d="M536.1 76.9l-7.1 0.7-1.2 0.5 7.1-0.8z" color="#37c897"/>
<path d="M529 77.6l-7.1 0.9-1.2 0.6 7.1-1z" color="#3dc990"/>
<path d="M521.9 78.5l-7.1 0.8-1.2 0.7 7.1-0.9z" color="#43ca8b"/>
<path d="M514.8 79.3l-7.1 0.7-1.2 0.8 7.1-0.8z" color="#49cb86"/>
<path d="M507.7 80l-7.1 0.8-1.2 0.9 7.1-0.9z" color="#4fcc81"/>
<path d="M500.6 80.8l-7.1 0.7-1.2 1 7.1-0.8z" color="#55cc7c"/>
<path d="M493.5 81.5l-7.1 0.7-1.2 1.1 7.1-0.8z" color="#5acc77"/>
<path d="M486.4 82.2l-7.1 0.7-1.2 1.2 7.1-0.8z" color="#5fcd73"/>
<path d="M479.3 82.9l-7.1 0.7-1.2 1.4 7.1-0.9z" color="#63cd70"/>
<path d="M615.5 66.2l-7.2 1.4-1.2-0.3 7.2-1.5z" color="#0dbdbb"/>
<path d="M608.3 67.6l-7.1 1.4-1.2-0.3 7.1-1.4z" color="#0ebdbb"/>
<path d="M601.2 69l-7.1 1.4-1.2-0.3 7.1-1.4z" color="#0fbebb"/>
<path d="M594.1 70.4l-7.1 1.2-1.2-0.3 7.1-1.2z" color="#11beb9"/>
<path d="M587 71.6l-7.1 1-1.2-0.2 7.1-1.1z" color="#15bfb7"/>
<path d="M579.9 72.6l-7.1 0.8-1.2 0 7.1-1z" color="#1bc0b4"/>
<path d="M572.8 73.4l-7.1 0.7-1.2 0 7.1-0.7z" color="#21c1b0"/>
<path d="M565.7 74.1l-7.1 0.4-1.2 0.3 7.1-0.7z" color="#27c2ac"/>
<path d="M558.6 74.5l-7.1 0.6-1.2 0.4 7.1-0.7z" color="#2cc4a6"/>
<path d="M551.5 75.1l-7.1 0.5-1.2 0.5 7.1-0.6z" color="#31c6a0"/>
<path d="M544.4 75.6l-7.1 0.5-1.2 0.8 7.1-0.8z" color="#36c898"/>
<path d="M537.3 76.1l-7.1 0.7-1.2 0.8 7.1-0.7z" color="#3eca90"/>
<path d="M530.2 76.8l-7.1 0.7-1.2 1 7.1-0.9z" color="#47cb87"/>
<path d="M523.1 77.5l-7.1 0.7-1.2 1.1 7.1-0.8z" color="#50cc80"/>
<path d="M516 78.2l-7.1 0.6-1.2 1.2 7.1-0.7z" color="#58cc7a"/>
<path d="M508.9 78.8l-7.1 0.6-1.2 1.4 7.1-0.8z" color="#5fcd73"/>
<path d="M501.8 79.4l-7.1 0.5-1.2 1.6 7.1-0.7z" color="#66cd6d"/>
<path d="M494.7 79.9l-7.1 0.6-1.2 1.7 7.1-0.7z" color="#6dcd67"/>
<path d="M487.6 80.5l-7.1 0.6-1.2 1.8 7.1-0.7z" color="#73cd63"/>
<path d="M480.5 81.1l-7.1 0.6-1.2 1.9 7.1-0.7z" color="#79cc5e"/>
<path d="M616.7 66.5l-7.2 1.4-1.2-0.3 7.2-1.4z" color="#0dbdbb"/>
<path d="M609.5 67.9l-7.1 1.5-1.2-0.4 7.1-1.4z" color="#0ebebb"/>
<path d="M602.4 69.4l-7.1 1.3-1.2-0.3 7.1-1.4z" color="#0fbeba"/>
<path d="M595.3 70.7l-7.1 1.2-1.2-0.3 7.1-1.2z" color="#12beb9"/>
<path d="M588.2 71.9l-7.1 0.8-1.2-0.1 7.1-1z" color="#17bfb6"/>
<path d="M581.1 72.7l-7.1 0.8-1.2-0.1 7.1-0.8z" color="#1dc0b3"/>
<path d="M574 73.5l-7.1 0.5-1.2 0.1 7.1-0.7z" color="#24c1ae"/>
<path d="M566.9 74l-7.1 0.3-1.2 0.2 7.1-0.4z" color="#2ac3a9"/>
<path d="M559.8 74.3l-7.1 0.3-1.2 0.5 7.1-0.6z" color="#2fc5a2"/>
<path d="M552.7 74.6l-7.1 0.4-1.2 0.6 7.1-0.5z" color="#35c79a"/>
<path d="M545.6 75l-7.1 0.4-1.2 0.7 7.1-0.5z" color="#3dc991"/>
<path d="M538.5 75.4l-7.1 0.5-1.2 0.9 7.1-0.7z" color="#48cb86"/>
<path d="M531.4 75.9l-7.1 0.6-1.2 1 7.1-0.7z" color="#55cc7b"/>
<path d="M524.3 76.5l-7.1 0.5-1.2 1.2 7.1-0.7z" color="#60cd72"/>
<path d="M517.2 77l-7.1 0.5-1.2 1.3 7.1-0.6z" color="#6acd6a"/>
<path d="M510.1 77.5l-7.1 0.4-1.2 1.5 7.1-0.6z" color="#74cd62"/>
<path d="M503 77.9l-7.1 0.4-1.2 1.6 7.1-0.5z" color="#7dcc5b"/>
<path d="M495.9 78.3l-7.1 0.4-1.2 1.8 7.1-0.6z" color="#86cb55"/>
<path d="M488.8 78.7l-7.1 0.5-1.2 1.9 7.1-0.6z" color="#8dcb4f"/>
<path d="M481.7 79.2l-7.1 0.4-1.2 2.1 7.1-0.6z" color="#94ca4a"/>
<path d="M617.9 66.9l-7.2 1.4-1.2-0.4 7.2-1.4z" color="#0dbdbb"/>
<path d="M610.7 68.3l-7.1 1.4-1.2-0.3 7.1-1.5z" color="#0ebebb"/>
<path d="M603.6 69.7l-7.1 1.3-1.2-0.3 7.1-1.3z" color="#10beba"/>
<path d="M596.5 71l-7.1 1.1-1.2-0.2 7.1-1.2z" color="#13beb9"/>
<path d="M589.4 72.1l-7.1 0.8-1.2-0.2 7.1-0.8z" color="#18bfb6"/>
<path d="M582.3 72.9l-7.1 0.6-1.2 0 7.1-0.8z" color="#1fc0b2"/>
<path d="M575.2 73.5l-7.1 0.4-1.2 0.1 7.1-0.5z" color="#26c2ac"/>
<path d="M568.1 73.9l-7.1 0.1-1.2 0.3 7.1-0.3z" color="#2dc4a6"/>
<path d="M561 74l-7.1 0.2-1.2 0.4 7.1-0.3z" color="#32c69e"/>
<path d="M553.9 74.2l-7.1 0.2-1.2 0.6 7.1-0.4z" color="#39c994"/>
<path d="M546.8 74.4l-7.1 0.3-1.2 0.7 7.1-0.4z" color="#45cb89"/>
<path d="M539.7 74.7l-7.1 0.3-1.2 0.9 7.1-0.5z" color="#55cc7c"/>
<path d="M532.6 75l-7.1 0.5-1.2 1 7.1-0.6z" color="#64cd6e"/>
<path d="M525.5 75.5l-7.1 0.4-1.2 1.1 7.1-0.5z" color="#72cd63"/>
<path d="M518.4 75.9l-7.1 0.3-1.2 1.3 7.1-0.5z" color="#7fcc5a"/>
<path d="M511.3 76.2l-7.1 0.3-1.2 1.4 7.1-0.4z" color="#8acb51"/>
<path d="M504.2 76.5l-7.1 0.2-1.2 1.6 7.1-0.4z" color="#95ca49"/>
<path d="M497.1 76.7l-7.1 0.3-1.2 1.7 7.1-0.4z" color="#9ec942"/>
<path d="M490 77l-7.1 0.2-1.2 2 7.1-0.5z" color="#a6c83c"/>
<path d="M482.9 77.2l-7.1 0.3-1.2 2.1 7.1-0.4z" color="#adc638"/>
<path d="M619.1 67.2l-7.2 1.4-1.2-0.3 7.2-1.4z" color="#0dbdbb"/>
<path d="M611.9 68.6l-7.1 1.4-1.2-0.3 7.1-1.4z" color="#0fbebb"/>
<path d="M604.8 70l-7.1 1.3-1.2-0.3 7.1-1.3z" color="#10beba"/>
<path d="M597.7 71.3l-7.1 1-1.2-0.2 7.1-1.1z" color="#14beb8"/>
<path d="M590.6 72.3l-7.1 0.7-1.2-0.1 7.1-0.8z" color="#1ac0b5"/>
<path d="M583.5 73l-7.1 0.5-1.2 0 7.1-0.6z" color="#22c1b0"/>
<path d="M576.4 73.5l-7.1 0.1-1.2 0.3 7.1-0.4z" color="#29c3aa"/>
<path d="M569.3 73.6l-7.1-0.1-1.2 0.5 7.1-0.1z" color="#2fc5a2"/>
<path d="M562.2 73.5l-7.1 0-1.2 0.7 7.1-0.2z" color="#36c899"/>
<path d="M555.1 73.5l-7.1 0-1.2 0.9 7.1-0.2z" color="#40ca8d"/>
<path d="M548 73.5l-7.1 0-1.2 1.2 7.1-0.3z" color="#51cc7f"/>
<path d="M540.9 73.5l-7.1 0.2-1.2 1.3 7.1-0.3z" color="#65cd6e"/>
<path d="M533.8 73.7l-7.1 0.2-1.2 1.6 7.1-0.5z" color="#79cc5f"/>
<path d="M526.7 73.9l-7.1 0.2-1.2 1.8 7.1-0.4z" color="#89cb52"/>
<path d="M519.6 74.1l-7.1 0.1-1.2 2 7.1-0.3z" color="#97ca47"/>
<path d="M512.5 74.2l-7.1 0.1-1.2 2.2 7.1-0.3z" color="#a4c83e"/>
<path d="M505.4 74.3l-7.1 0-1.2 2.4 7.1-0.2z" color="#b0c636"/>
<path d="M498.3 74.3l-7.1 0.1-1.2 2.6 7.1-0.3z" color="#bac430"/>
<path d="M491.2 74.4l-7.1 0-1.2 2.8 7.1-0.2z" color="#c2c22c"/>
<path d="M484.1 74.4l-7.1 0.1-1.2 3 7.1-0.3z" color="#cac129"/>
<path d="M620.2 67.6l-7.1 1.4-1.2-0.4 7.2-1.4z" color="#0dbdbb"/>
<path d="M613.1 69l-7.1 1.3-1.2-0.3 7.1-1.4z" color="#0fbebb"/>
<path d="M606 70.3l-7.1 1.3-1.2-0.3 7.1-1.3z" color="#11beba"/>
<path d="M598.9 71.6l-7.1 0.9-1.2-0.2 7.1-1z" color="#15bfb7"/>
<path d="M591.8 72.5l-7.1 0.5-1.2 0 7.1-0.7z" color="#1cc0b3"/>
<path d="M584.7 73l-7.1 0.4-1.2 0.1 7.1-0.5z" color="#24c2ae"/>
<path d="M577.6 73.4l-7.1-0.1-1.2 0.3 7.1-0.1z" color="#2cc4a7"/>
<path d="M570.5 73.3l-7.1-0.3-1.2 0.5 7.1 0.1z" color="#33c69e"/>
<path d="M563.4 73l-7.1-0.3-1.2 0.8 7.1 0z" color="#3cc992"/>
<path d="M556.3 72.7l-7.1-0.3-1.2 1.1 7.1 0z" color="#4bcb83"/>
<path d="M549.2 72.4l-7.1-0.2-1.2 1.3 7.1 0z" color="#61cd72"/>
<path d="M542.1 72.2l-7.1 0-1.2 1.5 7.1-0.2z" color="#7acc5e"/>
<path d="M535 72.2l-7.1 0-1.2 1.7 7.1-0.2z" color="#92ca4c"/>
<path d="M527.9 72.2l-7.1 0-1.2 1.9 7.1-0.2z" color="#a4c83e"/>
<path d="M520.8 72.2l-7.1-0.1-1.2 2.1 7.1-0.1z" color="#b4c534"/>
<path d="M513.7 72.1l-7.1-0.2-1.2 2.4 7.1-0.1z" color="#c1c32c"/>
<path d="M506.6 71.9l-7.1-0.2-1.2 2.6 7.1 0z" color="#cdc028"/>
<path d="M499.5 71.7l-7.1-0.2-1.2 2.9 7.1-0.1z" color="#d8be28"/>
<path d="M492.4 71.5l-7.1-0.1-1.2 3 7.1 0z" color="#e0bc2a"/>
<path d="M485.3 71.4l-7.2-0.2-1.1 3.3 7.1-0.1z" color="#e7bb2e"/>
<path d="M621.4 67.9l-7.1 1.4-1.2-0.3 7.1-1.4z" color="#0ebdbb"/>
<path d="M614.3 69.3l-7.1 1.3-1.2-0.3 7.1-1.3z" color="#0fbeba"/>
<path d="M607.2 70.6l-7.1 1.3-1.2-0.3 7.1-1.3z" color="#11beb9"/>
<path d="M600.1 71.9l-7.1 0.8-1.2-0.2 7.1-0.9z" color="#16bfb7"/>
<path d="M593 72.7l-7.1 0.4-1.2-0.1 7.1-0.5z" color="#1ec0b2"/>
<path d="M585.9 73.1l-7.1 0.2-1.2 0.1 7.1-0.4z" color="#27c2ac"/>
<path d="M578.8 73.3l-7.1-0.3-1.2 0.3 7.1 0.1z" color="#2ec5a4"/>
<path d="M571.7 73l-7.1-0.6-1.2 0.6 7.1 0.3z" color="#36c899"/>
<path d="M564.6 72.4l-7.1-0.5-1.2 0.8 7.1 0.3z" color="#43ca8a"/>
<path d="M557.5 71.9l-7.1-0.6-1.2 1.1 7.1 0.3z" color="#59cc79"/>
<path d="M550.4 71.3l-7.1-0.4-1.2 1.3 7.1 0.2z" color="#73cd63"/>
<path d="M543.3 70.9l-7.1-0.3-1.2 1.6 7.1 0z" color="#91ca4c"/>
<path d="M536.2 70.6l-7.1-0.1-1.2 1.7 7.1 0z" color="#abc739"/>
<path d="M529.1 70.5l-7.1-0.2-1.2 1.9 7.1 0z" color="#bfc32e"/>
<path d="M522 70.3l-7.1-0.4-1.2 2.2 7.1 0.1z" color="#cfc028"/>
<path d="M514.9 69.9l-7.1-0.4-1.2 2.4 7.1 0.2z" color="#dcbd29"/>
<path d="M507.8 69.5l-7.1-0.4-1.2 2.6 7.1 0.2z" color="#e8bb2e"/>
<path d="M500.7 69.1l-7.1-0.4-1.2 2.8 7.1 0.2z" color="#f1ba37"/>
<path d="M493.6 68.7l-7.1-0.5-1.2 3.2 7.1 0.1z" color="#f8ba3d"/>
<path d="M486.5 68.2l-7.2-0.4-1.2 3.4 7.2 0.2z" color="#fdbd3d"/>
<path d="M622.6 68.3l-7.1 1.3-1.2-0.3 7.1-1.4z" color="#0ebdbb"/>
<path d="M615.5 69.6l-7.1 1.3-1.2-0.3 7.1-1.3z" color="#10beba"/>
<path d="M608.4 70.9l-7.1 1.2-1.2-0.2 7.1-1.3z" color="#12beb9"/>
<path d="M601.3 72.1l-7.1 0.8-1.2-0.2 7.1-0.8z" color="#17bfb6"/>
<path d="M594.2 72.9l-7.1 0.3-1.2-0.1 7.1-0.4z" color="#20c1b1"/>
<path d="M587.1 73.2l-7.1 0-1.2 0.1 7.1-0.2z" color="#29c3aa"/>
<path d="M580 73.2l-7.1-0.6-1.2 0.4 7.1 0.3z" color="#31c6a0"/>
<path d="M572.9 72.6l-7.1-0.8-1.2 0.6 7.1 0.6z" color="#3bc993"/>
<path d="M565.8 71.8l-7.1-0.8-1.2 0.9 7.1 0.5z" color="#4dcb82"/>
<path d="M558.7 71l-7.1-0.8-1.2 1.1 7.1 0.6z" color="#66cd6d"/>
<path d="M551.6 70.2l-7.1-0.7-1.2 1.4 7.1 0.4z" color="#86cb55"/>
<path d="M544.5 69.5l-7.1-0.4-1.2 1.5 7.1 0.3z" color="#a7c73c"/>
<path d="M537.4 69.1l-7.1-0.4-1.2 1.8 7.1 0.1z" color="#c3c22b"/>
<path d="M530.3 68.7l-7.1-0.4-1.2 2 7.1 0.2z" color="#d7be28"/>
<path d="M523.2 68.3l-7.1-0.6-1.2 2.2 7.1 0.4z" color="#e6bb2d"/>
<path d="M516.1 67.7l-7.1-0.7-1.2 2.5 7.1 0.4z" color="#f3ba38"/>
<path d="M509 67l-7.1-0.6-1.2 2.7 7.1 0.4z" color="#fcbc3d"/>
<path d="M501.9 66.4l-7.1-0.7-1.2 3 7.1 0.4z" color="#fec239"/>
<path d="M494.8 65.7l-7.1-0.7-1.2 3.2 7.1 0.5z" color="#fec834"/>
<path d="M487.7 65l-7.2-0.6-1.2 3.4 7.2 0.4z" color="#fdce31"/>
<path d="M623.8 68.7l-7.1 1.3-1.2-0.4 7.1-1.3z" color="#0ebdbb"/>
<path d="M616.7 70l-7.1 1.3-1.2-0.4 7.1-1.3z" color="#10beba"/>
<path d="M609.6 71.3l-7.1 1.1-1.2-0.3 7.1-1.2z" color="#13beb9"/>
<path d="M602.5 72.4l-7.1 0.7-1.2-0.2 7.1-0.8z" color="#18bfb6"/>
<path d="M595.4 73.1l-7.1 0.1-1.2 0 7.1-0.3z" color="#22c1b0"/>
<path d="M588.3 73.2l-7.1-0.1-1.2 0.1 7.1 0z" color="#2bc3a8"/>
<path d="M581.2 73.1l-7.1-0.7-1.2 0.2 7.1 0.6z" color="#33c79d"/>
<path d="M574.1 72.4l-7.1-1.1-1.2 0.5 7.1 0.8z" color="#3fca8e"/>
<path d="M567 71.3l-7.1-1-1.2 0.7 7.1 0.8z" color="#57cc7a"/>
<path d="M559.9 70.3l-7.1-1-1.2 0.9 7.1 0.8z" color="#74cc62"/>
<path d="M552.8 69.3l-7.1-0.9-1.2 1.1 7.1 0.7z" color="#98ca47"/>
<path d="M545.7 68.4l-7.1-0.6-1.2 1.3 7.1 0.4z" color="#bbc430"/>
<path d="M538.6 67.8l-7.1-0.6-1.2 1.5 7.1 0.4z" color="#d7be28"/>
<path d="M531.5 67.2l-7.1-0.6-1.2 1.7 7.1 0.4z" color="#eaba31"/>
<path d="M524.4 66.6l-7.1-0.8-1.2 1.9 7.1 0.6z" color="#f8ba3d"/>
<path d="M517.3 65.8l-7.1-0.8-1.2 2 7.1 0.7z" color="#fec13a"/>
<path d="M510.2 65l-7.1-0.9-1.2 2.3 7.1 0.6z" color="#fec934"/>
<path d="M503.1 64.1l-7.1-0.9-1.2 2.5 7.1 0.7z" color="#fbd12f"/>
<path d="M496 63.2l-7.1-0.9-1.2 2.7 7.1 0.7z" color="#f8d92c"/>
<path d="M488.9 62.3l-7.2-0.8-1.2 2.9 7.2 0.6z" color="#f6df29"/>
<path d="M625 69l-7.1 1.3-1.2-0.3 7.1-1.3z" color="#0ebdbb"/>
<path d="M617.9 70.3l-7.1 1.3-1.2-0.3 7.1-1.3z" color="#10beba"/>
<path d="M610.8 71.6l-7.1 1.2-1.2-0.4 7.1-1.1z" color="#13beb8"/>
<path d="M603.7 72.8l-7.1 0.6-1.2-0.3 7.1-0.7z" color="#19bfb5"/>
<path d="M596.6 73.4l-7.1 0-1.2-0.2 7.1-0.1z" color="#23c1af"/>
<path d="M589.5 73.4l-7.1-0.2-1.2-0.1 7.1 0.1z" color="#2dc4a6"/>
<path d="M582.4 73.2l-7.1-0.8-1.2 0 7.1 0.7z" color="#35c79a"/>
<path d="M575.3 72.4l-7.1-1.2-1.2 0.1 7.1 1.1z" color="#44cb8a"/>
<path d="M568.2 71.2l-7.1-1.2-1.2 0.3 7.1 1z" color="#5ecd74"/>
<path d="M561.1 70l-7.1-1.1-1.2 0.4 7.1 1z" color="#7fcc5a"/>
<path d="M554 68.9l-7.1-1-1.2 0.5 7.1 0.9z" color="#a5c83e"/>
<path d="M546.9 67.9l-7.1-0.8-1.2 0.7 7.1 0.6z" color="#c9c129"/>
<path d="M539.8 67.1l-7.1-0.7-1.2 0.8 7.1 0.6z" color="#e4bb2c"/>
<path d="M532.7 66.4l-7.1-0.7-1.2 0.9 7.1 0.6z" color="#f7ba3c"/>
<path d="M525.6 65.7l-7.1-0.9-1.2 1 7.1 0.8z" color="#fec13a"/>
<path d="M518.5 64.8l-7.1-1-1.2 1.2 7.1 0.8z" color="#fdcb33"/>
<path d="M511.4 63.8l-7.1-1-1.2 1.3 7.1 0.9z" color="#fad42e"/>
<path d="M504.3 62.8l-7.1-1-1.2 1.4 7.1 0.9z" color="#f6dd29"/>
<path d="M497.2 61.8l-7.1-1-1.2 1.5 7.1 0.9z" color="#f5e526"/>
<path d="M490.1 60.8l-7.2-1-1.2 1.7 7.2 0.8z" color="#f5ec22"/>
<path d="M626.2 69.4l-7.1 1.2-1.2-0.3 7.1-1.3z" color="#0ebdbb"/>
<path d="M619.1 70.6l-7.1 1.3-1.2-0.3 7.1-1.3z" color="#10beba"/>
<path d="M612 71.9l-7.1 1.2-1.2-0.3 7.1-1.2z" color="#13beb8"/>
<path d="M604.9 73.1l-7.1 0.6-1.2-0.3 7.1-0.6z" color="#1abfb5"/>
<path d="M597.8 73.7l-7.1-0.1-1.2-0.2 7.1 0z" color="#24c1ae"/>
<path d="M590.7 73.6l-7.1-0.3-1.2-0.1 7.1 0.2z" color="#2dc4a5"/>
<path d="M583.6 73.3l-7.1-0.9-1.2 0 7.1 0.8z" color="#36c898"/>
<path d="M576.5 72.4l-7.1-1.4-1.2 0.2 7.1 1.2z" color="#48cb86"/>
<path d="M569.4 71l-7.1-1.3-1.2 0.3 7.1 1.2z" color="#64cd6f"/>
<path d="M562.3 69.7l-7.1-1.2-1.2 0.4 7.1 1.1z" color="#88cb53"/>
<path d="M555.2 68.5l-7.1-1.2-1.2 0.6 7.1 1z" color="#aec637"/>
<path d="M548.1 67.3l-7.1-0.9-1.2 0.7 7.1 0.8z" color="#d3bf27"/>
<path d="M541 66.4l-7.1-0.7-1.2 0.7 7.1 0.7z" color="#edba34"/>
<path d="M533.9 65.7l-7.1-0.9-1.2 0.9 7.1 0.7z" color="#fdbd3d"/>
<path d="M526.8 64.8l-7.1-1-1.2 1 7.1 0.9z" color="#fec835"/>
<path d="M519.7 63.8l-7.1-1.1-1.2 1.1 7.1 1z" color="#fbd32f"/>
<path d="M512.6 62.7l-7.1-1.2-1.2 1.3 7.1 1z" color="#f7dd2a"/>
<path d="M505.5 61.5l-7.1-1.1-1.2 1.4 7.1 1z" color="#f5e626"/>
<path d="M498.4 60.4l-7.2-1.1-1.1 1.5 7.1 1z" color="#f5ee21"/>
<path d="M491.2 59.3l-7.1-1.1-1.2 1.6 7.2 1z" color="#f9f618"/>
<path d="M627.6 69.8l-7.1 1.2-1.4-0.4 7.1-1.2z" color="#0ebdbb"/>
<path d="M620.5 71l-7.1 1.3-1.4-0.4 7.1-1.3z" color="#10beba"/>
<path d="M613.4 72.3l-7.2 1.2-1.3-0.4 7.1-1.2z" color="#14beb8"/>
<path d="M606.2 73.5l-7.1 0.6-1.3-0.4 7.1-0.6z" color="#1ac0b5"/>
<path d="M599.1 74.1l-7.1-0.1-1.3-0.4 7.1 0.1z" color="#25c2ae"/>
<path d="M592 74l-7.1-0.3-1.3-0.4 7.1 0.3z" color="#2ec4a4"/>
<path d="M584.9 73.7l-7.1-0.9-1.3-0.4 7.1 0.9z" color="#37c897"/>
<path d="M577.8 72.8l-7.1-1.4-1.3-0.4 7.1 1.4z" color="#4acb85"/>
<path d="M570.7 71.4l-7.1-1.3-1.3-0.4 7.1 1.3z" color="#67cd6d"/>
<path d="M563.6 70.1l-7.1-1.3-1.3-0.3 7.1 1.2z" color="#8ccb50"/>
<path d="M556.5 68.8l-7.1-1.1-1.3-0.4 7.1 1.2z" color="#b3c534"/>
<path d="M549.4 67.7l-7.1-0.9-1.3-0.4 7.1 0.9z" color="#d7be28"/>
<path d="M542.3 66.8l-7.1-0.7-1.3-0.4 7.1 0.7z" color="#f2ba37"/>
<path d="M535.2 66.1l-7.1-0.9-1.3-0.4 7.1 0.9z" color="#fec03b"/>
<path d="M528.1 65.2l-7.1-1-1.3-0.4 7.1 1z" color="#fdcb32"/>
<path d="M521 64.2l-7.1-1.1-1.3-0.4 7.1 1.1z" color="#f9d72d"/>
<path d="M513.9 63.1l-7.1-1.2-1.3-0.4 7.1 1.2z" color="#f5e128"/>
<path d="M506.8 61.9l-7.1-1.1-1.3-0.4 7.1 1.1z" color="#f5eb23"/>
<path d="M499.7 60.8l-7.1-1.1-1.4-0.4 7.2 1.1z" color="#f7f31c"/>
<path d="M492.6 59.7l-7.1-1.1-1.4-0.4 7.1 1.1z" color="#fcfb13"/>
<path d="M628.9 70.1l-7.1 1.3-1.3-0.4 7.1-1.2z" color="#0ebdbb"/>
<path d="M621.8 71.4l-7.1 1.3-1.3-0.4 7.1-1.3z" color="#10beba"/>
<path d="M614.7 72.7l-7.1 1.1-1.4-0.3 7.2-1.2z" color="#14beb8"/>
<path d="M607.6 73.8l-7.1 0.6-1.4-0.3 7.1-0.6z" color="#1ac0b5"/>
<path d="M600.5 74.4l-7.1 0-1.4-0.4 7.1 0.1z" color="#25c2ae"/>
<path d="M593.4 74.4l-7.1-0.3-1.4-0.4 7.1 0.3z" color="#2ec4a4"/>
<path d="M586.3 74.1l-7.2-1-1.3-0.3 7.1 0.9z" color="#37c897"/>
<path d="M579.1 73.1l-7.1-1.3-1.3-0.4 7.1 1.4z" color="#4acb85"/>
<path d="M572 71.8l-7.1-1.3-1.3-0.4 7.1 1.3z" color="#67cd6d"/>
<path d="M564.9 70.5l-7.1-1.3-1.3-0.4 7.1 1.3z" color="#8ccb50"/>
<path d="M557.8 69.2l-7.1-1.1-1.3-0.4 7.1 1.1z" color="#b3c534"/>
<path d="M550.7 68.1l-7.1-0.9-1.3-0.4 7.1 0.9z" color="#d7be28"/>
<path d="M543.6 67.2l-7.1-0.8-1.3-0.3 7.1 0.7z" color="#f2ba37"/>
<path d="M536.5 66.4l-7.1-0.8-1.3-0.4 7.1 0.9z" color="#fec03b"/>
<path d="M529.4 65.6l-7.1-1-1.3-0.4 7.1 1z" color="#fdcb32"/>
<path d="M522.3 64.6l-7.1-1.1-1.3-0.4 7.1 1.1z" color="#f9d72d"/>
<path d="M515.2 63.5l-7.1-1.2-1.3-0.4 7.1 1.2z" color="#f5e128"/>
<path d="M508.1 62.3l-7.1-1.1-1.3-0.4 7.1 1.1z" color="#f5eb23"/>
<path d="M501 61.2l-7.1-1.1-1.3-0.4 7.1 1.1z" color="#f7f31c"/>
<path d="M493.9 60.1l-7.1-1.1-1.3-0.4 7.1 1.1z" color="#fcfb13"/>
<path d="M630.2 70.5l-7.1 1.3-1.3-0.4 7.1-1.3z" color="#0ebdbb"/>
<path d="M623.1 71.8l-7.1 1.3-1.3-0.4 7.1-1.3z" color="#10beba"/>
<path d="M616 73.1l-7.1 1.1-1.3-0.4 7.1-1.1z" color="#14beb8"/>
<path d="M608.9 74.2l-7.1 0.6-1.3-0.4 7.1-0.6z" color="#1ac0b5"/>
<path d="M601.8 74.8l-7.1 0-1.3-0.4 7.1 0z" color="#25c2ae"/>
<path d="M594.7 74.8l-7.1-0.3-1.3-0.4 7.1 0.3z" color="#2ec4a4"/>
<path d="M587.6 74.5l-7.1-1-1.4-0.4 7.2 1z" color="#37c897"/>
<path d="M580.5 73.5l-7.1-1.3-1.4-0.4 7.1 1.3z" color="#4acb85"/>
<path d="M573.4 72.2l-7.1-1.3-1.4-0.4 7.1 1.3z" color="#67cd6d"/>
<path d="M566.3 70.9l-7.1-1.3-1.4-0.4 7.1 1.3z" color="#8ccb50"/>
<path d="M559.2 69.6l-7.2-1.1-1.3-0.4 7.1 1.1z" color="#b3c534"/>
<path d="M552 68.5l-7.1-0.9-1.3-0.4 7.1 0.9z" color="#d7be28"/>
<path d="M544.9 67.6l-7.1-0.8-1.3-0.4 7.1 0.8z" color="#f2ba37"/>
<path d="M537.8 66.8l-7.1-0.8-1.3-0.4 7.1 0.8z" color="#fec03b"/>
<path d="M530.7 66l-7.1-1-1.3-0.4 7.1 1z" color="#fdcb32"/>
<path d="M523.6 65l-7.1-1.1-1.3-0.4 7.1 1.1z" color="#f9d72d"/>
<path d="M516.5 63.9l-7.1-1.2-1.3-0.4 7.1 1.2z" color="#f5e128"/>
<path d="M509.4 62.7l-7.1-1.1-1.3-0.4 7.1 1.1z" color="#f5eb23"/>
<path d="M502.3 61.6l-7.1-1.1-1.3-0.4 7.1 1.1z" color="#f7f31c"/>
<path d="M495.2 60.5l-7.1-1.2-1.3-0.3 7.1 1.1z" color="#fcfb13"/>
<path d="M630.5 70.6l-7.1 1.3-0.3-0.1 7.1-1.3z" color="#0ebdbb"/>
<path d="M623.4 71.9l-7.1 1.3-0.3-0.1 7.1-1.3z" color="#10beba"/>
<path d="M616.3 73.2l-7.2 1.2-0.2-0.2 7.1-1.1z" color="#13beb8"/>
<path d="M609.1 74.4l-7.1 0.8-0.2-0.4 7.1-0.6z" color="#19bfb5"/>
<path d="M602 75.2l-7.1 0.2-0.2-0.6 7.1 0z" color="#23c1af"/>
<path d="M594.9 75.4l-7.1-0.1-0.2-0.8 7.1 0.3z" color="#2dc4a6"/>
<path d="M587.8 75.3l-7.1-0.6-0.2-1.2 7.1 1z" color="#35c79a"/>
<path d="M580.7 74.7l-7.1-0.9-0.2-1.6 7.1 1.3z" color="#44cb8a"/>
<path d="M573.6 73.8l-7.1-0.9-0.2-2 7.1 1.3z" color="#5ecd74"/>
<path d="M566.5 72.9l-7.1-0.9-0.2-2.4 7.1 1.3z" color="#7fcc5a"/>
<path d="M559.4 72l-7.1-0.7-0.3-2.8 7.2 1.1z" color="#a5c83e"/>
<path d="M552.3 71.3l-7.1-0.6-0.3-3.1 7.1 0.9z" color="#c9c129"/>
<path d="M545.2 70.7l-7.1-0.4-0.3-3.5 7.1 0.8z" color="#e4bb2c"/>
<path d="M538.1 70.3l-7.1-0.5-0.3-3.8 7.1 0.8z" color="#f6ba3c"/>
<path d="M531 69.8l-7.1-0.6-0.3-4.2 7.1 1z" color="#fec13a"/>
<path d="M523.9 69.2l-7.1-0.8-0.3-4.5 7.1 1.1z" color="#fdcb33"/>
<path d="M516.8 68.4l-7.1-0.7-0.3-5 7.1 1.2z" color="#fad42e"/>
<path d="M509.7 67.7l-7.1-0.8-0.3-5.3 7.1 1.1z" color="#f7dd2a"/>
<path d="M502.6 66.9l-7.1-0.7-0.3-5.7 7.1 1.1z" color="#f5e526"/>
<path d="M495.5 66.2l-7.1-0.8-0.3-6.1 7.1 1.2z" color="#f5ec23"/>
<path d="M630.7 70.7l-7.1 1.3-0.2-0.1 7.1-1.3z" color="#0ebdbb"/>
<path d="M623.6 72l-7.1 1.4-0.2-0.2 7.1-1.3z" color="#10beba"/>
<path d="M616.5 73.4l-7.1 1.2-0.3-0.2 7.2-1.2z" color="#12beb9"/>
<path d="M609.4 74.6l-7.1 0.9-0.3-0.3 7.1-0.8z" color="#17bfb6"/>
<path d="M602.3 75.5l-7.1 0.4-0.3-0.5 7.1-0.2z" color="#20c1b1"/>
<path d="M595.2 75.9l-7.1 0.2-0.3-0.8 7.1 0.1z" color="#29c3aa"/>
<path d="M588.1 76.1l-7.1-0.2-0.3-1.2 7.1 0.6z" color="#31c6a0"/>
<path d="M581 75.9l-7.1-0.5-0.3-1.6 7.1 0.9z" color="#3bc993"/>
<path d="M573.9 75.4l-7.1-0.5-0.3-2 7.1 0.9z" color="#4dcc82"/>
<path d="M566.8 74.9l-7.1-0.5-0.3-2.4 7.1 0.9z" color="#67cd6c"/>
<path d="M559.7 74.4l-7.1-0.3-0.3-2.8 7.1 0.7z" color="#87cb54"/>
<path d="M552.6 74.1l-7.1-0.2-0.3-3.2 7.1 0.6z" color="#a8c73b"/>
<path d="M545.5 73.9l-7.1-0.1-0.3-3.5 7.1 0.4z" color="#c4c22b"/>
<path d="M538.4 73.8l-7.1-0.2-0.3-3.8 7.1 0.5z" color="#d7be28"/>
<path d="M531.3 73.6l-7.1-0.3-0.3-4.1 7.1 0.6z" color="#e7bb2e"/>
<path d="M524.2 73.3l-7.2-0.3-0.2-4.6 7.1 0.8z" color="#f3ba39"/>
<path d="M517 73l-7.1-0.4-0.2-4.9 7.1 0.7z" color="#fcbd3d"/>
<path d="M509.9 72.6l-7.1-0.3-0.2-5.4 7.1 0.8z" color="#fec339"/>
<path d="M502.8 72.3l-7.1-0.4-0.2-5.7 7.1 0.7z" color="#fec934"/>
<path d="M495.7 71.9l-7.1-0.4-0.2-6.1 7.1 0.8z" color="#fccf31"/>
<path d="M631 70.8l-7.1 1.3-0.3-0.1 7.1-1.3z" color="#0ebdbb"/>
<path d="M623.9 72.1l-7.1 1.4-0.3-0.1 7.1-1.4z" color="#0fbeba"/>
<path d="M616.8 73.5l-7.1 1.3-0.3-0.2 7.1-1.2z" color="#11beb9"/>
<path d="M609.7 74.8l-7.1 1-0.3-0.3 7.1-0.9z" color="#15bfb7"/>
<path d="M602.6 75.8l-7.1 0.7-0.3-0.6 7.1-0.4z" color="#1dc0b3"/>
<path d="M595.5 76.5l-7.1 0.5-0.3-0.9 7.1-0.2z" color="#25c2ad"/>
<path d="M588.4 77l-7.1 0.1-0.3-1.2 7.1 0.2z" color="#2dc4a5"/>
<path d="M581.3 77.1l-7.1-0.1-0.3-1.6 7.1 0.5z" color="#34c79b"/>
<path d="M574.2 77l-7.2-0.1-0.2-2 7.1 0.5z" color="#3eca8f"/>
<path d="M567 76.9l-7.1-0.1-0.2-2.4 7.1 0.5z" color="#51cc7f"/>
<path d="M559.9 76.8l-7.1 0.1-0.2-2.8 7.1 0.3z" color="#68cd6b"/>
<path d="M552.8 76.9l-7.1 0.1-0.2-3.1 7.1 0.2z" color="#84cc56"/>
<path d="M545.7 77l-7.1 0.2-0.2-3.4 7.1 0.1z" color="#9cc943"/>
<path d="M538.6 77.2l-7.1 0.2-0.2-3.8 7.1 0.2z" color="#b0c636"/>
<path d="M531.5 77.4l-7.1 0.1-0.2-4.2 7.1 0.3z" color="#bfc32d"/>
<path d="M524.4 77.5l-7.1 0-0.3-4.5 7.2 0.3z" color="#cdc028"/>
<path d="M517.3 77.5l-7.1 0.1-0.3-5 7.1 0.4z" color="#d9be28"/>
<path d="M510.2 77.6l-7.1 0-0.3-5.3 7.1 0.3z" color="#e3bc2c"/>
<path d="M503.1 77.6l-7.1 0-0.3-5.7 7.1 0.4z" color="#ebba31"/>
<path d="M496 77.6l-7.1 0-0.3-6.1 7.1 0.4z" color="#f2ba37"/>
<path d="M631.3 70.8l-7.1 1.5-0.3-0.2 7.1-1.3z" color="#0dbdbb"/>
<path d="M624.2 72.3l-7.2 1.4-0.2-0.2 7.1-1.4z" color="#0fbebb"/>
<path d="M617 73.7l-7.1 1.3-0.2-0.2 7.1-1.3z" color="#10beba"/>
<path d="M609.9 75l-7.1 1.2-0.2-0.4 7.1-1z" color="#13beb8"/>
<path d="M602.8 76.2l-7.1 0.8-0.2-0.5 7.1-0.7z" color="#1abfb5"/>
<path d="M595.7 77l-7.1 0.8-0.2-0.8 7.1-0.5z" color="#21c1b0"/>
<path d="M588.6 77.8l-7.1 0.4-0.2-1.1 7.1-0.1z" color="#28c3ab"/>
<path d="M581.5 78.2l-7.1 0.4-0.2-1.6 7.1 0.1z" color="#2ec5a3"/>
<path d="M574.4 78.6l-7.1 0.3-0.3-2 7.2 0.1z" color="#35c79a"/>
<path d="M567.3 78.9l-7.1 0.3-0.3-2.4 7.1 0.1z" color="#3eca8f"/>
<path d="M560.2 79.2l-7.1 0.4-0.3-2.7 7.1-0.1z" color="#4dcc82"/>
<path d="M553.1 79.6l-7.1 0.6-0.3-3.2 7.1-0.1z" color="#60cd73"/>
<path d="M546 80.2l-7.1 0.5-0.3-3.5 7.1-0.2z" color="#72cd64"/>
<path d="M538.9 80.7l-7.1 0.5-0.3-3.8 7.1-0.2z" color="#82cc58"/>
<path d="M531.8 81.2l-7.1 0.5-0.3-4.2 7.1-0.1z" color="#8fcb4e"/>
<path d="M524.7 81.7l-7.1 0.4-0.3-4.6 7.1 0z" color="#9cc944"/>
<path d="M517.6 82.1l-7.1 0.4-0.3-4.9 7.1-0.1z" color="#a7c73c"/>
<path d="M510.5 82.5l-7.1 0.4-0.3-5.3 7.1 0z" color="#b1c635"/>
<path d="M503.4 82.9l-7.1 0.4-0.3-5.7 7.1 0z" color="#b9c430"/>
<path d="M496.3 83.3l-7.1 0.4-0.3-6.1 7.1 0z" color="#c1c32c"/>
</g>
<g class="p">
<path d="M631.5 70.9l-7.1 1.5-0.2-0.1 7.1-1.5z" fill="#5fd4d2" stroke="#0dbdbb"/>
<path d="M624.4 72.4l-7.1 1.4-0.3-0.1 7.2-1.4z" fill="#60d4d2" stroke="#0ebdbb"/>
<path d="M617.3 73.8l-7.1 1.4-0.3-0.2 7.1-1.3z" fill="#61d4d2" stroke="#0fbeba"/>
<path d="M610.2 75.2l-7.1 1.3-0.3-0.3 7.1-1.2z" fill="#62d4d1" stroke="#11beb9"/>
<path d="M603.1 76.5l-7.1 1.1-0.3-0.6 7.1-0.8z" fill="#65d5cf" stroke="#16bfb7"/>
<path d="M596 77.6l-7.1 1-0.3-0.8 7.1-0.8z" fill="#69d5cd" stroke="#1bc0b4"/>
<path d="M588.9 78.6l-7.1 0.8-0.3-1.2 7.1-0.4z" fill="#6dd6cb" stroke="#22c1b0"/>
<path d="M581.8 79.4l-7.1 0.8-0.3-1.6 7.1-0.4z" fill="#71d7c8" stroke="#28c2ab"/>
<path d="M574.7 80.2l-7.1 0.7-0.3-2 7.1-0.3z" fill="#75d8c4" stroke="#2dc4a5"/>
<path d="M567.6 80.9l-7.1 0.8-0.3-2.5 7.1-0.3z" fill="#78d9bf" stroke="#32c69e"/>
<path d="M560.5 81.7l-7.1 0.7-0.3-2.8 7.1-0.4z" fill="#7cdbba" stroke="#38c896"/>
<path d="M553.4 82.4l-7.1 0.9-0.3-3.1 7.1-0.6z" fill="#81dcb3" stroke="#41ca8d"/>
<path d="M546.3 83.3l-7.1 0.9-0.3-3.5 7.1-0.5z" fill="#88ddae" stroke="#4bcb84"/>
<path d="M539.2 84.2l-7.2 0.9-0.2-3.9 7.1-0.5z" fill="#8fdda8" stroke="#55cc7c"/>
<path d="M532 85.1l-7.1 0.8-0.2-4.2 7.1-0.5z" fill="#94dea4" stroke="#5dcc75"/>
<path d="M524.9 85.9l-7.1 0.8-0.2-4.6 7.1-0.4z" fill="#99de9f" stroke="#65cd6e"/>
<path d="M517.8 86.7l-7.1 0.8-0.2-5 7.1-0.4z" fill="#9fde9b" stroke="#6dcd67"/>
<path d="M510.7 87.5l-7.1 0.7-0.2-5.3 7.1-0.4z" fill="#a4de97" stroke="#74cc62"/>
<path d="M503.6 88.2l-7.1 0.8-0.2-5.7 7.1-0.4z" fill="#a8dd94" stroke="#7bcc5d"/>
<path d="M496.5 89l-7.1 0.8-0.2-6.1 7.1-0.4z" fill="#acdd91" stroke="#81cc58"/>
<path d="M631.8 71l-7.1 1.5-0.3-0.1 7.1-1.5z" fill="#5fd4d2" stroke="#0dbdbc"/>
<path d="M624.7 72.5l-7.1 1.4-0.3-0.1 7.1-1.4z" fill="#60d4d2" stroke="#0ebdbb"/>
<path d="M617.6 73.9l-7.1 1.4-0.3-0.1 7.1-1.4z" fill="#60d4d2" stroke="#0fbebb"/>
<path d="M610.5 75.3l-7.1 1.3-0.3-0.1 7.1-1.3z" fill="#61d4d1" stroke="#10beba"/>
<path d="M603.4 76.6l-7.1 1.2-0.3-0.2 7.1-1.1z" fill="#63d4d0" stroke="#13beb8"/>
<path d="M596.3 77.8l-7.1 1.1-0.3-0.3 7.1-1z" fill="#66d5cf" stroke="#18bfb6"/>
<path d="M589.2 78.9l-7.1 1-0.3-0.5 7.1-0.8z" fill="#69d5cd" stroke="#1cc0b3"/>
<path d="M582.1 79.9l-7.1 0.9-0.3-0.6 7.1-0.8z" fill="#6dd6cb" stroke="#22c1b0"/>
<path d="M575 80.8l-7.1 1-0.3-0.9 7.1-0.7z" fill="#70d7c8" stroke="#27c2ac"/>
<path d="M567.9 81.8l-7.1 0.9-0.3-1 7.1-0.8z" fill="#73d8c5" stroke="#2bc4a7"/>
<path d="M560.8 82.7l-7.1 0.9-0.3-1.2 7.1-0.7z" fill="#76d9c2" stroke="#2fc5a2"/>
<path d="M553.7 83.6l-7.1 1-0.3-1.3 7.1-0.9z" fill="#79dabe" stroke="#33c79c"/>
<path d="M546.6 84.6l-7.1 1-0.3-1.4 7.1-0.9z" fill="#7bdbba" stroke="#37c897"/>
<path d="M539.5 85.6l-7.1 0.9-0.4-1.4 7.2-0.9z" fill="#7edbb7" stroke="#3bc992"/>
<path d="M532.4 86.5l-7.1 1-0.4-1.6 7.1-0.8z" fill="#81dcb4" stroke="#3fca8e"/>
<path d="M525.3 87.5l-7.1 0.9-0.4-1.7 7.1-0.8z" fill="#84dcb1" stroke="#44cb89"/>
<path d="M518.2 88.4l-7.1 0.9-0.4-1.8 7.1-0.8z" fill="#87ddaf" stroke="#49cb85"/>
<path d="M511.1 89.3l-7.1 0.9-0.4-2 7.1-0.7z" fill="#8addac" stroke="#4ecc81"/>
<path d="M504 90.2l-7.2 0.9-0.3-2.1 7.1-0.8z" fill="#8dddaa" stroke="#52cc7e"/>
<path d="M496.8 91.1l-7.1 1-0.3-2.3 7.1-0.8z" fill="#8fdda8" stroke="#56cc7b"/>
<path d="M632.2 71.1l-7.1 1.5-0.4-0.1 7.1-1.5z" fill="#5fd4d2" stroke="#0dbdbc"/>
<path d="M625.1 72.6l-7.1 1.4-0.4-0.1 7.1-1.4z" fill="#60d4d2" stroke="#0ebdbb"/>
<path d="M618 74l-7.1 1.5-0.4-0.2 7.1-1.4z" fill="#60d4d2" stroke="#0ebebb"/>
<path d="M610.9 75.5l-7.2 1.3-0.3-0.2 7.1-1.3z" fill="#61d4d2" stroke="#10beba"/>
<path d="M603.7 76.8l-7.1 1.3-0.3-0.3 7.1-1.2z" fill="#63d4d1" stroke="#12beb9"/>
<path d="M596.6 78.1l-7.1 1.2-0.3-0.4 7.1-1.1z" fill="#65d5d0" stroke="#15bfb7"/>
<path d="M589.5 79.3l-7.1 1.1-0.3-0.5 7.1-1z" fill="#67d5ce" stroke="#19bfb5"/>
<path d="M582.4 80.4l-7.1 1.1-0.3-0.7 7.1-0.9z" fill="#6ad6cd" stroke="#1dc0b3"/>
<path d="M575.3 81.5l-7.1 1.1-0.3-0.8 7.1-1z" fill="#6dd6cb" stroke="#22c1b0"/>
<path d="M568.2 82.6l-7.1 1-0.3-0.9 7.1-0.9z" fill="#70d7c8" stroke="#26c2ac"/>
<path d="M561.1 83.6l-7.1 1.1-0.3-1.1 7.1-0.9z" fill="#73d8c6" stroke="#2ac3a9"/>
<path d="M554 84.7l-7.1 1.1-0.3-1.2 7.1-1z" fill="#75d8c3" stroke="#2ec4a4"/>
<path d="M546.9 85.8l-7.1 1.1-0.3-1.3 7.1-1z" fill="#77d9c1" stroke="#31c6a1"/>
<path d="M539.8 86.9l-7.1 1.1-0.3-1.5 7.1-0.9z" fill="#78dabe" stroke="#33c69d"/>
<path d="M532.7 88l-7.1 1-0.3-1.5 7.1-1z" fill="#7adabc" stroke="#35c79a"/>
<path d="M525.6 89l-7.1 1.1-0.3-1.7 7.1-0.9z" fill="#7bdbba" stroke="#37c897"/>
<path d="M518.5 90.1l-7.1 1.1-0.3-1.9 7.1-0.9z" fill="#7ddbb8" stroke="#3ac994"/>
<path d="M511.4 91.2l-7.1 1-0.3-2 7.1-0.9z" fill="#7fdcb6" stroke="#3dc991"/>
<path d="M504.3 92.2l-7.1 1.1-0.4-2.2 7.2-0.9z" fill="#80dcb4" stroke="#3fca8e"/>
<path d="M497.2 93.3l-7.1 1-0.4-2.2 7.1-1z" fill="#82dcb3" stroke="#42ca8b"/>
<path d="M632.5 71.2l-7.1 1.5-0.3-0.1 7.1-1.5z" fill="#5fd4d3" stroke="#0dbdbc"/>
<path d="M625.4 72.7l-7.1 1.5-0.3-0.2 7.1-1.4z" fill="#60d4d2" stroke="#0dbdbb"/>
<path d="M618.3 74.2l-7.1 1.4-0.3-0.1 7.1-1.5z" fill="#60d4d2" stroke="#0ebdbb"/>
<path d="M611.2 75.6l-7.1 1.4-0.4-0.2 7.2-1.3z" fill="#61d4d2" stroke="#0fbeba"/>
<path d="M604.1 77l-7.1 1.3-0.4-0.2 7.1-1.3z" fill="#62d4d1" stroke="#11beba"/>
<path d="M597 78.3l-7.1 1.4-0.4-0.4 7.1-1.2z" fill="#63d4d0" stroke="#13beb8"/>
<path d="M589.9 79.7l-7.1 1.2-0.4-0.5 7.1-1.1z" fill="#65d5cf" stroke="#16bfb7"/>
<path d="M582.8 80.9l-7.1 1.2-0.4-0.6 7.1-1.1z" fill="#67d5ce" stroke="#19bfb5"/>
<path d="M575.7 82.1l-7.2 1.3-0.3-0.8 7.1-1.1z" fill="#6ad5cd" stroke="#1dc0b3"/>
<path d="M568.5 83.4l-7.1 1.2-0.3-1 7.1-1z" fill="#6cd6cb" stroke="#20c1b1"/>
<path d="M561.4 84.6l-7.1 1.2-0.3-1.1 7.1-1.1z" fill="#6fd6ca" stroke="#24c1ae"/>
<path d="M554.3 85.8l-7.1 1.2-0.3-1.2 7.1-1.1z" fill="#71d7c8" stroke="#27c2ab"/>
<path d="M547.2 87l-7.1 1.2-0.3-1.3 7.1-1.1z" fill="#72d7c6" stroke="#2ac3a9"/>
<path d="M540.1 88.2l-7.1 1.2-0.3-1.4 7.1-1.1z" fill="#74d8c5" stroke="#2cc4a6"/>
<path d="M533 89.4l-7.1 1.2-0.3-1.6 7.1-1z" fill="#75d8c3" stroke="#2ec4a4"/>
<path d="M525.9 90.6l-7.1 1.2-0.3-1.7 7.1-1.1z" fill="#76d9c2" stroke="#2fc5a2"/>
<path d="M518.8 91.8l-7.1 1.2-0.3-1.8 7.1-1.1z" fill="#77d9c0" stroke="#31c6a0"/>
<path d="M511.7 93l-7.1 1.2-0.3-2 7.1-1z" fill="#78dabf" stroke="#32c69e"/>
<path d="M504.6 94.2l-7.1 1.2-0.3-2.1 7.1-1.1z" fill="#79dabe" stroke="#34c79c"/>
<path d="M497.5 95.4l-7.1 1.1-0.3-2.2 7.1-1z" fill="#7adabc" stroke="#35c79a"/>
<path d="M632.8 71.3l-7.1 1.5-0.3-0.1 7.1-1.5z" fill="#5fd4d3" stroke="#0dbdbc"/>
<path d="M625.7 72.8l-7.1 1.5-0.3-0.1 7.1-1.5z" fill="#5fd4d2" stroke="#0dbdbb"/>
<path d="M618.6 74.3l-7.1 1.5-0.3-0.2 7.1-1.4z" fill="#60d4d2" stroke="#0ebdbb"/>
<path d="M611.5 75.8l-7.1 1.4-0.3-0.2 7.1-1.4z" fill="#60d4d2" stroke="#0ebebb"/>
<path d="M604.4 77.2l-7.1 1.4-0.3-0.3 7.1-1.3z" fill="#61d4d2" stroke="#0fbeba"/>
<path d="M597.3 78.6l-7.1 1.4-0.3-0.3 7.1-1.4z" fill="#62d4d1" stroke="#11beba"/>
<path d="M590.2 80l-7.1 1.4-0.3-0.5 7.1-1.2z" fill="#63d4d1" stroke="#13beb9"/>
<path d="M583.1 81.4l-7.1 1.4-0.3-0.7 7.1-1.2z" fill="#64d5d0" stroke="#15bfb8"/>
<path d="M576 82.8l-7.1 1.3-0.4-0.7 7.2-1.3z" fill="#66d5cf" stroke="#17bfb6"/>
<path d="M568.9 84.1l-7.1 1.4-0.4-0.9 7.1-1.2z" fill="#68d5ce" stroke="#1abfb5"/>
<path d="M561.8 85.5l-7.1 1.3-0.4-1 7.1-1.2z" fill="#69d5cd" stroke="#1cc0b3"/>
<path d="M554.7 86.8l-7.1 1.4-0.4-1.2 7.1-1.2z" fill="#6bd6cc" stroke="#1ec0b2"/>
<path d="M547.6 88.2l-7.1 1.3-0.4-1.3 7.1-1.2z" fill="#6cd6cb" stroke="#21c1b0"/>
<path d="M540.5 89.5l-7.1 1.4-0.4-1.5 7.1-1.2z" fill="#6ed6ca" stroke="#23c1af"/>
<path d="M533.4 90.9l-7.1 1.3-0.4-1.6 7.1-1.2z" fill="#6fd7c9" stroke="#25c2ad"/>
<path d="M526.3 92.2l-7.2 1.3-0.3-1.7 7.1-1.2z" fill="#70d7c8" stroke="#26c2ac"/>
<path d="M519.1 93.5l-7.1 1.4-0.3-1.9 7.1-1.2z" fill="#71d7c7" stroke="#28c2ab"/>
<path d="M512 94.9l-7.1 1.3-0.3-2 7.1-1.2z" fill="#72d7c7" stroke="#29c3aa"/>
<path d="M504.9 96.2l-7.1 1.3-0.3-2.1 7.1-1.2z" fill="#73d8c6" stroke="#2ac3a8"/>
<path d="M497.8 97.5l-7.1 1.4-0.3-2.4 7.1-1.1z" fill="#73d8c5" stroke="#2cc4a7"/>
<path d="M633.2 71.4l-7.2 1.5-0.3-0.1 7.1-1.5z" fill="#5fd4d3" stroke="#0dbdbc"/>
<path d="M626 72.9l-7.1 1.5-0.3-0.1 7.1-1.5z" fill="#5fd4d3" stroke="#0dbdbc"/>
<path d="M618.9 74.4l-7.1 1.5-0.3-0.1 7.1-1.5z" fill="#5fd4d2" stroke="#0dbdbb"/>
<path d="M611.8 75.9l-7.1 1.5-0.3-0.2 7.1-1.4z" fill="#60d4d2" stroke="#0dbdbb"/>
<path d="M604.7 77.4l-7.1 1.5-0.3-0.3 7.1-1.4z" fill="#60d4d2" stroke="#0ebdbb"/>
<path d="M597.6 78.9l-7.1 1.5-0.3-0.4 7.1-1.4z" fill="#60d4d2" stroke="#0ebebb"/>
<path d="M590.5 80.4l-7.1 1.5-0.3-0.5 7.1-1.4z" fill="#61d4d2" stroke="#0fbeba"/>
<path d="M583.4 81.9l-7.1 1.5-0.3-0.6 7.1-1.4z" fill="#61d4d1" stroke="#10beba"/>
<path d="M576.3 83.4l-7.1 1.4-0.3-0.7 7.1-1.3z" fill="#62d4d1" stroke="#11beb9"/>
<path d="M569.2 84.8l-7.1 1.5-0.3-0.8 7.1-1.4z" fill="#63d4d1" stroke="#12beb9"/>
<path d="M562.1 86.3l-7.1 1.5-0.3-1 7.1-1.3z" fill="#63d4d0" stroke="#13beb8"/>
<path d="M555 87.8l-7.1 1.5-0.3-1.1 7.1-1.4z" fill="#64d4d0" stroke="#14bfb8"/>
<path d="M547.9 89.3l-7.1 1.5-0.3-1.3 7.1-1.3z" fill="#65d5d0" stroke="#16bfb7"/>
<path d="M540.8 90.8l-7.1 1.4-0.3-1.3 7.1-1.4z" fill="#66d5cf" stroke="#17bfb6"/>
<path d="M533.7 92.2l-7.1 1.5-0.3-1.5 7.1-1.3z" fill="#66d5cf" stroke="#18bfb6"/>
<path d="M526.6 93.7l-7.1 1.5-0.4-1.7 7.2-1.3z" fill="#67d5ce" stroke="#19bfb5"/>
<path d="M519.5 95.2l-7.1 1.5-0.4-1.8 7.1-1.4z" fill="#68d5ce" stroke="#1abfb5"/>
<path d="M512.4 96.7l-7.1 1.4-0.4-1.9 7.1-1.3z" fill="#68d5ce" stroke="#1bc0b4"/>
<path d="M505.3 98.1l-7.1 1.5-0.4-2.1 7.1-1.3z" fill="#69d5cd" stroke="#1bc0b4"/>
<path d="M498.2 99.6l-7.1 1.5-0.4-2.2 7.1-1.4z" fill="#69d5cd" stroke="#1cc0b3"/>
<path d="M633.5 71.5l-7.1 1.5-0.4-0.1 7.2-1.5z" fill="#5fd4d3" stroke="#0dbdbc"/>
<path d="M626.4 73l-7.1 1.5-0.4-0.1 7.1-1.5z" fill="#5fd4d3" stroke="#0dbdbc"/>
<path d="M619.3 74.5l-7.1 1.6-0.4-0.2 7.1-1.5z" fill="#5fd4d3" stroke="#0dbdbc"/>
<path d="M612.2 76.1l-7.1 1.5-0.4-0.2 7.1-1.5z" fill="#5fd4d3" stroke="#0cbdbc"/>
<path d="M605.1 77.6l-7.2 1.6-0.3-0.3 7.1-1.5z" fill="#5fd4d3" stroke="#0cbdbc"/>
<path d="M597.9 79.2l-7.1 1.6-0.3-0.4 7.1-1.5z" fill="#5fd4d3" stroke="#0cbdbc"/>
<path d="M590.8 80.8l-7.1 1.5-0.3-0.4 7.1-1.5z" fill="#5fd4d3" stroke="#0cbdbc"/>
<path d="M583.7 82.3l-7.1 1.6-0.3-0.5 7.1-1.5z" fill="#5ed3d3" stroke="#0cbdbc"/>
<path d="M576.6 83.9l-7.1 1.6-0.3-0.7 7.1-1.4z" fill="#5ed3d3" stroke="#0bbdbc"/>
<path d="M569.5 85.5l-7.1 1.6-0.3-0.8 7.1-1.5z" fill="#5ed3d3" stroke="#0bbdbd"/>
<path d="M562.4 87.1l-7.1 1.6-0.3-0.9 7.1-1.5z" fill="#5ed3d3" stroke="#0bbdbd"/>
<path d="M555.3 88.7l-7.1 1.6-0.3-1 7.1-1.5z" fill="#5ed3d3" stroke="#0bbdbd"/>
<path d="M548.2 90.3l-7.1 1.6-0.3-1.1 7.1-1.5z" fill="#5ed3d3" stroke="#0abdbd"/>
<path d="M541.1 91.9l-7.1 1.6-0.3-1.3 7.1-1.4z" fill="#5dd3d4" stroke="#0abdbd"/>
<path d="M534 93.5l-7.1 1.7-0.3-1.5 7.1-1.5z" fill="#5dd3d4" stroke="#0abdbd"/>
<path d="M526.9 95.2l-7.1 1.6-0.3-1.6 7.1-1.5z" fill="#5dd3d4" stroke="#0abdbe"/>
<path d="M519.8 96.8l-7.1 1.6-0.3-1.7 7.1-1.5z" fill="#5dd3d4" stroke="#09bdbe"/>
<path d="M512.7 98.4l-7.1 1.6-0.3-1.9 7.1-1.4z" fill="#5dd3d4" stroke="#09bcbe"/>
<path d="M505.6 100l-7.1 1.6-0.3-2 7.1-1.5z" fill="#5dd3d4" stroke="#09bcbe"/>
<path d="M498.5 101.6l-7.1 1.7-0.3-2.2 7.1-1.5z" fill="#5cd3d4" stroke="#09bcbe"/>
</g>
<g class="s">
<path d="M633.8 71.6l-7.1 1.5-0.3-0.1 7.1-1.5z" color="#0dbdbc"/>
<path d="M626.7 73.1l-7.1 1.6-0.3-0.2 7.1-1.5z" color="#0cbdbc"/>
<path d="M619.6 74.7l-7.1 1.6-0.3-0.2 7.1-1.6z" color="#0cbdbc"/>
<path d="M612.5 76.3l-7.1 1.6-0.3-0.3 7.1-1.5z" color="#0bbdbc"/>
<path d="M605.4 77.9l-7.1 1.6-0.4-0.3 7.2-1.6z" color="#0bbdbd"/>
<path d="M598.3 79.5l-7.1 1.6-0.4-0.3 7.1-1.6z" color="#0abdbd"/>
<path d="M591.2 81.1l-7.1 1.7-0.4-0.5 7.1-1.5z" color="#09bdbe"/>
<path d="M584.1 82.8l-7.1 1.6-0.4-0.5 7.1-1.6z" color="#09bcbe"/>
<path d="M577 84.4l-7.1 1.7-0.4-0.6 7.1-1.6z" color="#08bcbf"/>
<path d="M569.9 86.1l-7.2 1.7-0.3-0.7 7.1-1.6z" color="#07bcc0"/>
<path d="M562.7 87.8l-7.1 1.7-0.3-0.8 7.1-1.6z" color="#06bcc0"/>
<path d="M555.6 89.5l-7.1 1.8-0.3-1 7.1-1.6z" color="#05bbc1"/>
<path d="M548.5 91.3l-7.1 1.7-0.3-1.1 7.1-1.6z" color="#03bbc2"/>
<path d="M541.4 93l-7.1 1.8-0.3-1.3 7.1-1.6z" color="#02bbc3"/>
<path d="M534.3 94.8l-7.1 1.8-0.3-1.4 7.1-1.7z" color="#02bac4"/>
<path d="M527.2 96.6l-7.1 1.7-0.3-1.5 7.1-1.6z" color="#02bac5"/>
<path d="M520.1 98.3l-7.1 1.8-0.3-1.7 7.1-1.6z" color="#01b9c6"/>
<path d="M513 100.1l-7.1 1.8-0.3-1.9 7.1-1.6z" color="#01b9c7"/>
<path d="M505.9 101.9l-7.1 1.7-0.3-2 7.1-1.6z" color="#01b9c8"/>
<path d="M498.8 103.6l-7.1 1.8-0.3-2.1 7.1-1.7z" color="#01b8c9"/>
<path d="M634.4 71.8l-7.1 1.5-0.6-0.2 7.1-1.5z" color="#0dbdbc"/>
<path d="M627.3 73.3l-7.1 1.6-0.6-0.2 7.1-1.6z" color="#0cbdbc"/>
<path d="M620.2 74.9l-7.1 1.6-0.6-0.2 7.1-1.6z" color="#0bbdbc"/>
<path d="M613.1 76.5l-7.1 1.6-0.6-0.2 7.1-1.6z" color="#0bbdbd"/>
<path d="M606 78.1l-7.1 1.7-0.6-0.3 7.1-1.6z" color="#0abdbd"/>
<path d="M598.9 79.8l-7.1 1.7-0.6-0.4 7.1-1.6z" color="#09bcbe"/>
<path d="M591.8 81.5l-7.1 1.7-0.6-0.4 7.1-1.7z" color="#08bcbf"/>
<path d="M584.7 83.2l-7.1 1.7-0.6-0.5 7.1-1.6z" color="#06bcc0"/>
<path d="M577.6 84.9l-7.1 1.8-0.6-0.6 7.1-1.7z" color="#05bbc1"/>
<path d="M570.5 86.7l-7.2 1.7-0.6-0.6 7.2-1.7z" color="#03bbc2"/>
<path d="M563.3 88.4l-7.1 1.8-0.6-0.7 7.1-1.7z" color="#02bac3"/>
<path d="M556.2 90.2l-7.1 1.9-0.6-0.8 7.1-1.8z" color="#02bac5"/>
<path d="M549.1 92.1l-7.1 1.8-0.6-0.9 7.1-1.7z" color="#01b9c6"/>
<path d="M542 93.9l-7.1 1.9-0.6-1 7.1-1.8z" color="#01b9c8"/>
<path d="M534.9 95.8l-7.1 1.9-0.6-1.1 7.1-1.8z" color="#01b8c9"/>
<path d="M527.8 97.7l-7.1 1.8-0.6-1.2 7.1-1.7z" color="#02b7cb"/>
<path d="M520.7 99.5l-7.1 1.9-0.6-1.3 7.1-1.8z" color="#04b6cc"/>
<path d="M513.6 101.4l-7.1 1.8-0.6-1.3 7.1-1.8z" color="#05b6ce"/>
<path d="M506.5 103.2l-7.1 1.9-0.6-1.5 7.1-1.7z" color="#07b5cf"/>
<path d="M499.4 105.1l-7.1 1.9-0.6-1.6 7.1-1.8z" color="#09b4d1"/>
<path d="M635 71.9l-7.1 1.6-0.6-0.2 7.1-1.5z" color="#0dbdbc"/>
<path d="M627.9 73.5l-7.1 1.6-0.6-0.2 7.1-1.6z" color="#0cbdbc"/>
<path d="M620.8 75.1l-7.1 1.6-0.6-0.2 7.1-1.6z" color="#0bbdbd"/>
<path d="M613.7 76.7l-7.1 1.7-0.6-0.3 7.1-1.6z" color="#0abdbd"/>
<path d="M606.6 78.4l-7.1 1.7-0.6-0.3 7.1-1.7z" color="#09bcbe"/>
<path d="M599.5 80.1l-7.1 1.7-0.6-0.3 7.1-1.7z" color="#08bcbf"/>
<path d="M592.4 81.8l-7.1 1.8-0.6-0.4 7.1-1.7z" color="#06bcc0"/>
<path d="M585.3 83.6l-7.1 1.8-0.6-0.5 7.1-1.7z" color="#04bbc1"/>
<path d="M578.2 85.4l-7.1 1.8-0.6-0.5 7.1-1.8z" color="#02bbc3"/>
<path d="M571.1 87.2l-7.2 1.9-0.6-0.7 7.2-1.7z" color="#02bac4"/>
<path d="M563.9 89.1l-7.1 1.8-0.6-0.7 7.1-1.8z" color="#01b9c6"/>
<path d="M556.8 90.9l-7.1 2-0.6-0.8 7.1-1.9z" color="#01b9c8"/>
<path d="M549.7 92.9l-7.1 1.9-0.6-0.9 7.1-1.8z" color="#01b8ca"/>
<path d="M542.6 94.8l-7.1 2-0.6-1 7.1-1.9z" color="#03b7cc"/>
<path d="M535.5 96.8l-7.1 1.9-0.6-1 7.1-1.9z" color="#05b6ce"/>
<path d="M528.4 98.7l-7.1 2-0.6-1.2 7.1-1.8z" color="#07b5d0"/>
<path d="M521.3 100.7l-7.1 1.9-0.6-1.2 7.1-1.9z" color="#0ab4d1"/>
<path d="M514.2 102.6l-7.1 2-0.6-1.4 7.1-1.8z" color="#0db3d3"/>
<path d="M507.1 104.6l-7.1 2-0.6-1.5 7.1-1.9z" color="#10b2d5"/>
<path d="M500 106.6l-7.1 1.9-0.6-1.5 7.1-1.9z" color="#13b1d7"/>
<path d="M635.6 72.1l-7.1 1.6-0.6-0.2 7.1-1.6z" color="#0cbdbc"/>
<path d="M628.5 73.7l-7.1 1.6-0.6-0.2 7.1-1.6z" color="#0cbdbc"/>
<path d="M621.4 75.3l-7.1 1.7-0.6-0.3 7.1-1.6z" color="#0bbdbd"/>
<path d="M614.3 77l-7.1 1.7-0.6-0.3 7.1-1.7z" color="#0abdbe"/>
<path d="M607.2 78.7l-7.1 1.7-0.6-0.3 7.1-1.7z" color="#08bcbf"/>
<path d="M600.1 80.4l-7.1 1.8-0.6-0.4 7.1-1.7z" color="#07bcc0"/>
<path d="M593 82.2l-7.1 1.8-0.6-0.4 7.1-1.8z" color="#05bbc1"/>
<path d="M585.9 84l-7.1 1.9-0.6-0.5 7.1-1.8z" color="#02bbc3"/>
<path d="M578.8 85.9l-7.1 1.9-0.6-0.6 7.1-1.8z" color="#02bac5"/>
<path d="M571.7 87.8l-7.2 1.9-0.6-0.6 7.2-1.9z" color="#01b9c6"/>
<path d="M564.5 89.7l-7.1 1.9-0.6-0.7 7.1-1.8z" color="#01b8c8"/>
<path d="M557.4 91.6l-7.1 2-0.6-0.7 7.1-2z" color="#02b7cb"/>
<path d="M550.3 93.6l-7.1 2.1-0.6-0.9 7.1-1.9z" color="#04b6cd"/>
<path d="M543.2 95.7l-7.1 2.1-0.6-1 7.1-2z" color="#07b5cf"/>
<path d="M536.1 97.8l-7.1 2-0.6-1.1 7.1-1.9z" color="#0ab4d2"/>
<path d="M529 99.8l-7.1 2.1-0.6-1.2 7.1-2z" color="#0eb2d4"/>
<path d="M521.9 101.9l-7.1 2-0.6-1.3 7.1-1.9z" color="#12b1d6"/>
<path d="M514.8 103.9l-7.1 2.1-0.6-1.4 7.1-2z" color="#14b0d8"/>
<path d="M507.7 106l-7.1 2-0.6-1.4 7.1-2z" color="#17aeda"/>
<path d="M500.6 108l-7.1 2.1-0.6-1.6 7.1-1.9z" color="#19addc"/>
<path d="M636.2 72.3l-7.1 1.6-0.6-0.2 7.1-1.6z" color="#0cbdbc"/>
<path d="M629.1 73.9l-7.1 1.6-0.6-0.2 7.1-1.6z" color="#0cbdbc"/>
<path d="M622 75.5l-7.1 1.7-0.6-0.2 7.1-1.7z" color="#0abdbd"/>
<path d="M614.9 77.2l-7.1 1.7-0.6-0.2 7.1-1.7z" color="#09bcbe"/>
<path d="M607.8 78.9l-7.1 1.8-0.6-0.3 7.1-1.7z" color="#07bcbf"/>
<path d="M600.7 80.7l-7.1 1.8-0.6-0.3 7.1-1.8z" color="#05bbc1"/>
<path d="M593.6 82.5l-7.1 1.9-0.6-0.4 7.1-1.8z" color="#03bbc2"/>
<path d="M586.5 84.4l-7.1 1.9-0.6-0.4 7.1-1.9z" color="#02bac4"/>
<path d="M579.4 86.3l-7.1 2-0.6-0.5 7.1-1.9z" color="#01b9c6"/>
<path d="M572.3 88.3l-7.2 2-0.6-0.6 7.2-1.9z" color="#01b8c8"/>
<path d="M565.1 90.3l-7.1 2-0.6-0.7 7.1-1.9z" color="#02b7cb"/>
<path d="M558 92.3l-7.1 2.1-0.6-0.8 7.1-2z" color="#05b6cd"/>
<path d="M550.9 94.4l-7.1 2.2-0.6-0.9 7.1-2.1z" color="#07b5d0"/>
<path d="M543.8 96.6l-7.1 2.2-0.6-1 7.1-2.1z" color="#0cb3d3"/>
<path d="M536.7 98.8l-7.1 2.1-0.6-1.1 7.1-2z" color="#11b1d6"/>
<path d="M529.6 100.9l-7.1 2.1-0.6-1.1 7.1-2.1z" color="#14b0d8"/>
<path d="M522.5 103l-7.1 2.2-0.6-1.3 7.1-2z" color="#17aeda"/>
<path d="M515.4 105.2l-7.1 2.1-0.6-1.3 7.1-2.1z" color="#19acdc"/>
<path d="M508.3 107.3l-7.1 2.2-0.6-1.5 7.1-2z" color="#1baade"/>
<path d="M501.2 109.5l-7.1 2.2-0.6-1.6 7.1-2.1z" color="#1da8e0"/>
<path d="M636.8 72.5l-7.1 1.6-0.6-0.2 7.1-1.6z" color="#0cbdbc"/>
<path d="M629.7 74.1l-7.1 1.6-0.6-0.2 7.1-1.6z" color="#0bbdbc"/>
<path d="M622.6 75.7l-7.1 1.7-0.6-0.2 7.1-1.7z" color="#0abdbd"/>
<path d="M615.5 77.4l-7.1 1.8-0.6-0.3 7.1-1.7z" color="#09bcbe"/>
<path d="M608.4 79.2l-7.1 1.8-0.6-0.3 7.1-1.8z" color="#07bcc0"/>
<path d="M601.3 81l-7.1 1.9-0.6-0.4 7.1-1.8z" color="#04bbc1"/>
<path d="M594.2 82.9l-7.1 1.9-0.6-0.4 7.1-1.9z" color="#02bac3"/>
<path d="M587.1 84.8l-7.1 2-0.6-0.5 7.1-1.9z" color="#01b9c6"/>
<path d="M580 86.8l-7.1 2-0.6-0.5 7.1-2z" color="#01b8c8"/>
<path d="M572.9 88.8l-7.2 2.1-0.6-0.6 7.2-2z" color="#02b7ca"/>
<path d="M565.7 90.9l-7.1 2.1-0.6-0.7 7.1-2z" color="#04b6cd"/>
<path d="M558.6 93l-7.1 2.2-0.6-0.8 7.1-2.1z" color="#07b5d0"/>
<path d="M551.5 95.2l-7.1 2.3-0.6-0.9 7.1-2.2z" color="#0db3d3"/>
<path d="M544.4 97.5l-7.1 2.2-0.6-0.9 7.1-2.2z" color="#12b1d6"/>
<path d="M537.3 99.7l-7.1 2.3-0.6-1.1 7.1-2.1z" color="#16afd9"/>
<path d="M530.2 102l-7.1 2.2-0.6-1.2 7.1-2.1z" color="#19addc"/>
<path d="M523.1 104.2l-7.1 2.3-0.6-1.3 7.1-2.2z" color="#1babde"/>
<path d="M516 106.5l-7.1 2.2-0.6-1.4 7.1-2.1z" color="#1da8e0"/>
<path d="M508.9 108.7l-7.1 2.3-0.6-1.5 7.1-2.2z" color="#1fa6e2"/>
<path d="M501.8 111l-7.1 2.2-0.6-1.5 7.1-2.2z" color="#21a3e3"/>
<path d="M637.4 72.7l-7.1 1.5-0.6-0.1 7.1-1.6z" color="#0cbdbc"/>
<path d="M630.3 74.2l-7.1 1.7-0.6-0.2 7.1-1.6z" color="#0bbdbc"/>
<path d="M623.2 75.9l-7.1 1.7-0.6-0.2 7.1-1.7z" color="#0abdbd"/>
<path d="M616.1 77.6l-7.1 1.8-0.6-0.2 7.1-1.8z" color="#08bcbf"/>
<path d="M609 79.4l-7.1 1.9-0.6-0.3 7.1-1.8z" color="#06bcc0"/>
<path d="M601.9 81.3l-7.1 1.9-0.6-0.3 7.1-1.9z" color="#03bbc2"/>
<path d="M594.8 83.2l-7.1 2-0.6-0.4 7.1-1.9z" color="#02bac4"/>
<path d="M587.7 85.2l-7.1 2.1-0.6-0.5 7.1-2z" color="#01b9c7"/>
<path d="M580.6 87.3l-7.1 2.1-0.6-0.6 7.1-2z" color="#01b8ca"/>
<path d="M573.5 89.4l-7.2 2.1-0.6-0.6 7.2-2.1z" color="#04b6cc"/>
<path d="M566.3 91.5l-7.1 2.2-0.6-0.7 7.1-2.1z" color="#07b5cf"/>
<path d="M559.2 93.7l-7.1 2.3-0.6-0.8 7.1-2.2z" color="#0cb3d3"/>
<path d="M552.1 96l-7.1 2.3-0.6-0.8 7.1-2.3z" color="#12b1d6"/>
<path d="M545 98.3l-7.1 2.4-0.6-1 7.1-2.2z" color="#16afd9"/>
<path d="M537.9 100.7l-7.1 2.4-0.6-1.1 7.1-2.3z" color="#19acdc"/>
<path d="M530.8 103.1l-7.1 2.3-0.6-1.2 7.1-2.2z" color="#1caadf"/>
<path d="M523.7 105.4l-7.1 2.3-0.6-1.2 7.1-2.3z" color="#1ea7e1"/>
<path d="M516.6 107.7l-7.1 2.4-0.6-1.4 7.1-2.2z" color="#20a4e3"/>
<path d="M509.5 110.1l-7.1 2.3-0.6-1.4 7.1-2.3z" color="#22a1e4"/>
<path d="M502.4 112.4l-7.1 2.4-0.6-1.6 7.1-2.2z" color="#249fe6"/>
<path d="M638 72.8l-7.1 1.6-0.6-0.2 7.1-1.5z" color="#0cbdbc"/>
<path d="M630.9 74.4l-7.1 1.7-0.6-0.2 7.1-1.7z" color="#0bbdbd"/>
<path d="M623.8 76.1l-7.1 1.8-0.6-0.3 7.1-1.7z" color="#0abdbe"/>
<path d="M616.7 77.9l-7.1 1.8-0.6-0.3 7.1-1.8z" color="#08bcbf"/>
<path d="M609.6 79.7l-7.1 1.9-0.6-0.3 7.1-1.9z" color="#05bbc1"/>
<path d="M602.5 81.6l-7.1 2-0.6-0.4 7.1-1.9z" color="#02bbc3"/>
<path d="M595.4 83.6l-7.1 2.1-0.6-0.5 7.1-2z" color="#01bac6"/>
<path d="M588.3 85.7l-7.1 2.1-0.6-0.5 7.1-2.1z" color="#01b8c8"/>
<path d="M581.2 87.8l-7.2 2.1-0.5-0.5 7.1-2.1z" color="#02b7cb"/>
<path d="M574 89.9l-7.1 2.2-0.6-0.6 7.2-2.1z" color="#06b5ce"/>
<path d="M566.9 92.1l-7.1 2.3-0.6-0.7 7.1-2.2z" color="#0ab4d2"/>
<path d="M559.8 94.4l-7.1 2.4-0.6-0.8 7.1-2.3z" color="#10b2d5"/>
<path d="M552.7 96.8l-7.1 2.4-0.6-0.9 7.1-2.3z" color="#15afd9"/>
<path d="M545.6 99.2l-7.1 2.5-0.6-1 7.1-2.4z" color="#19acdc"/>
<path d="M538.5 101.7l-7.1 2.4-0.6-1 7.1-2.4z" color="#1caadf"/>
<path d="M531.4 104.1l-7.1 2.5-0.6-1.2 7.1-2.3z" color="#1ea6e1"/>
<path d="M524.3 106.6l-7.1 2.4-0.6-1.3 7.1-2.3z" color="#21a3e3"/>
<path d="M517.2 109l-7.1 2.5-0.6-1.4 7.1-2.4z" color="#23a0e5"/>
<path d="M510.1 111.5l-7.1 2.4-0.6-1.5 7.1-2.3z" color="#259de7"/>
<path d="M503 113.9l-7.1 2.5-0.6-1.6 7.1-2.4z" color="#269ae9"/>
<path d="M638.6 73l-7.1 1.6-0.6-0.2 7.1-1.6z" color="#0cbdbc"/>
<path d="M631.5 74.6l-7.1 1.7-0.6-0.2 7.1-1.7z" color="#0bbdbd"/>
<path d="M624.4 76.3l-7.1 1.8-0.6-0.2 7.1-1.8z" color="#09bcbe"/>
<path d="M617.3 78.1l-7.1 1.9-0.6-0.3 7.1-1.8z" color="#07bcbf"/>
<path d="M610.2 80l-7.1 1.9-0.6-0.3 7.1-1.9z" color="#04bbc1"/>
<path d="M603.1 81.9l-7.1 2-0.6-0.3 7.1-2z" color="#02bac4"/>
<path d="M596 83.9l-7.1 2.2-0.6-0.4 7.1-2.1z" color="#01b9c7"/>
<path d="M588.9 86.1l-7.1 2.1-0.6-0.4 7.1-2.1z" color="#01b8ca"/>
<path d="M581.8 88.2l-7.2 2.3-0.6-0.6 7.2-2.1z" color="#04b6cd"/>
<path d="M574.6 90.5l-7.1 2.3-0.6-0.7 7.1-2.2z" color="#08b4d0"/>
<path d="M567.5 92.8l-7.1 2.3-0.6-0.7 7.1-2.3z" color="#0eb2d4"/>
<path d="M560.4 95.1l-7.1 2.5-0.6-0.8 7.1-2.4z" color="#14b0d8"/>
<path d="M553.3 97.6l-7.1 2.5-0.6-0.9 7.1-2.4z" color="#18addb"/>
<path d="M546.2 100.1l-7.1 2.6-0.6-1 7.1-2.5z" color="#1caadf"/>
<path d="M539.1 102.7l-7.1 2.5-0.6-1.1 7.1-2.4z" color="#1ea7e1"/>
<path d="M532 105.2l-7.1 2.5-0.6-1.1 7.1-2.5z" color="#21a3e3"/>
<path d="M524.9 107.7l-7.1 2.6-0.6-1.3 7.1-2.4z" color="#23a0e5"/>
<path d="M517.8 110.3l-7.1 2.5-0.6-1.3 7.1-2.5z" color="#259ce7"/>
<path d="M510.7 112.8l-7.1 2.6-0.6-1.5 7.1-2.4z" color="#2798ea"/>
<path d="M503.6 115.4l-7.1 2.5-0.6-1.5 7.1-2.5z" color="#2994ed"/>
<path d="M639.2 73.2l-7.1 1.6-0.6-0.2 7.1-1.6z" color="#0cbdbc"/>
<path d="M632.1 74.8l-7.1 1.7-0.6-0.2 7.1-1.7z" color="#0bbdbd"/>
<path d="M625 76.5l-7.1 1.8-0.6-0.2 7.1-1.8z" color="#09bcbe"/>
<path d="M617.9 78.3l-7.1 1.9-0.6-0.2 7.1-1.9z" color="#07bcc0"/>
<path d="M610.8 80.2l-7.1 2-0.6-0.3 7.1-1.9z" color="#04bbc2"/>
<path d="M603.7 82.2l-7.1 2.1-0.6-0.4 7.1-2z" color="#02bac5"/>
<path d="M596.6 84.3l-7.1 2.2-0.6-0.4 7.1-2.2z" color="#01b9c8"/>
<path d="M589.5 86.5l-7.1 2.2-0.6-0.5 7.1-2.1z" color="#02b7cb"/>
<path d="M582.4 88.7l-7.2 2.3-0.6-0.5 7.2-2.3z" color="#06b5cf"/>
<path d="M575.2 91l-7.1 2.4-0.6-0.6 7.1-2.3z" color="#0bb3d2"/>
<path d="M568.1 93.4l-7.1 2.4-0.6-0.7 7.1-2.3z" color="#12b1d6"/>
<path d="M561 95.8l-7.1 2.5-0.6-0.7 7.1-2.5z" color="#17aeda"/>
<path d="M553.9 98.3l-7.1 2.7-0.6-0.9 7.1-2.5z" color="#1aabde"/>
<path d="M546.8 101l-7.1 2.7-0.6-1 7.1-2.6z" color="#1ea7e1"/>
<path d="M539.7 103.7l-7.1 2.6-0.6-1.1 7.1-2.5z" color="#21a4e3"/>
<path d="M532.6 106.3l-7.1 2.6-0.6-1.2 7.1-2.5z" color="#23a0e5"/>
<path d="M525.5 108.9l-7.1 2.6-0.6-1.2 7.1-2.6z" color="#259ce7"/>
<path d="M518.4 111.5l-7.1 2.7-0.6-1.4 7.1-2.5z" color="#2798ea"/>
<path d="M511.3 114.2l-7.1 2.7-0.6-1.5 7.1-2.6z" color="#2a93ed"/>
<path d="M504.2 116.9l-7.1 2.6-0.6-1.6 7.1-2.5z" color="#2c8ff1"/>
<path d="M639.8 73.4l-7.1 1.6-0.6-0.2 7.1-1.6z" color="#0cbdbc"/>
<path d="M632.7 75l-7.1 1.7-0.6-0.2 7.1-1.7z" color="#0bbdbd"/>
<path d="M625.6 76.7l-7.1 1.9-0.6-0.3 7.1-1.8z" color="#09bcbe"/>
<path d="M618.5 78.6l-7.1 1.9-0.6-0.3 7.1-1.9z" color="#06bcc0"/>
<path d="M611.4 80.5l-7.1 2-0.6-0.3 7.1-2z" color="#03bbc3"/>
<path d="M604.3 82.5l-7.1 2.2-0.6-0.4 7.1-2.1z" color="#01bac5"/>
<path d="M597.2 84.7l-7.1 2.2-0.6-0.4 7.1-2.2z" color="#01b8c9"/>
<path d="M590.1 86.9l-7.1 2.3-0.6-0.5 7.1-2.2z" color="#03b6cc"/>
<path d="M583 89.2l-7.2 2.4-0.6-0.6 7.2-2.3z" color="#08b5d0"/>
<path d="M575.8 91.6l-7.1 2.4-0.6-0.6 7.1-2.4z" color="#0eb2d4"/>
<path d="M568.7 94l-7.1 2.5-0.6-0.7 7.1-2.4z" color="#14b0d8"/>
<path d="M561.6 96.5l-7.1 2.6-0.6-0.8 7.1-2.5z" color="#19addc"/>
<path d="M554.5 99.1l-7.1 2.8-0.6-0.9 7.1-2.7z" color="#1da9e0"/>
<path d="M547.4 101.9l-7.1 2.8-0.6-1 7.1-2.7z" color="#20a5e2"/>
<path d="M540.3 104.7l-7.1 2.7-0.6-1.1 7.1-2.6z" color="#23a0e5"/>
<path d="M533.2 107.4l-7.1 2.7-0.6-1.2 7.1-2.6z" color="#259ce7"/>
<path d="M526.1 110.1l-7.1 2.7-0.6-1.3 7.1-2.6z" color="#2798ea"/>
<path d="M519 112.8l-7.1 2.8-0.6-1.4 7.1-2.7z" color="#2a93ed"/>
<path d="M511.9 115.6l-7.1 2.7-0.6-1.4 7.1-2.7z" color="#2c8ef1"/>
<path d="M504.8 118.3l-7.1 2.8-0.6-1.6 7.1-2.6z" color="#2d8af5"/>
<path d="M640.4 73.5l-7.1 1.7-0.6-0.2 7.1-1.6z" color="#0cbdbc"/>
<path d="M633.3 75.2l-7.1 1.7-0.6-0.2 7.1-1.7z" color="#0abdbd"/>
<path d="M626.2 76.9l-7.1 1.9-0.6-0.2 7.1-1.9z" color="#08bcbe"/>
<path d="M619.1 78.8l-7.1 2-0.6-0.3 7.1-1.9z" color="#05bbc1"/>
<path d="M612 80.8l-7.1 2-0.6-0.3 7.1-2z" color="#02bbc3"/>
<path d="M604.9 82.8l-7.1 2.2-0.6-0.3 7.1-2.2z" color="#01b9c6"/>
<path d="M597.8 85l-7.1 2.3-0.6-0.4 7.1-2.2z" color="#01b8ca"/>
<path d="M590.7 87.3l-7.1 2.4-0.6-0.5 7.1-2.3z" color="#05b6ce"/>
<path d="M583.6 89.7l-7.2 2.4-0.6-0.5 7.2-2.4z" color="#0ab4d2"/>
<path d="M576.4 92.1l-7.1 2.5-0.6-0.6 7.1-2.4z" color="#11b1d6"/>
<path d="M569.3 94.6l-7.1 2.6-0.6-0.7 7.1-2.5z" color="#17aeda"/>
<path d="M562.2 97.2l-7.1 2.7-0.6-0.8 7.1-2.6z" color="#1babde"/>
<path d="M555.1 99.9l-7.1 2.9-0.6-0.9 7.1-2.8z" color="#1ea7e1"/>
<path d="M548 102.8l-7.1 2.8-0.6-0.9 7.1-2.8z" color="#22a2e4"/>
<path d="M540.9 105.6l-7.1 2.9-0.6-1.1 7.1-2.7z" color="#249de6"/>
<path d="M533.8 108.5l-7.1 2.8-0.6-1.2 7.1-2.7z" color="#2699ea"/>
<path d="M526.7 111.3l-7.1 2.8-0.6-1.3 7.1-2.7z" color="#2994ed"/>
<path d="M519.6 114.1l-7.1 2.8-0.6-1.3 7.1-2.8z" color="#2c8ff1"/>
<path d="M512.5 116.9l-7.1 2.9-0.6-1.5 7.1-2.7z" color="#2d89f5"/>
<path d="M505.4 119.8l-7.1 2.9-0.6-1.6 7.1-2.8z" color="#2e84f9"/>
<path d="M641 73.7l-7.1 1.7-0.6-0.2 7.1-1.7z" color="#0cbdbc"/>
<path d="M633.9 75.4l-7.1 1.7-0.6-0.2 7.1-1.7z" color="#0abdbd"/>
<path d="M626.8 77.1l-7.1 1.9-0.6-0.2 7.1-1.9z" color="#08bcbf"/>
<path d="M619.7 79l-7.1 2-0.6-0.2 7.1-2z" color="#05bbc1"/>
<path d="M612.6 81l-7.1 2.1-0.6-0.3 7.1-2z" color="#02bac4"/>
<path d="M605.5 83.1l-7.1 2.3-0.6-0.4 7.1-2.2z" color="#01b9c7"/>
<path d="M598.4 85.4l-7.1 2.3-0.6-0.4 7.1-2.3z" color="#02b7cb"/>
<path d="M591.3 87.7l-7.1 2.4-0.6-0.4 7.1-2.4z" color="#06b5cf"/>
<path d="M584.2 90.1l-7.2 2.5-0.6-0.5 7.2-2.4z" color="#0db3d3"/>
<path d="M577 92.6l-7.1 2.6-0.6-0.6 7.1-2.5z" color="#13b0d8"/>
<path d="M569.9 95.2l-7.1 2.7-0.6-0.7 7.1-2.6z" color="#19addc"/>
<path d="M562.8 97.9l-7.1 2.8-0.6-0.8 7.1-2.7z" color="#1da9e0"/>
<path d="M555.7 100.7l-7.1 2.9-0.6-0.8 7.1-2.9z" color="#20a4e3"/>
<path d="M548.6 103.6l-7.1 3-0.6-1 7.1-2.8z" color="#249fe5"/>
<path d="M541.5 106.6l-7.1 2.9-0.6-1 7.1-2.9z" color="#269ae8"/>
<path d="M534.4 109.5l-7.1 3-0.6-1.2 7.1-2.8z" color="#2895ec"/>
<path d="M527.3 112.5l-7.1 2.9-0.6-1.3 7.1-2.8z" color="#2c90f0"/>
<path d="M520.2 115.4l-7.1 2.9-0.6-1.4 7.1-2.8z" color="#2d8af4"/>
<path d="M513.1 118.3l-7.1 3-0.6-1.5 7.1-2.9z" color="#2e84f8"/>
<path d="M506 121.3l-7.1 2.9-0.6-1.5 7.1-2.9z" color="#317efb"/>
<path d="M641.6 73.9l-7.1 1.6-0.6-0.1 7.1-1.7z" color="#0cbdbc"/>
<path d="M634.5 75.5l-7.1 1.8-0.6-0.2 7.1-1.7z" color="#0abdbd"/>
<path d="M627.4 77.3l-7.1 2-0.6-0.3 7.1-1.9z" color="#08bcbf"/>
<path d="M620.3 79.3l-7.1 2-0.6-0.3 7.1-2z" color="#04bbc1"/>
<path d="M613.2 81.3l-7.1 2.1-0.6-0.3 7.1-2.1z" color="#02bac4"/>
<path d="M606.1 83.4l-7.1 2.3-0.6-0.3 7.1-2.3z" color="#01b9c8"/>
<path d="M599 85.7l-7.1 2.4-0.6-0.4 7.1-2.3z" color="#03b7cc"/>
<path d="M591.9 88.1l-7.1 2.5-0.6-0.5 7.1-2.4z" color="#08b5d0"/>
<path d="M584.8 90.6l-7.2 2.6-0.6-0.6 7.2-2.5z" color="#0fb2d5"/>
<path d="M577.6 93.2l-7.1 2.6-0.6-0.6 7.1-2.6z" color="#16afd9"/>
<path d="M570.5 95.8l-7.1 2.8-0.6-0.7 7.1-2.7z" color="#1aabdd"/>
<path d="M563.4 98.6l-7.1 2.9-0.6-0.8 7.1-2.8z" color="#1ea7e1"/>
<path d="M556.3 101.5l-7.1 3-0.6-0.9 7.1-2.9z" color="#22a2e4"/>
<path d="M549.2 104.5l-7.1 3.1-0.6-1 7.1-3z" color="#259ce7"/>
<path d="M542.1 107.6l-7.1 3-0.6-1.1 7.1-2.9z" color="#2797eb"/>
<path d="M535 110.6l-7.1 3-0.6-1.1 7.1-3z" color="#2b91ef"/>
<path d="M527.9 113.6l-7.1 3-0.6-1.2 7.1-2.9z" color="#2d8bf3"/>
<path d="M520.8 116.6l-7.1 3.1-0.6-1.4 7.1-2.9z" color="#2e85f8"/>
<path d="M513.7 119.7l-7.1 3-0.6-1.4 7.1-3z" color="#307ffb"/>
<path d="M506.6 122.7l-7.1 3.1-0.6-1.6 7.1-2.9z" color="#3678fe"/>
<path d="M642.2 74.1l-7.1 1.6-0.6-0.2 7.1-1.6z" color="#0cbdbc"/>
<path d="M635.1 75.7l-7.1 1.8-0.6-0.2 7.1-1.8z" color="#0abdbd"/>
<path d="M628 77.5l-7.1 2-0.6-0.2 7.1-2z" color="#07bcbf"/>
<path d="M620.9 79.5l-7.1 2.1-0.6-0.3 7.1-2z" color="#04bbc2"/>
<path d="M613.8 81.6l-7.1 2.1-0.6-0.3 7.1-2.1z" color="#02bac5"/>
<path d="M606.7 83.7l-7.1 2.4-0.6-0.4 7.1-2.3z" color="#01b8c8"/>
<path d="M599.6 86.1l-7.1 2.5-0.6-0.5 7.1-2.4z" color="#04b6cd"/>
<path d="M592.5 88.6l-7.1 2.5-0.6-0.5 7.1-2.5z" color="#0ab4d1"/>
<path d="M585.4 91.1l-7.2 2.6-0.6-0.5 7.2-2.6z" color="#12b1d6"/>
<path d="M578.2 93.7l-7.1 2.8-0.6-0.7 7.1-2.6z" color="#18aedb"/>
<path d="M571.1 96.5l-7.1 2.8-0.6-0.7 7.1-2.8z" color="#1caadf"/>
<path d="M564 99.3l-7.1 3-0.6-0.8 7.1-2.9z" color="#20a5e2"/>
<path d="M556.9 102.3l-7.1 3.1-0.6-0.9 7.1-3z" color="#23a0e5"/>
<path d="M549.8 105.4l-7.1 3.2-0.6-1 7.1-3.1z" color="#269ae9"/>
<path d="M542.7 108.6l-7.1 3.1-0.6-1.1 7.1-3z" color="#2994ed"/>
<path d="M535.6 111.7l-7.1 3.1-0.6-1.2 7.1-3z" color="#2d8df2"/>
<path d="M528.5 114.8l-7.1 3.1-0.6-1.3 7.1-3z" color="#2e87f7"/>
<path d="M521.4 117.9l-7.1 3.1-0.6-1.3 7.1-3.1z" color="#2f80fa"/>
<path d="M514.3 121l-7.1 3.2-0.6-1.5 7.1-3z" color="#3579fd"/>
<path d="M507.2 124.2l-7.1 3.2-0.6-1.6 7.1-3.1z" color="#3c71ff"/>
<path d="M642.8 74.2l-7.1 1.7-0.6-0.2 7.1-1.6z" color="#0cbdbc"/>
<path d="M635.7 75.9l-7.1 1.8-0.6-0.2 7.1-1.8z" color="#0abdbd"/>
<path d="M628.6 77.7l-7.1 2-0.6-0.2 7.1-2z" color="#07bcbf"/>
<path d="M621.5 79.7l-7.1 2.1-0.6-0.2 7.1-2.1z" color="#03bbc2"/>
<path d="M614.4 81.8l-7.1 2.2-0.6-0.3 7.1-2.1z" color="#01bac5"/>
<path d="M607.3 84l-7.1 2.4-0.6-0.3 7.1-2.4z" color="#01b8c9"/>
<path d="M600.2 86.4l-7.1 2.6-0.6-0.4 7.1-2.5z" color="#05b6ce"/>
<path d="M593.1 89l-7.1 2.6-0.6-0.5 7.1-2.5z" color="#0cb3d3"/>
<path d="M586 91.6l-7.2 2.7-0.6-0.6 7.2-2.6z" color="#13b0d8"/>
<path d="M578.8 94.3l-7.1 2.8-0.6-0.6 7.1-2.8z" color="#19acdc"/>
<path d="M571.7 97.1l-7.1 2.9-0.6-0.7 7.1-2.8z" color="#1da8e0"/>
<path d="M564.6 100l-7.1 3.1-0.6-0.8 7.1-3z" color="#21a3e3"/>
<path d="M557.5 103.1l-7.1 3.2-0.6-0.9 7.1-3.1z" color="#249de6"/>
<path d="M550.4 106.3l-7.1 3.3-0.6-1 7.1-3.2z" color="#2797eb"/>
<path d="M543.3 109.6l-7.1 3.2-0.6-1.1 7.1-3.1z" color="#2b90f0"/>
<path d="M536.2 112.8l-7.1 3.2-0.6-1.2 7.1-3.1z" color="#2d89f5"/>
<path d="M529.1 116l-7.1 3.2-0.6-1.3 7.1-3.1z" color="#2f82f9"/>
<path d="M522 119.2l-7.1 3.2-0.6-1.4 7.1-3.1z" color="#337bfc"/>
<path d="M514.9 122.4l-7.1 3.3-0.6-1.5 7.1-3.2z" color="#3b73fe"/>
<path d="M507.8 125.7l-7.1 3.2-0.6-1.5 7.1-3.2z" color="#416bfe"/>
<path d="M643.4 74.4l-7.1 1.7-0.6-0.2 7.1-1.7z" color="#0cbdbc"/>
<path d="M636.3 76.1l-7.1 1.8-0.6-0.2 7.1-1.8z" color="#0abdbd"/>
<path d="M629.2 77.9l-7.1 2.1-0.6-0.3 7.1-2z" color="#07bcc0"/>
<path d="M622.1 80l-7.1 2.1-0.6-0.3 7.1-2.1z" color="#03bbc2"/>
<path d="M615 82.1l-7.1 2.2-0.6-0.3 7.1-2.2z" color="#01b9c6"/>
<path d="M607.9 84.3l-7.1 2.5-0.6-0.4 7.1-2.4z" color="#01b8ca"/>
<path d="M600.8 86.8l-7.1 2.6-0.6-0.4 7.1-2.6z" color="#06b5cf"/>
<path d="M593.7 89.4l-7.1 2.6-0.6-0.4 7.1-2.6z" color="#0eb2d4"/>
<path d="M586.6 92l-7.2 2.8-0.6-0.5 7.2-2.7z" color="#15afd9"/>
<path d="M579.4 94.8l-7.1 2.9-0.6-0.6 7.1-2.8z" color="#1aabde"/>
<path d="M572.3 97.7l-7.1 3-0.6-0.7 7.1-2.9z" color="#1fa6e1"/>
<path d="M565.2 100.7l-7.1 3.1-0.6-0.7 7.1-3.1z" color="#23a1e4"/>
<path d="M558.1 103.8l-7.1 3.4-0.6-0.9 7.1-3.2z" color="#259be8"/>
<path d="M551 107.2l-7.1 3.4-0.6-1 7.1-3.3z" color="#2994ed"/>
<path d="M543.9 110.6l-7.1 3.3-0.6-1.1 7.1-3.2z" color="#2d8df2"/>
<path d="M536.8 113.9l-7.1 3.3-0.6-1.2 7.1-3.2z" color="#2e85f8"/>
<path d="M529.7 117.2l-7.1 3.3-0.6-1.3 7.1-3.2z" color="#317efb"/>
<path d="M522.6 120.5l-7.1 3.3-0.6-1.4 7.1-3.2z" color="#3875fe"/>
<path d="M515.5 123.8l-7.1 3.3-0.6-1.4 7.1-3.3z" color="#406dfe"/>
<path d="M508.4 127.1l-7.1 3.4-0.6-1.6 7.1-3.2z" color="#4465fd"/>
<path d="M644 74.6l-7.1 1.7-0.6-0.2 7.1-1.7z" color="#0cbdbc"/>
<path d="M636.9 76.3l-7.1 1.8-0.6-0.2 7.1-1.8z" color="#0abdbe"/>
<path d="M629.8 78.1l-7.1 2.1-0.6-0.2 7.1-2.1z" color="#07bcc0"/>
<path d="M622.7 80.2l-7.1 2.2-0.6-0.3 7.1-2.1z" color="#02bbc3"/>
<path d="M615.6 82.4l-7.1 2.2-0.6-0.3 7.1-2.2z" color="#01b9c6"/>
<path d="M608.5 84.6l-7.1 2.5-0.6-0.3 7.1-2.5z" color="#02b7cb"/>
<path d="M601.4 87.1l-7.1 2.7-0.6-0.4 7.1-2.6z" color="#07b5d0"/>
<path d="M594.3 89.8l-7.2 2.7-0.5-0.5 7.1-2.6z" color="#10b2d5"/>
<path d="M587.1 92.5l-7.1 2.8-0.6-0.5 7.2-2.8z" color="#17aeda"/>
<path d="M580 95.3l-7.1 3-0.6-0.6 7.1-2.9z" color="#1caadf"/>
<path d="M572.9 98.3l-7.1 3.1-0.6-0.7 7.1-3z" color="#20a5e2"/>
<path d="M565.8 101.4l-7.1 3.2-0.6-0.8 7.1-3.1z" color="#249fe5"/>
<path d="M558.7 104.6l-7.1 3.5-0.6-0.9 7.1-3.4z" color="#2798ea"/>
<path d="M551.6 108.1l-7.1 3.4-0.6-0.9 7.1-3.4z" color="#2b91ef"/>
<path d="M544.5 111.5l-7.1 3.4-0.6-1 7.1-3.3z" color="#2d89f5"/>
<path d="M537.4 114.9l-7.1 3.4-0.6-1.1 7.1-3.3z" color="#2f81fa"/>
<path d="M530.3 118.3l-7.1 3.4-0.6-1.2 7.1-3.3z" color="#3579fd"/>
<path d="M523.2 121.7l-7.1 3.5-0.6-1.4 7.1-3.3z" color="#3d70ff"/>
<path d="M516.1 125.2l-7.1 3.4-0.6-1.5 7.1-3.3z" color="#4367fd"/>
<path d="M509 128.6l-7.1 3.5-0.6-1.6 7.1-3.4z" color="#465ffb"/>
<path d="M644.6 74.8l-7.1 1.7-0.6-0.2 7.1-1.7z" color="#0cbdbc"/>
<path d="M637.5 76.5l-7.1 1.9-0.6-0.3 7.1-1.8z" color="#0abdbe"/>
<path d="M630.4 78.4l-7.1 2-0.6-0.2 7.1-2.1z" color="#06bcc0"/>
<path d="M623.3 80.4l-7.1 2.2-0.6-0.2 7.1-2.2z" color="#02bac3"/>
<path d="M616.2 82.6l-7.1 2.3-0.6-0.3 7.1-2.2z" color="#01b9c7"/>
<path d="M609.1 84.9l-7.1 2.6-0.6-0.4 7.1-2.5z" color="#03b7cb"/>
<path d="M602 87.5l-7.1 2.7-0.6-0.4 7.1-2.7z" color="#09b4d1"/>
<path d="M594.9 90.2l-7.2 2.8-0.6-0.5 7.2-2.7z" color="#12b1d6"/>
<path d="M587.7 93l-7.1 2.9-0.6-0.6 7.1-2.8z" color="#19addc"/>
<path d="M580.6 95.9l-7.1 3-0.6-0.6 7.1-3z" color="#1da8e0"/>
<path d="M573.5 98.9l-7.1 3.2-0.6-0.7 7.1-3.1z" color="#21a3e3"/>
<path d="M566.4 102.1l-7.1 3.3-0.6-0.8 7.1-3.2z" color="#259de7"/>
<path d="M559.3 105.4l-7.1 3.5-0.6-0.8 7.1-3.5z" color="#2896ec"/>
<path d="M552.2 108.9l-7.1 3.6-0.6-1 7.1-3.4z" color="#2c8ef1"/>
<path d="M545.1 112.5l-7.1 3.5-0.6-1.1 7.1-3.4z" color="#2e86f8"/>
<path d="M538 116l-7.1 3.5-0.6-1.2 7.1-3.4z" color="#317dfc"/>
<path d="M530.9 119.5l-7.1 3.5-0.6-1.3 7.1-3.4z" color="#3a74fe"/>
<path d="M523.8 123l-7.1 3.5-0.6-1.3 7.1-3.5z" color="#416bfe"/>
<path d="M516.7 126.5l-7.1 3.6-0.6-1.5 7.1-3.4z" color="#4562fc"/>
<path d="M509.6 130.1l-7.1 3.5-0.6-1.5 7.1-3.5z" color="#4759f8"/>
<path d="M645.2 75l-7.1 1.7-0.6-0.2 7.1-1.7z" color="#0cbdbc"/>
<path d="M638.1 76.7l-7.1 1.9-0.6-0.2 7.1-1.9z" color="#09bdbe"/>
<path d="M631 78.6l-7.1 2.1-0.6-0.3 7.1-2z" color="#06bcc0"/>
<path d="M623.9 80.7l-7.1 2.2-0.6-0.3 7.1-2.2z" color="#02bac4"/>
<path d="M616.8 82.9l-7.1 2.3-0.6-0.3 7.1-2.3z" color="#01b9c7"/>
<path d="M609.7 85.2l-7.1 2.6-0.6-0.3 7.1-2.6z" color="#03b7cc"/>
<path d="M602.6 87.8l-7.1 2.8-0.6-0.4 7.1-2.7z" color="#0ab4d2"/>
<path d="M595.5 90.6l-7.2 2.9-0.6-0.5 7.2-2.8z" color="#13b0d7"/>
<path d="M588.3 93.5l-7.1 2.9-0.6-0.5 7.1-2.9z" color="#1aacdd"/>
<path d="M581.2 96.4l-7.1 3.1-0.6-0.6 7.1-3z" color="#1ea7e1"/>
<path d="M574.1 99.5l-7.1 3.3-0.6-0.7 7.1-3.2z" color="#22a1e4"/>
<path d="M567 102.8l-7.1 3.4-0.6-0.8 7.1-3.3z" color="#259be8"/>
<path d="M559.9 106.2l-7.1 3.6-0.6-0.9 7.1-3.5z" color="#2a93ed"/>
<path d="M552.8 109.8l-7.1 3.7-0.6-1 7.1-3.6z" color="#2d8bf4"/>
<path d="M545.7 113.5l-7.1 3.6-0.6-1.1 7.1-3.5z" color="#2f82fa"/>
<path d="M538.6 117.1l-7.1 3.6-0.6-1.2 7.1-3.5z" color="#3579fd"/>
<path d="M531.5 120.7l-7.1 3.6-0.6-1.3 7.1-3.5z" color="#3e6fff"/>
<path d="M524.4 124.3l-7.1 3.6-0.6-1.4 7.1-3.5z" color="#4465fd"/>
<path d="M517.3 127.9l-7.1 3.7-0.6-1.5 7.1-3.6z" color="#475cfa"/>
<path d="M510.2 131.6l-7.1 3.6-0.6-1.6 7.1-3.5z" color="#4853f5"/>
<path d="M645.8 75.1l-7.1 1.8-0.6-0.2 7.1-1.7z" color="#0cbdbc"/>
<path d="M638.7 76.9l-7.1 1.9-0.6-0.2 7.1-1.9z" color="#09bdbe"/>
<path d="M631.6 78.8l-7.1 2.1-0.6-0.2 7.1-2.1z" color="#06bcc0"/>
<path d="M624.5 80.9l-7.1 2.3-0.6-0.3 7.1-2.2z" color="#02bac4"/>
<path d="M617.4 83.2l-7.1 2.3-0.6-0.3 7.1-2.3z" color="#01b8c8"/>
<path d="M610.3 85.5l-7.1 2.7-0.6-0.4 7.1-2.6z" color="#04b6cd"/>
<path d="M603.2 88.2l-7.1 2.8-0.6-0.4 7.1-2.8z" color="#0cb3d3"/>
<path d="M596.1 91l-7.2 2.9-0.6-0.4 7.2-2.9z" color="#15afd8"/>
<path d="M588.9 93.9l-7.1 3.1-0.6-0.6 7.1-2.9z" color="#1babde"/>
<path d="M581.8 97l-7.1 3.2-0.6-0.7 7.1-3.1z" color="#1fa6e2"/>
<path d="M574.7 100.2l-7.1 3.3-0.6-0.7 7.1-3.3z" color="#23a0e5"/>
<path d="M567.6 103.5l-7.1 3.5-0.6-0.8 7.1-3.4z" color="#2699e9"/>
<path d="M560.5 107l-7.1 3.7-0.6-0.9 7.1-3.6z" color="#2b91ef"/>
<path d="M553.4 110.7l-7.1 3.8-0.6-1 7.1-3.7z" color="#2d88f6"/>
<path d="M546.3 114.5l-7.1 3.7-0.6-1.1 7.1-3.6z" color="#317efb"/>
<path d="M539.2 118.2l-7.1 3.7-0.6-1.2 7.1-3.6z" color="#3a74fe"/>
<path d="M532.1 121.9l-7.1 3.7-0.6-1.3 7.1-3.6z" color="#426afe"/>
<path d="M525 125.6l-7.1 3.7-0.6-1.4 7.1-3.6z" color="#4660fc"/>
<path d="M517.9 129.3l-7.1 3.7-0.6-1.4 7.1-3.7z" color="#4757f7"/>
<path d="M510.8 133l-7.1 3.8-0.6-1.6 7.1-3.6z" color="#484df0"/>
<path d="M646.4 75.3l-7.1 1.7-0.6-0.1 7.1-1.8z" color="#0cbdbc"/>
<path d="M639.3 77l-7.1 2-0.6-0.2 7.1-1.9z" color="#09bcbe"/>
<path d="M632.2 79l-7.1 2.1-0.6-0.2 7.1-2.1z" color="#05bbc1"/>
<path d="M625.1 81.1l-7.1 2.3-0.6-0.2 7.1-2.3z" color="#02bac4"/>
<path d="M618 83.4l-7.1 2.4-0.6-0.3 7.1-2.3z" color="#01b8c9"/>
<path d="M610.9 85.8l-7.1 2.7-0.6-0.3 7.1-2.7z" color="#05b6ce"/>
<path d="M603.8 88.5l-7.1 2.9-0.6-0.4 7.1-2.8z" color="#0db3d4"/>
<path d="M596.7 91.4l-7.2 3-0.6-0.5 7.2-2.9z" color="#16afda"/>
<path d="M589.5 94.4l-7.1 3.1-0.6-0.5 7.1-3.1z" color="#1caadf"/>
<path d="M582.4 97.5l-7.1 3.3-0.6-0.6 7.1-3.2z" color="#20a4e3"/>
<path d="M575.3 100.8l-7.1 3.4-0.6-0.7 7.1-3.3z" color="#249ee6"/>
<path d="M568.2 104.2l-7.1 3.6-0.6-0.8 7.1-3.5z" color="#2797eb"/>
<path d="M561.1 107.8l-7.1 3.8-0.6-0.9 7.1-3.7z" color="#2c8ef1"/>
<path d="M554 111.6l-7.1 3.9-0.6-1 7.1-3.8z" color="#2e84f8"/>
<path d="M546.9 115.5l-7.1 3.8-0.6-1.1 7.1-3.7z" color="#337afd"/>
<path d="M539.8 119.3l-7.1 3.7-0.6-1.1 7.1-3.7z" color="#3e6fff"/>
<path d="M532.7 123l-7.1 3.8-0.6-1.2 7.1-3.7z" color="#4465fd"/>
<path d="M525.6 126.8l-7.1 3.8-0.6-1.3 7.1-3.7z" color="#475bf9"/>
<path d="M518.5 130.6l-7.1 3.9-0.6-1.5 7.1-3.7z" color="#4851f3"/>
<path d="M511.4 134.5l-7.1 3.9-0.6-1.6 7.1-3.8z" color="#4747eb"/>
<path d="M647 75.5l-7.1 1.7-0.6-0.2 7.1-1.7z" color="#0cbdbc"/>
<path d="M639.9 77.2l-7.1 2-0.6-0.2 7.1-2z" color="#09bcbe"/>
<path d="M632.8 79.2l-7.1 2.1-0.6-0.2 7.1-2.1z" color="#05bbc1"/>
<path d="M625.7 81.3l-7.1 2.4-0.6-0.3 7.1-2.3z" color="#02bac5"/>
<path d="M618.6 83.7l-7.1 2.4-0.6-0.3 7.1-2.4z" color="#01b8c9"/>
<path d="M611.5 86.1l-7.1 2.8-0.6-0.4 7.1-2.7z" color="#06b5ce"/>
<path d="M604.4 88.9l-7.1 3-0.6-0.5 7.1-2.9z" color="#0fb2d5"/>
<path d="M597.3 91.9l-7.2 3-0.6-0.5 7.2-3z" color="#17aedb"/>
<path d="M590.1 94.9l-7.1 3.2-0.6-0.6 7.1-3.1z" color="#1da9e0"/>
<path d="M583 98.1l-7.1 3.3-0.6-0.6 7.1-3.3z" color="#21a3e3"/>
<path d="M575.9 101.4l-7.1 3.5-0.6-0.7 7.1-3.4z" color="#259ce7"/>
<path d="M568.8 104.9l-7.1 3.7-0.6-0.8 7.1-3.6z" color="#2994ed"/>
<path d="M561.7 108.6l-7.1 3.9-0.6-0.9 7.1-3.8z" color="#2d8bf4"/>
<path d="M554.6 112.5l-7.1 4-0.6-1 7.1-3.9z" color="#2f81fa"/>
<path d="M547.5 116.5l-7.1 3.8-0.6-1 7.1-3.8z" color="#3876fe"/>
<path d="M540.4 120.3l-7.1 3.9-0.6-1.2 7.1-3.7z" color="#416bfe"/>
<path d="M533.3 124.2l-7.1 3.9-0.6-1.3 7.1-3.8z" color="#4660fc"/>
<path d="M526.2 128.1l-7.1 3.9-0.6-1.4 7.1-3.8z" color="#4756f7"/>
<path d="M519.1 132l-7.1 4-0.6-1.5 7.1-3.9z" color="#484cef"/>
<path d="M512 136l-7.1 3.9-0.6-1.5 7.1-3.9z" color="#4741e5"/>
<path d="M647.6 75.7l-7.1 1.7-0.6-0.2 7.1-1.7z" color="#0bbdbc"/>
<path d="M640.5 77.4l-7.1 2-0.6-0.2 7.1-2z" color="#09bcbe"/>
<path d="M633.4 79.4l-7.1 2.2-0.6-0.3 7.1-2.1z" color="#05bbc1"/>
<path d="M626.3 81.6l-7.1 2.3-0.6-0.2 7.1-2.4z" color="#02bac5"/>
<path d="M619.2 83.9l-7.1 2.6-0.6-0.4 7.1-2.4z" color="#01b8ca"/>
<path d="M612.1 86.5l-7.1 2.8-0.6-0.4 7.1-2.8z" color="#07b5cf"/>
<path d="M605 89.3l-7.1 3-0.6-0.4 7.1-3z" color="#11b1d5"/>
<path d="M597.9 92.3l-7.2 3.1-0.6-0.5 7.2-3z" color="#19addc"/>
<path d="M590.7 95.4l-7.1 3.2-0.6-0.5 7.1-3.2z" color="#1ea8e1"/>
<path d="M583.6 98.6l-7.1 3.4-0.6-0.6 7.1-3.3z" color="#22a1e4"/>
<path d="M576.5 102l-7.1 3.6-0.6-0.7 7.1-3.5z" color="#269ae8"/>
<path d="M569.4 105.6l-7.1 3.7-0.6-0.7 7.1-3.7z" color="#2b92ee"/>
<path d="M562.3 109.3l-7.1 4.1-0.6-0.9 7.1-3.9z" color="#2d88f6"/>
<path d="M555.2 113.4l-7.1 4-0.6-0.9 7.1-4z" color="#317efb"/>
<path d="M548.1 117.4l-7.1 4-0.6-1.1 7.1-3.8z" color="#3c72ff"/>
<path d="M541 121.4l-7.1 4-0.6-1.2 7.1-3.9z" color="#4367fd"/>
<path d="M533.9 125.4l-7.1 4-0.6-1.3 7.1-3.9z" color="#475cfa"/>
<path d="M526.8 129.4l-7.1 4-0.6-1.4 7.1-3.9z" color="#4851f3"/>
<path d="M519.7 133.4l-7.1 4-0.6-1.4 7.1-4z" color="#4746ea"/>
<path d="M512.6 137.4l-7.1 4.1-0.6-1.6 7.1-3.9z" color="#463bdd"/>
<path d="M648.2 75.8l-7.1 1.8-0.6-0.2 7.1-1.7z" color="#0bbdbc"/>
<path d="M641.1 77.6l-7.1 2-0.6-0.2 7.1-2z" color="#09bcbe"/>
<path d="M634 79.6l-7.1 2.2-0.6-0.2 7.1-2.2z" color="#05bbc1"/>
<path d="M626.9 81.8l-7.1 2.4-0.6-0.3 7.1-2.3z" color="#01bac5"/>
<path d="M619.8 84.2l-7.1 2.6-0.6-0.3 7.1-2.6z" color="#01b8ca"/>
<path d="M612.7 86.8l-7.1 2.8-0.6-0.3 7.1-2.8z" color="#07b5d0"/>
<path d="M605.6 89.6l-7.1 3.1-0.6-0.4 7.1-3z" color="#12b1d6"/>
<path d="M598.5 92.7l-7.2 3.1-0.6-0.4 7.2-3.1z" color="#19acdc"/>
<path d="M591.3 95.8l-7.1 3.3-0.6-0.5 7.1-3.2z" color="#1ea6e1"/>
<path d="M584.2 99.1l-7.1 3.5-0.6-0.6 7.1-3.4z" color="#23a0e5"/>
<path d="M577.1 102.6l-7.1 3.7-0.6-0.7 7.1-3.6z" color="#2698ea"/>
<path d="M570 106.3l-7.1 3.8-0.6-0.8 7.1-3.7z" color="#2c90f0"/>
<path d="M562.9 110.1l-7.1 4.1-0.6-0.8 7.1-4.1z" color="#2e86f8"/>
<path d="M555.8 114.2l-7.1 4.2-0.6-1 7.1-4z" color="#337afd"/>
<path d="M548.7 118.4l-7.1 4.1-0.6-1.1 7.1-4z" color="#3f6efe"/>
<path d="M541.6 122.5l-7.1 4.1-0.6-1.2 7.1-4z" color="#4562fc"/>
<path d="M534.5 126.6l-7.1 4-0.6-1.2 7.1-4z" color="#4757f7"/>
<path d="M527.4 130.6l-7.1 4.1-0.6-1.3 7.1-4z" color="#484cf0"/>
<path d="M520.3 134.7l-7.1 4.2-0.6-1.5 7.1-4z" color="#4741e5"/>
<path d="M513.2 138.9l-7.1 4.2-0.6-1.6 7.1-4.1z" color="#4536d4"/>
<path d="M648.8 76l-7.1 1.8-0.6-0.2 7.1-1.8z" color="#0bbdbc"/>
<path d="M641.7 77.8l-7.1 2-0.6-0.2 7.1-2z" color="#09bcbe"/>
<path d="M634.6 79.8l-7.1 2.2-0.6-0.2 7.1-2.2z" color="#04bbc1"/>
<path d="M627.5 82l-7.1 2.5-0.6-0.3 7.1-2.4z" color="#01b9c6"/>
<path d="M620.4 84.5l-7.1 2.6-0.6-0.3 7.1-2.6z" color="#02b7cb"/>
<path d="M613.3 87.1l-7.1 2.9-0.6-0.4 7.1-2.8z" color="#08b4d1"/>
<path d="M606.2 90l-7.1 3.1-0.6-0.4 7.1-3.1z" color="#13b0d7"/>
<path d="M599.1 93.1l-7.2 3.2-0.6-0.5 7.2-3.1z" color="#1aabdd"/>
<path d="M591.9 96.3l-7.1 3.4-0.6-0.6 7.1-3.3z" color="#1fa5e2"/>
<path d="M584.8 99.7l-7.1 3.5-0.6-0.6 7.1-3.5z" color="#249ee6"/>
<path d="M577.7 103.2l-7.1 3.8-0.6-0.7 7.1-3.7z" color="#2797eb"/>
<path d="M570.6 107l-7.1 3.9-0.6-0.8 7.1-3.8z" color="#2c8ef2"/>
<path d="M563.5 110.9l-7.1 4.2-0.6-0.9 7.1-4.1z" color="#2e83f9"/>
<path d="M556.4 115.1l-7.1 4.3-0.6-1 7.1-4.2z" color="#3777fe"/>
<path d="M549.3 119.4l-7.1 4.2-0.6-1.1 7.1-4.1z" color="#426afe"/>
<path d="M542.2 123.6l-7.1 4.1-0.6-1.1 7.1-4.1z" color="#465efb"/>
<path d="M535.1 127.7l-7.1 4.2-0.6-1.3 7.1-4z" color="#4853f4"/>
<path d="M528 131.9l-7.1 4.2-0.6-1.4 7.1-4.1z" color="#4747eb"/>
<path d="M520.9 136.1l-7.1 4.3-0.6-1.5 7.1-4.2z" color="#463bdd"/>
<path d="M513.8 140.4l-7.1 4.2-0.6-1.5 7.1-4.2z" color="#4332c9"/>
<path d="M649.4 76.2l-7.1 1.8-0.6-0.2 7.1-1.8z" color="#0bbdbc"/>
<path d="M642.3 78l-7.1 2-0.6-0.2 7.1-2z" color="#09bcbe"/>
<path d="M635.2 80l-7.1 2.3-0.6-0.3 7.1-2.2z" color="#04bbc2"/>
<path d="M628.1 82.3l-7.1 2.4-0.6-0.2 7.1-2.5z" color="#01b9c6"/>
<path d="M621 84.7l-7.1 2.7-0.6-0.3 7.1-2.6z" color="#02b7cb"/>
<path d="M613.9 87.4l-7.1 2.9-0.6-0.3 7.1-2.9z" color="#0ab4d1"/>
<path d="M606.8 90.3l-7.1 3.2-0.6-0.4 7.1-3.1z" color="#14b0d8"/>
<path d="M599.7 93.5l-7.2 3.3-0.6-0.5 7.2-3.2z" color="#1baade"/>
<path d="M592.5 96.8l-7.1 3.4-0.6-0.5 7.1-3.4z" color="#20a4e3"/>
<path d="M585.4 100.2l-7.1 3.7-0.6-0.7 7.1-3.5z" color="#259de7"/>
<path d="M578.3 103.9l-7.1 3.7-0.6-0.6 7.1-3.8z" color="#2995ec"/>
<path d="M571.2 107.6l-7.1 4.1-0.6-0.8 7.1-3.9z" color="#2d8bf4"/>
<path d="M564.1 111.7l-7.1 4.3-0.6-0.9 7.1-4.2z" color="#3080fa"/>
<path d="M557 116l-7.1 4.4-0.6-1 7.1-4.3z" color="#3b73fe"/>
<path d="M549.9 120.4l-7.1 4.3-0.6-1.1 7.1-4.2z" color="#4466fd"/>
<path d="M542.8 124.7l-7.1 4.2-0.6-1.2 7.1-4.1z" color="#475af9"/>
<path d="M535.7 128.9l-7.1 4.3-0.6-1.3 7.1-4.2z" color="#484ef1"/>
<path d="M528.6 133.2l-7.1 4.3-0.6-1.4 7.1-4.2z" color="#4742e6"/>
<path d="M521.5 137.5l-7.1 4.3-0.6-1.4 7.1-4.3z" color="#4537d5"/>
<path d="M514.4 141.8l-7.1 4.4-0.6-1.6 7.1-4.2z" color="#412dbd"/>
<path d="M650 76.4l-7.1 1.8-0.6-0.2 7.1-1.8z" color="#0bbdbc"/>
<path d="M642.9 78.2l-7.1 2-0.6-0.2 7.1-2z" color="#08bcbe"/>
<path d="M635.8 80.2l-7.1 2.3-0.6-0.2 7.1-2.3z" color="#04bbc2"/>
<path d="M628.7 82.5l-7.1 2.5-0.6-0.3 7.1-2.4z" color="#01b9c6"/>
<path d="M621.6 85l-7.1 2.7-0.6-0.3 7.1-2.7z" color="#03b7cc"/>
<path d="M614.5 87.7l-7.1 3-0.6-0.4 7.1-2.9z" color="#0bb4d2"/>
<path d="M607.4 90.7l-7.2 3.2-0.5-0.4 7.1-3.2z" color="#15afd9"/>
<path d="M600.2 93.9l-7.1 3.4-0.6-0.5 7.2-3.3z" color="#1caadf"/>
<path d="M593.1 97.3l-7.1 3.5-0.6-0.6 7.1-3.4z" color="#21a3e3"/>
<path d="M586 100.8l-7.1 3.7-0.6-0.6 7.1-3.7z" color="#259be7"/>
<path d="M578.9 104.5l-7.1 3.8-0.6-0.7 7.1-3.7z" color="#2a93ee"/>
<path d="M571.8 108.3l-7.1 4.2-0.6-0.8 7.1-4.1z" color="#2d89f5"/>
<path d="M564.7 112.5l-7.1 4.4-0.6-0.9 7.1-4.3z" color="#317dfc"/>
<path d="M557.6 116.9l-7.1 4.5-0.6-1 7.1-4.4z" color="#3e6fff"/>
<path d="M550.5 121.4l-7.1 4.3-0.6-1 7.1-4.3z" color="#4562fc"/>
<path d="M543.4 125.7l-7.1 4.4-0.6-1.2 7.1-4.2z" color="#4756f6"/>
<path d="M536.3 130.1l-7.1 4.4-0.6-1.3 7.1-4.3z" color="#4849ed"/>
<path d="M529.2 134.5l-7.1 4.4-0.6-1.4 7.1-4.3z" color="#463de0"/>
<path d="M522.1 138.9l-7.1 4.4-0.6-1.5 7.1-4.3z" color="#4332cb"/>
<path d="M515 143.3l-7.1 4.5-0.6-1.6 7.1-4.4z" color="#3f29b1"/>
<path d="M650.4 76.5l-7.1 1.8-0.4-0.1 7.1-1.8z" color="#0bbdbc"/>
<path d="M643.3 78.3l-7.1 1.9-0.4 0 7.1-2z" color="#08bcbe"/>
<path d="M636.2 80.2l-7.1 2.3-0.4 0 7.1-2.3z" color="#04bbc2"/>
<path d="M629.1 82.5l-7.1 2.4-0.4 0.1 7.1-2.5z" color="#01b9c6"/>
<path d="M622 84.9l-7.1 2.6-0.4 0.2 7.1-2.7z" color="#03b7cb"/>
<path d="M614.9 87.5l-7.1 2.9-0.4 0.3 7.1-3z" color="#0ab4d2"/>
<path d="M607.8 90.4l-7.2 3.1-0.4 0.4 7.2-3.2z" color="#15afd8"/>
<path d="M600.6 93.5l-7.1 3.2-0.4 0.6 7.1-3.4z" color="#1caadf"/>
<path d="M593.5 96.7l-7.1 3.4-0.4 0.7 7.1-3.5z" color="#21a4e3"/>
<path d="M586.4 100.1l-7.1 3.5-0.4 0.9 7.1-3.7z" color="#259ce7"/>
<path d="M579.3 103.6l-7.1 3.7-0.4 1 7.1-3.8z" color="#2994ed"/>
<path d="M572.2 107.3l-7.1 4-0.4 1.2 7.1-4.2z" color="#2d8af4"/>
<path d="M565.1 111.3l-7.1 4.2-0.4 1.4 7.1-4.4z" color="#307ffb"/>
<path d="M558 115.5l-7.1 4.2-0.4 1.7 7.1-4.5z" color="#3c71ff"/>
<path d="M550.9 119.7l-7.1 4.2-0.4 1.8 7.1-4.3z" color="#4464fd"/>
<path d="M543.8 123.9l-7.1 4.1-0.4 2.1 7.1-4.4z" color="#4758f8"/>
<path d="M536.7 128l-7.1 4.2-0.4 2.3 7.1-4.4z" color="#484cf0"/>
<path d="M529.6 132.2l-7.1 4.2-0.4 2.5 7.1-4.4z" color="#4740e3"/>
<path d="M522.5 136.4l-7.1 4.2-0.4 2.7 7.1-4.4z" color="#4435d1"/>
<path d="M515.4 140.6l-7.1 4.2-0.4 3 7.1-4.5z" color="#412cb8"/>
<path d="M650.8 76.6l-7.1 1.8-0.4-0.1 7.1-1.8z" color="#0bbdbc"/>
<path d="M643.7 78.4l-7.1 1.9-0.4-0.1 7.1-1.9z" color="#09bcbe"/>
<path d="M636.6 80.3l-7.1 2.2-0.4 0 7.1-2.3z" color="#04bbc1"/>
<path d="M629.5 82.5l-7.1 2.4-0.4 0 7.1-2.4z" color="#01bac5"/>
<path d="M622.4 84.9l-7.1 2.4-0.4 0.2 7.1-2.6z" color="#01b7ca"/>
<path d="M615.3 87.3l-7.2 2.8-0.3 0.3 7.1-2.9z" color="#07b5d0"/>
<path d="M608.1 90.1l-7.1 3-0.4 0.4 7.2-3.1z" color="#12b1d7"/>
<path d="M601 93.1l-7.1 3.1-0.4 0.5 7.1-3.2z" color="#1aacdd"/>
<path d="M593.9 96.2l-7.1 3.2-0.4 0.7 7.1-3.4z" color="#1fa6e1"/>
<path d="M586.8 99.4l-7.1 3.4-0.4 0.8 7.1-3.5z" color="#23a0e5"/>
<path d="M579.7 102.8l-7.1 3.5-0.4 1 7.1-3.7z" color="#2798ea"/>
<path d="M572.6 106.3l-7.1 3.8-0.4 1.2 7.1-4z" color="#2c8ff0"/>
<path d="M565.5 110.1l-7.1 3.9-0.4 1.5 7.1-4.2z" color="#2e85f8"/>
<path d="M558.4 114l-7.1 4.1-0.4 1.6 7.1-4.2z" color="#3479fd"/>
<path d="M551.3 118.1l-7.1 3.9-0.4 1.9 7.1-4.2z" color="#406dfe"/>
<path d="M544.2 122l-7.1 4-0.4 2 7.1-4.1z" color="#4561fc"/>
<path d="M537.1 126l-7.1 3.9-0.4 2.3 7.1-4.2z" color="#4756f7"/>
<path d="M530 129.9l-7.1 4-0.4 2.5 7.1-4.2z" color="#484bef"/>
<path d="M522.9 133.9l-7.1 4-0.4 2.7 7.1-4.2z" color="#473fe3"/>
<path d="M515.8 137.9l-7.1 4-0.4 2.9 7.1-4.2z" color="#4435d1"/>
<path d="M651.2 76.7l-7.1 1.7-0.4 0 7.1-1.8z" color="#0cbdbc"/>
<path d="M644.1 78.4l-7.1 2-0.4-0.1 7.1-1.9z" color="#09bcbe"/>
<path d="M637 80.4l-7.1 2.1-0.4 0 7.1-2.2z" color="#05bbc1"/>
<path d="M629.9 82.5l-7.1 2.3-0.4 0.1 7.1-2.4z" color="#02bac5"/>
<path d="M622.8 84.8l-7.2 2.4-0.3 0.1 7.1-2.4z" color="#01b8c9"/>
<path d="M615.6 87.2l-7.1 2.7-0.4 0.2 7.2-2.8z" color="#06b5ce"/>
<path d="M608.5 89.9l-7.1 2.8-0.4 0.4 7.1-3z" color="#0fb2d5"/>
<path d="M601.4 92.7l-7.1 3-0.4 0.5 7.1-3.1z" color="#18aedb"/>
<path d="M594.3 95.7l-7.1 3-0.4 0.7 7.1-3.2z" color="#1da9e0"/>
<path d="M587.2 98.7l-7.1 3.2-0.4 0.9 7.1-3.4z" color="#21a3e3"/>
<path d="M580.1 101.9l-7.1 3.4-0.4 1 7.1-3.5z" color="#259ce7"/>
<path d="M573 105.3l-7.1 3.5-0.4 1.3 7.1-3.8z" color="#2994ed"/>
<path d="M565.9 108.8l-7.1 3.8-0.4 1.4 7.1-3.9z" color="#2d8bf4"/>
<path d="M558.8 112.6l-7.1 3.8-0.4 1.7 7.1-4.1z" color="#2f81fa"/>
<path d="M551.7 116.4l-7.1 3.8-0.4 1.8 7.1-3.9z" color="#3876fe"/>
<path d="M544.6 120.2l-7.1 3.7-0.4 2.1 7.1-4z" color="#416bfe"/>
<path d="M537.5 123.9l-7.1 3.7-0.4 2.3 7.1-3.9z" color="#4660fc"/>
<path d="M530.4 127.6l-7.1 3.8-0.4 2.5 7.1-4z" color="#4756f7"/>
<path d="M523.3 131.4l-7.1 3.8-0.4 2.7 7.1-4z" color="#484bef"/>
<path d="M516.2 135.2l-7.1 3.8-0.4 2.9 7.1-4z" color="#4741e5"/>
<path d="M651.6 76.8l-7.1 1.7-0.4-0.1 7.1-1.7z" color="#0cbdbc"/>
<path d="M644.5 78.5l-7.2 1.9-0.3 0 7.1-2z" color="#09bdbe"/>
<path d="M637.3 80.4l-7.1 2.1-0.3 0 7.1-2.1z" color="#06bcc0"/>
<path d="M630.2 82.5l-7.1 2.2-0.3 0.1 7.1-2.3z" color="#02bac4"/>
<path d="M623.1 84.7l-7.1 2.3-0.4 0.2 7.2-2.4z" color="#01b8c8"/>
<path d="M616 87l-7.1 2.6-0.4 0.3 7.1-2.7z" color="#04b6cd"/>
<path d="M608.9 89.6l-7.1 2.7-0.4 0.4 7.1-2.8z" color="#0cb3d3"/>
<path d="M601.8 92.3l-7.1 2.8-0.4 0.6 7.1-3z" color="#15afd8"/>
<path d="M594.7 95.1l-7.1 3-0.4 0.6 7.1-3z" color="#1babde"/>
<path d="M587.6 98.1l-7.1 3-0.4 0.8 7.1-3.2z" color="#1fa6e2"/>
<path d="M580.5 101.1l-7.1 3.2-0.4 1 7.1-3.4z" color="#23a0e5"/>
<path d="M573.4 104.3l-7.1 3.4-0.4 1.1 7.1-3.5z" color="#2699e9"/>
<path d="M566.3 107.7l-7.1 3.5-0.4 1.4 7.1-3.8z" color="#2b91ef"/>
<path d="M559.2 111.2l-7.1 3.6-0.4 1.6 7.1-3.8z" color="#2d88f6"/>
<path d="M552.1 114.8l-7.1 3.6-0.4 1.8 7.1-3.8z" color="#307ffb"/>
<path d="M545 118.4l-7.1 3.5-0.4 2 7.1-3.7z" color="#3974fe"/>
<path d="M537.9 121.9l-7.1 3.5-0.4 2.2 7.1-3.7z" color="#416afe"/>
<path d="M530.8 125.4l-7.1 3.6-0.4 2.4 7.1-3.8z" color="#4661fc"/>
<path d="M523.7 129l-7.1 3.6-0.4 2.6 7.1-3.8z" color="#4757f7"/>
<path d="M516.6 132.6l-7.1 3.6-0.4 2.8 7.1-3.8z" color="#484ef1"/>
<path d="M652 77l-7.2 1.6-0.3-0.1 7.1-1.7z" color="#0cbdbc"/>
<path d="M644.8 78.6l-7.1 1.9-0.4-0.1 7.2-1.9z" color="#0abdbe"/>
<path d="M637.7 80.5l-7.1 2-0.4 0 7.1-2.1z" color="#06bcc0"/>
<path d="M630.6 82.5l-7.1 2.1-0.4 0.1 7.1-2.2z" color="#02bbc3"/>
<path d="M623.5 84.6l-7.1 2.3-0.4 0.1 7.1-2.3z" color="#01b9c7"/>
<path d="M616.4 86.9l-7.1 2.4-0.4 0.3 7.1-2.6z" color="#02b7cb"/>
<path d="M609.3 89.3l-7.1 2.6-0.4 0.4 7.1-2.7z" color="#08b4d1"/>
<path d="M602.2 91.9l-7.1 2.7-0.4 0.5 7.1-2.8z" color="#11b1d6"/>
<path d="M595.1 94.6l-7.1 2.8-0.4 0.7 7.1-3z" color="#18addb"/>
<path d="M588 97.4l-7.1 2.9-0.4 0.8 7.1-3z" color="#1da9e0"/>
<path d="M580.9 100.3l-7.1 3-0.4 1 7.1-3.2z" color="#21a3e3"/>
<path d="M573.8 103.3l-7.1 3.2-0.4 1.2 7.1-3.4z" color="#249de6"/>
<path d="M566.7 106.5l-7.1 3.3-0.4 1.4 7.1-3.5z" color="#2796eb"/>
<path d="M559.6 109.8l-7.1 3.4-0.4 1.6 7.1-3.6z" color="#2c8ff1"/>
<path d="M552.5 113.2l-7.1 3.3-0.4 1.9 7.1-3.6z" color="#2e87f7"/>
<path d="M545.4 116.5l-7.1 3.3-0.4 2.1 7.1-3.5z" color="#317efb"/>
<path d="M538.3 119.8l-7.1 3.3-0.4 2.3 7.1-3.5z" color="#3875fe"/>
<path d="M531.2 123.1l-7.1 3.4-0.4 2.5 7.1-3.6z" color="#406cfe"/>
<path d="M524.1 126.5l-7.1 3.4-0.4 2.7 7.1-3.6z" color="#4563fd"/>
<path d="M517 129.9l-7.1 3.3-0.4 3 7.1-3.6z" color="#475af9"/>
<path d="M652.3 77.1l-7.1 1.6-0.4-0.1 7.2-1.6z" color="#0cbdbc"/>
<path d="M645.2 78.7l-7.1 1.8-0.4 0 7.1-1.9z" color="#0abdbd"/>
<path d="M638.1 80.5l-7.1 2-0.4 0 7.1-2z" color="#07bcbf"/>
<path d="M631 82.5l-7.1 2.1-0.4 0 7.1-2.1z" color="#03bbc2"/>
<path d="M623.9 84.6l-7.1 2.1-0.4 0.2 7.1-2.3z" color="#01b9c6"/>
<path d="M616.8 86.7l-7.1 2.4-0.4 0.2 7.1-2.4z" color="#01b8ca"/>
<path d="M609.7 89.1l-7.1 2.4-0.4 0.4 7.1-2.6z" color="#06b5ce"/>
<path d="M602.6 91.5l-7.1 2.6-0.4 0.5 7.1-2.7z" color="#0db3d3"/>
<path d="M595.5 94.1l-7.1 2.6-0.4 0.7 7.1-2.8z" color="#14b0d8"/>
<path d="M588.4 96.7l-7.1 2.7-0.4 0.9 7.1-2.9z" color="#1aacdd"/>
<path d="M581.3 99.4l-7.1 2.9-0.4 1 7.1-3z" color="#1ea7e1"/>
<path d="M574.2 102.3l-7.1 2.9-0.4 1.3 7.1-3.2z" color="#22a2e4"/>
<path d="M567.1 105.2l-7.1 3.2-0.4 1.4 7.1-3.3z" color="#259ce7"/>
<path d="M560 108.4l-7.1 3.2-0.4 1.6 7.1-3.4z" color="#2895ec"/>
<path d="M552.9 111.6l-7.1 3.1-0.4 1.8 7.1-3.3z" color="#2c8ef1"/>
<path d="M545.8 114.7l-7.1 3.1-0.4 2 7.1-3.3z" color="#2e87f7"/>
<path d="M538.7 117.8l-7.1 3.1-0.4 2.2 7.1-3.3z" color="#3080fa"/>
<path d="M531.6 120.9l-7.1 3.1-0.4 2.5 7.1-3.4z" color="#3678fd"/>
<path d="M524.5 124l-7.1 3.1-0.4 2.8 7.1-3.4z" color="#3e70ff"/>
<path d="M517.4 127.1l-7.2 3.2-0.3 2.9 7.1-3.3z" color="#4367fd"/>
<path d="M652.7 77.2l-7.1 1.6-0.4-0.1 7.1-1.6z" color="#0cbdbc"/>
<path d="M645.6 78.8l-7.1 1.8-0.4-0.1 7.1-1.8z" color="#0abdbd"/>
<path d="M638.5 80.6l-7.1 1.9-0.4 0 7.1-2z" color="#08bcbf"/>
<path d="M631.4 82.5l-7.1 2-0.4 0.1 7.1-2.1z" color="#04bbc1"/>
<path d="M624.3 84.5l-7.1 2.1-0.4 0.1 7.1-2.1z" color="#02bac4"/>
<path d="M617.2 86.6l-7.1 2.2-0.4 0.3 7.1-2.4z" color="#01b9c8"/>
<path d="M610.1 88.8l-7.1 2.3-0.4 0.4 7.1-2.4z" color="#03b7cc"/>
<path d="M603 91.1l-7.1 2.4-0.4 0.6 7.1-2.6z" color="#08b4d1"/>
<path d="M595.9 93.5l-7.1 2.5-0.4 0.7 7.1-2.6z" color="#10b2d5"/>
<path d="M588.8 96l-7.1 2.6-0.4 0.8 7.1-2.7z" color="#16aeda"/>
<path d="M581.7 98.6l-7.1 2.7-0.4 1 7.1-2.9z" color="#1babde"/>
<path d="M574.6 101.3l-7.1 2.7-0.4 1.2 7.1-2.9z" color="#1fa6e1"/>
<path d="M567.5 104l-7.1 3-0.4 1.4 7.1-3.2z" color="#22a1e4"/>
<path d="M560.4 107l-7.1 2.9-0.4 1.7 7.1-3.2z" color="#259be7"/>
<path d="M553.3 109.9l-7.1 2.9-0.4 1.9 7.1-3.1z" color="#2896ec"/>
<path d="M546.2 112.8l-7.1 2.9-0.4 2.1 7.1-3.1z" color="#2c90f0"/>
<path d="M539.1 115.7l-7.1 2.9-0.4 2.3 7.1-3.1z" color="#2d8af5"/>
<path d="M532 118.6l-7.1 2.9-0.4 2.5 7.1-3.1z" color="#2e83f9"/>
<path d="M524.9 121.5l-7.2 2.9-0.3 2.7 7.1-3.1z" color="#317dfc"/>
<path d="M517.7 124.4l-7.1 3-0.4 2.9 7.2-3.2z" color="#3875fe"/>
<path d="M653.1 77.3l-7.1 1.6-0.4-0.1 7.1-1.6z" color="#0cbdbc"/>
<path d="M646 78.9l-7.1 1.8-0.4-0.1 7.1-1.8z" color="#0abdbd"/>
<path d="M638.9 80.7l-7.1 1.8-0.4 0 7.1-1.9z" color="#08bcbf"/>
<path d="M631.8 82.5l-7.1 1.9-0.4 0.1 7.1-2z" color="#05bbc1"/>
<path d="M624.7 84.4l-7.1 2-0.4 0.2 7.1-2.1z" color="#02bbc3"/>
<path d="M617.6 86.4l-7.1 2.1-0.4 0.3 7.1-2.2z" color="#01b9c6"/>
<path d="M610.5 88.5l-7.1 2.2-0.4 0.4 7.1-2.3z" color="#01b8ca"/>
<path d="M603.4 90.7l-7.1 2.3-0.4 0.5 7.1-2.4z" color="#05b6ce"/>
<path d="M596.3 93l-7.1 2.3-0.4 0.7 7.1-2.5z" color="#0bb4d2"/>
<path d="M589.2 95.3l-7.1 2.5-0.4 0.8 7.1-2.6z" color="#12b1d6"/>
<path d="M582.1 97.8l-7.1 2.4-0.4 1.1 7.1-2.7z" color="#17aeda"/>
<path d="M575 100.2l-7.1 2.6-0.4 1.2 7.1-2.7z" color="#1baade"/>
<path d="M567.9 102.8l-7.1 2.7-0.4 1.5 7.1-3z" color="#1fa6e1"/>
<path d="M560.8 105.5l-7.1 2.8-0.4 1.6 7.1-2.9z" color="#22a2e4"/>
<path d="M553.7 108.3l-7.1 2.7-0.4 1.8 7.1-2.9z" color="#259de7"/>
<path d="M546.6 111l-7.1 2.6-0.4 2.1 7.1-2.9z" color="#2798ea"/>
<path d="M539.5 113.6l-7.1 2.7-0.4 2.3 7.1-2.9z" color="#2a93ee"/>
<path d="M532.4 116.3l-7.2 2.7-0.3 2.5 7.1-2.9z" color="#2c8ef2"/>
<path d="M525.2 119l-7.1 2.7-0.4 2.7 7.2-2.9z" color="#2d88f6"/>
<path d="M518.1 121.7l-7.1 2.8-0.4 2.9 7.1-3z" color="#2e83f9"/>
<path d="M653.5 77.4l-7.1 1.6-0.4-0.1 7.1-1.6z" color="#0cbdbc"/>
<path d="M646.4 79l-7.1 1.7-0.4 0 7.1-1.8z" color="#0bbdbd"/>
<path d="M639.3 80.7l-7.1 1.8-0.4 0 7.1-1.8z" color="#09bcbe"/>
<path d="M632.2 82.5l-7.1 1.8-0.4 0.1 7.1-1.9z" color="#07bcc0"/>
<path d="M625.1 84.3l-7.1 1.9-0.4 0.2 7.1-2z" color="#04bbc2"/>
<path d="M618 86.2l-7.1 2-0.4 0.3 7.1-2.1z" color="#02bac5"/>
<path d="M610.9 88.2l-7.1 2.1-0.4 0.4 7.1-2.2z" color="#01b9c8"/>
<path d="M603.8 90.3l-7.1 2.2-0.4 0.5 7.1-2.3z" color="#02b7cb"/>
<path d="M596.7 92.5l-7.1 2.2-0.4 0.6 7.1-2.3z" color="#06b5cf"/>
<path d="M589.6 94.7l-7.1 2.2-0.4 0.9 7.1-2.5z" color="#0bb3d2"/>
<path d="M582.5 96.9l-7.1 2.3-0.4 1 7.1-2.4z" color="#12b1d6"/>
<path d="M575.4 99.2l-7.1 2.4-0.4 1.2 7.1-2.6z" color="#17aeda"/>
<path d="M568.3 101.6l-7.1 2.5-0.4 1.4 7.1-2.7z" color="#1aabde"/>
<path d="M561.2 104.1l-7.1 2.5-0.4 1.7 7.1-2.8z" color="#1ea7e1"/>
<path d="M554.1 106.6l-7.1 2.5-0.4 1.9 7.1-2.7z" color="#21a4e3"/>
<path d="M547 109.1l-7.1 2.5-0.4 2 7.1-2.6z" color="#23a0e5"/>
<path d="M539.9 111.6l-7.2 2.4-0.3 2.3 7.1-2.7z" color="#259ce7"/>
<path d="M532.7 114l-7.1 2.5-0.4 2.5 7.2-2.7z" color="#2798ea"/>
<path d="M525.6 116.5l-7.1 2.5-0.4 2.7 7.1-2.7z" color="#2a93ed"/>
<path d="M518.5 119l-7.1 2.5-0.4 3 7.1-2.8z" color="#2c8ff1"/>
<path d="M653.9 77.5l-7.1 1.6-0.4-0.1 7.1-1.6z" color="#0cbdbc"/>
<path d="M646.8 79.1l-7.1 1.7-0.4-0.1 7.1-1.7z" color="#0bbdbd"/>
<path d="M639.7 80.8l-7.1 1.7-0.4 0 7.1-1.8z" color="#0abdbe"/>
<path d="M632.6 82.5l-7.1 1.8-0.4 0 7.1-1.8z" color="#08bcbf"/>
<path d="M625.5 84.3l-7.1 1.8-0.4 0.1 7.1-1.9z" color="#05bbc1"/>
<path d="M618.4 86.1l-7.1 1.9-0.4 0.2 7.1-2z" color="#02bbc3"/>
<path d="M611.3 88l-7.1 1.9-0.4 0.4 7.1-2.1z" color="#01bac5"/>
<path d="M604.2 89.9l-7.1 2-0.4 0.6 7.1-2.2z" color="#01b8c8"/>
<path d="M597.1 91.9l-7.1 2.1-0.4 0.7 7.1-2.2z" color="#02b7cb"/>
<path d="M590 94l-7.1 2.1-0.4 0.8 7.1-2.2z" color="#05b6ce"/>
<path d="M582.9 96.1l-7.1 2.1-0.4 1 7.1-2.3z" color="#0ab4d1"/>
<path d="M575.8 98.2l-7.1 2.2-0.4 1.2 7.1-2.4z" color="#0fb2d5"/>
<path d="M568.7 100.4l-7.1 2.3-0.4 1.4 7.1-2.5z" color="#14b0d8"/>
<path d="M561.6 102.7l-7.1 2.3-0.4 1.6 7.1-2.5z" color="#19addc"/>
<path d="M554.5 105l-7.1 2.2-0.4 1.9 7.1-2.5z" color="#1caadf"/>
<path d="M547.4 107.2l-7.2 2.3-0.3 2.1 7.1-2.5z" color="#1ea7e1"/>
<path d="M540.2 109.5l-7.1 2.3-0.4 2.2 7.2-2.4z" color="#20a4e3"/>
<path d="M533.1 111.8l-7.1 2.2-0.4 2.5 7.1-2.5z" color="#23a1e4"/>
<path d="M526 114l-7.1 2.3-0.4 2.7 7.1-2.5z" color="#249ee6"/>
<path d="M518.9 116.3l-7.1 2.3-0.4 2.9 7.1-2.5z" color="#269ae8"/>
<path d="M654.3 77.6l-7.1 1.6-0.4-0.1 7.1-1.6z" color="#0cbdbc"/>
<path d="M647.2 79.2l-7.1 1.6-0.4 0 7.1-1.7z" color="#0bbdbc"/>
<path d="M640.1 80.8l-7.1 1.7-0.4 0 7.1-1.7z" color="#0abdbd"/>
<path d="M633 82.5l-7.1 1.7-0.4 0.1 7.1-1.8z" color="#09bcbe"/>
<path d="M625.9 84.2l-7.1 1.7-0.4 0.2 7.1-1.8z" color="#07bcc0"/>
<path d="M618.8 85.9l-7.1 1.8-0.4 0.3 7.1-1.9z" color="#05bbc1"/>
<path d="M611.7 87.7l-7.1 1.9-0.4 0.3 7.1-1.9z" color="#02bbc3"/>
<path d="M604.6 89.6l-7.1 1.8-0.4 0.5 7.1-2z" color="#01bac5"/>
<path d="M597.5 91.4l-7.1 1.9-0.4 0.7 7.1-2.1z" color="#01b9c7"/>
<path d="M590.4 93.3l-7.1 1.9-0.4 0.9 7.1-2.1z" color="#01b8ca"/>
<path d="M583.3 95.2l-7.1 2-0.4 1 7.1-2.1z" color="#04b6cc"/>
<path d="M576.2 97.2l-7.1 2-0.4 1.2 7.1-2.2z" color="#06b5cf"/>
<path d="M569.1 99.2l-7.2 2.1-0.3 1.4 7.1-2.3z" color="#0bb3d2"/>
<path d="M561.9 101.3l-7.1 2.1-0.3 1.6 7.1-2.3z" color="#10b2d5"/>
<path d="M554.8 103.4l-7.1 2-0.3 1.8 7.1-2.2z" color="#14b0d8"/>
<path d="M547.7 105.4l-7.1 2.1-0.4 2 7.2-2.3z" color="#17aedb"/>
<path d="M540.6 107.5l-7.1 2.1-0.4 2.2 7.1-2.3z" color="#1aacdd"/>
<path d="M533.5 109.6l-7.1 2-0.4 2.4 7.1-2.2z" color="#1caadf"/>
<path d="M526.4 111.6l-7.1 2.1-0.4 2.6 7.1-2.3z" color="#1ea7e1"/>
<path d="M519.3 113.7l-7.1 2.1-0.4 2.8 7.1-2.3z" color="#20a5e2"/>
<path d="M654.7 77.8l-7.1 1.5-0.4-0.1 7.1-1.6z" color="#0dbdbc"/>
<path d="M647.6 79.3l-7.1 1.6-0.4-0.1 7.1-1.6z" color="#0cbdbc"/>
<path d="M640.5 80.9l-7.1 1.6-0.4 0 7.1-1.7z" color="#0bbdbd"/>
<path d="M633.4 82.5l-7.1 1.6-0.4 0.1 7.1-1.7z" color="#0abdbd"/>
<path d="M626.3 84.1l-7.1 1.7-0.4 0.1 7.1-1.7z" color="#09bcbe"/>
<path d="M619.2 85.8l-7.1 1.6-0.4 0.3 7.1-1.8z" color="#07bcbf"/>
<path d="M612.1 87.4l-7.1 1.8-0.4 0.4 7.1-1.9z" color="#05bbc1"/>
<path d="M605 89.2l-7.1 1.7-0.4 0.5 7.1-1.8z" color="#03bbc2"/>
<path d="M597.9 90.9l-7.1 1.7-0.4 0.7 7.1-1.9z" color="#02bac4"/>
<path d="M590.8 92.6l-7.1 1.8-0.4 0.8 7.1-1.9z" color="#01bac5"/>
<path d="M583.7 94.4l-7.1 1.8-0.4 1 7.1-2z" color="#01b9c7"/>
<path d="M576.6 96.2l-7.2 1.8-0.3 1.2 7.1-2z" color="#01b8c9"/>
<path d="M569.4 98l-7.1 1.9-0.4 1.4 7.2-2.1z" color="#02b7cb"/>
<path d="M562.3 99.9l-7.1 1.8-0.4 1.7 7.1-2.1z" color="#05b6ce"/>
<path d="M555.2 101.7l-7.1 1.9-0.4 1.8 7.1-2z" color="#07b5d0"/>
<path d="M548.1 103.6l-7.1 1.8-0.4 2.1 7.1-2.1z" color="#0ab4d2"/>
<path d="M541 105.4l-7.1 1.9-0.4 2.3 7.1-2.1z" color="#0eb2d4"/>
<path d="M533.9 107.3l-7.1 1.8-0.4 2.5 7.1-2z" color="#11b1d6"/>
<path d="M526.8 109.1l-7.1 1.9-0.4 2.7 7.1-2.1z" color="#14b0d8"/>
<path d="M519.7 111l-7.1 1.8-0.4 3 7.1-2.1z" color="#16afda"/>
<path d="M655.1 77.9l-7.1 1.5-0.4-0.1 7.1-1.5z" color="#0dbdbc"/>
<path d="M648 79.4l-7.1 1.5-0.4 0 7.1-1.6z" color="#0cbdbc"/>
<path d="M640.9 80.9l-7.1 1.6-0.4 0 7.1-1.6z" color="#0cbdbc"/>
<path d="M633.8 82.5l-7.1 1.5-0.4 0.1 7.1-1.6z" color="#0bbdbd"/>
<path d="M626.7 84l-7.1 1.6-0.4 0.2 7.1-1.7z" color="#0abdbd"/>
<path d="M619.6 85.6l-7.1 1.6-0.4 0.2 7.1-1.6z" color="#0abdbe"/>
<path d="M612.5 87.2l-7.1 1.6-0.4 0.4 7.1-1.8z" color="#09bcbe"/>
<path d="M605.4 88.8l-7.1 1.6-0.4 0.5 7.1-1.7z" color="#08bcbf"/>
<path d="M598.3 90.4l-7.1 1.6-0.4 0.6 7.1-1.7z" color="#06bcc0"/>
<path d="M591.2 92l-7.1 1.6-0.4 0.8 7.1-1.8z" color="#05bbc1"/>
<path d="M584.1 93.6l-7.2 1.6-0.3 1 7.1-1.8z" color="#04bbc2"/>
<path d="M576.9 95.2l-7.1 1.6-0.4 1.2 7.2-1.8z" color="#02bbc3"/>
<path d="M569.8 96.8l-7.1 1.6-0.4 1.5 7.1-1.9z" color="#02bac4"/>
<path d="M562.7 98.4l-7.1 1.7-0.4 1.6 7.1-1.8z" color="#01bac5"/>
<path d="M555.6 100.1l-7.1 1.6-0.4 1.9 7.1-1.9z" color="#01b9c6"/>
<path d="M548.5 101.7l-7.1 1.7-0.4 2 7.1-1.8z" color="#01b9c8"/>
<path d="M541.4 103.4l-7.1 1.6-0.4 2.3 7.1-1.9z" color="#01b8c9"/>
<path d="M534.3 105l-7.1 1.6-0.4 2.5 7.1-1.8z" color="#01b8ca"/>
<path d="M527.2 106.6l-7.1 1.7-0.4 2.7 7.1-1.9z" color="#02b7cb"/>
<path d="M520.1 108.3l-7.1 1.6-0.4 2.9 7.1-1.8z" color="#04b6cc"/>
<path d="M655.5 78l-7.1 1.5-0.4-0.1 7.1-1.5z" color="#0dbdbc"/>
<path d="M648.4 79.5l-7.1 1.5-0.4-0.1 7.1-1.5z" color="#0dbdbc"/>
<path d="M641.3 81l-7.1 1.5-0.4 0 7.1-1.6z" color="#0dbdbc"/>
<path d="M634.2 82.5l-7.1 1.5-0.4 0 7.1-1.5z" color="#0dbdbc"/>
<path d="M627.1 84l-7.1 1.4-0.4 0.2 7.1-1.6z" color="#0cbdbc"/>
<path d="M620 85.4l-7.1 1.5-0.4 0.3 7.1-1.6z" color="#0cbdbc"/>
<path d="M612.9 86.9l-7.1 1.5-0.4 0.4 7.1-1.6z" color="#0cbdbc"/>
<path d="M605.8 88.4l-7.1 1.4-0.4 0.6 7.1-1.6z" color="#0cbdbc"/>
<path d="M598.7 89.8l-7.1 1.5-0.4 0.7 7.1-1.6z" color="#0cbdbc"/>
<path d="M591.6 91.3l-7.2 1.4-0.3 0.9 7.1-1.6z" color="#0cbdbc"/>
<path d="M584.4 92.7l-7.1 1.4-0.4 1.1 7.2-1.6z" color="#0cbdbc"/>
<path d="M577.3 94.1l-7.1 1.5-0.4 1.2 7.1-1.6z" color="#0bbdbc"/>
<path d="M570.2 95.6l-7.1 1.4-0.4 1.4 7.1-1.6z" color="#0bbdbc"/>
<path d="M563.1 97l-7.1 1.4-0.4 1.7 7.1-1.7z" color="#0bbdbd"/>
<path d="M556 98.4l-7.1 1.4-0.4 1.9 7.1-1.6z" color="#0bbdbd"/>
<path d="M548.9 99.8l-7.1 1.5-0.4 2.1 7.1-1.7z" color="#0bbdbd"/>
<path d="M541.8 101.3l-7.1 1.4-0.4 2.3 7.1-1.6z" color="#0bbdbd"/>
<path d="M534.7 102.7l-7.1 1.4-0.4 2.5 7.1-1.6z" color="#0abdbd"/>
<path d="M527.6 104.1l-7.1 1.4-0.4 2.8 7.1-1.7z" color="#0abdbd"/>
<path d="M520.5 105.5l-7.1 1.4-0.4 3 7.1-1.6z" color="#0abdbd"/>
</g></g>
<path d="M393.50 112.80L393.50 32.80" stroke="#262626" stroke-width="0.7" fill="none"/>
<path d="M393.50 112.80L513.40 148.20" stroke="#262626" stroke-width="0.7" fill="none"/>
<path d="M513.40 148.20L655.50 118.00" stroke="#262626" stroke-width="0.7" fill="none"/>
<path d="M655.50 118.00L658.28 118.82" stroke="#262626" stroke-width="0.7" fill="none"/>
<path d="M608.13 128.07L610.91 128.89" stroke="#262626" stroke-width="0.7" fill="none"/>
<path d="M560.77 138.13L563.55 138.95" stroke="#262626" stroke-width="0.7" fill="none"/>
<path d="M513.40 148.20L516.18 149.02" stroke="#262626" stroke-width="0.7" fill="none"/>
<path d="M513.40 148.20L510.56 148.80" stroke="#262626" stroke-width="0.7" fill="none"/>
<path d="M453.45 130.50L450.61 131.10" stroke="#262626" stroke-width="0.7" fill="none"/>
<path d="M393.50 112.80L390.66 113.40" stroke="#262626" stroke-width="0.7" fill="none"/>
<path d="M393.50 104.80L390.72 103.98" stroke="#262626" stroke-width="0.7" fill="none"/>
<path d="M393.50 88.80L390.72 87.98" stroke="#262626" stroke-width="0.7" fill="none"/>
<path d="M393.50 72.80L390.72 71.98" stroke="#262626" stroke-width="0.7" fill="none"/>
<path d="M393.50 56.80L390.72 55.98" stroke="#262626" stroke-width="0.7" fill="none"/>
<path d="M393.50 40.80L390.72 39.98" stroke="#262626" stroke-width="0.7" fill="none"/>
<path d="M475.10 310.70L354.40 275.60" stroke="#e3e3e3" stroke-width="0.6" fill="none"/>
<path d="M354.40 275.60L354.40 194.90" stroke="#e3e3e3" stroke-width="0.6" fill="none"/>
<path d="M427.73 320.80L307.03 285.70" stroke="#e3e3e3" stroke-width="0.6" fill="none"/>
<path d="M307.03 285.70L307.03 205.00" stroke="#e3e3e3" stroke-width="0.6" fill="none"/>
<path d="M380.37 330.90L259.67 295.80" stroke="#e3e3e3" stroke-width="0.6" fill="none"/>
<path d="M259.67 295.80L259.67 215.10" stroke="#e3e3e3" stroke-width="0.6" fill="none"/>
<path d="M333.00 341.00L212.30 305.90" stroke="#e3e3e3" stroke-width="0.6" fill="none"/>
<path d="M212.30 305.90L212.30 225.20" stroke="#e3e3e3" stroke-width="0.6" fill="none"/>
<path d="M475.10 310.70L333.00 341.00" stroke="#e3e3e3" stroke-width="0.6" fill="none"/>
<path d="M475.10 310.70L475.10 230.00" stroke="#e3e3e3" stroke-width="0.6" fill="none"/>
<path d="M414.75 293.15L272.65 323.45" stroke="#e3e3e3" stroke-width="0.6" fill="none"/>
<path d="M414.75 293.15L414.75 212.45" stroke="#e3e3e3" stroke-width="0.6" fill="none"/>
<path d="M354.40 275.60L212.30 305.90" stroke="#e3e3e3" stroke-width="0.6" fill="none"/>
<path d="M354.40 275.60L354.40 194.90" stroke="#e3e3e3" stroke-width="0.6" fill="none"/>
<path d="M212.30 305.90L354.40 275.60" stroke="#e3e3e3" stroke-width="0.6" fill="none"/>
<path d="M354.40 275.60L475.10 310.70" stroke="#e3e3e3" stroke-width="0.6" fill="none"/>
<path d="M212.30 279.00L354.40 248.70" stroke="#e3e3e3" stroke-width="0.6" fill="none"/>
<path d="M354.40 248.70L475.10 283.80" stroke="#e3e3e3" stroke-width="0.6" fill="none"/>
<path d="M212.30 252.10L354.40 221.80" stroke="#e3e3e3" stroke-width="0.6" fill="none"/>
<path d="M354.40 221.80L475.10 256.90" stroke="#e3e3e3" stroke-width="0.6" fill="none"/>
<path d="M212.30 225.20L354.40 194.90" stroke="#e3e3e3" stroke-width="0.6" fill="none"/>
<path d="M354.40 194.90L475.10 230.00" stroke="#e3e3e3" stroke-width="0.6" fill="none"/>
<g stroke-width="0.5" stroke-linejoin="round"><g class="s">
<path d="M423.7 215l-142.1 30.3-69.3-20.1 142.1-30.3z" color="#fdfd12"/>
<path d="M424 215.2l-142.1 30.3-0.3-0.2 142.1-30.3z" color="#fdfd12"/>
<path d="M424.3 215.2l-7.1 1.5-0.3 0 7.1-1.5z" color="#fdfd12"/>
<path d="M417.2 216.7l-7.1 1.6-0.3-0.1 7.1-1.5z" color="#fdfd12"/>
<path d="M410.1 218.3l-7.1 1.5-0.3-0.1 7.1-1.5z" color="#fdfd12"/>
<path d="M403 219.8l-7.1 1.5-0.3-0.1 7.1-1.5z" color="#fdfd12"/>
<path d="M395.9 221.3l-7.1 1.5-0.3-0.1 7.1-1.5z" color="#fdfd12"/>
<path d="M388.8 222.8l-7.1 1.5-0.3-0.1 7.1-1.5z" color="#fdfd12"/>
<path d="M381.7 224.3l-7.1 1.5-0.3 0 7.1-1.6z" color="#fdfd12"/>
<path d="M374.6 225.8l-7.2 1.6-0.2-0.1 7.1-1.5z" color="#fdfd12"/>
<path d="M367.4 227.4l-7.1 1.5-0.2-0.1 7.1-1.5z" color="#fdfd12"/>
<path d="M360.3 228.9l-7.1 1.5-0.2-0.1 7.1-1.5z" color="#fdfd12"/>
<path d="M353.2 230.4l-7.1 1.5-0.2-0.1 7.1-1.5z" color="#fdfd12"/>
<path d="M346.1 231.9l-7.1 1.5-0.2-0.1 7.1-1.5z" color="#fdfd12"/>
<path d="M339 233.4l-7.1 1.5-0.2-0.1 7.1-1.5z" color="#fdfd12"/>
<path d="M331.9 234.9l-7.1 1.6-0.2-0.1 7.1-1.6z" color="#fdfd12"/>
<path d="M324.8 236.5l-7.1 1.5-0.2-0.1 7.1-1.5z" color="#fdfd12"/>
<path d="M317.7 238l-7.1 1.5-0.2-0.1 7.1-1.5z" color="#fdfd12"/>
<path d="M310.6 239.5l-7.1 1.5-0.2-0.1 7.1-1.5z" color="#fdfd12"/>
<path d="M303.5 241l-7.1 1.5-0.2-0.1 7.1-1.5z" color="#fdfd12"/>
<path d="M296.4 242.5l-7.1 1.6-0.3-0.2 7.2-1.5z" color="#fdfd12"/>
<path d="M289.3 244.1l-7.1 1.5-0.3-0.1 7.1-1.6z" color="#fdfd12"/>
<path d="M424.9 215.4l-7.1 1.5-0.6-0.2 7.1-1.5z" color="#fdfd12"/>
<path d="M417.8 216.9l-7.1 1.5-0.6-0.1 7.1-1.6z" color="#fdfd12"/>
<path d="M410.7 218.4l-7.1 1.6-0.6-0.2 7.1-1.5z" color="#fdfd12"/>
<path d="M403.6 220l-7.1 1.5-0.6-0.2 7.1-1.5z" color="#fdfd12"/>
<path d="M396.5 221.5l-7.1 1.5-0.6-0.2 7.1-1.5z" color="#fdfd12"/>
<path d="M389.4 223l-7.1 1.5-0.6-0.2 7.1-1.5z" color="#fdfd12"/>
<path d="M382.3 224.5l-7.1 1.5-0.6-0.2 7.1-1.5z" color="#fdfd12"/>
<path d="M375.2 226l-7.2 1.6-0.6-0.2 7.2-1.6z" color="#fdfd12"/>
<path d="M368 227.6l-7.1 1.5-0.6-0.2 7.1-1.5z" color="#fdfd12"/>
<path d="M360.9 229.1l-7.1 1.5-0.6-0.2 7.1-1.5z" color="#fdfd12"/>
<path d="M353.8 230.6l-7.1 1.5-0.6-0.2 7.1-1.5z" color="#fdfd12"/>
<path d="M346.7 232.1l-7.1 1.6-0.6-0.3 7.1-1.5z" color="#fdfd12"/>
<path d="M339.6 233.7l-7.1 1.5-0.6-0.3 7.1-1.5z" color="#fdfd12"/>
<path d="M332.5 235.2l-7.1 1.5-0.6-0.2 7.1-1.6z" color="#fdfd12"/>
<path d="M325.4 236.7l-7.1 1.5-0.6-0.2 7.1-1.5z" color="#fdfc12"/>
<path d="M318.3 238.2l-7.1 1.6-0.6-0.3 7.1-1.5z" color="#fdfc12"/>
<path d="M311.2 239.8l-7.1 1.5-0.6-0.3 7.1-1.5z" color="#fdfc12"/>
<path d="M304.1 241.3l-7.1 1.5-0.6-0.3 7.1-1.5z" color="#fdfc12"/>
<path d="M297 242.8l-7.1 1.6-0.6-0.3 7.1-1.6z" color="#fdfc13"/>
<path d="M289.9 244.4l-7.1 1.5-0.6-0.3 7.1-1.5z" color="#fcfc13"/>
<path d="M425.5 215.6l-7.1 1.5-0.6-0.2 7.1-1.5z" color="#fdfd12"/>
<path d="M418.4 217.1l-7.1 1.5-0.6-0.2 7.1-1.5z" color="#fdfd12"/>
<path d="M411.3 218.6l-7.1 1.5-0.6-0.1 7.1-1.6z" color="#fdfd12"/>
<path d="M404.2 220.1l-7.1 1.6-0.6-0.2 7.1-1.5z" color="#fdfd12"/>
<path d="M397.1 221.7l-7.1 1.5-0.6-0.2 7.1-1.5z" color="#fdfd12"/>
<path d="M390 223.2l-7.1 1.5-0.6-0.2 7.1-1.5z" color="#fdfd12"/>
<path d="M382.9 224.7l-7.1 1.5-0.6-0.2 7.1-1.5z" color="#fdfd12"/>
<path d="M375.8 226.2l-7.1 1.6-0.7-0.2 7.2-1.6z" color="#fdfd12"/>
<path d="M368.7 227.8l-7.2 1.5-0.6-0.2 7.1-1.5z" color="#fdfc12"/>
<path d="M361.5 229.3l-7.1 1.5-0.6-0.2 7.1-1.5z" color="#fdfc12"/>
<path d="M354.4 230.8l-7.1 1.6-0.6-0.3 7.1-1.5z" color="#fdfc12"/>
<path d="M347.3 232.4l-7.1 1.5-0.6-0.2 7.1-1.6z" color="#fcfc13"/>
<path d="M340.2 233.9l-7.1 1.5-0.6-0.2 7.1-1.5z" color="#fcfc13"/>
<path d="M333.1 235.4l-7.1 1.6-0.6-0.3 7.1-1.5z" color="#fcfc13"/>
<path d="M326 237l-7.1 1.5-0.6-0.3 7.1-1.5z" color="#fcfc13"/>
<path d="M318.9 238.5l-7.1 1.5-0.6-0.2 7.1-1.6z" color="#fcfc13"/>
<path d="M311.8 240l-7.1 1.6-0.6-0.3 7.1-1.5z" color="#fcfc13"/>
<path d="M304.7 241.6l-7.1 1.5-0.6-0.3 7.1-1.5z" color="#fcfc13"/>
<path d="M297.6 243.1l-7.1 1.6-0.6-0.3 7.1-1.6z" color="#fcfb13"/>
<path d="M290.5 244.7l-7.1 1.5-0.6-0.3 7.1-1.5z" color="#fcfb13"/>
<path d="M426.1 215.7l-7.1 1.6-0.6-0.2 7.1-1.5z" color="#fdfd12"/>
<path d="M419 217.3l-7.1 1.5-0.6-0.2 7.1-1.5z" color="#fdfd12"/>
<path d="M411.9 218.8l-7.1 1.5-0.6-0.2 7.1-1.5z" color="#fdfd12"/>
<path d="M404.8 220.3l-7.1 1.6-0.6-0.2 7.1-1.6z" color="#fdfd12"/>
<path d="M397.7 221.9l-7.1 1.5-0.6-0.2 7.1-1.5z" color="#fdfd12"/>
<path d="M390.6 223.4l-7.1 1.5-0.6-0.2 7.1-1.5z" color="#fdfd12"/>
<path d="M383.5 224.9l-7.1 1.5-0.6-0.2 7.1-1.5z" color="#fdfc12"/>
<path d="M376.4 226.4l-7.1 1.6-0.6-0.2 7.1-1.6z" color="#fdfc12"/>
<path d="M369.3 228l-7.1 1.5-0.7-0.2 7.2-1.5z" color="#fdfc13"/>
<path d="M362.2 229.5l-7.2 1.6-0.6-0.3 7.1-1.5z" color="#fcfc13"/>
<path d="M355 231.1l-7.1 1.5-0.6-0.2 7.1-1.6z" color="#fcfc13"/>
<path d="M347.9 232.6l-7.1 1.5-0.6-0.2 7.1-1.5z" color="#fcfc13"/>
<path d="M340.8 234.1l-7.1 1.6-0.6-0.3 7.1-1.5z" color="#fcfc13"/>
<path d="M333.7 235.7l-7.1 1.5-0.6-0.2 7.1-1.6z" color="#fcfc13"/>
<path d="M326.6 237.2l-7.1 1.6-0.6-0.3 7.1-1.5z" color="#fcfb13"/>
<path d="M319.5 238.8l-7.1 1.5-0.6-0.3 7.1-1.5z" color="#fcfb14"/>
<path d="M312.4 240.3l-7.1 1.6-0.6-0.3 7.1-1.6z" color="#fcfb14"/>
<path d="M305.3 241.9l-7.1 1.5-0.6-0.3 7.1-1.5z" color="#fcfb14"/>
<path d="M298.2 243.4l-7.1 1.6-0.6-0.3 7.1-1.6z" color="#fbfb14"/>
<path d="M291.1 245l-7.1 1.5-0.6-0.3 7.1-1.5z" color="#fbfa14"/>
<path d="M426.7 215.9l-7.1 1.5-0.6-0.1 7.1-1.6z" color="#fdfd12"/>
<path d="M419.6 217.4l-7.1 1.6-0.6-0.2 7.1-1.5z" color="#fdfd12"/>
<path d="M412.5 219l-7.1 1.5-0.6-0.2 7.1-1.5z" color="#fdfd12"/>
<path d="M405.4 220.5l-7.1 1.5-0.6-0.1 7.1-1.6z" color="#fdfd12"/>
<path d="M398.3 222l-7.1 1.6-0.6-0.2 7.1-1.5z" color="#fdfd12"/>
<path d="M391.2 223.6l-7.1 1.5-0.6-0.2 7.1-1.5z" color="#fdfc12"/>
<path d="M384.1 225.1l-7.1 1.6-0.6-0.3 7.1-1.5z" color="#fdfc12"/>
<path d="M377 226.7l-7.1 1.5-0.6-0.2 7.1-1.6z" color="#fcfc13"/>
<path d="M369.9 228.2l-7.1 1.5-0.6-0.2 7.1-1.5z" color="#fcfc13"/>
<path d="M362.8 229.7l-7.2 1.6-0.6-0.2 7.2-1.6z" color="#fcfc13"/>
<path d="M355.6 231.3l-7.1 1.5-0.6-0.2 7.1-1.5z" color="#fcfc13"/>
<path d="M348.5 232.8l-7.1 1.6-0.6-0.3 7.1-1.5z" color="#fcfb13"/>
<path d="M341.4 234.4l-7.1 1.5-0.6-0.2 7.1-1.6z" color="#fcfb13"/>
<path d="M334.3 235.9l-7.1 1.6-0.6-0.3 7.1-1.5z" color="#fcfb14"/>
<path d="M327.2 237.5l-7.1 1.5-0.6-0.2 7.1-1.6z" color="#fcfb14"/>
<path d="M320.1 239l-7.1 1.6-0.6-0.3 7.1-1.5z" color="#fbfb14"/>
<path d="M313 240.6l-7.1 1.5-0.6-0.2 7.1-1.6z" color="#fbfa14"/>
<path d="M305.9 242.1l-7.1 1.6-0.6-0.3 7.1-1.5z" color="#fbfa15"/>
<path d="M298.8 243.7l-7.1 1.6-0.6-0.3 7.1-1.6z" color="#fbfa15"/>
<path d="M291.7 245.3l-7.1 1.5-0.6-0.3 7.1-1.5z" color="#fbfa15"/>
<path d="M427.3 216.1l-7.1 1.5-0.6-0.2 7.1-1.5z" color="#fdfd12"/>
<path d="M420.2 217.6l-7.1 1.6-0.6-0.2 7.1-1.6z" color="#fdfd12"/>
<path d="M413.1 219.2l-7.1 1.5-0.6-0.2 7.1-1.5z" color="#fdfd12"/>
<path d="M406 220.7l-7.1 1.5-0.6-0.2 7.1-1.5z" color="#fdfd12"/>
<path d="M398.9 222.2l-7.1 1.6-0.6-0.2 7.1-1.6z" color="#fdfc12"/>
<path d="M391.8 223.8l-7.1 1.5-0.6-0.2 7.1-1.5z" color="#fdfc12"/>
<path d="M384.7 225.3l-7.1 1.6-0.6-0.2 7.1-1.6z" color="#fcfc13"/>
<path d="M377.6 226.9l-7.1 1.5-0.6-0.2 7.1-1.5z" color="#fcfc13"/>
<path d="M370.5 228.4l-7.1 1.6-0.6-0.3 7.1-1.5z" color="#fcfc13"/>
<path d="M363.4 230l-7.1 1.5-0.7-0.2 7.2-1.6z" color="#fcfc13"/>
<path d="M356.3 231.5l-7.2 1.6-0.6-0.3 7.1-1.5z" color="#fcfb13"/>
<path d="M349.1 233.1l-7.1 1.5-0.6-0.2 7.1-1.6z" color="#fcfb14"/>
<path d="M342 234.6l-7.1 1.6-0.6-0.3 7.1-1.5z" color="#fcfb14"/>
<path d="M334.9 236.2l-7.1 1.5-0.6-0.2 7.1-1.6z" color="#fbfb14"/>
<path d="M327.8 237.7l-7.1 1.6-0.6-0.3 7.1-1.5z" color="#fbfa14"/>
<path d="M320.7 239.3l-7.1 1.6-0.6-0.3 7.1-1.6z" color="#fbfa15"/>
<path d="M313.6 240.9l-7.1 1.5-0.6-0.3 7.1-1.5z" color="#fbfa15"/>
<path d="M306.5 242.4l-7.1 1.6-0.6-0.3 7.1-1.6z" color="#fbf915"/>
<path d="M299.4 244l-7.1 1.6-0.6-0.3 7.1-1.6z" color="#faf915"/>
<path d="M292.3 245.6l-7.1 1.5-0.6-0.3 7.1-1.5z" color="#faf916"/>
<path d="M427.9 216.3l-7.1 1.5-0.6-0.2 7.1-1.5z" color="#fdfd12"/>
<path d="M420.8 217.8l-7.1 1.5-0.6-0.1 7.1-1.6z" color="#fdfd12"/>
<path d="M413.7 219.3l-7.1 1.6-0.6-0.2 7.1-1.5z" color="#fdfd12"/>
<path d="M406.6 220.9l-7.1 1.5-0.6-0.2 7.1-1.5z" color="#fdfd12"/>
<path d="M399.5 222.4l-7.1 1.6-0.6-0.2 7.1-1.6z" color="#fdfc12"/>
<path d="M392.4 224l-7.1 1.5-0.6-0.2 7.1-1.5z" color="#fcfc13"/>
<path d="M385.3 225.5l-7.1 1.6-0.6-0.2 7.1-1.6z" color="#fcfc13"/>
<path d="M378.2 227.1l-7.1 1.5-0.6-0.2 7.1-1.5z" color="#fcfc13"/>
<path d="M371.1 228.6l-7.1 1.6-0.6-0.2 7.1-1.6z" color="#fcfb13"/>
<path d="M364 230.2l-7.1 1.5-0.6-0.2 7.1-1.5z" color="#fcfb13"/>
<path d="M356.9 231.7l-7.1 1.6-0.7-0.2 7.2-1.6z" color="#fcfb14"/>
<path d="M349.8 233.3l-7.2 1.6-0.6-0.3 7.1-1.5z" color="#fbfb14"/>
<path d="M342.6 234.9l-7.1 1.5-0.6-0.2 7.1-1.6z" color="#fbfa14"/>
<path d="M335.5 236.4l-7.1 1.6-0.6-0.3 7.1-1.5z" color="#fbfa15"/>
<path d="M328.4 238l-7.1 1.6-0.6-0.3 7.1-1.6z" color="#fbfa15"/>
<path d="M321.3 239.6l-7.1 1.5-0.6-0.2 7.1-1.6z" color="#fbf915"/>
<path d="M314.2 241.1l-7.1 1.6-0.6-0.3 7.1-1.5z" color="#faf916"/>
<path d="M307.1 242.7l-7.1 1.6-0.6-0.3 7.1-1.6z" color="#faf916"/>
<path d="M300 244.3l-7.1 1.6-0.6-0.3 7.1-1.6z" color="#faf816"/>
<path d="M292.9 245.9l-7.1 1.5-0.6-0.3 7.1-1.5z" color="#faf817"/>
<path d="M428.5 216.5l-7.1 1.5-0.6-0.2 7.1-1.5z" color="#fdfd12"/>
<path d="M421.4 218l-7.1 1.5-0.6-0.2 7.1-1.5z" color="#fdfd12"/>
<path d="M414.3 219.5l-7.1 1.6-0.6-0.2 7.1-1.6z" color="#fdfd12"/>
<path d="M407.2 221.1l-7.1 1.5-0.6-0.2 7.1-1.5z" color="#fdfd12"/>
<path d="M400.1 222.6l-7.1 1.6-0.6-0.2 7.1-1.6z" color="#fdfc12"/>
<path d="M393 224.2l-7.1 1.5-0.6-0.2 7.1-1.5z" color="#fcfc13"/>
<path d="M385.9 225.7l-7.1 1.6-0.6-0.2 7.1-1.6z" color="#fcfc13"/>
<path d="M378.8 227.3l-7.1 1.5-0.6-0.2 7.1-1.5z" color="#fcfc13"/>
<path d="M371.7 228.8l-7.1 1.6-0.6-0.2 7.1-1.6z" color="#fcfb13"/>
<path d="M364.6 230.4l-7.1 1.6-0.6-0.3 7.1-1.5z" color="#fcfb14"/>
<path d="M357.5 232l-7.1 1.5-0.6-0.2 7.1-1.6z" color="#fbfb14"/>
<path d="M350.4 233.5l-7.2 1.6-0.6-0.2 7.2-1.6z" color="#fbfa14"/>
<path d="M343.2 235.1l-7.1 1.6-0.6-0.3 7.1-1.5z" color="#fbfa15"/>
<path d="M336.1 236.7l-7.1 1.5-0.6-0.2 7.1-1.6z" color="#fbfa15"/>
<path d="M329 238.2l-7.1 1.6-0.6-0.2 7.1-1.6z" color="#fbf915"/>
<path d="M321.9 239.8l-7.1 1.6-0.6-0.3 7.1-1.5z" color="#faf916"/>
<path d="M314.8 241.4l-7.1 1.6-0.6-0.3 7.1-1.6z" color="#faf816"/>
<path d="M307.7 243l-7.1 1.6-0.6-0.3 7.1-1.6z" color="#faf817"/>
<path d="M300.6 244.6l-7.1 1.6-0.6-0.3 7.1-1.6z" color="#f9f717"/>
<path d="M293.5 246.2l-7.1 1.5-0.6-0.3 7.1-1.5z" color="#f9f717"/>
<path d="M429.1 216.6l-7.1 1.6-0.6-0.2 7.1-1.5z" color="#fdfd12"/>
<path d="M422 218.2l-7.1 1.5-0.6-0.2 7.1-1.5z" color="#fdfd12"/>
<path d="M414.9 219.7l-7.1 1.5-0.6-0.1 7.1-1.6z" color="#fdfd12"/>
<path d="M407.8 221.2l-7.1 1.6-0.6-0.2 7.1-1.5z" color="#fdfc12"/>
<path d="M400.7 222.8l-7.1 1.5-0.6-0.1 7.1-1.6z" color="#fcfc13"/>
<path d="M393.6 224.3l-7.1 1.6-0.6-0.2 7.1-1.5z" color="#fcfc13"/>
<path d="M386.5 225.9l-7.1 1.6-0.6-0.2 7.1-1.6z" color="#fcfc13"/>
<path d="M379.4 227.5l-7.1 1.5-0.6-0.2 7.1-1.5z" color="#fcfb13"/>
<path d="M372.3 229l-7.1 1.6-0.6-0.2 7.1-1.6z" color="#fcfb14"/>
<path d="M365.2 230.6l-7.1 1.6-0.6-0.2 7.1-1.6z" color="#fbfb14"/>
<path d="M358.1 232.2l-7.1 1.6-0.6-0.3 7.1-1.5z" color="#fbfa14"/>
<path d="M351 233.8l-7.1 1.5-0.7-0.2 7.2-1.6z" color="#fbfa15"/>
<path d="M343.9 235.3l-7.2 1.6-0.6-0.2 7.1-1.6z" color="#fbf915"/>
<path d="M336.7 236.9l-7.1 1.6-0.6-0.3 7.1-1.5z" color="#faf916"/>
<path d="M329.6 238.5l-7.1 1.6-0.6-0.3 7.1-1.6z" color="#faf916"/>
<path d="M322.5 240.1l-7.1 1.6-0.6-0.3 7.1-1.6z" color="#faf816"/>
<path d="M315.4 241.7l-7.1 1.6-0.6-0.3 7.1-1.6z" color="#faf817"/>
<path d="M308.3 243.3l-7.1 1.6-0.6-0.3 7.1-1.6z" color="#f9f717"/>
<path d="M301.2 244.9l-7.1 1.6-0.6-0.3 7.1-1.6z" color="#f9f718"/>
<path d="M294.1 246.5l-7.1 1.6-0.6-0.4 7.1-1.5z" color="#f9f618"/>
<path d="M429.7 216.8l-7.1 1.5-0.6-0.1 7.1-1.6z" color="#fdfd12"/>
<path d="M422.6 218.3l-7.1 1.6-0.6-0.2 7.1-1.5z" color="#fdfd12"/>
<path d="M415.5 219.9l-7.1 1.5-0.6-0.2 7.1-1.5z" color="#fdfd12"/>
<path d="M408.4 221.4l-7.1 1.6-0.6-0.2 7.1-1.6z" color="#fdfc12"/>
<path d="M401.3 223l-7.1 1.5-0.6-0.2 7.1-1.5z" color="#fcfc13"/>
<path d="M394.2 224.5l-7.1 1.6-0.6-0.2 7.1-1.6z" color="#fcfc13"/>
<path d="M387.1 226.1l-7.1 1.6-0.6-0.2 7.1-1.6z" color="#fcfb13"/>
<path d="M380 227.7l-7.1 1.5-0.6-0.2 7.1-1.5z" color="#fcfb14"/>
<path d="M372.9 229.2l-7.1 1.6-0.6-0.2 7.1-1.6z" color="#fcfb14"/>
<path d="M365.8 230.8l-7.1 1.6-0.6-0.2 7.1-1.6z" color="#fbfa14"/>
<path d="M358.7 232.4l-7.1 1.6-0.6-0.2 7.1-1.6z" color="#fbfa15"/>
<path d="M351.6 234l-7.1 1.6-0.6-0.3 7.1-1.5z" color="#fbf915"/>
<path d="M344.5 235.6l-7.1 1.6-0.7-0.3 7.2-1.6z" color="#faf916"/>
<path d="M337.4 237.2l-7.2 1.6-0.6-0.3 7.1-1.6z" color="#faf816"/>
<path d="M330.2 238.8l-7.1 1.5-0.6-0.2 7.1-1.6z" color="#faf816"/>
<path d="M323.1 240.3l-7.1 1.6-0.6-0.2 7.1-1.6z" color="#faf717"/>
<path d="M316 241.9l-7.1 1.6-0.6-0.2 7.1-1.6z" color="#f9f717"/>
<path d="M308.9 243.5l-7.1 1.7-0.6-0.3 7.1-1.6z" color="#f9f618"/>
<path d="M301.8 245.2l-7.1 1.6-0.6-0.3 7.1-1.6z" color="#f9f619"/>
<path d="M294.7 246.8l-7.1 1.6-0.6-0.3 7.1-1.6z" color="#f8f519"/>
<path d="M430.3 217l-7.1 1.5-0.6-0.2 7.1-1.5z" color="#fdfd12"/>
<path d="M423.2 218.5l-7.1 1.6-0.6-0.2 7.1-1.6z" color="#fdfd12"/>
<path d="M416.1 220.1l-7.1 1.5-0.6-0.2 7.1-1.5z" color="#fdfd12"/>
<path d="M409 221.6l-7.1 1.6-0.6-0.2 7.1-1.6z" color="#fdfc13"/>
<path d="M401.9 223.2l-7.1 1.6-0.6-0.3 7.1-1.5z" color="#fcfc13"/>
<path d="M394.8 224.8l-7.1 1.5-0.6-0.2 7.1-1.6z" color="#fcfc13"/>
<path d="M387.7 226.3l-7.1 1.6-0.6-0.2 7.1-1.6z" color="#fcfb14"/>
<path d="M380.6 227.9l-7.1 1.6-0.6-0.3 7.1-1.5z" color="#fcfb14"/>
<path d="M373.5 229.5l-7.1 1.6-0.6-0.3 7.1-1.6z" color="#fbfa14"/>
<path d="M366.4 231.1l-7.1 1.6-0.6-0.3 7.1-1.6z" color="#fbfa15"/>
<path d="M359.3 232.7l-7.1 1.6-0.6-0.3 7.1-1.6z" color="#fbf915"/>
<path d="M352.2 234.3l-7.1 1.6-0.6-0.3 7.1-1.6z" color="#faf916"/>
<path d="M345.1 235.9l-7.1 1.6-0.6-0.3 7.1-1.6z" color="#faf816"/>
<path d="M338 237.5l-7.1 1.6-0.7-0.3 7.2-1.6z" color="#faf817"/>
<path d="M330.9 239.1l-7.2 1.7-0.6-0.5 7.1-1.5z" color="#f9f717"/>
<path d="M323.7 240.8l-7.1 1.6-0.6-0.5 7.1-1.6z" color="#f9f618"/>
<path d="M316.6 242.4l-7.1 1.6-0.6-0.5 7.1-1.6z" color="#f8f619"/>
<path d="M309.5 244l-7.1 1.6-0.6-0.4 7.1-1.7z" color="#f8f519"/>
<path d="M302.4 245.6l-7.1 1.7-0.6-0.5 7.1-1.6z" color="#f8f41a"/>
<path d="M295.3 247.3l-7.1 1.6-0.6-0.5 7.1-1.6z" color="#f8f41b"/>
<path d="M430.9 217.2l-7.1 1.5-0.6-0.2 7.1-1.5z" color="#fdfd12"/>
<path d="M423.8 218.7l-7.1 1.6-0.6-0.2 7.1-1.6z" color="#fdfd12"/>
<path d="M416.7 220.3l-7.1 1.5-0.6-0.2 7.1-1.5z" color="#fdfc12"/>
<path d="M409.6 221.8l-7.1 1.6-0.6-0.2 7.1-1.6z" color="#fcfc13"/>
<path d="M402.5 223.4l-7.1 1.6-0.6-0.2 7.1-1.6z" color="#fcfc13"/>
<path d="M395.4 225l-7.1 1.6-0.6-0.3 7.1-1.5z" color="#fcfb14"/>
<path d="M388.3 226.6l-7.1 1.6-0.6-0.3 7.1-1.6z" color="#fbfa14"/>
<path d="M381.2 228.2l-7.1 1.7-0.6-0.4 7.1-1.6z" color="#fbfa15"/>
<path d="M374.1 229.9l-7.1 1.6-0.6-0.4 7.1-1.6z" color="#fbf915"/>
<path d="M367 231.5l-7.1 1.6-0.6-0.4 7.1-1.6z" color="#faf916"/>
<path d="M359.9 233.1l-7.1 1.7-0.6-0.5 7.1-1.6z" color="#faf817"/>
<path d="M352.8 234.8l-7.1 1.6-0.6-0.5 7.1-1.6z" color="#f9f717"/>
<path d="M345.7 236.4l-7.1 1.7-0.6-0.6 7.1-1.6z" color="#f9f618"/>
<path d="M338.6 238.1l-7.1 1.6-0.6-0.6 7.1-1.6z" color="#f8f619"/>
<path d="M331.5 239.7l-7.2 1.7-0.6-0.6 7.2-1.7z" color="#f8f51a"/>
<path d="M324.3 241.4l-7.1 1.7-0.6-0.7 7.1-1.6z" color="#f8f41b"/>
<path d="M317.2 243.1l-7.1 1.6-0.6-0.7 7.1-1.6z" color="#f7f31c"/>
<path d="M310.1 244.7l-7.1 1.7-0.6-0.8 7.1-1.6z" color="#f7f21d"/>
<path d="M303 246.4l-7.1 1.7-0.6-0.8 7.1-1.7z" color="#f6f11e"/>
<path d="M295.9 248.1l-7.1 1.7-0.6-0.9 7.1-1.6z" color="#f6f01f"/>
<path d="M431.5 217.3l-7.1 1.6-0.6-0.2 7.1-1.5z" color="#fdfd12"/>
<path d="M424.4 218.9l-7.1 1.6-0.6-0.2 7.1-1.6z" color="#fdfd12"/>
<path d="M417.3 220.5l-7.1 1.6-0.6-0.3 7.1-1.5z" color="#fcfc13"/>
<path d="M410.2 222.1l-7.1 1.6-0.6-0.3 7.1-1.6z" color="#fcfc13"/>
<path d="M403.1 223.7l-7.1 1.6-0.6-0.3 7.1-1.6z" color="#fcfb14"/>
<path d="M396 225.3l-7.1 1.6-0.6-0.3 7.1-1.6z" color="#fbfa14"/>
<path d="M388.9 226.9l-7.1 1.7-0.6-0.4 7.1-1.6z" color="#fbfa15"/>
<path d="M381.8 228.6l-7.1 1.6-0.6-0.3 7.1-1.7z" color="#faf916"/>
<path d="M374.7 230.2l-7.1 1.7-0.6-0.4 7.1-1.6z" color="#faf817"/>
<path d="M367.6 231.9l-7.1 1.7-0.6-0.5 7.1-1.6z" color="#f9f717"/>
<path d="M360.5 233.6l-7.1 1.6-0.6-0.4 7.1-1.7z" color="#f9f618"/>
<path d="M353.4 235.2l-7.1 1.7-0.6-0.5 7.1-1.6z" color="#f8f519"/>
<path d="M346.3 236.9l-7.1 1.7-0.6-0.5 7.1-1.7z" color="#f8f41b"/>
<path d="M339.2 238.6l-7.1 1.7-0.6-0.6 7.1-1.6z" color="#f7f31c"/>
<path d="M332.1 240.3l-7.1 1.7-0.7-0.6 7.2-1.7z" color="#f7f21d"/>
<path d="M325 242l-7.2 1.8-0.6-0.7 7.1-1.7z" color="#f6f01f"/>
<path d="M317.8 243.8l-7.1 1.7-0.6-0.8 7.1-1.6z" color="#f6ef20"/>
<path d="M310.7 245.5l-7.1 1.7-0.6-0.8 7.1-1.7z" color="#f5ee21"/>
<path d="M303.6 247.2l-7.1 1.8-0.6-0.9 7.1-1.7z" color="#f5ed22"/>
<path d="M296.5 249l-7.1 1.7-0.6-0.9 7.1-1.7z" color="#f5ec22"/>
<path d="M432.1 217.5l-7.1 1.6-0.6-0.2 7.1-1.6z" color="#fdfd12"/>
<path d="M425 219.1l-7.1 1.6-0.6-0.2 7.1-1.6z" color="#fdfc12"/>
<path d="M417.9 220.7l-7.1 1.6-0.6-0.2 7.1-1.6z" color="#fcfc13"/>
<path d="M410.8 222.3l-7.1 1.6-0.6-0.2 7.1-1.6z" color="#fcfb13"/>
<path d="M403.7 223.9l-7.1 1.7-0.6-0.3 7.1-1.6z" color="#fbfa14"/>
<path d="M396.6 225.6l-7.1 1.6-0.6-0.3 7.1-1.6z" color="#fbfa15"/>
<path d="M389.5 227.2l-7.1 1.7-0.6-0.3 7.1-1.7z" color="#faf916"/>
<path d="M382.4 228.9l-7.1 1.7-0.6-0.4 7.1-1.6z" color="#faf817"/>
<path d="M375.3 230.6l-7.1 1.7-0.6-0.4 7.1-1.7z" color="#f9f718"/>
<path d="M368.2 232.3l-7.1 1.7-0.6-0.4 7.1-1.7z" color="#f8f519"/>
<path d="M361.1 234l-7.1 1.7-0.6-0.5 7.1-1.6z" color="#f8f41a"/>
<path d="M354 235.7l-7.1 1.7-0.6-0.5 7.1-1.7z" color="#f7f31c"/>
<path d="M346.9 237.4l-7.1 1.8-0.6-0.6 7.1-1.7z" color="#f7f11d"/>
<path d="M339.8 239.2l-7.1 1.7-0.6-0.6 7.1-1.7z" color="#f6f01f"/>
<path d="M332.7 240.9l-7.1 1.8-0.6-0.7 7.1-1.7z" color="#f5ef21"/>
<path d="M325.6 242.7l-7.1 1.8-0.7-0.7 7.2-1.8z" color="#f5ed21"/>
<path d="M318.5 244.5l-7.2 1.7-0.6-0.7 7.1-1.7z" color="#f5ec22"/>
<path d="M311.3 246.2l-7.1 1.8-0.6-0.8 7.1-1.7z" color="#f5eb23"/>
<path d="M304.2 248l-7.1 1.8-0.6-0.8 7.1-1.8z" color="#f5e924"/>
<path d="M297.1 249.8l-7.1 1.8-0.6-0.9 7.1-1.7z" color="#f5e825"/>
<path d="M432.7 217.7l-7.1 1.5-0.6-0.1 7.1-1.6z" color="#fdfd12"/>
<path d="M425.6 219.2l-7.1 1.7-0.6-0.2 7.1-1.6z" color="#fdfc12"/>
<path d="M418.5 220.9l-7.1 1.6-0.6-0.2 7.1-1.6z" color="#fcfc13"/>
<path d="M411.4 222.5l-7.1 1.6-0.6-0.2 7.1-1.6z" color="#fcfb14"/>
<path d="M404.3 224.1l-7.1 1.7-0.6-0.2 7.1-1.7z" color="#fbfa15"/>
<path d="M397.2 225.8l-7.1 1.7-0.6-0.3 7.1-1.6z" color="#faf916"/>
<path d="M390.1 227.5l-7.1 1.7-0.6-0.3 7.1-1.7z" color="#faf817"/>
<path d="M383 229.2l-7.1 1.7-0.6-0.3 7.1-1.7z" color="#f9f718"/>
<path d="M375.9 230.9l-7.1 1.8-0.6-0.4 7.1-1.7z" color="#f8f519"/>
<path d="M368.8 232.7l-7.1 1.7-0.6-0.4 7.1-1.7z" color="#f8f41b"/>
<path d="M361.7 234.4l-7.1 1.8-0.6-0.5 7.1-1.7z" color="#f7f21d"/>
<path d="M354.6 236.2l-7.1 1.8-0.6-0.6 7.1-1.7z" color="#f6f11e"/>
<path d="M347.5 238l-7.1 1.7-0.6-0.5 7.1-1.8z" color="#f6ef20"/>
<path d="M340.4 239.7l-7.1 1.8-0.6-0.6 7.1-1.7z" color="#f5ee21"/>
<path d="M333.3 241.5l-7.1 1.8-0.6-0.6 7.1-1.8z" color="#f5ec22"/>
<path d="M326.2 243.3l-7.1 1.8-0.6-0.6 7.1-1.8z" color="#f5ea23"/>
<path d="M319.1 245.1l-7.2 1.9-0.6-0.8 7.2-1.7z" color="#f5e924"/>
<path d="M311.9 247l-7.1 1.8-0.6-0.8 7.1-1.8z" color="#f5e725"/>
<path d="M304.8 248.8l-7.1 1.8-0.6-0.8 7.1-1.8z" color="#f5e526"/>
<path d="M297.7 250.6l-7.1 1.9-0.6-0.9 7.1-1.8z" color="#f5e327"/>
<path d="M433.3 217.9l-7.1 1.5-0.6-0.2 7.1-1.5z" color="#fdfd12"/>
<path d="M426.2 219.4l-7.1 1.7-0.6-0.2 7.1-1.7z" color="#fdfc12"/>
<path d="M419.1 221.1l-7.1 1.6-0.6-0.2 7.1-1.6z" color="#fcfb13"/>
<path d="M412 222.7l-7.1 1.7-0.6-0.3 7.1-1.6z" color="#fbfb14"/>
<path d="M404.9 224.4l-7.1 1.7-0.6-0.3 7.1-1.7z" color="#fbf915"/>
<path d="M397.8 226.1l-7.1 1.7-0.6-0.3 7.1-1.7z" color="#faf816"/>
<path d="M390.7 227.8l-7.1 1.7-0.6-0.3 7.1-1.7z" color="#f9f717"/>
<path d="M383.6 229.5l-7.1 1.8-0.6-0.4 7.1-1.7z" color="#f8f519"/>
<path d="M376.5 231.3l-7.1 1.8-0.6-0.4 7.1-1.8z" color="#f8f41b"/>
<path d="M369.4 233.1l-7.1 1.8-0.6-0.5 7.1-1.7z" color="#f7f21d"/>
<path d="M362.3 234.9l-7.1 1.7-0.6-0.4 7.1-1.8z" color="#f6f01f"/>
<path d="M355.2 236.6l-7.1 1.9-0.6-0.5 7.1-1.8z" color="#f5ef21"/>
<path d="M348.1 238.5l-7.1 1.8-0.6-0.6 7.1-1.7z" color="#f5ed22"/>
<path d="M341 240.3l-7.1 1.8-0.6-0.6 7.1-1.8z" color="#f5eb23"/>
<path d="M333.9 242.1l-7.1 1.9-0.6-0.7 7.1-1.8z" color="#f5e924"/>
<path d="M326.8 244l-7.1 1.8-0.6-0.7 7.1-1.8z" color="#f5e725"/>
<path d="M319.7 245.8l-7.1 1.9-0.7-0.7 7.2-1.9z" color="#f5e526"/>
<path d="M312.6 247.7l-7.2 1.9-0.6-0.8 7.1-1.8z" color="#f5e327"/>
<path d="M305.4 249.6l-7.1 1.9-0.6-0.9 7.1-1.8z" color="#f5e128"/>
<path d="M298.3 251.5l-7.1 1.9-0.6-0.9 7.1-1.9z" color="#f6df29"/>
<path d="M433.9 218l-7.1 1.6-0.6-0.2 7.1-1.5z" color="#fdfd12"/>
<path d="M426.8 219.6l-7.1 1.7-0.6-0.2 7.1-1.7z" color="#fcfc13"/>
<path d="M419.7 221.3l-7.1 1.6-0.6-0.2 7.1-1.6z" color="#fcfb13"/>
<path d="M412.6 222.9l-7.1 1.8-0.6-0.3 7.1-1.7z" color="#fbfa15"/>
<path d="M405.5 224.7l-7.1 1.7-0.6-0.3 7.1-1.7z" color="#faf916"/>
<path d="M398.4 226.4l-7.1 1.8-0.6-0.4 7.1-1.7z" color="#f9f717"/>
<path d="M391.3 228.2l-7.1 1.8-0.6-0.5 7.1-1.7z" color="#f8f619"/>
<path d="M384.2 230l-7.1 1.8-0.6-0.5 7.1-1.8z" color="#f8f41b"/>
<path d="M377.1 231.8l-7.1 1.8-0.6-0.5 7.1-1.8z" color="#f7f21d"/>
<path d="M370 233.6l-7.1 1.8-0.6-0.5 7.1-1.8z" color="#f6f01f"/>
<path d="M362.9 235.4l-7.1 1.9-0.6-0.7 7.1-1.7z" color="#f5ee21"/>
<path d="M355.8 237.3l-7.1 1.9-0.6-0.7 7.1-1.9z" color="#f5ec22"/>
<path d="M348.7 239.2l-7.1 1.9-0.6-0.8 7.1-1.8z" color="#f5ea24"/>
<path d="M341.6 241.1l-7.1 1.9-0.6-0.9 7.1-1.8z" color="#f5e825"/>
<path d="M334.5 243l-7.1 1.9-0.6-0.9 7.1-1.9z" color="#f5e626"/>
<path d="M327.4 244.9l-7.1 2-0.6-1.1 7.1-1.8z" color="#f5e327"/>
<path d="M320.3 246.9l-7.1 1.9-0.6-1.1 7.1-1.9z" color="#f5e128"/>
<path d="M313.2 248.8l-7.1 2-0.7-1.2 7.2-1.9z" color="#f6df29"/>
<path d="M306.1 250.8l-7.2 2-0.6-1.3 7.1-1.9z" color="#f7dc2a"/>
<path d="M298.9 252.8l-7.1 1.9-0.6-1.3 7.1-1.9z" color="#f8d92b"/>
<path d="M434.5 218.2l-7.1 1.6-0.6-0.2 7.1-1.6z" color="#fdfd12"/>
<path d="M427.4 219.8l-7.1 1.7-0.6-0.2 7.1-1.7z" color="#fcfc13"/>
<path d="M420.3 221.5l-7.1 1.7-0.6-0.3 7.1-1.6z" color="#fcfb14"/>
<path d="M413.2 223.2l-7.1 1.8-0.6-0.3 7.1-1.8z" color="#fbf915"/>
<path d="M406.1 225l-7.1 1.8-0.6-0.4 7.1-1.7z" color="#faf817"/>
<path d="M399 226.8l-7.1 1.9-0.6-0.5 7.1-1.8z" color="#f8f619"/>
<path d="M391.9 228.7l-7.1 1.8-0.6-0.5 7.1-1.8z" color="#f8f41b"/>
<path d="M384.8 230.5l-7.1 1.9-0.6-0.6 7.1-1.8z" color="#f7f11d"/>
<path d="M377.7 232.4l-7.1 2-0.6-0.8 7.1-1.8z" color="#f6ef20"/>
<path d="M370.6 234.4l-7.1 1.9-0.6-0.9 7.1-1.8z" color="#f5ed22"/>
<path d="M363.5 236.3l-7.1 2-0.6-1 7.1-1.9z" color="#f5eb23"/>
<path d="M356.4 238.3l-7.1 2-0.6-1.1 7.1-1.9z" color="#f5e825"/>
<path d="M349.3 240.3l-7.1 2-0.6-1.2 7.1-1.9z" color="#f5e526"/>
<path d="M342.2 242.3l-7.1 2-0.6-1.3 7.1-1.9z" color="#f5e327"/>
<path d="M335.1 244.3l-7.1 2-0.6-1.4 7.1-1.9z" color="#f6e028"/>
<path d="M328 246.3l-7.1 2.1-0.6-1.5 7.1-2z" color="#f7dd2a"/>
<path d="M320.9 248.4l-7.1 2.1-0.6-1.7 7.1-1.9z" color="#f8da2b"/>
<path d="M313.8 250.5l-7.1 2.1-0.6-1.8 7.1-2z" color="#f9d72d"/>
<path d="M306.7 252.6l-7.2 2.1-0.6-1.9 7.2-2z" color="#fbd32e"/>
<path d="M299.5 254.7l-7.1 2.1-0.6-2.1 7.1-1.9z" color="#fcd030"/>
<path d="M435.1 218.4l-7.1 1.6-0.6-0.2 7.1-1.6z" color="#fdfd12"/>
<path d="M428 220l-7.1 1.7-0.6-0.2 7.1-1.7z" color="#fcfc13"/>
<path d="M420.9 221.7l-7.1 1.8-0.6-0.3 7.1-1.7z" color="#fbfa14"/>
<path d="M413.8 223.5l-7.1 1.9-0.6-0.4 7.1-1.8z" color="#faf816"/>
<path d="M406.7 225.4l-7.1 1.8-0.6-0.4 7.1-1.8z" color="#f9f618"/>
<path d="M399.6 227.2l-7.1 2-0.6-0.5 7.1-1.9z" color="#f8f41b"/>
<path d="M392.5 229.2l-7.1 1.9-0.6-0.6 7.1-1.8z" color="#f6f11e"/>
<path d="M385.4 231.1l-7.1 2-0.6-0.7 7.1-1.9z" color="#f5ee21"/>
<path d="M378.3 233.1l-7.1 2-0.6-0.7 7.1-2z" color="#f5ec22"/>
<path d="M371.2 235.1l-7.1 2.1-0.6-0.9 7.1-1.9z" color="#f5e924"/>
<path d="M364.1 237.2l-7.1 2-0.6-0.9 7.1-2z" color="#f5e626"/>
<path d="M357 239.2l-7.1 2.1-0.6-1 7.1-2z" color="#f5e327"/>
<path d="M349.9 241.3l-7.1 2.1-0.6-1.1 7.1-2z" color="#f6e028"/>
<path d="M342.8 243.4l-7.1 2.2-0.6-1.3 7.1-2z" color="#f7dc2a"/>
<path d="M335.7 245.6l-7.1 2.2-0.6-1.5 7.1-2z" color="#f8d82c"/>
<path d="M328.6 247.8l-7.1 2.2-0.6-1.6 7.1-2.1z" color="#fad52e"/>
<path d="M321.5 250l-7.1 2.2-0.6-1.7 7.1-2.1z" color="#fcd12f"/>
<path d="M314.4 252.2l-7.1 2.2-0.6-1.8 7.1-2.1z" color="#fdcd32"/>
<path d="M307.3 254.4l-7.1 2.3-0.7-2 7.2-2.1z" color="#fec934"/>
<path d="M300.2 256.7l-7.2 2.2-0.6-2.1 7.1-2.1z" color="#fec537"/>
<path d="M435.8 218.6l-7.2 1.6-0.6-0.2 7.1-1.6z" color="#fdfd12"/>
<path d="M428.6 220.2l-7.1 1.8-0.6-0.3 7.1-1.7z" color="#fcfb13"/>
<path d="M421.5 222l-7.1 1.8-0.6-0.3 7.1-1.8z" color="#fbfa15"/>
<path d="M414.4 223.8l-7.1 1.9-0.6-0.3 7.1-1.9z" color="#f9f717"/>
<path d="M407.3 225.7l-7.1 2-0.6-0.5 7.1-1.8z" color="#f8f51a"/>
<path d="M400.2 227.7l-7.1 1.9-0.6-0.4 7.1-2z" color="#f7f21d"/>
<path d="M393.1 229.6l-7.1 2.1-0.6-0.6 7.1-1.9z" color="#f5ef20"/>
<path d="M386 231.7l-7.1 2.1-0.6-0.7 7.1-2z" color="#f5ec22"/>
<path d="M378.9 233.8l-7.1 2.1-0.6-0.8 7.1-2z" color="#f5e924"/>
<path d="M371.8 235.9l-7.1 2.1-0.6-0.8 7.1-2.1z" color="#f5e526"/>
<path d="M364.7 238l-7.1 2.2-0.6-1 7.1-2z" color="#f5e228"/>
<path d="M357.6 240.2l-7.1 2.2-0.6-1.1 7.1-2.1z" color="#f6de29"/>
<path d="M350.5 242.4l-7.1 2.2-0.6-1.2 7.1-2.1z" color="#f8da2b"/>
<path d="M343.4 244.6l-7.1 2.3-0.6-1.3 7.1-2.2z" color="#fad52d"/>
<path d="M336.3 246.9l-7.1 2.3-0.6-1.4 7.1-2.2z" color="#fcd12f"/>
<path d="M329.2 249.2l-7.1 2.3-0.6-1.5 7.1-2.2z" color="#fdcd32"/>
<path d="M322.1 251.5l-7.1 2.3-0.6-1.6 7.1-2.2z" color="#fec835"/>
<path d="M315 253.8l-7.1 2.4-0.6-1.8 7.1-2.2z" color="#fec438"/>
<path d="M307.9 256.2l-7.1 2.4-0.6-1.9 7.1-2.3z" color="#febf3b"/>
<path d="M300.8 258.6l-7.1 2.4-0.7-2.1 7.2-2.2z" color="#fbbc3d"/>
<path d="M436.4 218.7l-7.1 1.7-0.7-0.2 7.2-1.6z" color="#fdfc12"/>
<path d="M429.3 220.4l-7.2 1.8-0.6-0.2 7.1-1.8z" color="#fcfb14"/>
<path d="M422.1 222.2l-7.1 1.9-0.6-0.3 7.1-1.8z" color="#faf916"/>
<path d="M415 224.1l-7.1 2-0.6-0.4 7.1-1.9z" color="#f9f618"/>
<path d="M407.9 226.1l-7.1 2-0.6-0.4 7.1-2z" color="#f7f31b"/>
<path d="M400.8 228.1l-7.1 2.1-0.6-0.6 7.1-1.9z" color="#f6f01f"/>
<path d="M393.7 230.2l-7.1 2.2-0.6-0.7 7.1-2.1z" color="#f5ec22"/>
<path d="M386.6 232.4l-7.1 2.2-0.6-0.8 7.1-2.1z" color="#f5e924"/>
<path d="M379.5 234.6l-7.1 2.2-0.6-0.9 7.1-2.1z" color="#f5e526"/>
<path d="M372.4 236.8l-7.1 2.3-0.6-1.1 7.1-2.1z" color="#f6e128"/>
<path d="M365.3 239.1l-7.1 2.3-0.6-1.2 7.1-2.2z" color="#f7dc2a"/>
<path d="M358.2 241.4l-7.1 2.3-0.6-1.3 7.1-2.2z" color="#f9d82c"/>
<path d="M351.1 243.7l-7.1 2.4-0.6-1.5 7.1-2.2z" color="#fbd32e"/>
<path d="M344 246.1l-7.1 2.4-0.6-1.6 7.1-2.3z" color="#fdce31"/>
<path d="M336.9 248.5l-7.1 2.5-0.6-1.8 7.1-2.3z" color="#fec934"/>
<path d="M329.8 251l-7.1 2.4-0.6-1.9 7.1-2.3z" color="#fec438"/>
<path d="M322.7 253.4l-7.1 2.5-0.6-2.1 7.1-2.3z" color="#febf3c"/>
<path d="M315.6 255.9l-7.1 2.6-0.6-2.3 7.1-2.4z" color="#fabb3d"/>
<path d="M308.5 258.5l-7.1 2.6-0.6-2.5 7.1-2.4z" color="#f3ba38"/>
<path d="M301.4 261.1l-7.1 2.6-0.6-2.7 7.1-2.4z" color="#eaba31"/>
<path d="M437 218.9l-7.1 1.7-0.6-0.2 7.1-1.7z" color="#fdfc12"/>
<path d="M429.9 220.6l-7.2 1.9-0.6-0.3 7.2-1.8z" color="#fbfb14"/>
<path d="M422.7 222.5l-7.1 2-0.6-0.4 7.1-1.9z" color="#faf816"/>
<path d="M415.6 224.5l-7.1 2.1-0.6-0.5 7.1-2z" color="#f8f51a"/>
<path d="M408.5 226.6l-7.1 2.1-0.6-0.6 7.1-2z" color="#f6f11e"/>
<path d="M401.4 228.7l-7.1 2.2-0.6-0.7 7.1-2.1z" color="#f5ed21"/>
<path d="M394.3 230.9l-7.1 2.3-0.6-0.8 7.1-2.2z" color="#f5e924"/>
<path d="M387.2 233.2l-7.1 2.4-0.6-1 7.1-2.2z" color="#f5e526"/>
<path d="M380.1 235.6l-7.1 2.3-0.6-1.1 7.1-2.2z" color="#f6e028"/>
<path d="M373 237.9l-7.1 2.5-0.6-1.3 7.1-2.3z" color="#f7db2b"/>
<path d="M365.9 240.4l-7.1 2.5-0.6-1.5 7.1-2.3z" color="#fad62d"/>
<path d="M358.8 242.9l-7.1 2.5-0.6-1.7 7.1-2.3z" color="#fcd030"/>
<path d="M351.7 245.4l-7.1 2.6-0.6-1.9 7.1-2.4z" color="#feca33"/>
<path d="M344.6 248l-7.1 2.6-0.6-2.1 7.1-2.4z" color="#fec437"/>
<path d="M337.5 250.6l-7.1 2.7-0.6-2.3 7.1-2.5z" color="#febf3c"/>
<path d="M330.4 253.3l-7.1 2.6-0.6-2.5 7.1-2.4z" color="#f9bb3d"/>
<path d="M323.3 255.9l-7.1 2.8-0.6-2.8 7.1-2.5z" color="#f0ba36"/>
<path d="M316.2 258.7l-7.1 2.8-0.6-3 7.1-2.6z" color="#e7bb2d"/>
<path d="M309.1 261.5l-7.1 2.8-0.6-3.2 7.1-2.6z" color="#dbbd29"/>
<path d="M302 264.3l-7.1 2.8-0.6-3.4 7.1-2.6z" color="#cec028"/>
</g>
<g class="p">
<path d="M437.6 219.1l-7.1 1.7-0.6-0.2 7.1-1.7z" fill="#fdfd3d" stroke="#fcfc13"/>
<path d="M430.5 220.8l-7.1 2-0.7-0.3 7.2-1.9z" fill="#fcfb3f" stroke="#fbfa14"/>
<path d="M423.4 222.8l-7.2 2.1-0.6-0.4 7.1-2z" fill="#faf941" stroke="#f9f717"/>
<path d="M416.2 224.9l-7.1 2.1-0.6-0.4 7.1-2.1z" fill="#f9f544" stroke="#f7f31b"/>
<path d="M409.1 227l-7.1 2.3-0.6-0.6 7.1-2.1z" fill="#f7f248" stroke="#f5ef20"/>
<path d="M402 229.3l-7.1 2.4-0.6-0.8 7.1-2.2z" fill="#f7ee4b" stroke="#f5ea23"/>
<path d="M394.9 231.7l-7.1 2.4-0.6-0.9 7.1-2.3z" fill="#f7ea4d" stroke="#f5e626"/>
<path d="M387.8 234.1l-7.1 2.5-0.6-1 7.1-2.4z" fill="#f7e64f" stroke="#f6e028"/>
<path d="M380.7 236.6l-7.1 2.5-0.6-1.2 7.1-2.3z" fill="#f9e151" stroke="#f8da2b"/>
<path d="M373.6 239.1l-7.1 2.6-0.6-1.3 7.1-2.5z" fill="#fbdc53" stroke="#fad42e"/>
<path d="M366.5 241.7l-7.1 2.7-0.6-1.5 7.1-2.5z" fill="#fdd756" stroke="#fdce31"/>
<path d="M359.4 244.4l-7.1 2.7-0.6-1.7 7.1-2.5z" fill="#fed159" stroke="#fec735"/>
<path d="M352.3 247.1l-7.1 2.8-0.6-1.9 7.1-2.6z" fill="#fecc5d" stroke="#fec13a"/>
<path d="M345.2 249.9l-7.1 2.8-0.6-2.1 7.1-2.6z" fill="#fbc860" stroke="#fbbc3d"/>
<path d="M338.1 252.7l-7.1 2.8-0.6-2.2 7.1-2.7z" fill="#f4c65b" stroke="#f2ba37"/>
<path d="M331 255.5l-7.1 3-0.6-2.6 7.1-2.6z" fill="#ebc753" stroke="#e6bb2d"/>
<path d="M323.9 258.5l-7.1 2.9-0.6-2.7 7.1-2.8z" fill="#e0c94f" stroke="#d9be28"/>
<path d="M316.8 261.4l-7.1 3-0.6-2.9 7.1-2.8z" fill="#d4cc4f" stroke="#cac129"/>
<path d="M309.7 264.4l-7.1 3.1-0.6-3.2 7.1-2.8z" fill="#c6cf56" stroke="#b9c430"/>
<path d="M302.6 267.5l-7.1 3-0.6-3.4 7.1-2.8z" fill="#b6d15f" stroke="#a7c73c"/>
<path d="M438.2 219.3l-7.1 1.7-0.6-0.2 7.1-1.7z" fill="#fdfd3d" stroke="#fcfc13"/>
<path d="M431.1 221l-7.1 2-0.6-0.2 7.1-2z" fill="#fcfb3f" stroke="#fbfa15"/>
<path d="M424 223l-7.1 2.2-0.7-0.3 7.2-2.1z" fill="#faf842" stroke="#f9f618"/>
<path d="M416.9 225.2l-7.2 2.3-0.6-0.5 7.1-2.1z" fill="#f8f446" stroke="#f7f21d"/>
<path d="M409.7 227.5l-7.1 2.3-0.6-0.5 7.1-2.3z" fill="#f7f04a" stroke="#f5ed22"/>
<path d="M402.6 229.8l-7.1 2.5-0.6-0.6 7.1-2.4z" fill="#f7ec4c" stroke="#f5e825"/>
<path d="M395.5 232.3l-7.1 2.5-0.6-0.7 7.1-2.4z" fill="#f7e74e" stroke="#f5e227"/>
<path d="M388.4 234.8l-7.1 2.7-0.6-0.9 7.1-2.5z" fill="#f8e250" stroke="#f7dc2a"/>
<path d="M381.3 237.5l-7.1 2.7-0.6-1.1 7.1-2.5z" fill="#fbdd53" stroke="#fad52d"/>
<path d="M374.2 240.2l-7.1 2.7-0.6-1.2 7.1-2.6z" fill="#fdd756" stroke="#fdce31"/>
<path d="M367.1 242.9l-7.1 2.8-0.6-1.3 7.1-2.7z" fill="#fed15a" stroke="#fec735"/>
<path d="M360 245.7l-7.1 2.9-0.6-1.5 7.1-2.7z" fill="#fecb5e" stroke="#fec03b"/>
<path d="M352.9 248.6l-7.1 3-0.6-1.7 7.1-2.8z" fill="#fac760" stroke="#f9ba3d"/>
<path d="M345.8 251.6l-7.1 2.9-0.6-1.8 7.1-2.8z" fill="#f1c658" stroke="#edba34"/>
<path d="M338.7 254.5l-7.1 3.1-0.6-2.1 7.1-2.8z" fill="#e6c851" stroke="#e0bc2a"/>
<path d="M331.6 257.6l-7.1 3.1-0.6-2.2 7.1-3z" fill="#d9cb4e" stroke="#d1bf27"/>
<path d="M324.5 260.7l-7.1 3.2-0.6-2.5 7.1-2.9z" fill="#cace53" stroke="#bfc32e"/>
<path d="M317.4 263.9l-7.1 3.2-0.6-2.7 7.1-3z" fill="#bad15d" stroke="#abc739"/>
<path d="M310.3 267.1l-7.1 3.2-0.6-2.8 7.1-3.1z" fill="#a8d36a" stroke="#95ca49"/>
<path d="M303.2 270.3l-7.1 3.3-0.6-3.1 7.1-3z" fill="#94d579" stroke="#7dcc5b"/>
<path d="M438.8 219.4l-7.1 1.8-0.6-0.2 7.1-1.7z" fill="#fdfd3d" stroke="#fcfc13"/>
<path d="M431.7 221.2l-7.1 2.1-0.6-0.3 7.1-2z" fill="#fbfa3f" stroke="#fbf915"/>
<path d="M424.6 223.3l-7.1 2.2-0.6-0.3 7.1-2.2z" fill="#f9f742" stroke="#f8f519"/>
<path d="M417.5 225.5l-7.2 2.4-0.6-0.4 7.2-2.3z" fill="#f8f347" stroke="#f6f01f"/>
<path d="M410.3 227.9l-7.1 2.4-0.6-0.5 7.1-2.3z" fill="#f7ef4b" stroke="#f5eb23"/>
<path d="M403.2 230.3l-7.1 2.6-0.6-0.6 7.1-2.5z" fill="#f7ea4d" stroke="#f5e526"/>
<path d="M396.1 232.9l-7.1 2.7-0.6-0.8 7.1-2.5z" fill="#f8e54f" stroke="#f6df29"/>
<path d="M389 235.6l-7.1 2.7-0.6-0.8 7.1-2.7z" fill="#fadf52" stroke="#f9d82c"/>
<path d="M381.9 238.3l-7.1 2.8-0.6-0.9 7.1-2.7z" fill="#fcd955" stroke="#fcd030"/>
<path d="M374.8 241.1l-7.1 2.9-0.6-1.1 7.1-2.7z" fill="#fed259" stroke="#fec934"/>
<path d="M367.7 244l-7.1 3-0.6-1.3 7.1-2.8z" fill="#fecc5d" stroke="#fec13a"/>
<path d="M360.6 247l-7.1 3-0.6-1.4 7.1-2.9z" fill="#fac760" stroke="#f9bb3d"/>
<path d="M353.5 250l-7.1 3.1-0.6-1.5 7.1-3z" fill="#f1c658" stroke="#edba34"/>
<path d="M346.4 253.1l-7.1 3.2-0.6-1.8 7.1-2.9z" fill="#e5c850" stroke="#dfbc2a"/>
<path d="M339.3 256.3l-7.1 3.2-0.6-1.9 7.1-3.1z" fill="#d7cb4f" stroke="#cec028"/>
<path d="M332.2 259.5l-7.1 3.3-0.6-2.1 7.1-3.1z" fill="#c7cf55" stroke="#bac430"/>
<path d="M325.1 262.8l-7.1 3.3-0.6-2.2 7.1-3.2z" fill="#b4d261" stroke="#a4c83e"/>
<path d="M318 266.1l-7.1 3.4-0.6-2.4 7.1-3.2z" fill="#a0d470" stroke="#8bcb50"/>
<path d="M310.9 269.5l-7.1 3.4-0.6-2.6 7.1-3.2z" fill="#8bd680" stroke="#71cd64"/>
<path d="M303.8 272.9l-7.1 3.5-0.6-2.8 7.1-3.3z" fill="#77d590" stroke="#59cc78"/>
<path d="M439.4 219.6l-7.1 1.8-0.6-0.2 7.1-1.8z" fill="#fdfc3d" stroke="#fcfc13"/>
<path d="M432.3 221.4l-7.1 2.2-0.6-0.3 7.1-2.1z" fill="#fbfa40" stroke="#faf916"/>
<path d="M425.2 223.6l-7.1 2.2-0.6-0.3 7.1-2.2z" fill="#f9f643" stroke="#f8f51a"/>
<path d="M418.1 225.8l-7.1 2.5-0.7-0.4 7.2-2.4z" fill="#f7f248" stroke="#f6ef20"/>
<path d="M411 228.3l-7.2 2.5-0.6-0.5 7.1-2.4z" fill="#f7ed4b" stroke="#f5e924"/>
<path d="M403.8 230.8l-7.1 2.7-0.6-0.6 7.1-2.6z" fill="#f7e84e" stroke="#f5e327"/>
<path d="M396.7 233.5l-7.1 2.7-0.6-0.6 7.1-2.7z" fill="#f8e250" stroke="#f7dc2a"/>
<path d="M389.6 236.2l-7.1 2.9-0.6-0.8 7.1-2.7z" fill="#fbdc53" stroke="#fad42e"/>
<path d="M382.5 239.1l-7.1 2.9-0.6-0.9 7.1-2.8z" fill="#fdd557" stroke="#fdcc32"/>
<path d="M375.4 242l-7.1 3-0.6-1 7.1-2.9z" fill="#fecf5c" stroke="#fec438"/>
<path d="M368.3 245l-7.1 3.1-0.6-1.1 7.1-3z" fill="#fcc860" stroke="#fcbc3d"/>
<path d="M361.2 248.1l-7.1 3.2-0.6-1.3 7.1-3z" fill="#f3c65b" stroke="#f1ba37"/>
<path d="M354.1 251.3l-7.1 3.2-0.6-1.4 7.1-3.1z" fill="#e7c851" stroke="#e2bc2b"/>
<path d="M347 254.5l-7.1 3.3-0.6-1.5 7.1-3.2z" fill="#d9cb4e" stroke="#d0bf27"/>
<path d="M339.9 257.8l-7.1 3.4-0.6-1.7 7.1-3.2z" fill="#c8ce55" stroke="#bbc42f"/>
<path d="M332.8 261.2l-7.1 3.4-0.6-1.8 7.1-3.3z" fill="#b4d261" stroke="#a4c83e"/>
<path d="M325.7 264.6l-7.1 3.5-0.6-2 7.1-3.3z" fill="#9fd471" stroke="#8acb52"/>
<path d="M318.6 268.1l-7.1 3.6-0.6-2.2 7.1-3.4z" fill="#88d682" stroke="#6ecd66"/>
<path d="M311.5 271.7l-7.1 3.6-0.6-2.4 7.1-3.4z" fill="#73d594" stroke="#55cc7c"/>
<path d="M304.4 275.3l-7.1 3.6-0.6-2.5 7.1-3.5z" fill="#61d3a4" stroke="#3eca8f"/>
<path d="M440 219.8l-7.1 1.8-0.6-0.2 7.1-1.8z" fill="#fdfc3d" stroke="#fcfc13"/>
<path d="M432.9 221.6l-7.1 2.2-0.6-0.2 7.1-2.2z" fill="#fbfa40" stroke="#faf916"/>
<path d="M425.8 223.8l-7.1 2.3-0.6-0.3 7.1-2.2z" fill="#f9f644" stroke="#f8f41b"/>
<path d="M418.7 226.1l-7.1 2.5-0.6-0.3 7.1-2.5z" fill="#f7f149" stroke="#f5ee21"/>
<path d="M411.6 228.6l-7.1 2.6-0.7-0.4 7.2-2.5z" fill="#f7ec4c" stroke="#f5e825"/>
<path d="M404.5 231.2l-7.2 2.8-0.6-0.5 7.1-2.7z" fill="#f7e74f" stroke="#f5e128"/>
<path d="M397.3 234l-7.1 2.8-0.6-0.6 7.1-2.7z" fill="#f9e051" stroke="#f8da2b"/>
<path d="M390.2 236.8l-7.1 2.9-0.6-0.6 7.1-2.9z" fill="#fcd955" stroke="#fcd12f"/>
<path d="M383.1 239.7l-7.1 3.1-0.6-0.8 7.1-2.9z" fill="#fed259" stroke="#fec934"/>
<path d="M376 242.8l-7.1 3.1-0.6-0.9 7.1-3z" fill="#fecb5e" stroke="#fec03b"/>
<path d="M368.9 245.9l-7.1 3.2-0.6-1 7.1-3.1z" fill="#f8c65f" stroke="#f7ba3c"/>
<path d="M361.8 249.1l-7.1 3.2-0.6-1 7.1-3.2z" fill="#edc755" stroke="#e9bb2f"/>
<path d="M354.7 252.3l-7.1 3.4-0.6-1.2 7.1-3.2z" fill="#deca4f" stroke="#d7be28"/>
<path d="M347.6 255.7l-7.1 3.4-0.6-1.3 7.1-3.3z" fill="#cdcd52" stroke="#c2c22c"/>
<path d="M340.5 259.1l-7.1 3.5-0.6-1.4 7.1-3.4z" fill="#bad15d" stroke="#aac739"/>
<path d="M333.4 262.6l-7.1 3.6-0.6-1.6 7.1-3.4z" fill="#a4d46d" stroke="#90ca4d"/>
<path d="M326.3 266.2l-7.1 3.6-0.6-1.7 7.1-3.5z" fill="#8cd67f" stroke="#73cd63"/>
<path d="M319.2 269.8l-7.1 3.7-0.6-1.8 7.1-3.6z" fill="#76d592" stroke="#58cc7a"/>
<path d="M312.1 273.5l-7.1 3.7-0.6-1.9 7.1-3.6z" fill="#61d3a3" stroke="#3fca8e"/>
<path d="M305 277.2l-7.1 3.8-0.6-2.1 7.1-3.6z" fill="#56d0b2" stroke="#30c5a1"/>
<path d="M440.6 220l-7.1 1.8-0.6-0.2 7.1-1.8z" fill="#fdfc3d" stroke="#fcfc13"/>
<path d="M433.5 221.8l-7.1 2.2-0.6-0.2 7.1-2.2z" fill="#fbfa40" stroke="#faf816"/>
<path d="M426.4 224l-7.1 2.4-0.6-0.3 7.1-2.3z" fill="#f9f544" stroke="#f7f31b"/>
<path d="M419.3 226.4l-7.1 2.6-0.6-0.4 7.1-2.5z" fill="#f7f049" stroke="#f5ed21"/>
<path d="M412.2 229l-7.1 2.6-0.6-0.4 7.1-2.6z" fill="#f7eb4c" stroke="#f5e725"/>
<path d="M405.1 231.6l-7.2 2.9-0.6-0.5 7.2-2.8z" fill="#f8e54f" stroke="#f6df29"/>
<path d="M397.9 234.5l-7.1 2.9-0.6-0.6 7.1-2.8z" fill="#fade52" stroke="#f9d72c"/>
<path d="M390.8 237.4l-7.1 3-0.6-0.7 7.1-2.9z" fill="#fdd756" stroke="#fcce31"/>
<path d="M383.7 240.4l-7.1 3.1-0.6-0.7 7.1-3.1z" fill="#fed05b" stroke="#fec536"/>
<path d="M376.6 243.5l-7.1 3.2-0.6-0.8 7.1-3.1z" fill="#fdc960" stroke="#fdbd3d"/>
<path d="M369.5 246.7l-7.1 3.3-0.6-0.9 7.1-3.2z" fill="#f3c65b" stroke="#f1ba37"/>
<path d="M362.4 250l-7.1 3.4-0.6-1.1 7.1-3.2z" fill="#e6c851" stroke="#e0bc2b"/>
<path d="M355.3 253.4l-7.1 3.5-0.6-1.2 7.1-3.4z" fill="#d6cb4f" stroke="#cdc028"/>
<path d="M348.2 256.9l-7.1 3.5-0.6-1.3 7.1-3.4z" fill="#c2cf58" stroke="#b5c533"/>
<path d="M341.1 260.4l-7.1 3.6-0.6-1.4 7.1-3.5z" fill="#acd367" stroke="#9ac945"/>
<path d="M334 264l-7.1 3.7-0.6-1.5 7.1-3.6z" fill="#94d579" stroke="#7dcc5b"/>
<path d="M326.9 267.7l-7.1 3.8-0.6-1.7 7.1-3.6z" fill="#7cd68c" stroke="#5fcd73"/>
<path d="M319.8 271.5l-7.1 3.8-0.6-1.8 7.1-3.7z" fill="#66d49e" stroke="#45cb89"/>
<path d="M312.7 275.3l-7.1 3.9-0.6-2 7.1-3.7z" fill="#58d1af" stroke="#33c69d"/>
<path d="M305.6 279.2l-7.1 3.9-0.6-2.1 7.1-3.8z" fill="#4ccdbd" stroke="#24c1ae"/>
<path d="M441.2 220.1l-7.1 2-0.6-0.3 7.1-1.8z" fill="#fdfc3e" stroke="#fcfc13"/>
<path d="M434.1 222.1l-7.1 2.2-0.6-0.3 7.1-2.2z" fill="#fbf940" stroke="#faf816"/>
<path d="M427 224.3l-7.1 2.5-0.6-0.4 7.1-2.4z" fill="#f8f545" stroke="#f7f31c"/>
<path d="M419.9 226.8l-7.1 2.6-0.6-0.4 7.1-2.6z" fill="#f7f04a" stroke="#f5ec22"/>
<path d="M412.8 229.4l-7.1 2.8-0.6-0.6 7.1-2.6z" fill="#f7ea4d" stroke="#f5e526"/>
<path d="M405.7 232.2l-7.1 2.9-0.7-0.6 7.2-2.9z" fill="#f8e350" stroke="#f6dd2a"/>
<path d="M398.6 235.1l-7.2 3.1-0.6-0.8 7.1-2.9z" fill="#fbdc53" stroke="#fad42e"/>
<path d="M391.4 238.2l-7.1 3.1-0.6-0.9 7.1-3z" fill="#fed457" stroke="#fdcb33"/>
<path d="M384.3 241.3l-7.1 3.3-0.6-1.1 7.1-3.1z" fill="#fecd5d" stroke="#fec239"/>
<path d="M377.2 244.6l-7.1 3.4-0.6-1.3 7.1-3.2z" fill="#f9c760" stroke="#f8ba3d"/>
<path d="M370.1 248l-7.1 3.5-0.6-1.5 7.1-3.3z" fill="#ecc754" stroke="#e8bb2f"/>
<path d="M363 251.5l-7.1 3.5-0.6-1.6 7.1-3.4z" fill="#ddca4e" stroke="#d5be28"/>
<path d="M355.9 255l-7.1 3.7-0.6-1.8 7.1-3.5z" fill="#cace54" stroke="#bec32e"/>
<path d="M348.8 258.7l-7.1 3.7-0.6-2 7.1-3.5z" fill="#b3d261" stroke="#a3c83f"/>
<path d="M341.7 262.4l-7.1 3.8-0.6-2.2 7.1-3.6z" fill="#9bd574" stroke="#85cb56"/>
<path d="M334.6 266.2l-7.1 3.9-0.6-2.4 7.1-3.7z" fill="#81d688" stroke="#65cd6e"/>
<path d="M327.5 270.1l-7.1 4-0.6-2.6 7.1-3.8z" fill="#69d49c" stroke="#48cb86"/>
<path d="M320.4 274.1l-7.1 4-0.6-2.8 7.1-3.8z" fill="#59d1ad" stroke="#34c79b"/>
<path d="M313.3 278.1l-7.1 4.1-0.6-3 7.1-3.9z" fill="#4ccdbc" stroke="#25c2ae"/>
<path d="M306.2 282.2l-7.1 4.2-0.6-3.3 7.1-3.9z" fill="#34c8ca" stroke="#08bcbf"/>
<path d="M441.8 220.3l-7.1 2-0.6-0.2 7.1-2z" fill="#fdfc3e" stroke="#fcfc13"/>
<path d="M434.7 222.3l-7.1 2.3-0.6-0.3 7.1-2.2z" fill="#fbf941" stroke="#faf817"/>
<path d="M427.6 224.6l-7.1 2.6-0.6-0.4 7.1-2.5z" fill="#f8f446" stroke="#f7f11e"/>
<path d="M420.5 227.2l-7.1 2.7-0.6-0.5 7.1-2.6z" fill="#f7ee4b" stroke="#f5eb23"/>
<path d="M413.4 229.9l-7.1 3-0.6-0.7 7.1-2.8z" fill="#f7e84e" stroke="#f5e327"/>
<path d="M406.3 232.9l-7.1 3-0.6-0.8 7.1-2.9z" fill="#f9e151" stroke="#f8da2b"/>
<path d="M399.2 235.9l-7.1 3.3-0.7-1 7.2-3.1z" fill="#fcd955" stroke="#fcd030"/>
<path d="M392.1 239.2l-7.2 3.3-0.6-1.2 7.1-3.1z" fill="#fed05a" stroke="#fec636"/>
<path d="M384.9 242.5l-7.1 3.5-0.6-1.4 7.1-3.3z" fill="#fdc960" stroke="#fcbd3d"/>
<path d="M377.8 246l-7.1 3.5-0.6-1.5 7.1-3.4z" fill="#f1c659" stroke="#efba35"/>
<path d="M370.7 249.5l-7.1 3.7-0.6-1.7 7.1-3.5z" fill="#e2c94f" stroke="#dbbd29"/>
<path d="M363.6 253.2l-7.1 3.8-0.6-2 7.1-3.5z" fill="#cecd51" stroke="#c4c22b"/>
<path d="M356.5 257l-7.1 3.9-0.6-2.2 7.1-3.7z" fill="#b7d15f" stroke="#a8c73b"/>
<path d="M349.4 260.9l-7.1 3.9-0.6-2.4 7.1-3.7z" fill="#9dd572" stroke="#88cb53"/>
<path d="M342.3 264.8l-7.1 4.1-0.6-2.7 7.1-3.8z" fill="#82d687" stroke="#66cd6d"/>
<path d="M335.2 268.9l-7.1 4.1-0.6-2.9 7.1-3.9z" fill="#69d49c" stroke="#48cb86"/>
<path d="M328.1 273l-7.1 4.3-0.6-3.2 7.1-4z" fill="#58d1af" stroke="#33c69d"/>
<path d="M321 277.3l-7.1 4.3-0.6-3.5 7.1-4z" fill="#49ccbe" stroke="#21c1b0"/>
<path d="M313.9 281.6l-7.1 4.3-0.6-3.7 7.1-4.1z" fill="#30c7cd" stroke="#03bbc3"/>
<path d="M306.8 285.9l-7.1 4.5-0.6-4 7.1-4.2z" fill="#39c0db" stroke="#0db3d4"/>
<path d="M442.4 220.5l-7.1 2-0.6-0.2 7.1-2z" fill="#fdfc3e" stroke="#fcfb13"/>
<path d="M435.3 222.5l-7.1 2.4-0.6-0.3 7.1-2.3z" fill="#faf841" stroke="#f9f717"/>
<path d="M428.2 224.9l-7.1 2.7-0.6-0.4 7.1-2.6z" fill="#f8f347" stroke="#f6f01f"/>
<path d="M421.1 227.6l-7.1 2.9-0.6-0.6 7.1-2.7z" fill="#f7ed4c" stroke="#f5e924"/>
<path d="M414 230.5l-7.1 3-0.6-0.6 7.1-3z" fill="#f7e64f" stroke="#f6e028"/>
<path d="M406.9 233.5l-7.1 3.3-0.6-0.9 7.1-3z" fill="#fade53" stroke="#f9d72d"/>
<path d="M399.8 236.8l-7.1 3.3-0.6-0.9 7.1-3.3z" fill="#fdd557" stroke="#fdcc32"/>
<path d="M392.7 240.1l-7.1 3.6-0.7-1.2 7.2-3.3z" fill="#fecc5d" stroke="#fec13a"/>
<path d="M385.6 243.7l-7.2 3.6-0.6-1.3 7.1-3.5z" fill="#f7c65e" stroke="#f6ba3b"/>
<path d="M378.4 247.3l-7.1 3.8-0.6-1.6 7.1-3.5z" fill="#e8c852" stroke="#e3bc2c"/>
<path d="M371.3 251.1l-7.1 3.9-0.6-1.8 7.1-3.7z" fill="#d5cc4f" stroke="#cbc029"/>
<path d="M364.2 255l-7.1 4-0.6-2 7.1-3.8z" fill="#bdd05b" stroke="#aec637"/>
<path d="M357.1 259l-7.1 4.1-0.6-2.2 7.1-3.9z" fill="#a2d46f" stroke="#8dcb4f"/>
<path d="M350 263.1l-7.1 4.2-0.6-2.5 7.1-3.9z" fill="#84d685" stroke="#69cd6a"/>
<path d="M342.9 267.3l-7.1 4.3-0.6-2.7 7.1-4.1z" fill="#69d49c" stroke="#48cb86"/>
<path d="M335.8 271.6l-7.1 4.4-0.6-3 7.1-4.1z" fill="#57d0af" stroke="#33c69e"/>
<path d="M328.7 276l-7.1 4.5-0.6-3.2 7.1-4.3z" fill="#46ccc0" stroke="#1ec0b2"/>
<path d="M321.6 280.5l-7.1 4.5-0.6-3.4 7.1-4.3z" fill="#2fc6d0" stroke="#01bac6"/>
<path d="M314.5 285l-7.1 4.7-0.6-3.8 7.1-4.3z" fill="#3ebede" stroke="#13b0d7"/>
<path d="M307.4 289.7l-7.1 4.7-0.6-4 7.1-4.5z" fill="#49b4e8" stroke="#21a4e3"/>
<path d="M443 220.7l-7.1 2-0.6-0.2 7.1-2z" fill="#fcfc3e" stroke="#fcfb13"/>
<path d="M435.9 222.7l-7.1 2.5-0.6-0.3 7.1-2.4z" fill="#faf842" stroke="#f9f618"/>
<path d="M428.8 225.2l-7.1 2.8-0.6-0.4 7.1-2.7z" fill="#f7f248" stroke="#f6ef20"/>
<path d="M421.7 228l-7.1 3-0.6-0.5 7.1-2.9z" fill="#f7eb4c" stroke="#f5e725"/>
<path d="M414.6 231l-7.1 3.2-0.6-0.7 7.1-3z" fill="#f8e450" stroke="#f6de29"/>
<path d="M407.5 234.2l-7.1 3.4-0.6-0.8 7.1-3.3z" fill="#fbdb54" stroke="#fbd32e"/>
<path d="M400.4 237.6l-7.1 3.5-0.6-1 7.1-3.3z" fill="#fed259" stroke="#fec835"/>
<path d="M393.3 241.1l-7.1 3.7-0.6-1.1 7.1-3.6z" fill="#fdc960" stroke="#fdbd3d"/>
<path d="M386.2 244.8l-7.2 3.8-0.6-1.3 7.2-3.6z" fill="#f0c757" stroke="#ecba33"/>
<path d="M379 248.6l-7.1 4-0.6-1.5 7.1-3.8z" fill="#ddca4f" stroke="#d6be28"/>
<path d="M371.9 252.6l-7.1 4.1-0.6-1.7 7.1-3.9z" fill="#c6cf55" stroke="#b9c430"/>
<path d="M364.8 256.7l-7.1 4.2-0.6-1.9 7.1-4z" fill="#aad368" stroke="#98ca47"/>
<path d="M357.7 260.9l-7.1 4.4-0.6-2.2 7.1-4.1z" fill="#8bd680" stroke="#72cd64"/>
<path d="M350.6 265.3l-7.1 4.4-0.6-2.4 7.1-4.2z" fill="#6ed598" stroke="#4ecc81"/>
<path d="M343.5 269.7l-7.1 4.5-0.6-2.6 7.1-4.3z" fill="#59d1ad" stroke="#34c79b"/>
<path d="M336.4 274.2l-7.1 4.7-0.6-2.9 7.1-4.4z" fill="#48ccbf" stroke="#20c1b1"/>
<path d="M329.3 278.9l-7.1 4.8-0.6-3.2 7.1-4.5z" fill="#2fc6d0" stroke="#01b9c6"/>
<path d="M322.2 283.7l-7.1 4.8-0.6-3.5 7.1-4.5z" fill="#3fbedf" stroke="#14b0d8"/>
<path d="M315.1 288.5l-7.1 4.9-0.6-3.7 7.1-4.7z" fill="#4ab3e9" stroke="#22a2e4"/>
<path d="M308 293.4l-7.1 5.1-0.6-4.1 7.1-4.7z" fill="#51a6f1" stroke="#2a92ee"/>
<path d="M443.6 220.8l-7.1 2.1-0.6-0.2 7.1-2z" fill="#fcfc3e" stroke="#fcfb14"/>
<path d="M436.5 222.9l-7.1 2.6-0.6-0.3 7.1-2.5z" fill="#faf742" stroke="#f9f618"/>
<path d="M429.4 225.5l-7.1 2.9-0.6-0.4 7.1-2.8z" fill="#f7f149" stroke="#f5ee21"/>
<path d="M422.3 228.4l-7.1 3.1-0.6-0.5 7.1-3z" fill="#f7ea4d" stroke="#f5e526"/>
<path d="M415.2 231.5l-7.1 3.3-0.6-0.6 7.1-3.2z" fill="#f9e251" stroke="#f7db2a"/>
<path d="M408.1 234.8l-7.1 3.6-0.6-0.8 7.1-3.4z" fill="#fdd855" stroke="#fcd030"/>
<path d="M401 238.4l-7.1 3.7-0.6-1 7.1-3.5z" fill="#fece5c" stroke="#fec438"/>
<path d="M393.9 242.1l-7.1 3.9-0.6-1.2 7.1-3.7z" fill="#f9c65f" stroke="#f7ba3c"/>
<path d="M386.8 246l-7.1 4-0.7-1.4 7.2-3.8z" fill="#e8c852" stroke="#e2bc2b"/>
<path d="M379.7 250l-7.2 4.2-0.6-1.6 7.1-4z" fill="#d2cc50" stroke="#c8c129"/>
<path d="M372.5 254.2l-7.1 4.3-0.6-1.8 7.1-4.1z" fill="#b6d15f" stroke="#a6c83c"/>
<path d="M365.4 258.5l-7.1 4.4-0.6-2 7.1-4.2z" fill="#97d577" stroke="#80cc59"/>
<path d="M358.3 262.9l-7.1 4.6-0.6-2.2 7.1-4.4z" fill="#77d591" stroke="#59cc79"/>
<path d="M351.2 267.5l-7.1 4.6-0.6-2.4 7.1-4.4z" fill="#5dd2a8" stroke="#39c895"/>
<path d="M344.1 272.1l-7.1 4.8-0.6-2.7 7.1-4.5z" fill="#4dcdbc" stroke="#25c2ad"/>
<path d="M337 276.9l-7.1 4.9-0.6-2.9 7.1-4.7z" fill="#30c7ce" stroke="#02bbc3"/>
<path d="M329.9 281.8l-7.1 5.1-0.6-3.2 7.1-4.8z" fill="#3dbfde" stroke="#13b1d7"/>
<path d="M322.8 286.9l-7.1 5.1-0.6-3.5 7.1-4.8z" fill="#49b3e9" stroke="#22a2e4"/>
<path d="M315.7 292l-7.1 5.2-0.6-3.8 7.1-4.9z" fill="#51a5f1" stroke="#2b92ee"/>
<path d="M308.6 297.2l-7.1 5.3-0.6-4 7.1-5.1z" fill="#5596fc" stroke="#307ffb"/>
<path d="M444.2 221l-7.1 2.1-0.6-0.2 7.1-2.1z" fill="#fcfc3e" stroke="#fcfb14"/>
<path d="M437.1 223.1l-7.1 2.7-0.6-0.3 7.1-2.6z" fill="#f9f743" stroke="#f8f519"/>
<path d="M430 225.8l-7.1 3-0.6-0.4 7.1-2.9z" fill="#f7f049" stroke="#f5ed22"/>
<path d="M422.9 228.8l-7.1 3.2-0.6-0.5 7.1-3.1z" fill="#f7e94e" stroke="#f5e427"/>
<path d="M415.8 232l-7.1 3.5-0.6-0.7 7.1-3.3z" fill="#fadf52" stroke="#f8d92c"/>
<path d="M408.7 235.5l-7.1 3.7-0.6-0.8 7.1-3.6z" fill="#fdd557" stroke="#fdcc32"/>
<path d="M401.6 239.2l-7.1 3.9-0.6-1 7.1-3.7z" fill="#fecb5e" stroke="#fec03b"/>
<path d="M394.5 243.1l-7.1 4-0.6-1.1 7.1-3.9z" fill="#f3c65a" stroke="#f0ba36"/>
<path d="M387.4 247.1l-7.1 4.2-0.6-1.3 7.1-4z" fill="#dfca4f" stroke="#d7be28"/>
<path d="M380.3 251.3l-7.1 4.4-0.7-1.5 7.2-4.2z" fill="#c5cf56" stroke="#b8c431"/>
<path d="M373.2 255.7l-7.2 4.5-0.6-1.7 7.1-4.3z" fill="#a6d46c" stroke="#92ca4b"/>
<path d="M366 260.2l-7.1 4.7-0.6-2 7.1-4.4z" fill="#83d686" stroke="#68cd6c"/>
<path d="M358.9 264.9l-7.1 4.8-0.6-2.2 7.1-4.6z" fill="#64d4a0" stroke="#42ca8b"/>
<path d="M351.8 269.7l-7.1 4.9-0.6-2.5 7.1-4.6z" fill="#52cfb6" stroke="#2dc4a6"/>
<path d="M344.7 274.6l-7.1 5-0.6-2.7 7.1-4.8z" fill="#36c9c9" stroke="#0abdbd"/>
<path d="M337.6 279.6l-7.1 5.2-0.6-3 7.1-4.9z" fill="#38c1db" stroke="#0db3d3"/>
<path d="M330.5 284.8l-7.1 5.3-0.6-3.2 7.1-5.1z" fill="#48b5e8" stroke="#20a5e2"/>
<path d="M323.4 290.1l-7.1 5.3-0.6-3.4 7.1-5.1z" fill="#50a7f0" stroke="#2994ed"/>
<path d="M316.3 295.4l-7.1 5.5-0.6-3.7 7.1-5.2z" fill="#5597fb" stroke="#3080fb"/>
<path d="M309.2 300.9l-7.1 5.6-0.6-4 7.1-5.3z" fill="#6484fe" stroke="#4369fe"/>
<path d="M444.8 221.2l-7.1 2.2-0.6-0.3 7.1-2.1z" fill="#fcfc3e" stroke="#fcfb14"/>
<path d="M437.7 223.4l-7.1 2.7-0.6-0.3 7.1-2.7z" fill="#f9f743" stroke="#f8f51a"/>
<path d="M430.6 226.1l-7.1 3.1-0.6-0.4 7.1-3z" fill="#f7ef4a" stroke="#f5ec22"/>
<path d="M423.5 229.2l-7.1 3.3-0.6-0.5 7.1-3.2z" fill="#f7e74e" stroke="#f5e228"/>
<path d="M416.4 232.5l-7.1 3.7-0.6-0.7 7.1-3.5z" fill="#fadd53" stroke="#f9d62d"/>
<path d="M409.3 236.2l-7.1 3.8-0.6-0.8 7.1-3.7z" fill="#fed359" stroke="#fec934"/>
<path d="M402.2 240l-7.1 4-0.6-0.9 7.1-3.9z" fill="#fcc860" stroke="#fcbc3d"/>
<path d="M395.1 244l-7.1 4.3-0.6-1.2 7.1-4z" fill="#ecc754" stroke="#e8bb2f"/>
<path d="M388 248.3l-7.1 4.4-0.6-1.4 7.1-4.2z" fill="#d5cc4f" stroke="#ccc028"/>
<path d="M380.9 252.7l-7.1 4.5-0.6-1.5 7.1-4.4z" fill="#b7d15f" stroke="#a7c73c"/>
<path d="M373.8 257.2l-7.2 4.8-0.6-1.8 7.2-4.5z" fill="#94d579" stroke="#7dcc5b"/>
<path d="M366.6 262l-7.1 4.8-0.6-1.9 7.1-4.7z" fill="#72d595" stroke="#53cc7e"/>
<path d="M359.5 266.8l-7.1 5-0.6-2.1 7.1-4.8z" fill="#58d1ae" stroke="#34c79c"/>
<path d="M352.4 271.8l-7.1 5.2-0.6-2.4 7.1-4.9z" fill="#43cbc2" stroke="#19bfb5"/>
<path d="M345.3 277l-7.1 5.3-0.6-2.7 7.1-5z" fill="#31c3d6" stroke="#04b6cd"/>
<path d="M338.2 282.3l-7.1 5.4-0.6-2.9 7.1-5.2z" fill="#45b8e5" stroke="#1da9e0"/>
<path d="M331.1 287.7l-7.1 5.5-0.6-3.1 7.1-5.3z" fill="#4eaaee" stroke="#2797ea"/>
<path d="M324 293.2l-7.1 5.7-0.6-3.5 7.1-5.3z" fill="#5499fa" stroke="#2e83f9"/>
<path d="M316.9 298.9l-7.1 5.8-0.6-3.8 7.1-5.5z" fill="#6386fe" stroke="#416bfe"/>
<path d="M309.8 304.7l-7.1 5.9-0.6-4.1 7.1-5.6z" fill="#6973f7" stroke="#4854f5"/>
<path d="M445.4 221.4l-7.1 2.2-0.6-0.2 7.1-2.2z" fill="#fcfb3e" stroke="#fcfb14"/>
<path d="M438.3 223.6l-7.1 2.8-0.6-0.3 7.1-2.7z" fill="#f9f644" stroke="#f8f41a"/>
<path d="M431.2 226.4l-7.1 3.2-0.6-0.4 7.1-3.1z" fill="#f7ef4b" stroke="#f5eb23"/>
<path d="M424.1 229.6l-7.1 3.5-0.6-0.6 7.1-3.3z" fill="#f7e64f" stroke="#f6e028"/>
<path d="M417 233.1l-7.1 3.7-0.6-0.6 7.1-3.7z" fill="#fbdb54" stroke="#fbd32e"/>
<path d="M409.9 236.8l-7.1 4-0.6-0.8 7.1-3.8z" fill="#fed05a" stroke="#fec636"/>
<path d="M402.8 240.8l-7.1 4.2-0.6-1 7.1-4z" fill="#f9c660" stroke="#f8ba3d"/>
<path d="M395.7 245l-7.1 4.4-0.6-1.1 7.1-4.3z" fill="#e5c850" stroke="#dfbc2a"/>
<path d="M388.6 249.4l-7.1 4.6-0.6-1.3 7.1-4.4z" fill="#cace53" stroke="#bfc32d"/>
<path d="M381.5 254l-7.1 4.8-0.6-1.6 7.1-4.5z" fill="#a9d369" stroke="#96ca48"/>
<path d="M374.4 258.8l-7.1 4.9-0.7-1.7 7.2-4.8z" fill="#83d686" stroke="#68cd6b"/>
<path d="M367.3 263.7l-7.2 5.1-0.6-2 7.1-4.8z" fill="#62d3a2" stroke="#3fca8e"/>
<path d="M360.1 268.8l-7.1 5.2-0.6-2.2 7.1-5z" fill="#4fcdba" stroke="#28c3aa"/>
<path d="M353 274l-7.1 5.4-0.6-2.4 7.1-5.2z" fill="#2fc7ce" stroke="#02bac4"/>
<path d="M345.9 279.4l-7.1 5.6-0.6-2.7 7.1-5.3z" fill="#41bde1" stroke="#17aeda"/>
<path d="M338.8 285l-7.1 5.6-0.6-2.9 7.1-5.4z" fill="#4cafeb" stroke="#249de7"/>
<path d="M331.7 290.6l-7.1 5.8-0.6-3.2 7.1-5.5z" fill="#539ef7" stroke="#2d89f5"/>
<path d="M324.6 296.4l-7.1 6-0.6-3.5 7.1-5.7z" fill="#608aff" stroke="#3d71ff"/>
<path d="M317.5 302.4l-7.1 6-0.6-3.7 7.1-5.8z" fill="#6876f9" stroke="#4758f8"/>
<path d="M310.4 308.4l-7.1 6.2-0.6-4 7.1-5.9z" fill="#6862e8" stroke="#473fe3"/>
</g>
<g class="s">
<path d="M446 221.5l-3.5 1-0.6-0.1 3.5-1z" color="#fcfc13"/>
<path d="M442.5 222.5l-3.6 1.2-0.6-0.1 3.6-1.2z" color="#fbfa15"/>
<path d="M438.9 223.7l-3.5 1.3-0.6-0.1 3.5-1.3z" color="#f9f718"/>
<path d="M435.4 225l-3.6 1.3-0.6 0.1 3.6-1.5z" color="#f7f21c"/>
<path d="M431.8 226.3l-3.5 1.5-0.7 0.1 3.6-1.5z" color="#f5ee21"/>
<path d="M428.3 227.8l-3.6 1.5-0.6 0.3 3.5-1.7z" color="#f5e924"/>
<path d="M424.7 229.3l-3.5 1.6-0.7 0.4 3.6-1.7z" color="#f5e427"/>
<path d="M421.2 230.9l-3.6 1.7-0.6 0.5 3.5-1.8z" color="#f6de29"/>
<path d="M417.6 232.6l-3.5 1.7-0.7 0.6 3.6-1.8z" color="#f9d82c"/>
<path d="M414.1 234.3l-3.6 1.8-0.6 0.7 3.5-1.9z" color="#fcd12f"/>
<path d="M410.5 236.1l-3.6 1.9-0.6 0.8 3.6-2z" color="#fdca33"/>
<path d="M406.9 238l-3.5 1.8-0.6 1 3.5-2z" color="#fec438"/>
<path d="M403.4 239.8l-3.6 2-0.6 1.1 3.6-2.1z" color="#fdbd3d"/>
<path d="M399.8 241.8l-3.5 1.9-0.6 1.3 3.5-2.1z" color="#f5ba3a"/>
<path d="M396.3 243.7l-3.6 2.1-0.6 1.4 3.6-2.2z" color="#e9bb30"/>
<path d="M392.7 245.8l-3.5 2-0.6 1.6 3.5-2.2z" color="#dcbd29"/>
<path d="M389.2 247.8l-3.6 2.1-0.6 1.8 3.6-2.3z" color="#cdc028"/>
<path d="M385.6 249.9l-3.5 2.2-0.6 1.9 3.5-2.3z" color="#bbc42f"/>
<path d="M382.1 252.1l-3.6 2.2-0.6 2.1 3.6-2.4z" color="#a8c73b"/>
<path d="M378.5 254.3l-3.5 2.2-0.6 2.3 3.5-2.4z" color="#93ca4b"/>
<path d="M375 256.5l-3.6 2.3-0.6 2.4 3.6-2.4z" color="#7ccc5c"/>
<path d="M371.4 258.8l-3.5 2.3-0.6 2.6 3.5-2.5z" color="#65cd6e"/>
<path d="M367.9 261.1l-3.6 2.3-0.6 2.8 3.6-2.5z" color="#51cc7f"/>
<path d="M364.3 263.4l-3.5 2.4-0.7 3 3.6-2.6z" color="#3eca8f"/>
<path d="M360.8 265.8l-3.6 2.4-0.6 3.2 3.5-2.6z" color="#32c69e"/>
<path d="M357.2 268.2l-3.5 2.4-0.7 3.4 3.6-2.6z" color="#27c2ab"/>
<path d="M353.7 270.6l-3.6 2.5-0.6 3.6 3.5-2.7z" color="#14bfb8"/>
<path d="M350.1 273.1l-3.5 2.5-0.7 3.8 3.6-2.7z" color="#02bac4"/>
<path d="M346.6 275.6l-3.6 2.5-0.6 4.1 3.5-2.8z" color="#07b5d0"/>
<path d="M343 278.1l-3.6 2.6-0.6 4.3 3.6-2.8z" color="#17aeda"/>
<path d="M339.4 280.7l-3.5 2.5-0.6 4.6 3.5-2.8z" color="#1fa6e1"/>
<path d="M335.9 283.2l-3.6 2.7-0.6 4.7 3.6-2.8z" color="#249de6"/>
<path d="M332.3 285.9l-3.5 2.6-0.6 5 3.5-2.9z" color="#2994ed"/>
<path d="M328.8 288.5l-3.6 2.7-0.6 5.2 3.6-2.9z" color="#2d8af5"/>
<path d="M325.2 291.2l-3.5 2.7-0.6 5.5 3.5-3z" color="#307ffb"/>
<path d="M321.7 293.9l-3.6 2.7-0.6 5.8 3.6-3z" color="#3b72ff"/>
<path d="M318.1 296.6l-3.5 2.8-0.6 6 3.5-3z" color="#4466fd"/>
<path d="M314.6 299.4l-3.6 2.8-0.6 6.2 3.6-3z" color="#475af9"/>
<path d="M311 302.2l-3.5 2.8-0.6 6.5 3.5-3.1z" color="#484ef1"/>
<path d="M307.5 305l-3.6 2.9-0.6 6.7 3.6-3.1z" color="#4741e6"/>
<path d="M446.6 221.7l-3.5 1-0.6-0.2 3.5-1z" color="#fdfc12"/>
<path d="M443.1 222.7l-3.6 1.1-0.6-0.1 3.6-1.2z" color="#fbfa14"/>
<path d="M439.5 223.8l-3.5 1.2-0.6 0 3.5-1.3z" color="#f9f717"/>
<path d="M436 225l-3.6 1.3-0.6 0 3.6-1.3z" color="#f8f41b"/>
<path d="M432.4 226.3l-3.5 1.4-0.6 0.1 3.5-1.5z" color="#f6ef20"/>
<path d="M428.9 227.7l-3.6 1.4-0.6 0.2 3.6-1.5z" color="#f5eb23"/>
<path d="M425.3 229.1l-3.5 1.5-0.6 0.3 3.5-1.6z" color="#f5e725"/>
<path d="M421.8 230.6l-3.6 1.6-0.6 0.4 3.6-1.7z" color="#f5e228"/>
<path d="M418.2 232.2l-3.5 1.6-0.6 0.5 3.5-1.7z" color="#f7dc2a"/>
<path d="M414.7 233.8l-3.6 1.6-0.6 0.7 3.6-1.8z" color="#f9d62d"/>
<path d="M411.1 235.4l-3.5 1.7-0.7 0.9 3.6-1.9z" color="#fcd030"/>
<path d="M407.6 237.1l-3.6 1.8-0.6 0.9 3.5-1.8z" color="#feca33"/>
<path d="M404 238.9l-3.5 1.8-0.7 1.1 3.6-2z" color="#fec438"/>
<path d="M400.5 240.7l-3.6 1.8-0.6 1.2 3.5-1.9z" color="#febd3c"/>
<path d="M396.9 242.5l-3.5 1.9-0.7 1.4 3.6-2.1z" color="#f6ba3c"/>
<path d="M393.4 244.4l-3.6 1.9-0.6 1.5 3.5-2z" color="#ecba32"/>
<path d="M389.8 246.3l-3.6 1.9-0.6 1.7 3.6-2.1z" color="#e0bc2b"/>
<path d="M386.2 248.2l-3.5 2-0.6 1.9 3.5-2.2z" color="#d3bf27"/>
<path d="M382.7 250.2l-3.6 2-0.6 2.1 3.6-2.2z" color="#c4c22b"/>
<path d="M379.1 252.2l-3.5 2-0.6 2.3 3.5-2.2z" color="#b3c534"/>
<path d="M375.6 254.2l-3.6 2.1-0.6 2.5 3.6-2.3z" color="#a0c841"/>
<path d="M372 256.3l-3.5 2.1-0.6 2.7 3.5-2.3z" color="#8ccb50"/>
<path d="M368.5 258.4l-3.6 2.1-0.6 2.9 3.6-2.3z" color="#77cc60"/>
<path d="M364.9 260.5l-3.5 2.2-0.6 3.1 3.5-2.4z" color="#62cd70"/>
<path d="M361.4 262.7l-3.6 2.2-0.6 3.3 3.6-2.4z" color="#4fcc80"/>
<path d="M357.8 264.9l-3.5 2.2-0.6 3.5 3.5-2.4z" color="#3eca8f"/>
<path d="M354.3 267.1l-3.6 2.3-0.6 3.7 3.6-2.5z" color="#33c79c"/>
<path d="M350.7 269.4l-3.5 2.3-0.6 3.9 3.5-2.5z" color="#2ac3a9"/>
<path d="M347.2 271.7l-3.6 2.3-0.6 4.1 3.6-2.5z" color="#1ac0b4"/>
<path d="M343.6 274l-3.5 2.3-0.7 4.4 3.6-2.6z" color="#07bcc0"/>
<path d="M340.1 276.3l-3.6 2.4-0.6 4.5 3.5-2.5z" color="#02b7cb"/>
<path d="M336.5 278.7l-3.5 2.4-0.7 4.8 3.6-2.7z" color="#10b2d5"/>
<path d="M333 281.1l-3.6 2.4-0.6 5 3.5-2.6z" color="#1babde"/>
<path d="M329.4 283.5l-3.5 2.4-0.7 5.3 3.6-2.7z" color="#21a3e3"/>
<path d="M325.9 285.9l-3.6 2.5-0.6 5.5 3.5-2.7z" color="#259be8"/>
<path d="M322.3 288.4l-3.6 2.5-0.6 5.7 3.6-2.7z" color="#2b92ee"/>
<path d="M318.7 290.9l-3.5 2.5-0.6 6 3.5-2.8z" color="#2d88f6"/>
<path d="M315.2 293.4l-3.6 2.6-0.6 6.2 3.6-2.8z" color="#317efb"/>
<path d="M311.6 296l-3.5 2.5-0.6 6.5 3.5-2.8z" color="#3b73fe"/>
<path d="M308.1 298.5l-3.6 2.6-0.6 6.8 3.6-2.9z" color="#4367fd"/>
<path d="M447.3 221.9l-3.6 0.9-0.6-0.1 3.5-1z" color="#fdfc12"/>
<path d="M443.7 222.8l-3.6 1.1-0.6-0.1 3.6-1.1z" color="#fcfb14"/>
<path d="M440.1 223.9l-3.5 1.1-0.6 0 3.5-1.2z" color="#faf816"/>
<path d="M436.6 225l-3.6 1.3-0.6 0 3.6-1.3z" color="#f8f51a"/>
<path d="M433 226.3l-3.5 1.3-0.6 0.1 3.5-1.4z" color="#f6f11e"/>
<path d="M429.5 227.6l-3.6 1.3-0.6 0.2 3.6-1.4z" color="#f5ed21"/>
<path d="M425.9 228.9l-3.5 1.4-0.6 0.3 3.5-1.5z" color="#f5e924"/>
<path d="M422.4 230.3l-3.6 1.4-0.6 0.5 3.6-1.6z" color="#f5e526"/>
<path d="M418.8 231.7l-3.5 1.5-0.6 0.6 3.5-1.6z" color="#f6e028"/>
<path d="M415.3 233.2l-3.6 1.5-0.6 0.7 3.6-1.6z" color="#f7db2a"/>
<path d="M411.7 234.7l-3.5 1.6-0.6 0.8 3.5-1.7z" color="#fad62d"/>
<path d="M408.2 236.3l-3.6 1.6-0.6 1 3.6-1.8z" color="#fcd030"/>
<path d="M404.6 237.9l-3.5 1.7-0.6 1.1 3.5-1.8z" color="#fdcb33"/>
<path d="M401.1 239.6l-3.6 1.6-0.6 1.3 3.6-1.8z" color="#fec537"/>
<path d="M397.5 241.2l-3.5 1.7-0.6 1.5 3.5-1.9z" color="#febf3b"/>
<path d="M394 242.9l-3.6 1.8-0.6 1.6 3.6-1.9z" color="#fabb3d"/>
<path d="M390.4 244.7l-3.5 1.8-0.7 1.7 3.6-1.9z" color="#f1ba37"/>
<path d="M386.9 246.5l-3.6 1.8-0.6 1.9 3.5-2z" color="#e7bb2e"/>
<path d="M383.3 248.3l-3.5 1.8-0.7 2.1 3.6-2z" color="#dcbd29"/>
<path d="M379.8 250.1l-3.6 1.9-0.6 2.2 3.5-2z" color="#cfc028"/>
<path d="M376.2 252l-3.5 1.8-0.7 2.5 3.6-2.1z" color="#c1c32c"/>
<path d="M372.7 253.8l-3.6 2-0.6 2.6 3.5-2.1z" color="#b1c635"/>
<path d="M369.1 255.8l-3.6 1.9-0.6 2.8 3.6-2.1z" color="#a0c840"/>
<path d="M365.5 257.7l-3.5 2-0.6 3 3.5-2.2z" color="#8fcb4e"/>
<path d="M362 259.7l-3.6 2-0.6 3.2 3.6-2.2z" color="#7ccc5c"/>
<path d="M358.4 261.7l-3.5 2-0.6 3.4 3.5-2.2z" color="#68cd6b"/>
<path d="M354.9 263.7l-3.6 2-0.6 3.7 3.6-2.3z" color="#57cc7a"/>
<path d="M351.3 265.7l-3.5 2.1-0.6 3.9 3.5-2.3z" color="#46cb88"/>
<path d="M347.8 267.8l-3.6 2.1-0.6 4.1 3.6-2.3z" color="#39c895"/>
<path d="M344.2 269.9l-3.5 2.1-0.6 4.3 3.5-2.3z" color="#30c5a1"/>
<path d="M340.7 272l-3.6 2.1-0.6 4.6 3.6-2.4z" color="#27c2ac"/>
<path d="M337.1 274.1l-3.5 2.2-0.6 4.8 3.5-2.4z" color="#17bfb6"/>
<path d="M333.6 276.3l-3.6 2.2-0.6 5 3.6-2.4z" color="#05bbc1"/>
<path d="M330 278.5l-3.5 2.2-0.6 5.2 3.5-2.4z" color="#02b7cb"/>
<path d="M326.5 280.7l-3.6 2.2-0.6 5.5 3.6-2.5z" color="#0eb2d4"/>
<path d="M322.9 282.9l-3.5 2.3-0.7 5.7 3.6-2.5z" color="#19acdc"/>
<path d="M319.4 285.2l-3.6 2.2-0.6 6 3.5-2.5z" color="#1fa6e2"/>
<path d="M315.8 287.4l-3.5 2.3-0.7 6.3 3.6-2.6z" color="#249ee6"/>
<path d="M312.3 289.7l-3.6 2.3-0.6 6.5 3.5-2.5z" color="#2796eb"/>
<path d="M308.7 292l-3.5 2.3-0.7 6.8 3.6-2.6z" color="#2c8ef1"/>
<path d="M447.9 222.1l-3.6 0.9-0.6-0.2 3.6-0.9z" color="#fdfc12"/>
<path d="M444.3 223l-3.5 1-0.7-0.1 3.6-1.1z" color="#fcfb14"/>
<path d="M440.8 224l-3.6 1.1-0.6-0.1 3.5-1.1z" color="#faf916"/>
<path d="M437.2 225.1l-3.5 1.1-0.7 0.1 3.6-1.3z" color="#f9f618"/>
<path d="M433.7 226.2l-3.6 1.2-0.6 0.2 3.5-1.3z" color="#f7f31c"/>
<path d="M430.1 227.4l-3.5 1.3-0.7 0.2 3.6-1.3z" color="#f6f020"/>
<path d="M426.6 228.7l-3.6 1.3-0.6 0.3 3.5-1.4z" color="#f5ec22"/>
<path d="M423 230l-3.5 1.3-0.7 0.4 3.6-1.4z" color="#f5e924"/>
<path d="M419.5 231.3l-3.6 1.4-0.6 0.5 3.5-1.5z" color="#f5e526"/>
<path d="M415.9 232.7l-3.6 1.4-0.6 0.6 3.6-1.5z" color="#f6e028"/>
<path d="M412.3 234.1l-3.5 1.4-0.6 0.8 3.5-1.6z" color="#f7dc2a"/>
<path d="M408.8 235.5l-3.6 1.5-0.6 0.9 3.6-1.6z" color="#f9d72c"/>
<path d="M405.2 237l-3.5 1.5-0.6 1.1 3.5-1.7z" color="#fbd22f"/>
<path d="M401.7 238.5l-3.6 1.5-0.6 1.2 3.6-1.6z" color="#fdcd32"/>
<path d="M398.1 240l-3.5 1.5-0.6 1.4 3.5-1.7z" color="#fec835"/>
<path d="M394.6 241.5l-3.6 1.6-0.6 1.6 3.6-1.8z" color="#fec339"/>
<path d="M391 243.1l-3.5 1.6-0.6 1.8 3.5-1.8z" color="#febe3c"/>
<path d="M387.5 244.7l-3.6 1.6-0.6 2 3.6-1.8z" color="#f8ba3d"/>
<path d="M383.9 246.3l-3.5 1.7-0.6 2.1 3.5-1.8z" color="#f1ba36"/>
<path d="M380.4 248l-3.6 1.7-0.6 2.3 3.6-1.9z" color="#e8bb2e"/>
<path d="M376.8 249.7l-3.5 1.7-0.6 2.4 3.5-1.8z" color="#debd29"/>
<path d="M373.3 251.4l-3.6 1.7-0.6 2.7 3.6-2z" color="#d3bf27"/>
<path d="M369.7 253.1l-3.5 1.8-0.7 2.8 3.6-1.9z" color="#c6c22a"/>
<path d="M366.2 254.9l-3.6 1.7-0.6 3.1 3.5-2z" color="#b9c431"/>
<path d="M362.6 256.6l-3.5 1.8-0.7 3.3 3.6-2z" color="#aac73a"/>
<path d="M359.1 258.4l-3.6 1.8-0.6 3.5 3.5-2z" color="#9ac945"/>
<path d="M355.5 260.2l-3.5 1.9-0.7 3.6 3.6-2z" color="#8acb52"/>
<path d="M352 262.1l-3.6 1.8-0.6 3.9 3.5-2.1z" color="#79cc5e"/>
<path d="M348.4 263.9l-3.6 1.9-0.6 4.1 3.6-2.1z" color="#68cd6c"/>
<path d="M344.8 265.8l-3.5 1.9-0.6 4.3 3.5-2.1z" color="#58cc79"/>
<path d="M341.3 267.7l-3.6 1.9-0.6 4.5 3.6-2.1z" color="#49cb86"/>
<path d="M337.7 269.6l-3.5 1.9-0.6 4.8 3.5-2.2z" color="#3cc991"/>
<path d="M334.2 271.5l-3.6 2-0.6 5 3.6-2.2z" color="#33c79c"/>
<path d="M330.6 273.5l-3.5 1.9-0.6 5.3 3.5-2.2z" color="#2cc4a7"/>
<path d="M327.1 275.4l-3.6 2-0.6 5.5 3.6-2.2z" color="#21c1b0"/>
<path d="M323.5 277.4l-3.5 2-0.6 5.8 3.5-2.3z" color="#11beb9"/>
<path d="M320 279.4l-3.6 2-0.6 6 3.6-2.2z" color="#03bbc3"/>
<path d="M316.4 281.4l-3.5 2.1-0.6 6.2 3.5-2.3z" color="#03b7cc"/>
<path d="M312.9 283.5l-3.6 2-0.6 6.5 3.6-2.3z" color="#0eb2d4"/>
<path d="M309.3 285.5l-3.5 2.1-0.6 6.7 3.5-2.3z" color="#18addb"/>
<path d="M448.5 222.3l-3.6 0.8-0.6-0.1 3.6-0.9z" color="#fdfd12"/>
<path d="M444.9 223.1l-3.5 1-0.6-0.1 3.5-1z" color="#fcfb13"/>
<path d="M441.4 224.1l-3.6 1-0.6 0 3.6-1.1z" color="#fbfa15"/>
<path d="M437.8 225.1l-3.5 1.1-0.6 0 3.5-1.1z" color="#f9f717"/>
<path d="M434.3 226.2l-3.6 1.1-0.6 0.1 3.6-1.2z" color="#f8f51a"/>
<path d="M430.7 227.3l-3.5 1.1-0.6 0.3 3.5-1.3z" color="#f7f21d"/>
<path d="M427.2 228.4l-3.6 1.2-0.6 0.4 3.6-1.3z" color="#f5ef20"/>
<path d="M423.6 229.6l-3.5 1.2-0.6 0.5 3.5-1.3z" color="#f5ec22"/>
<path d="M420.1 230.8l-3.6 1.3-0.6 0.6 3.6-1.4z" color="#f5e924"/>
<path d="M416.5 232.1l-3.5 1.3-0.7 0.7 3.6-1.4z" color="#f5e526"/>
<path d="M413 233.4l-3.6 1.3-0.6 0.8 3.5-1.4z" color="#f5e228"/>
<path d="M409.4 234.7l-3.5 1.3-0.7 1 3.6-1.5z" color="#f6de29"/>
<path d="M405.9 236l-3.6 1.3-0.6 1.2 3.5-1.5z" color="#f8da2b"/>
<path d="M402.3 237.3l-3.5 1.4-0.7 1.3 3.6-1.5z" color="#fad52d"/>
<path d="M398.8 238.7l-3.6 1.4-0.6 1.4 3.5-1.5z" color="#fcd12f"/>
<path d="M395.2 240.1l-3.5 1.4-0.7 1.6 3.6-1.6z" color="#fdcd32"/>
<path d="M391.7 241.5l-3.6 1.4-0.6 1.8 3.5-1.6z" color="#fec835"/>
<path d="M388.1 242.9l-3.5 1.5-0.7 1.9 3.6-1.6z" color="#fec438"/>
<path d="M384.6 244.4l-3.6 1.5-0.6 2.1 3.5-1.7z" color="#febf3b"/>
<path d="M381 245.9l-3.6 1.5-0.6 2.3 3.6-1.7z" color="#fbbc3d"/>
<path d="M377.4 247.4l-3.5 1.5-0.6 2.5 3.5-1.7z" color="#f5ba3a"/>
<path d="M373.9 248.9l-3.6 1.5-0.6 2.7 3.6-1.7z" color="#eeba34"/>
<path d="M370.3 250.4l-3.5 1.6-0.6 2.9 3.5-1.8z" color="#e6bb2d"/>
<path d="M366.8 252l-3.6 1.5-0.6 3.1 3.6-1.7z" color="#ddbd29"/>
<path d="M363.2 253.5l-3.5 1.6-0.6 3.3 3.5-1.8z" color="#d3bf27"/>
<path d="M359.7 255.1l-3.6 1.6-0.6 3.5 3.6-1.8z" color="#c8c129"/>
<path d="M356.1 256.7l-3.5 1.6-0.6 3.8 3.5-1.9z" color="#bdc32e"/>
<path d="M352.6 258.3l-3.6 1.7-0.6 3.9 3.6-1.8z" color="#b0c636"/>
<path d="M349 260l-3.5 1.6-0.7 4.2 3.6-1.9z" color="#a3c83f"/>
<path d="M345.5 261.6l-3.6 1.7-0.6 4.4 3.5-1.9z" color="#95ca49"/>
<path d="M341.9 263.3l-3.5 1.6-0.7 4.7 3.6-1.9z" color="#87cb54"/>
<path d="M338.4 264.9l-3.6 1.7-0.6 4.9 3.5-1.9z" color="#78cc5f"/>
<path d="M334.8 266.6l-3.5 1.7-0.7 5.2 3.6-2z" color="#69cd6b"/>
<path d="M331.3 268.3l-3.6 1.8-0.6 5.3 3.5-1.9z" color="#5bcc77"/>
<path d="M327.7 270.1l-3.5 1.7-0.7 5.6 3.6-2z" color="#4dcc82"/>
<path d="M324.2 271.8l-3.6 1.8-0.6 5.8 3.5-2z" color="#41ca8c"/>
<path d="M320.6 273.6l-3.5 1.7-0.7 6.1 3.6-2z" color="#38c897"/>
<path d="M317.1 275.3l-3.6 1.8-0.6 6.4 3.5-2.1z" color="#31c6a0"/>
<path d="M313.5 277.1l-3.5 1.8-0.7 6.6 3.6-2z" color="#2ac3a9"/>
<path d="M310 278.9l-3.6 1.8-0.6 6.9 3.5-2.1z" color="#20c1b1"/>
<path d="M449.1 222.4l-3.5 0.9-0.7-0.2 3.6-0.8z" color="#fdfd12"/>
<path d="M445.6 223.3l-3.6 0.9-0.6-0.1 3.5-1z" color="#fcfc13"/>
<path d="M442 224.2l-3.5 1-0.7-0.1 3.6-1z" color="#fbfa14"/>
<path d="M438.5 225.2l-3.6 0.9-0.6 0.1 3.5-1.1z" color="#faf916"/>
<path d="M434.9 226.1l-3.5 1.1-0.7 0.1 3.6-1.1z" color="#f9f718"/>
<path d="M431.4 227.2l-3.6 1-0.6 0.2 3.5-1.1z" color="#f8f41a"/>
<path d="M427.8 228.2l-3.6 1.1-0.6 0.3 3.6-1.2z" color="#f7f21d"/>
<path d="M424.2 229.3l-3.5 1.1-0.6 0.4 3.5-1.2z" color="#f6ef20"/>
<path d="M420.7 230.4l-3.6 1.1-0.6 0.6 3.6-1.3z" color="#f5ed22"/>
<path d="M417.1 231.5l-3.5 1.2-0.6 0.7 3.5-1.3z" color="#f5ea23"/>
<path d="M413.6 232.7l-3.6 1.1-0.6 0.9 3.6-1.3z" color="#f5e725"/>
<path d="M410 233.8l-3.5 1.2-0.6 1 3.5-1.3z" color="#f5e426"/>
<path d="M406.5 235l-3.6 1.2-0.6 1.1 3.6-1.3z" color="#f5e128"/>
<path d="M402.9 236.2l-3.5 1.2-0.6 1.3 3.5-1.4z" color="#f6de29"/>
<path d="M399.4 237.4l-3.6 1.3-0.6 1.4 3.6-1.4z" color="#f7db2b"/>
<path d="M395.8 238.7l-3.5 1.2-0.6 1.6 3.5-1.4z" color="#f9d72c"/>
<path d="M392.3 239.9l-3.6 1.3-0.6 1.7 3.6-1.4z" color="#fbd32e"/>
<path d="M388.7 241.2l-3.5 1.3-0.6 1.9 3.5-1.5z" color="#fcd030"/>
<path d="M385.2 242.5l-3.6 1.3-0.6 2.1 3.6-1.5z" color="#fdcc32"/>
<path d="M381.6 243.8l-3.5 1.3-0.7 2.3 3.6-1.5z" color="#fec835"/>
<path d="M378.1 245.1l-3.6 1.3-0.6 2.5 3.5-1.5z" color="#fec437"/>
<path d="M374.5 246.4l-3.5 1.4-0.7 2.6 3.6-1.5z" color="#fec03a"/>
<path d="M371 247.8l-3.6 1.3-0.6 2.9 3.5-1.6z" color="#fdbd3d"/>
<path d="M367.4 249.1l-3.5 1.4-0.7 3 3.6-1.5z" color="#f9bb3d"/>
<path d="M363.9 250.5l-3.6 1.4-0.6 3.2 3.5-1.6z" color="#f3ba39"/>
<path d="M360.3 251.9l-3.6 1.4-0.6 3.4 3.6-1.6z" color="#edba33"/>
<path d="M356.7 253.3l-3.5 1.4-0.6 3.6 3.5-1.6z" color="#e7bb2d"/>
<path d="M353.2 254.7l-3.6 1.4-0.6 3.9 3.6-1.7z" color="#dfbc2a"/>
<path d="M349.6 256.1l-3.5 1.4-0.6 4.1 3.5-1.6z" color="#d7be28"/>
<path d="M346.1 257.5l-3.6 1.4-0.6 4.4 3.6-1.7z" color="#cec028"/>
<path d="M342.5 258.9l-3.5 1.5-0.6 4.5 3.5-1.6z" color="#c5c22a"/>
<path d="M339 260.4l-3.6 1.5-0.6 4.7 3.6-1.7z" color="#bbc430"/>
<path d="M335.4 261.9l-3.5 1.4-0.6 5 3.5-1.7z" color="#b0c636"/>
<path d="M331.9 263.3l-3.6 1.5-0.6 5.3 3.6-1.8z" color="#a5c83d"/>
<path d="M328.3 264.8l-3.5 1.5-0.6 5.5 3.5-1.7z" color="#99c946"/>
<path d="M324.8 266.3l-3.6 1.5-0.6 5.8 3.6-1.8z" color="#8dcb4f"/>
<path d="M321.2 267.8l-3.5 1.5-0.6 6 3.5-1.7z" color="#81cc59"/>
<path d="M317.7 269.3l-3.6 1.6-0.6 6.2 3.6-1.8z" color="#74cc62"/>
<path d="M314.1 270.9l-3.5 1.5-0.6 6.5 3.5-1.8z" color="#67cd6c"/>
<path d="M310.6 272.4l-3.6 1.5-0.6 6.8 3.6-1.8z" color="#5ccc76"/>
<path d="M449.7 222.6l-3.5 0.8-0.6-0.1 3.5-0.9z" color="#fdfd12"/>
<path d="M446.2 223.4l-3.6 0.9-0.6-0.1 3.6-0.9z" color="#fcfc13"/>
<path d="M442.6 224.3l-3.5 0.9-0.6 0 3.5-1z" color="#fcfb14"/>
<path d="M439.1 225.2l-3.6 0.9-0.6 0 3.6-0.9z" color="#fbfa15"/>
<path d="M435.5 226.1l-3.5 0.9-0.6 0.2 3.5-1.1z" color="#faf816"/>
<path d="M432 227l-3.6 1-0.6 0.2 3.6-1z" color="#f9f717"/>
<path d="M428.4 228l-3.5 1-0.7 0.3 3.6-1.1z" color="#f8f519"/>
<path d="M424.9 229l-3.6 1-0.6 0.4 3.5-1.1z" color="#f7f31c"/>
<path d="M421.3 230l-3.5 1-0.7 0.5 3.6-1.1z" color="#f6f11e"/>
<path d="M417.8 231l-3.6 1-0.6 0.7 3.5-1.2z" color="#f6ef20"/>
<path d="M414.2 232l-3.5 1-0.7 0.8 3.6-1.1z" color="#f5ed22"/>
<path d="M410.7 233l-3.6 1.1-0.6 0.9 3.5-1.2z" color="#f5eb23"/>
<path d="M407.1 234.1l-3.6 1-0.6 1.1 3.6-1.2z" color="#f5e924"/>
<path d="M403.5 235.1l-3.5 1.1-0.6 1.2 3.5-1.2z" color="#f5e625"/>
<path d="M400 236.2l-3.6 1.1-0.6 1.4 3.6-1.3z" color="#f5e427"/>
<path d="M396.4 237.3l-3.5 1.1-0.6 1.5 3.5-1.2z" color="#f5e228"/>
<path d="M392.9 238.4l-3.6 1.1-0.6 1.7 3.6-1.3z" color="#f6df29"/>
<path d="M389.3 239.5l-3.5 1.1-0.6 1.9 3.5-1.3z" color="#f7dc2a"/>
<path d="M385.8 240.6l-3.6 1.1-0.6 2.1 3.6-1.3z" color="#f8d92b"/>
<path d="M382.2 241.7l-3.5 1.1-0.6 2.3 3.5-1.3z" color="#f9d72d"/>
<path d="M378.7 242.8l-3.6 1.2-0.6 2.4 3.6-1.3z" color="#fad42e"/>
<path d="M375.1 244l-3.5 1.1-0.6 2.7 3.5-1.4z" color="#fcd130"/>
<path d="M371.6 245.1l-3.6 1.2-0.6 2.8 3.6-1.3z" color="#fdce31"/>
<path d="M368 246.3l-3.5 1.1-0.6 3.1 3.5-1.4z" color="#fdcb33"/>
<path d="M364.5 247.4l-3.6 1.2-0.6 3.3 3.6-1.4z" color="#fec735"/>
<path d="M360.9 248.6l-3.5 1.2-0.7 3.5 3.6-1.4z" color="#fec437"/>
<path d="M357.4 249.8l-3.6 1.2-0.6 3.7 3.5-1.4z" color="#fec13a"/>
<path d="M353.8 251l-3.5 1.2-0.7 3.9 3.6-1.4z" color="#febe3c"/>
<path d="M350.3 252.2l-3.6 1.2-0.6 4.1 3.5-1.4z" color="#fbbc3d"/>
<path d="M346.7 253.4l-3.5 1.2-0.7 4.3 3.6-1.4z" color="#f8ba3d"/>
<path d="M343.2 254.6l-3.6 1.2-0.6 4.6 3.5-1.5z" color="#f4ba39"/>
<path d="M339.6 255.8l-3.6 1.3-0.6 4.8 3.6-1.5z" color="#efba35"/>
<path d="M336 257.1l-3.5 1.2-0.6 5 3.5-1.4z" color="#e9bb30"/>
<path d="M332.5 258.3l-3.6 1.3-0.6 5.2 3.6-1.5z" color="#e4bb2c"/>
<path d="M328.9 259.6l-3.5 1.2-0.6 5.5 3.5-1.5z" color="#debd29"/>
<path d="M325.4 260.8l-3.6 1.3-0.6 5.7 3.6-1.5z" color="#d7be28"/>
<path d="M321.8 262.1l-3.5 1.2-0.6 6 3.5-1.5z" color="#d0bf27"/>
<path d="M318.3 263.3l-3.6 1.3-0.6 6.3 3.6-1.6z" color="#c9c129"/>
<path d="M314.7 264.6l-3.5 1.3-0.6 6.5 3.5-1.5z" color="#c1c32c"/>
<path d="M311.2 265.9l-3.6 1.3-0.6 6.7 3.6-1.5z" color="#b9c431"/>
<path d="M450.3 222.8l-3.5 0.8-0.6-0.2 3.5-0.8z" color="#fdfd12"/>
<path d="M446.8 223.6l-3.6 0.8-0.6-0.1 3.6-0.9z" color="#fdfc12"/>
<path d="M443.2 224.4l-3.5 0.8-0.6 0 3.5-0.9z" color="#fcfc13"/>
<path d="M439.7 225.2l-3.6 0.9-0.6 0 3.6-0.9z" color="#fcfb14"/>
<path d="M436.1 226.1l-3.5 0.8-0.6 0.1 3.5-0.9z" color="#fbfa14"/>
<path d="M432.6 226.9l-3.6 0.9-0.6 0.2 3.6-1z" color="#fbf915"/>
<path d="M429 227.8l-3.5 0.8-0.6 0.4 3.5-1z" color="#faf816"/>
<path d="M425.5 228.6l-3.6 0.9-0.6 0.5 3.6-1z" color="#f9f717"/>
<path d="M421.9 229.5l-3.5 0.9-0.6 0.6 3.5-1z" color="#f9f618"/>
<path d="M418.4 230.4l-3.6 0.9-0.6 0.7 3.6-1z" color="#f8f51a"/>
<path d="M414.8 231.3l-3.5 0.9-0.6 0.8 3.5-1z" color="#f7f31c"/>
<path d="M411.3 232.2l-3.6 0.9-0.6 1 3.6-1.1z" color="#f7f21d"/>
<path d="M407.7 233.1l-3.5 0.9-0.7 1.1 3.6-1z" color="#f6f01f"/>
<path d="M404.2 234l-3.6 0.9-0.6 1.3 3.5-1.1z" color="#f5ef21"/>
<path d="M400.6 234.9l-3.5 0.9-0.7 1.5 3.6-1.1z" color="#f5ed21"/>
<path d="M397.1 235.8l-3.6 1-0.6 1.6 3.5-1.1z" color="#f5ec22"/>
<path d="M393.5 236.8l-3.5 0.9-0.7 1.8 3.6-1.1z" color="#f5ea23"/>
<path d="M390 237.7l-3.6 1-0.6 1.9 3.5-1.1z" color="#f5e924"/>
<path d="M386.4 238.7l-3.6 0.9-0.6 2.1 3.6-1.1z" color="#f5e725"/>
<path d="M382.8 239.6l-3.5 0.9-0.6 2.3 3.5-1.1z" color="#f5e526"/>
<path d="M379.3 240.5l-3.6 1-0.6 2.5 3.6-1.2z" color="#f5e427"/>
<path d="M375.7 241.5l-3.5 1-0.6 2.6 3.5-1.1z" color="#f5e228"/>
<path d="M372.2 242.5l-3.6 0.9-0.6 2.9 3.6-1.2z" color="#f6e028"/>
<path d="M368.6 243.4l-3.5 1-0.6 3 3.5-1.1z" color="#f6de29"/>
<path d="M365.1 244.4l-3.6 1-0.6 3.2 3.6-1.2z" color="#f7dc2a"/>
<path d="M361.5 245.4l-3.5 0.9-0.6 3.5 3.5-1.2z" color="#f8da2b"/>
<path d="M358 246.3l-3.6 1-0.6 3.7 3.6-1.2z" color="#f9d82c"/>
<path d="M354.4 247.3l-3.5 1-0.6 3.9 3.5-1.2z" color="#fad62d"/>
<path d="M350.9 248.3l-3.6 1-0.6 4.1 3.6-1.2z" color="#fad42e"/>
<path d="M347.3 249.3l-3.5 1-0.6 4.3 3.5-1.2z" color="#fbd22f"/>
<path d="M343.8 250.3l-3.6 1-0.6 4.5 3.6-1.2z" color="#fccf30"/>
<path d="M340.2 251.3l-3.5 1-0.7 4.8 3.6-1.3z" color="#fdcd31"/>
<path d="M336.7 252.3l-3.6 1-0.6 5 3.5-1.2z" color="#fdcb33"/>
<path d="M333.1 253.3l-3.5 1-0.7 5.3 3.6-1.3z" color="#fec934"/>
<path d="M329.6 254.3l-3.6 1-0.6 5.5 3.5-1.2z" color="#fec736"/>
<path d="M326 255.3l-3.5 1-0.7 5.8 3.6-1.3z" color="#fec437"/>
<path d="M322.5 256.3l-3.6 1.1-0.6 5.9 3.5-1.2z" color="#fec239"/>
<path d="M318.9 257.4l-3.6 1-0.6 6.2 3.6-1.3z" color="#fec03b"/>
<path d="M315.3 258.4l-3.5 1-0.6 6.5 3.5-1.3z" color="#febe3c"/>
<path d="M311.8 259.4l-3.6 1-0.6 6.8 3.6-1.3z" color="#fcbc3d"/>
<path d="M451 223l-3.6 0.7-0.6-0.1 3.5-0.8z" color="#fdfd12"/>
<path d="M447.4 223.7l-3.5 0.8-0.7-0.1 3.6-0.8z" color="#fdfd12"/>
<path d="M443.9 224.5l-3.6 0.8-0.6-0.1 3.5-0.8z" color="#fdfd12"/>
<path d="M440.3 225.3l-3.5 0.7-0.7 0.1 3.6-0.9z" color="#fdfc12"/>
<path d="M436.8 226l-3.6 0.8-0.6 0.1 3.5-0.8z" color="#fcfc13"/>
<path d="M433.2 226.8l-3.6 0.7-0.6 0.3 3.6-0.9z" color="#fcfc13"/>
<path d="M429.6 227.5l-3.5 0.8-0.6 0.3 3.5-0.8z" color="#fcfb13"/>
<path d="M426.1 228.3l-3.6 0.8-0.6 0.4 3.6-0.9z" color="#fcfb14"/>
<path d="M422.5 229.1l-3.5 0.7-0.6 0.6 3.5-0.9z" color="#fbfa14"/>
<path d="M419 229.8l-3.6 0.8-0.6 0.7 3.6-0.9z" color="#fbfa15"/>
<path d="M415.4 230.6l-3.5 0.8-0.6 0.8 3.5-0.9z" color="#fbf915"/>
<path d="M411.9 231.4l-3.6 0.7-0.6 1 3.6-0.9z" color="#faf916"/>
<path d="M408.3 232.1l-3.5 0.8-0.6 1.1 3.5-0.9z" color="#faf816"/>
<path d="M404.8 232.9l-3.6 0.8-0.6 1.2 3.6-0.9z" color="#faf817"/>
<path d="M401.2 233.7l-3.5 0.7-0.6 1.4 3.5-0.9z" color="#f9f717"/>
<path d="M397.7 234.4l-3.6 0.8-0.6 1.6 3.6-1z" color="#f9f718"/>
<path d="M394.1 235.2l-3.5 0.8-0.6 1.7 3.5-0.9z" color="#f9f618"/>
<path d="M390.6 236l-3.6 0.7-0.6 2 3.6-1z" color="#f8f519"/>
<path d="M387 236.7l-3.5 0.8-0.7 2.1 3.6-0.9z" color="#f8f51a"/>
<path d="M383.5 237.5l-3.6 0.8-0.6 2.2 3.5-0.9z" color="#f8f41b"/>
<path d="M379.9 238.3l-3.5 0.7-0.7 2.5 3.6-1z" color="#f7f31b"/>
<path d="M376.4 239l-3.6 0.8-0.6 2.7 3.5-1z" color="#f7f31c"/>
<path d="M372.8 239.8l-3.5 0.8-0.7 2.8 3.6-0.9z" color="#f7f21d"/>
<path d="M369.3 240.6l-3.6 0.7-0.6 3.1 3.5-1z" color="#f6f11e"/>
<path d="M365.7 241.3l-3.6 0.8-0.6 3.3 3.6-1z" color="#f6f01f"/>
<path d="M362.1 242.1l-3.5 0.8-0.6 3.4 3.5-0.9z" color="#f6f020"/>
<path d="M358.6 242.9l-3.6 0.8-0.6 3.6 3.6-1z" color="#f5ef20"/>
<path d="M355 243.7l-3.5 0.7-0.6 3.9 3.5-1z" color="#f5ee21"/>
<path d="M351.5 244.4l-3.6 0.8-0.6 4.1 3.6-1z" color="#f5ed21"/>
<path d="M347.9 245.2l-3.5 0.8-0.6 4.3 3.5-1z" color="#f5ed22"/>
<path d="M344.4 246l-3.6 0.7-0.6 4.6 3.6-1z" color="#f5ec22"/>
<path d="M340.8 246.7l-3.5 0.8-0.6 4.8 3.5-1z" color="#f5eb23"/>
<path d="M337.3 247.5l-3.6 0.8-0.6 5 3.6-1z" color="#f5ea23"/>
<path d="M333.7 248.3l-3.5 0.8-0.6 5.2 3.5-1z" color="#f5ea24"/>
<path d="M330.2 249.1l-3.6 0.7-0.6 5.5 3.6-1z" color="#f5e924"/>
<path d="M326.6 249.8l-3.5 0.8-0.6 5.7 3.5-1z" color="#f5e825"/>
<path d="M323.1 250.6l-3.6 0.8-0.6 6 3.6-1.1z" color="#f5e725"/>
<path d="M319.5 251.4l-3.5 0.7-0.7 6.3 3.6-1z" color="#f5e626"/>
<path d="M316 252.1l-3.6 0.8-0.6 6.5 3.5-1z" color="#f5e526"/>
<path d="M312.4 252.9l-3.5 0.8-0.7 6.7 3.6-1z" color="#f5e526"/>
<path d="M451.4 223.1l-7.1 1.5-0.4-0.1 7.1-1.5z" color="#fdfd12"/>
<path d="M444.3 224.6l-7.1 1.6-0.4-0.2 7.1-1.5z" color="#fdfd12"/>
<path d="M437.2 226.2l-7.1 1.5-0.5-0.2 7.2-1.5z" color="#fdfd12"/>
<path d="M430.1 227.7l-7.1 1.5-0.5-0.1 7.1-1.6z" color="#fdfd12"/>
<path d="M423 229.2l-7.1 1.6-0.5-0.2 7.1-1.5z" color="#fdfd12"/>
<path d="M415.9 230.8l-7.1 1.5-0.5-0.2 7.1-1.5z" color="#fdfc12"/>
<path d="M408.8 232.3l-7.1 1.6-0.5-0.2 7.1-1.6z" color="#fdfc12"/>
<path d="M401.7 233.9l-7.1 1.5-0.5-0.2 7.1-1.5z" color="#fcfc13"/>
<path d="M394.6 235.4l-7.1 1.6-0.5-0.3 7.1-1.5z" color="#fcfc13"/>
<path d="M387.5 237l-7.1 1.5-0.5-0.2 7.1-1.6z" color="#fcfc13"/>
<path d="M380.4 238.5l-7.1 1.5-0.5-0.2 7.1-1.5z" color="#fcfc13"/>
<path d="M373.3 240l-7.1 1.6-0.5-0.3 7.1-1.5z" color="#fcfb13"/>
<path d="M366.2 241.6l-7.1 1.6-0.5-0.3 7.1-1.6z" color="#fcfb13"/>
<path d="M359.1 243.2l-7.1 1.5-0.5-0.3 7.1-1.5z" color="#fcfb14"/>
<path d="M352 244.7l-7.1 1.6-0.5-0.3 7.1-1.6z" color="#fcfb14"/>
<path d="M344.9 246.3l-7.1 1.5-0.5-0.3 7.1-1.5z" color="#fbfb14"/>
<path d="M337.8 247.8l-7.1 1.6-0.5-0.3 7.1-1.6z" color="#fbfa14"/>
<path d="M330.7 249.4l-7.1 1.5-0.5-0.3 7.1-1.5z" color="#fbfa15"/>
<path d="M323.6 250.9l-7.2 1.6-0.4-0.4 7.1-1.5z" color="#fbfa15"/>
<path d="M316.4 252.5l-7.1 1.6-0.4-0.4 7.1-1.6z" color="#fbfa15"/>
<path d="M452 223.3l-7.1 1.5-0.6-0.2 7.1-1.5z" color="#fdfd12"/>
<path d="M444.9 224.8l-7.1 1.6-0.6-0.2 7.1-1.6z" color="#fdfd12"/>
<path d="M437.8 226.4l-7.1 1.5-0.6-0.2 7.1-1.5z" color="#fdfd12"/>
<path d="M430.7 227.9l-7.1 1.5-0.6-0.2 7.1-1.5z" color="#fdfd12"/>
<path d="M423.6 229.4l-7.1 1.6-0.6-0.2 7.1-1.6z" color="#fdfc12"/>
<path d="M416.5 231l-7.1 1.5-0.6-0.2 7.1-1.5z" color="#fcfc13"/>
<path d="M409.4 232.5l-7.1 1.6-0.6-0.2 7.1-1.6z" color="#fcfc13"/>
<path d="M402.3 234.1l-7.1 1.6-0.6-0.3 7.1-1.5z" color="#fcfc13"/>
<path d="M395.2 235.7l-7.1 1.5-0.6-0.2 7.1-1.6z" color="#fcfb13"/>
<path d="M388.1 237.2l-7.1 1.6-0.6-0.3 7.1-1.5z" color="#fcfb13"/>
<path d="M381 238.8l-7.1 1.5-0.6-0.3 7.1-1.5z" color="#fcfb14"/>
<path d="M373.9 240.3l-7.1 1.6-0.6-0.3 7.1-1.6z" color="#fbfb14"/>
<path d="M366.8 241.9l-7.1 1.6-0.6-0.3 7.1-1.6z" color="#fbfa14"/>
<path d="M359.7 243.5l-7.1 1.6-0.6-0.4 7.1-1.5z" color="#fbfa15"/>
<path d="M352.6 245.1l-7.1 1.5-0.6-0.3 7.1-1.6z" color="#fbfa15"/>
<path d="M345.5 246.6l-7.1 1.6-0.6-0.4 7.1-1.5z" color="#fbf915"/>
<path d="M338.4 248.2l-7.1 1.6-0.6-0.4 7.1-1.6z" color="#faf916"/>
<path d="M331.3 249.8l-7.1 1.6-0.6-0.5 7.1-1.5z" color="#faf916"/>
<path d="M324.2 251.4l-7.1 1.6-0.7-0.5 7.2-1.6z" color="#faf816"/>
<path d="M317.1 253l-7.2 1.5-0.6-0.4 7.1-1.6z" color="#faf817"/>
<path d="M452.6 223.5l-7.1 1.5-0.6-0.2 7.1-1.5z" color="#fdfd12"/>
<path d="M445.5 225l-7.1 1.5-0.6-0.1 7.1-1.6z" color="#fdfd12"/>
<path d="M438.4 226.5l-7.1 1.6-0.6-0.2 7.1-1.5z" color="#fdfd12"/>
<path d="M431.3 228.1l-7.1 1.5-0.6-0.2 7.1-1.5z" color="#fdfc12"/>
<path d="M424.2 229.6l-7.1 1.6-0.6-0.2 7.1-1.6z" color="#fcfc13"/>
<path d="M417.1 231.2l-7.1 1.6-0.6-0.3 7.1-1.5z" color="#fcfc13"/>
<path d="M410 232.8l-7.1 1.5-0.6-0.2 7.1-1.6z" color="#fcfc13"/>
<path d="M402.9 234.3l-7.1 1.6-0.6-0.2 7.1-1.6z" color="#fcfb13"/>
<path d="M395.8 235.9l-7.1 1.6-0.6-0.3 7.1-1.5z" color="#fcfb14"/>
<path d="M388.7 237.5l-7.1 1.6-0.6-0.3 7.1-1.6z" color="#fbfb14"/>
<path d="M381.6 239.1l-7.1 1.5-0.6-0.3 7.1-1.5z" color="#fbfa14"/>
<path d="M374.5 240.6l-7.1 1.6-0.6-0.3 7.1-1.6z" color="#fbfa15"/>
<path d="M367.4 242.2l-7.1 1.6-0.6-0.3 7.1-1.6z" color="#fbf915"/>
<path d="M360.3 243.8l-7.1 1.6-0.6-0.3 7.1-1.6z" color="#faf916"/>
<path d="M353.2 245.4l-7.1 1.6-0.6-0.4 7.1-1.5z" color="#faf816"/>
<path d="M346.1 247l-7.1 1.6-0.6-0.4 7.1-1.6z" color="#faf817"/>
<path d="M339 248.6l-7.1 1.6-0.6-0.4 7.1-1.6z" color="#f9f717"/>
<path d="M331.9 250.2l-7.1 1.6-0.6-0.4 7.1-1.6z" color="#f9f717"/>
<path d="M324.8 251.8l-7.1 1.6-0.6-0.4 7.1-1.6z" color="#f9f618"/>
<path d="M317.7 253.4l-7.2 1.6-0.6-0.5 7.2-1.5z" color="#f9f618"/>
<path d="M453.3 223.6l-7.2 1.6-0.6-0.2 7.1-1.5z" color="#fdfd12"/>
<path d="M446.1 225.2l-7.1 1.5-0.6-0.2 7.1-1.5z" color="#fdfd12"/>
<path d="M439 226.7l-7.1 1.6-0.6-0.2 7.1-1.6z" color="#fdfd12"/>
<path d="M431.9 228.3l-7.1 1.5-0.6-0.2 7.1-1.5z" color="#fdfc12"/>
<path d="M424.8 229.8l-7.1 1.6-0.6-0.2 7.1-1.6z" color="#fcfc13"/>
<path d="M417.7 231.4l-7.1 1.6-0.6-0.2 7.1-1.6z" color="#fcfc13"/>
<path d="M410.6 233l-7.1 1.6-0.6-0.3 7.1-1.5z" color="#fcfb13"/>
<path d="M403.5 234.6l-7.1 1.6-0.6-0.3 7.1-1.6z" color="#fcfb14"/>
<path d="M396.4 236.2l-7.1 1.6-0.6-0.3 7.1-1.6z" color="#fbfa14"/>
<path d="M389.3 237.8l-7.1 1.5-0.6-0.2 7.1-1.6z" color="#fbfa15"/>
<path d="M382.2 239.3l-7.1 1.6-0.6-0.3 7.1-1.5z" color="#fbf915"/>
<path d="M375.1 240.9l-7.1 1.6-0.6-0.3 7.1-1.6z" color="#faf916"/>
<path d="M368 242.5l-7.1 1.7-0.6-0.4 7.1-1.6z" color="#faf816"/>
<path d="M360.9 244.2l-7.1 1.6-0.6-0.4 7.1-1.6z" color="#faf817"/>
<path d="M353.8 245.8l-7.1 1.6-0.6-0.4 7.1-1.6z" color="#f9f717"/>
<path d="M346.7 247.4l-7.1 1.6-0.6-0.4 7.1-1.6z" color="#f9f718"/>
<path d="M339.6 249l-7.1 1.6-0.6-0.4 7.1-1.6z" color="#f9f618"/>
<path d="M332.5 250.6l-7.1 1.6-0.6-0.4 7.1-1.6z" color="#f8f519"/>
<path d="M325.4 252.2l-7.1 1.7-0.6-0.5 7.1-1.6z" color="#f8f51a"/>
<path d="M318.3 253.9l-7.1 1.6-0.7-0.5 7.2-1.6z" color="#f8f41b"/>
<path d="M453.9 223.8l-7.1 1.6-0.7-0.2 7.2-1.6z" color="#fdfd12"/>
<path d="M446.8 225.4l-7.2 1.5-0.6-0.2 7.1-1.5z" color="#fdfd12"/>
<path d="M439.6 226.9l-7.1 1.6-0.6-0.2 7.1-1.6z" color="#fdfc12"/>
<path d="M432.5 228.5l-7.1 1.6-0.6-0.3 7.1-1.5z" color="#fcfc13"/>
<path d="M425.4 230.1l-7.1 1.6-0.6-0.3 7.1-1.6z" color="#fcfc13"/>
<path d="M418.3 231.7l-7.1 1.6-0.6-0.3 7.1-1.6z" color="#fcfb14"/>
<path d="M411.2 233.3l-7.1 1.6-0.6-0.3 7.1-1.6z" color="#fbfb14"/>
<path d="M404.1 234.9l-7.1 1.6-0.6-0.3 7.1-1.6z" color="#fbfa15"/>
<path d="M397 236.5l-7.1 1.7-0.6-0.4 7.1-1.6z" color="#fbf915"/>
<path d="M389.9 238.2l-7.1 1.6-0.6-0.5 7.1-1.5z" color="#faf916"/>
<path d="M382.8 239.8l-7.1 1.7-0.6-0.6 7.1-1.6z" color="#faf816"/>
<path d="M375.7 241.5l-7.1 1.6-0.6-0.6 7.1-1.6z" color="#f9f717"/>
<path d="M368.6 243.1l-7.1 1.7-0.6-0.6 7.1-1.7z" color="#f9f618"/>
<path d="M361.5 244.8l-7.1 1.6-0.6-0.6 7.1-1.6z" color="#f8f619"/>
<path d="M354.4 246.4l-7.1 1.7-0.6-0.7 7.1-1.6z" color="#f8f51a"/>
<path d="M347.3 248.1l-7.1 1.7-0.6-0.8 7.1-1.6z" color="#f8f41b"/>
<path d="M340.2 249.8l-7.1 1.6-0.6-0.8 7.1-1.6z" color="#f7f31c"/>
<path d="M333.1 251.4l-7.1 1.7-0.6-0.9 7.1-1.6z" color="#f7f21d"/>
<path d="M326 253.1l-7.1 1.7-0.6-0.9 7.1-1.7z" color="#f6f11e"/>
<path d="M318.9 254.8l-7.1 1.7-0.6-1 7.1-1.6z" color="#f6f01f"/>
<path d="M454.5 224l-7.1 1.5-0.6-0.1 7.1-1.6z" color="#fdfd12"/>
<path d="M447.4 225.5l-7.1 1.6-0.7-0.2 7.2-1.5z" color="#fdfd12"/>
<path d="M440.3 227.1l-7.2 1.6-0.6-0.2 7.1-1.6z" color="#fcfc13"/>
<path d="M433.1 228.7l-7.1 1.7-0.6-0.3 7.1-1.6z" color="#fcfc13"/>
<path d="M426 230.4l-7.1 1.6-0.6-0.3 7.1-1.6z" color="#fcfb14"/>
<path d="M418.9 232l-7.1 1.6-0.6-0.3 7.1-1.6z" color="#fbfa14"/>
<path d="M411.8 233.6l-7.1 1.7-0.6-0.4 7.1-1.6z" color="#fbf915"/>
<path d="M404.7 235.3l-7.1 1.7-0.6-0.5 7.1-1.6z" color="#faf916"/>
<path d="M397.6 237l-7.1 1.6-0.6-0.4 7.1-1.7z" color="#faf817"/>
<path d="M390.5 238.6l-7.1 1.7-0.6-0.5 7.1-1.6z" color="#f9f718"/>
<path d="M383.4 240.3l-7.1 1.7-0.6-0.5 7.1-1.7z" color="#f8f619"/>
<path d="M376.3 242l-7.1 1.7-0.6-0.6 7.1-1.6z" color="#f8f51a"/>
<path d="M369.2 243.7l-7.1 1.7-0.6-0.6 7.1-1.7z" color="#f7f31b"/>
<path d="M362.1 245.4l-7.1 1.7-0.6-0.7 7.1-1.6z" color="#f7f21d"/>
<path d="M355 247.1l-7.1 1.8-0.6-0.8 7.1-1.7z" color="#f6f11e"/>
<path d="M347.9 248.9l-7.1 1.7-0.6-0.8 7.1-1.7z" color="#f6f01f"/>
<path d="M340.8 250.6l-7.1 1.7-0.6-0.9 7.1-1.6z" color="#f5ef21"/>
<path d="M333.7 252.3l-7.1 1.8-0.6-1 7.1-1.7z" color="#f5ed21"/>
<path d="M326.6 254.1l-7.1 1.7-0.6-1 7.1-1.7z" color="#f5ec22"/>
<path d="M319.5 255.8l-7.1 1.8-0.6-1.1 7.1-1.7z" color="#f5eb23"/>
<path d="M455.1 224.2l-7.1 1.5-0.6-0.2 7.1-1.5z" color="#fdfd12"/>
<path d="M448 225.7l-7.1 1.6-0.6-0.2 7.1-1.6z" color="#fdfc12"/>
<path d="M440.9 227.3l-7.2 1.7-0.6-0.3 7.2-1.6z" color="#fcfc13"/>
<path d="M433.7 229l-7.1 1.6-0.6-0.2 7.1-1.7z" color="#fcfb14"/>
<path d="M426.6 230.6l-7.1 1.7-0.6-0.3 7.1-1.6z" color="#fbfa14"/>
<path d="M419.5 232.3l-7.1 1.7-0.6-0.4 7.1-1.6z" color="#fbf915"/>
<path d="M412.4 234l-7.1 1.7-0.6-0.4 7.1-1.7z" color="#faf816"/>
<path d="M405.3 235.7l-7.1 1.7-0.6-0.4 7.1-1.7z" color="#f9f717"/>
<path d="M398.2 237.4l-7.1 1.7-0.6-0.5 7.1-1.6z" color="#f9f618"/>
<path d="M391.1 239.1l-7.1 1.7-0.6-0.5 7.1-1.7z" color="#f8f51a"/>
<path d="M384 240.8l-7.1 1.8-0.6-0.6 7.1-1.7z" color="#f7f31b"/>
<path d="M376.9 242.6l-7.1 1.7-0.6-0.6 7.1-1.7z" color="#f7f21d"/>
<path d="M369.8 244.3l-7.1 1.8-0.6-0.7 7.1-1.7z" color="#f6f01f"/>
<path d="M362.7 246.1l-7.1 1.8-0.6-0.8 7.1-1.7z" color="#f5ef20"/>
<path d="M355.6 247.9l-7.1 1.8-0.6-0.8 7.1-1.8z" color="#f5ed21"/>
<path d="M348.5 249.7l-7.1 1.8-0.6-0.9 7.1-1.7z" color="#f5ec22"/>
<path d="M341.4 251.5l-7.1 1.8-0.6-1 7.1-1.7z" color="#f5ea23"/>
<path d="M334.3 253.3l-7.1 1.8-0.6-1 7.1-1.8z" color="#f5e924"/>
<path d="M327.2 255.1l-7.1 1.8-0.6-1.1 7.1-1.7z" color="#f5e725"/>
<path d="M320.1 256.9l-7.1 1.8-0.6-1.1 7.1-1.8z" color="#f5e526"/>
<path d="M455.7 224.3l-7.1 1.6-0.6-0.2 7.1-1.5z" color="#fdfd12"/>
<path d="M448.6 225.9l-7.1 1.6-0.6-0.2 7.1-1.6z" color="#fdfc12"/>
<path d="M441.5 227.5l-7.1 1.7-0.7-0.2 7.2-1.7z" color="#fcfc13"/>
<path d="M434.4 229.2l-7.2 1.7-0.6-0.3 7.1-1.6z" color="#fbfb14"/>
<path d="M427.2 230.9l-7.1 1.7-0.6-0.3 7.1-1.7z" color="#fbf915"/>
<path d="M420.1 232.6l-7.1 1.7-0.6-0.3 7.1-1.7z" color="#faf816"/>
<path d="M413 234.3l-7.1 1.8-0.6-0.4 7.1-1.7z" color="#f9f717"/>
<path d="M405.9 236.1l-7.1 1.7-0.6-0.4 7.1-1.7z" color="#f8f519"/>
<path d="M398.8 237.8l-7.1 1.8-0.6-0.5 7.1-1.7z" color="#f8f41b"/>
<path d="M391.7 239.6l-7.1 1.8-0.6-0.6 7.1-1.7z" color="#f7f21d"/>
<path d="M384.6 241.4l-7.1 1.8-0.6-0.6 7.1-1.8z" color="#f6f01f"/>
<path d="M377.5 243.2l-7.1 1.8-0.6-0.7 7.1-1.7z" color="#f5ef20"/>
<path d="M370.4 245l-7.1 1.9-0.6-0.8 7.1-1.8z" color="#f5ed22"/>
<path d="M363.3 246.9l-7.1 1.8-0.6-0.8 7.1-1.8z" color="#f5eb23"/>
<path d="M356.2 248.7l-7.1 1.9-0.6-0.9 7.1-1.8z" color="#f5e924"/>
<path d="M349.1 250.6l-7.1 1.9-0.6-1 7.1-1.8z" color="#f5e825"/>
<path d="M342 252.5l-7.1 1.8-0.6-1 7.1-1.8z" color="#f5e626"/>
<path d="M334.9 254.3l-7.1 1.9-0.6-1.1 7.1-1.8z" color="#f5e427"/>
<path d="M327.8 256.2l-7.1 1.9-0.6-1.2 7.1-1.8z" color="#f5e128"/>
<path d="M320.7 258.1l-7.1 2-0.6-1.4 7.1-1.8z" color="#f6df29"/>
<path d="M456.3 224.5l-7.1 1.6-0.6-0.2 7.1-1.6z" color="#fdfd12"/>
<path d="M449.2 226.1l-7.1 1.7-0.6-0.3 7.1-1.6z" color="#fcfc13"/>
<path d="M442.1 227.8l-7.1 1.7-0.6-0.3 7.1-1.7z" color="#fcfb14"/>
<path d="M435 229.5l-7.1 1.7-0.7-0.3 7.2-1.7z" color="#fbfa15"/>
<path d="M427.9 231.2l-7.2 1.7-0.6-0.3 7.1-1.7z" color="#faf916"/>
<path d="M420.7 232.9l-7.1 1.8-0.6-0.4 7.1-1.7z" color="#f9f717"/>
<path d="M413.6 234.7l-7.1 1.8-0.6-0.4 7.1-1.8z" color="#f8f519"/>
<path d="M406.5 236.5l-7.1 1.8-0.6-0.5 7.1-1.7z" color="#f8f41b"/>
<path d="M399.4 238.3l-7.1 1.9-0.6-0.6 7.1-1.8z" color="#f7f21d"/>
<path d="M392.3 240.2l-7.1 1.8-0.6-0.6 7.1-1.8z" color="#f6f020"/>
<path d="M385.2 242l-7.1 1.9-0.6-0.7 7.1-1.8z" color="#f5ee21"/>
<path d="M378.1 243.9l-7.1 1.9-0.6-0.8 7.1-1.8z" color="#f5ec23"/>
<path d="M371 245.8l-7.1 1.9-0.6-0.8 7.1-1.9z" color="#f5ea24"/>
<path d="M363.9 247.7l-7.1 1.9-0.6-0.9 7.1-1.8z" color="#f5e725"/>
<path d="M356.8 249.6l-7.1 1.9-0.6-0.9 7.1-1.9z" color="#f5e526"/>
<path d="M349.7 251.5l-7.1 2-0.6-1 7.1-1.9z" color="#f5e327"/>
<path d="M342.6 253.5l-7.1 2-0.6-1.2 7.1-1.8z" color="#f6e028"/>
<path d="M335.5 255.5l-7.1 1.9-0.6-1.2 7.1-1.9z" color="#f6de29"/>
<path d="M328.4 257.4l-7.1 2-0.6-1.3 7.1-1.9z" color="#f7db2b"/>
<path d="M321.3 259.4l-7.1 2-0.6-1.3 7.1-2z" color="#f9d82c"/>
<path d="M456.9 224.7l-7.1 1.6-0.6-0.2 7.1-1.6z" color="#fdfd12"/>
<path d="M449.8 226.3l-7.1 1.7-0.6-0.2 7.1-1.7z" color="#fcfc13"/>
<path d="M442.7 228l-7.1 1.7-0.6-0.2 7.1-1.7z" color="#fcfb14"/>
<path d="M435.6 229.7l-7.1 1.8-0.6-0.3 7.1-1.7z" color="#fbf915"/>
<path d="M428.5 231.5l-7.2 1.8-0.6-0.4 7.2-1.7z" color="#faf817"/>
<path d="M421.3 233.3l-7.1 1.8-0.6-0.4 7.1-1.8z" color="#f9f618"/>
<path d="M414.2 235.1l-7.1 1.8-0.6-0.4 7.1-1.8z" color="#f8f41b"/>
<path d="M407.1 236.9l-7.1 1.9-0.6-0.5 7.1-1.8z" color="#f7f21d"/>
<path d="M400 238.8l-7.1 1.9-0.6-0.5 7.1-1.9z" color="#f6ef20"/>
<path d="M392.9 240.7l-7.1 1.9-0.6-0.6 7.1-1.8z" color="#f5ed22"/>
<path d="M385.8 242.6l-7.1 2-0.6-0.7 7.1-1.9z" color="#f5eb23"/>
<path d="M378.7 244.6l-7.1 1.9-0.6-0.7 7.1-1.9z" color="#f5e825"/>
<path d="M371.6 246.5l-7.1 2-0.6-0.8 7.1-1.9z" color="#f5e626"/>
<path d="M364.5 248.5l-7.1 2-0.6-0.9 7.1-1.9z" color="#f5e327"/>
<path d="M357.4 250.5l-7.1 2-0.6-1 7.1-1.9z" color="#f6e028"/>
<path d="M350.3 252.5l-7.1 2-0.6-1 7.1-2z" color="#f6de29"/>
<path d="M343.2 254.5l-7.1 2.1-0.6-1.1 7.1-2z" color="#f8da2b"/>
<path d="M336.1 256.6l-7.1 2.1-0.6-1.3 7.1-1.9z" color="#f9d72c"/>
<path d="M329 258.7l-7.1 2-0.6-1.3 7.1-2z" color="#fad42e"/>
<path d="M321.9 260.7l-7.1 2.1-0.6-1.4 7.1-2z" color="#fcd12f"/>
<path d="M457.5 224.9l-7.1 1.6-0.6-0.2 7.1-1.6z" color="#fdfd12"/>
<path d="M450.4 226.5l-7.1 1.7-0.6-0.2 7.1-1.7z" color="#fcfc13"/>
<path d="M443.3 228.2l-7.1 1.8-0.6-0.3 7.1-1.7z" color="#fbfa14"/>
<path d="M436.2 230l-7.1 1.8-0.6-0.3 7.1-1.8z" color="#faf916"/>
<path d="M429.1 231.8l-7.1 1.8-0.7-0.3 7.2-1.8z" color="#f9f718"/>
<path d="M422 233.6l-7.2 1.9-0.6-0.4 7.1-1.8z" color="#f8f51a"/>
<path d="M414.8 235.5l-7.1 1.9-0.6-0.5 7.1-1.8z" color="#f7f21d"/>
<path d="M407.7 237.4l-7.1 2-0.6-0.6 7.1-1.9z" color="#f6f020"/>
<path d="M400.6 239.4l-7.1 1.9-0.6-0.6 7.1-1.9z" color="#f5ed22"/>
<path d="M393.5 241.3l-7.1 2-0.6-0.7 7.1-1.9z" color="#f5ea23"/>
<path d="M386.4 243.3l-7.1 2-0.6-0.7 7.1-2z" color="#f5e825"/>
<path d="M379.3 245.3l-7.1 2.1-0.6-0.9 7.1-1.9z" color="#f5e526"/>
<path d="M372.2 247.4l-7.1 2.1-0.6-1 7.1-2z" color="#f5e228"/>
<path d="M365.1 249.5l-7.1 2.1-0.6-1.1 7.1-2z" color="#f6df29"/>
<path d="M358 251.6l-7.1 2.1-0.6-1.2 7.1-2z" color="#f7db2a"/>
<path d="M350.9 253.7l-7.1 2.1-0.6-1.3 7.1-2z" color="#f9d82c"/>
<path d="M343.8 255.8l-7.1 2.1-0.6-1.3 7.1-2.1z" color="#fad42e"/>
<path d="M336.7 257.9l-7.1 2.2-0.6-1.4 7.1-2.1z" color="#fcd030"/>
<path d="M329.6 260.1l-7.1 2.2-0.6-1.6 7.1-2z" color="#fdcd32"/>
<path d="M322.5 262.3l-7.1 2.2-0.6-1.7 7.1-2.1z" color="#fec934"/>
<path d="M458.1 225.1l-7.1 1.6-0.6-0.2 7.1-1.6z" color="#fdfd12"/>
<path d="M451 226.7l-7.1 1.7-0.6-0.2 7.1-1.7z" color="#fcfc13"/>
<path d="M443.9 228.4l-7.1 1.8-0.6-0.2 7.1-1.8z" color="#fbfa15"/>
<path d="M436.8 230.2l-7.1 1.9-0.6-0.3 7.1-1.8z" color="#faf816"/>
<path d="M429.7 232.1l-7.1 1.9-0.6-0.4 7.1-1.8z" color="#f8f619"/>
<path d="M422.6 234l-7.1 1.9-0.7-0.4 7.2-1.9z" color="#f7f31c"/>
<path d="M415.5 235.9l-7.2 2-0.6-0.5 7.1-1.9z" color="#f6f01f"/>
<path d="M408.3 237.9l-7.1 2-0.6-0.5 7.1-2z" color="#f5ed21"/>
<path d="M401.2 239.9l-7.1 2.1-0.6-0.7 7.1-1.9z" color="#f5eb23"/>
<path d="M394.1 242l-7.1 2.1-0.6-0.8 7.1-2z" color="#f5e725"/>
<path d="M387 244.1l-7.1 2.1-0.6-0.9 7.1-2z" color="#f5e427"/>
<path d="M379.9 246.2l-7.1 2.1-0.6-0.9 7.1-2.1z" color="#f6e128"/>
<path d="M372.8 248.3l-7.1 2.2-0.6-1 7.1-2.1z" color="#f7dd2a"/>
<path d="M365.7 250.5l-7.1 2.2-0.6-1.1 7.1-2.1z" color="#f8d92b"/>
<path d="M358.6 252.7l-7.1 2.2-0.6-1.2 7.1-2.1z" color="#fad52d"/>
<path d="M351.5 254.9l-7.1 2.2-0.6-1.3 7.1-2.1z" color="#fcd12f"/>
<path d="M344.4 257.1l-7.1 2.3-0.6-1.5 7.1-2.1z" color="#fdcd32"/>
<path d="M337.3 259.4l-7.1 2.2-0.6-1.5 7.1-2.2z" color="#fec934"/>
<path d="M330.2 261.6l-7.1 2.3-0.6-1.6 7.1-2.2z" color="#fec537"/>
<path d="M323.1 263.9l-7.1 2.4-0.6-1.8 7.1-2.2z" color="#fec03a"/>
<path d="M458.7 225.2l-7.1 1.7-0.6-0.2 7.1-1.6z" color="#fdfd12"/>
<path d="M451.6 226.9l-7.1 1.8-0.6-0.3 7.1-1.7z" color="#fcfb13"/>
<path d="M444.5 228.7l-7.1 1.8-0.6-0.3 7.1-1.8z" color="#fbf915"/>
<path d="M437.4 230.5l-7.1 1.9-0.6-0.3 7.1-1.9z" color="#f9f717"/>
<path d="M430.3 232.4l-7.1 2-0.6-0.4 7.1-1.9z" color="#f8f41a"/>
<path d="M423.2 234.4l-7.1 2-0.6-0.5 7.1-1.9z" color="#f7f11d"/>
<path d="M416.1 236.4l-7.2 2-0.6-0.5 7.2-2z" color="#f5ee21"/>
<path d="M408.9 238.4l-7.1 2.1-0.6-0.6 7.1-2z" color="#f5eb23"/>
<path d="M401.8 240.5l-7.1 2.1-0.6-0.6 7.1-2.1z" color="#f5e825"/>
<path d="M394.7 242.6l-7.1 2.2-0.6-0.7 7.1-2.1z" color="#f5e426"/>
<path d="M387.6 244.8l-7.1 2.2-0.6-0.8 7.1-2.1z" color="#f6e028"/>
<path d="M380.5 247l-7.1 2.2-0.6-0.9 7.1-2.1z" color="#f7dc2a"/>
<path d="M373.4 249.2l-7.1 2.3-0.6-1 7.1-2.2z" color="#f9d82c"/>
<path d="M366.3 251.5l-7.1 2.3-0.6-1.1 7.1-2.2z" color="#fad42e"/>
<path d="M359.2 253.8l-7.1 2.3-0.6-1.2 7.1-2.2z" color="#fccf30"/>
<path d="M352.1 256.1l-7.1 2.3-0.6-1.3 7.1-2.2z" color="#fdcb33"/>
<path d="M345 258.4l-7.1 2.4-0.6-1.4 7.1-2.3z" color="#fec636"/>
<path d="M337.9 260.8l-7.1 2.4-0.6-1.6 7.1-2.2z" color="#fec13a"/>
<path d="M330.8 263.2l-7.1 2.4-0.6-1.7 7.1-2.3z" color="#fdbd3d"/>
<path d="M323.7 265.6l-7.1 2.4-0.6-1.7 7.1-2.4z" color="#f8ba3d"/>
<path d="M459.3 225.4l-7.1 1.7-0.6-0.2 7.1-1.7z" color="#fdfc12"/>
<path d="M452.2 227.1l-7.1 1.8-0.6-0.2 7.1-1.8z" color="#fcfb14"/>
<path d="M445.1 228.9l-7.1 1.9-0.6-0.3 7.1-1.8z" color="#faf916"/>
<path d="M438 230.8l-7.1 1.9-0.6-0.3 7.1-1.9z" color="#f9f618"/>
<path d="M430.9 232.7l-7.1 2.1-0.6-0.4 7.1-2z" color="#f7f31b"/>
<path d="M423.8 234.8l-7.1 2-0.6-0.4 7.1-2z" color="#f6f01f"/>
<path d="M416.7 236.8l-7.1 2.2-0.7-0.6 7.2-2z" color="#f5ec22"/>
<path d="M409.6 239l-7.2 2.1-0.6-0.6 7.1-2.1z" color="#f5e924"/>
<path d="M402.4 241.1l-7.1 2.3-0.6-0.8 7.1-2.1z" color="#f5e526"/>
<path d="M395.3 243.4l-7.1 2.2-0.6-0.8 7.1-2.2z" color="#f6e128"/>
<path d="M388.2 245.6l-7.1 2.3-0.6-0.9 7.1-2.2z" color="#f7dc2a"/>
<path d="M381.1 247.9l-7.1 2.3-0.6-1 7.1-2.2z" color="#f9d82c"/>
<path d="M374 250.2l-7.1 2.4-0.6-1.1 7.1-2.3z" color="#fbd32e"/>
<path d="M366.9 252.6l-7.1 2.4-0.6-1.2 7.1-2.3z" color="#fdce31"/>
<path d="M359.8 255l-7.1 2.4-0.6-1.3 7.1-2.3z" color="#fec934"/>
<path d="M352.7 257.4l-7.1 2.5-0.6-1.5 7.1-2.3z" color="#fec438"/>
<path d="M345.6 259.9l-7.1 2.5-0.6-1.6 7.1-2.4z" color="#febf3c"/>
<path d="M338.5 262.4l-7.1 2.5-0.6-1.7 7.1-2.4z" color="#fabb3d"/>
<path d="M331.4 264.9l-7.1 2.5-0.6-1.8 7.1-2.4z" color="#f3ba38"/>
<path d="M324.3 267.4l-7.1 2.6-0.6-2 7.1-2.4z" color="#eaba31"/>
<path d="M459.9 225.6l-7.1 1.7-0.6-0.2 7.1-1.7z" color="#fdfc12"/>
<path d="M452.8 227.3l-7.1 1.8-0.6-0.2 7.1-1.8z" color="#fcfb14"/>
<path d="M445.7 229.1l-7.1 2-0.6-0.3 7.1-1.9z" color="#faf816"/>
<path d="M438.6 231.1l-7.1 2-0.6-0.4 7.1-1.9z" color="#f8f519"/>
<path d="M431.5 233.1l-7.1 2.1-0.6-0.4 7.1-2.1z" color="#f7f21d"/>
<path d="M424.4 235.2l-7.1 2.2-0.6-0.6 7.1-2z" color="#f5ee21"/>
<path d="M417.3 237.4l-7.1 2.2-0.6-0.6 7.1-2.2z" color="#f5ea23"/>
<path d="M410.2 239.6l-7.1 2.3-0.7-0.8 7.2-2.1z" color="#f5e626"/>
<path d="M403.1 241.9l-7.2 2.3-0.6-0.8 7.1-2.3z" color="#f5e228"/>
<path d="M395.9 244.2l-7.1 2.3-0.6-0.9 7.1-2.2z" color="#f7dd2a"/>
<path d="M388.8 246.5l-7.1 2.4-0.6-1 7.1-2.3z" color="#f9d82c"/>
<path d="M381.7 248.9l-7.1 2.5-0.6-1.2 7.1-2.3z" color="#fbd22f"/>
<path d="M374.6 251.4l-7.1 2.5-0.6-1.3 7.1-2.4z" color="#fdcd32"/>
<path d="M367.5 253.9l-7.1 2.5-0.6-1.4 7.1-2.4z" color="#fec735"/>
<path d="M360.4 256.4l-7.1 2.6-0.6-1.6 7.1-2.4z" color="#fec239"/>
<path d="M353.3 259l-7.1 2.6-0.6-1.7 7.1-2.5z" color="#fdbd3d"/>
<path d="M346.2 261.6l-7.1 2.6-0.6-1.8 7.1-2.5z" color="#f6ba3b"/>
<path d="M339.1 264.2l-7.1 2.7-0.6-2 7.1-2.5z" color="#edba33"/>
<path d="M332 266.9l-7.1 2.7-0.6-2.2 7.1-2.5z" color="#e3bc2c"/>
<path d="M324.9 269.6l-7.1 2.7-0.6-2.3 7.1-2.6z" color="#d7be28"/>
<path d="M460.5 225.8l-7.1 1.7-0.6-0.2 7.1-1.7z" color="#fdfc12"/>
<path d="M453.4 227.5l-7.1 1.9-0.6-0.3 7.1-1.8z" color="#fbfa14"/>
<path d="M446.3 229.4l-7.1 2-0.6-0.3 7.1-2z" color="#faf817"/>
<path d="M439.2 231.4l-7.1 2.1-0.6-0.4 7.1-2z" color="#f8f41a"/>
<path d="M432.1 233.5l-7.1 2.1-0.6-0.4 7.1-2.1z" color="#f6f01f"/>
<path d="M425 235.6l-7.1 2.3-0.6-0.5 7.1-2.2z" color="#f5ec22"/>
<path d="M417.9 237.9l-7.1 2.3-0.6-0.6 7.1-2.2z" color="#f5e825"/>
<path d="M410.8 240.2l-7.1 2.4-0.6-0.7 7.1-2.3z" color="#f5e327"/>
<path d="M403.7 242.6l-7.1 2.4-0.7-0.8 7.2-2.3z" color="#f6de29"/>
<path d="M396.6 245l-7.2 2.5-0.6-1 7.1-2.3z" color="#f8d82c"/>
<path d="M389.4 247.5l-7.1 2.5-0.6-1.1 7.1-2.4z" color="#fbd32f"/>
<path d="M382.3 250l-7.1 2.6-0.6-1.2 7.1-2.5z" color="#fdcd32"/>
<path d="M375.2 252.6l-7.1 2.6-0.6-1.3 7.1-2.5z" color="#fec736"/>
<path d="M368.1 255.2l-7.1 2.6-0.6-1.4 7.1-2.5z" color="#fec13a"/>
<path d="M361 257.8l-7.1 2.7-0.6-1.5 7.1-2.6z" color="#fbbc3d"/>
<path d="M353.9 260.5l-7.1 2.8-0.6-1.7 7.1-2.6z" color="#f2ba38"/>
<path d="M346.8 263.3l-7.1 2.8-0.6-1.9 7.1-2.6z" color="#e8bb2f"/>
<path d="M339.7 266.1l-7.1 2.8-0.6-2 7.1-2.7z" color="#dcbd29"/>
<path d="M332.6 268.9l-7.1 2.8-0.6-2.1 7.1-2.7z" color="#cfc028"/>
<path d="M325.5 271.7l-7.1 2.9-0.6-2.3 7.1-2.7z" color="#c0c32d"/>
<path d="M461.1 225.9l-7.1 1.8-0.6-0.2 7.1-1.7z" color="#fcfc13"/>
<path d="M454 227.7l-7.1 1.9-0.6-0.2 7.1-1.9z" color="#fbfa14"/>
<path d="M446.9 229.6l-7.1 2.1-0.6-0.3 7.1-2z" color="#f9f717"/>
<path d="M439.8 231.7l-7.1 2.1-0.6-0.3 7.1-2.1z" color="#f7f31c"/>
<path d="M432.7 233.8l-7.1 2.3-0.6-0.5 7.1-2.1z" color="#f5ef20"/>
<path d="M425.6 236.1l-7.1 2.3-0.6-0.5 7.1-2.3z" color="#f5ea23"/>
<path d="M418.5 238.4l-7.1 2.4-0.6-0.6 7.1-2.3z" color="#f5e526"/>
<path d="M411.4 240.8l-7.1 2.5-0.6-0.7 7.1-2.4z" color="#f6e028"/>
<path d="M404.3 243.3l-7.1 2.5-0.6-0.8 7.1-2.4z" color="#f8da2b"/>
<path d="M397.2 245.8l-7.2 2.6-0.6-0.9 7.2-2.5z" color="#fad42e"/>
<path d="M390 248.4l-7.1 2.6-0.6-1 7.1-2.5z" color="#fdce31"/>
<path d="M382.9 251l-7.1 2.7-0.6-1.1 7.1-2.6z" color="#fec735"/>
<path d="M375.8 253.7l-7.1 2.8-0.6-1.3 7.1-2.6z" color="#fec13a"/>
<path d="M368.7 256.5l-7.1 2.8-0.6-1.5 7.1-2.6z" color="#fabb3d"/>
<path d="M361.6 259.3l-7.1 2.8-0.6-1.6 7.1-2.7z" color="#f1ba37"/>
<path d="M354.5 262.1l-7.1 2.9-0.6-1.7 7.1-2.8z" color="#e6bb2d"/>
<path d="M347.4 265l-7.1 2.9-0.6-1.8 7.1-2.8z" color="#d8be28"/>
<path d="M340.3 267.9l-7.1 3-0.6-2 7.1-2.8z" color="#c9c129"/>
<path d="M333.2 270.9l-7.1 3-0.6-2.2 7.1-2.8z" color="#b8c431"/>
<path d="M326.1 273.9l-7.1 3-0.6-2.3 7.1-2.9z" color="#a5c83d"/>
<path d="M461.7 226.1l-7.1 1.8-0.6-0.2 7.1-1.8z" color="#fcfc13"/>
<path d="M454.6 227.9l-7.1 2-0.6-0.3 7.1-1.9z" color="#fbfa15"/>
<path d="M447.5 229.9l-7.1 2.1-0.6-0.3 7.1-2.1z" color="#f9f618"/>
<path d="M440.4 232l-7.1 2.2-0.6-0.4 7.1-2.1z" color="#f7f21d"/>
<path d="M433.3 234.2l-7.1 2.3-0.6-0.4 7.1-2.3z" color="#f5ed21"/>
<path d="M426.2 236.5l-7.1 2.4-0.6-0.5 7.1-2.3z" color="#f5e824"/>
<path d="M419.1 238.9l-7.1 2.5-0.6-0.6 7.1-2.4z" color="#f5e327"/>
<path d="M412 241.4l-7.1 2.6-0.6-0.7 7.1-2.5z" color="#f7dd2a"/>
<path d="M404.9 244l-7.1 2.6-0.6-0.8 7.1-2.5z" color="#f9d72d"/>
<path d="M397.8 246.6l-7.1 2.7-0.7-0.9 7.2-2.6z" color="#fcd030"/>
<path d="M390.7 249.3l-7.2 2.8-0.6-1.1 7.1-2.6z" color="#fec934"/>
<path d="M383.5 252.1l-7.1 2.8-0.6-1.2 7.1-2.7z" color="#fec239"/>
<path d="M376.4 254.9l-7.1 2.9-0.6-1.3 7.1-2.8z" color="#fbbc3d"/>
<path d="M369.3 257.8l-7.1 2.9-0.6-1.4 7.1-2.8z" color="#f1ba37"/>
<path d="M362.2 260.7l-7.1 3-0.6-1.6 7.1-2.8z" color="#e5bb2d"/>
<path d="M355.1 263.7l-7.1 3-0.6-1.7 7.1-2.9z" color="#d7be28"/>
<path d="M348 266.7l-7.1 3-0.6-1.8 7.1-2.9z" color="#c6c22a"/>
<path d="M340.9 269.7l-7.1 3.2-0.6-2 7.1-3z" color="#b4c534"/>
<path d="M333.8 272.9l-7.1 3.1-0.6-2.1 7.1-3z" color="#9fc942"/>
<path d="M326.7 276l-7.1 3.2-0.6-2.3 7.1-3z" color="#89cb53"/>
<path d="M462.3 226.3l-7.1 1.8-0.6-0.2 7.1-1.8z" color="#fcfc13"/>
<path d="M455.2 228.1l-7.1 2-0.6-0.2 7.1-2z" color="#fbfa15"/>
<path d="M448.1 230.1l-7.1 2.2-0.6-0.3 7.1-2.1z" color="#f8f619"/>
<path d="M441 232.3l-7.1 2.3-0.6-0.4 7.1-2.2z" color="#f6f11e"/>
<path d="M433.9 234.6l-7.1 2.4-0.6-0.5 7.1-2.3z" color="#f5ec22"/>
<path d="M426.8 237l-7.1 2.5-0.6-0.6 7.1-2.4z" color="#f5e725"/>
<path d="M419.7 239.5l-7.1 2.6-0.6-0.7 7.1-2.5z" color="#f6e128"/>
<path d="M412.6 242.1l-7.1 2.6-0.6-0.7 7.1-2.6z" color="#f8da2b"/>
<path d="M405.5 244.7l-7.1 2.7-0.6-0.8 7.1-2.6z" color="#fbd32e"/>
<path d="M398.4 247.4l-7.1 2.9-0.6-1 7.1-2.7z" color="#fdcb32"/>
<path d="M391.3 250.3l-7.1 2.8-0.7-1 7.2-2.8z" color="#fec438"/>
<path d="M384.2 253.1l-7.2 3-0.6-1.2 7.1-2.8z" color="#fdbd3d"/>
<path d="M377 256.1l-7.1 3-0.6-1.3 7.1-2.9z" color="#f4ba39"/>
<path d="M369.9 259.1l-7.1 3-0.6-1.4 7.1-2.9z" color="#e7bb2e"/>
<path d="M362.8 262.1l-7.1 3.1-0.6-1.5 7.1-3z" color="#d8be28"/>
<path d="M355.7 265.2l-7.1 3.2-0.6-1.7 7.1-3z" color="#c6c22a"/>
<path d="M348.6 268.4l-7.1 3.2-0.6-1.9 7.1-3z" color="#b2c535"/>
<path d="M341.5 271.6l-7.1 3.3-0.6-2 7.1-3.2z" color="#9cc944"/>
<path d="M334.4 274.9l-7.1 3.3-0.6-2.2 7.1-3.1z" color="#84cb56"/>
<path d="M327.3 278.2l-7.1 3.3-0.6-2.3 7.1-3.2z" color="#6bcd69"/>
<path d="M462.9 226.5l-7.1 1.8-0.6-0.2 7.1-1.8z" color="#fcfc13"/>
<path d="M455.8 228.3l-7.1 2-0.6-0.2 7.1-2z" color="#fbf915"/>
<path d="M448.7 230.3l-7.1 2.3-0.6-0.3 7.1-2.2z" color="#f8f519"/>
<path d="M441.6 232.6l-7.1 2.3-0.6-0.3 7.1-2.3z" color="#f6f01f"/>
<path d="M434.5 234.9l-7.1 2.5-0.6-0.4 7.1-2.4z" color="#f5eb23"/>
<path d="M427.4 237.4l-7.1 2.6-0.6-0.5 7.1-2.5z" color="#f5e526"/>
<path d="M420.3 240l-7.1 2.7-0.6-0.6 7.1-2.6z" color="#f6de29"/>
<path d="M413.2 242.7l-7.1 2.7-0.6-0.7 7.1-2.6z" color="#f9d72d"/>
<path d="M406.1 245.4l-7.1 2.9-0.6-0.9 7.1-2.7z" color="#fccf30"/>
<path d="M399 248.3l-7.1 2.9-0.6-0.9 7.1-2.9z" color="#fec735"/>
<path d="M391.9 251.2l-7.1 3-0.6-1.1 7.1-2.8z" color="#febf3b"/>
<path d="M384.8 254.2l-7.2 3-0.6-1.1 7.2-3z" color="#f7ba3c"/>
<path d="M377.6 257.2l-7.1 3.1-0.6-1.2 7.1-3z" color="#eaba31"/>
<path d="M370.5 260.3l-7.1 3.2-0.6-1.4 7.1-3z" color="#dbbd29"/>
<path d="M363.4 263.5l-7.1 3.3-0.6-1.6 7.1-3.1z" color="#c9c129"/>
<path d="M356.3 266.8l-7.1 3.3-0.6-1.7 7.1-3.2z" color="#b4c533"/>
<path d="M349.2 270.1l-7.1 3.3-0.6-1.8 7.1-3.2z" color="#9dc943"/>
<path d="M342.1 273.4l-7.1 3.5-0.6-2 7.1-3.3z" color="#84cc56"/>
<path d="M335 276.9l-7.1 3.4-0.6-2.1 7.1-3.3z" color="#69cd6b"/>
<path d="M327.9 280.3l-7.1 3.5-0.6-2.3 7.1-3.3z" color="#51cc7f"/>
<path d="M463.5 226.6l-7.1 1.9-0.6-0.2 7.1-1.8z" color="#fcfc13"/>
<path d="M456.4 228.5l-7.1 2.1-0.6-0.3 7.1-2z" color="#faf916"/>
<path d="M449.3 230.6l-7.1 2.3-0.6-0.3 7.1-2.3z" color="#f8f41a"/>
<path d="M442.2 232.9l-7.1 2.4-0.6-0.4 7.1-2.3z" color="#f5ef20"/>
<path d="M435.1 235.3l-7.1 2.6-0.6-0.5 7.1-2.5z" color="#f5e924"/>
<path d="M428 237.9l-7.1 2.6-0.6-0.5 7.1-2.6z" color="#f5e327"/>
<path d="M420.9 240.5l-7.1 2.8-0.6-0.6 7.1-2.7z" color="#f7dc2a"/>
<path d="M413.8 243.3l-7.1 2.8-0.6-0.7 7.1-2.7z" color="#fad42e"/>
<path d="M406.7 246.1l-7.1 3-0.6-0.8 7.1-2.9z" color="#fdcc32"/>
<path d="M399.6 249.1l-7.1 3-0.6-0.9 7.1-2.9z" color="#fec338"/>
<path d="M392.5 252.1l-7.1 3.1-0.6-1 7.1-3z" color="#fbbc3d"/>
<path d="M385.4 255.2l-7.1 3.2-0.7-1.2 7.2-3z" color="#f0ba36"/>
<path d="M378.3 258.4l-7.2 3.2-0.6-1.3 7.1-3.1z" color="#e0bc2b"/>
<path d="M371.1 261.6l-7.1 3.4-0.6-1.5 7.1-3.2z" color="#cec028"/>
<path d="M364 265l-7.1 3.3-0.6-1.5 7.1-3.3z" color="#b9c431"/>
<path d="M356.9 268.3l-7.1 3.5-0.6-1.7 7.1-3.3z" color="#a1c840"/>
<path d="M349.8 271.8l-7.1 3.5-0.6-1.9 7.1-3.3z" color="#86cb54"/>
<path d="M342.7 275.3l-7.1 3.6-0.6-2 7.1-3.5z" color="#6bcd69"/>
<path d="M335.6 278.9l-7.1 3.6-0.6-2.2 7.1-3.4z" color="#51cc7f"/>
<path d="M328.5 282.5l-7.1 3.7-0.6-2.4 7.1-3.5z" color="#3bc992"/>
<path d="M464.1 226.8l-7.1 1.9-0.6-0.2 7.1-1.9z" color="#fcfc13"/>
<path d="M457 228.7l-7.1 2.1-0.6-0.2 7.1-2.1z" color="#faf916"/>
<path d="M449.9 230.8l-7.1 2.4-0.6-0.3 7.1-2.3z" color="#f8f41b"/>
<path d="M442.8 233.2l-7.1 2.5-0.6-0.4 7.1-2.4z" color="#f5ee21"/>
<path d="M435.7 235.7l-7.1 2.6-0.6-0.4 7.1-2.6z" color="#f5e825"/>
<path d="M428.6 238.3l-7.1 2.7-0.6-0.5 7.1-2.6z" color="#f6e128"/>
<path d="M421.5 241l-7.1 2.9-0.6-0.6 7.1-2.8z" color="#f8d92b"/>
<path d="M414.4 243.9l-7.1 3-0.6-0.8 7.1-2.8z" color="#fcd12f"/>
<path d="M407.3 246.9l-7.1 3-0.6-0.8 7.1-3z" color="#fec835"/>
<path d="M400.2 249.9l-7.1 3.1-0.6-0.9 7.1-3z" color="#febf3b"/>
<path d="M393.1 253l-7.1 3.3-0.6-1.1 7.1-3.1z" color="#f6ba3b"/>
<path d="M386 256.3l-7.1 3.3-0.6-1.2 7.1-3.2z" color="#e7bb2e"/>
<path d="M378.9 259.6l-7.1 3.3-0.7-1.3 7.2-3.2z" color="#d5be28"/>
<path d="M371.8 262.9l-7.2 3.5-0.6-1.4 7.1-3.4z" color="#c0c32d"/>
<path d="M364.6 266.4l-7.1 3.5-0.6-1.6 7.1-3.3z" color="#a8c73b"/>
<path d="M357.5 269.9l-7.1 3.6-0.6-1.7 7.1-3.5z" color="#8dcb50"/>
<path d="M350.4 273.5l-7.1 3.6-0.6-1.8 7.1-3.5z" color="#6fcd65"/>
<path d="M343.3 277.1l-7.1 3.7-0.6-1.9 7.1-3.6z" color="#54cc7c"/>
<path d="M336.2 280.8l-7.1 3.8-0.6-2.1 7.1-3.6z" color="#3dc991"/>
<path d="M329.1 284.6l-7.1 3.9-0.6-2.3 7.1-3.7z" color="#2fc5a3"/>
<path d="M464.7 227l-7.1 1.9-0.6-0.2 7.1-1.9z" color="#fcfc13"/>
<path d="M457.6 228.9l-7.1 2.2-0.6-0.3 7.1-2.1z" color="#faf816"/>
<path d="M450.5 231.1l-7.1 2.4-0.6-0.3 7.1-2.4z" color="#f7f31c"/>
<path d="M443.4 233.5l-7.1 2.5-0.6-0.3 7.1-2.5z" color="#f5ed22"/>
<path d="M436.3 236l-7.1 2.7-0.6-0.4 7.1-2.6z" color="#f5e625"/>
<path d="M429.2 238.7l-7.1 2.9-0.6-0.6 7.1-2.7z" color="#f6df29"/>
<path d="M422.1 241.6l-7.1 2.9-0.6-0.6 7.1-2.9z" color="#f9d72d"/>
<path d="M415 244.5l-7.1 3.1-0.6-0.7 7.1-3z" color="#fdce31"/>
<path d="M407.9 247.6l-7.1 3.1-0.6-0.8 7.1-3z" color="#fec537"/>
<path d="M400.8 250.7l-7.1 3.3-0.6-1 7.1-3.1z" color="#fcbc3d"/>
<path d="M393.7 254l-7.1 3.3-0.6-1 7.1-3.3z" color="#efba35"/>
<path d="M386.6 257.3l-7.1 3.4-0.6-1.1 7.1-3.3z" color="#debc2a"/>
<path d="M379.5 260.7l-7.1 3.5-0.6-1.3 7.1-3.3z" color="#cac129"/>
<path d="M372.4 264.2l-7.2 3.6-0.6-1.4 7.2-3.5z" color="#b1c635"/>
<path d="M365.2 267.8l-7.1 3.7-0.6-1.6 7.1-3.5z" color="#96ca49"/>
<path d="M358.1 271.5l-7.1 3.7-0.6-1.7 7.1-3.6z" color="#78cc5f"/>
<path d="M351 275.2l-7.1 3.8-0.6-1.9 7.1-3.6z" color="#5acc77"/>
<path d="M343.9 279l-7.1 3.8-0.6-2 7.1-3.7z" color="#40ca8d"/>
<path d="M336.8 282.8l-7.1 4-0.6-2.2 7.1-3.8z" color="#31c5a1"/>
<path d="M329.7 286.8l-7.1 4-0.6-2.3 7.1-3.9z" color="#1fc0b2"/>
<path d="M465.3 227.2l-7.1 1.9-0.6-0.2 7.1-1.9z" color="#fcfc13"/>
<path d="M458.2 229.1l-7.1 2.2-0.6-0.2 7.1-2.2z" color="#faf816"/>
<path d="M451.1 231.3l-7.1 2.5-0.6-0.3 7.1-2.4z" color="#f7f21c"/>
<path d="M444 233.8l-7.1 2.6-0.6-0.4 7.1-2.5z" color="#f5ec22"/>
<path d="M436.9 236.4l-7.1 2.8-0.6-0.5 7.1-2.7z" color="#f5e526"/>
<path d="M429.8 239.2l-7.1 2.9-0.6-0.5 7.1-2.9z" color="#f7dd2a"/>
<path d="M422.7 242.1l-7.1 3-0.6-0.6 7.1-2.9z" color="#fad42e"/>
<path d="M415.6 245.1l-7.1 3.2-0.6-0.7 7.1-3.1z" color="#fdcb33"/>
<path d="M408.5 248.3l-7.1 3.2-0.6-0.8 7.1-3.1z" color="#fec13a"/>
<path d="M401.4 251.5l-7.1 3.4-0.6-0.9 7.1-3.3z" color="#f8ba3d"/>
<path d="M394.3 254.9l-7.1 3.5-0.6-1.1 7.1-3.3z" color="#e8bb2f"/>
<path d="M387.2 258.4l-7.1 3.5-0.6-1.2 7.1-3.4z" color="#d4bf28"/>
<path d="M380.1 261.9l-7.1 3.6-0.6-1.3 7.1-3.5z" color="#bdc32e"/>
<path d="M373 265.5l-7.1 3.7-0.7-1.4 7.2-3.6z" color="#a1c840"/>
<path d="M365.9 269.2l-7.2 3.8-0.6-1.5 7.1-3.7z" color="#83cc57"/>
<path d="M358.7 273l-7.1 3.9-0.6-1.7 7.1-3.7z" color="#63cd6f"/>
<path d="M351.6 276.9l-7.1 3.9-0.6-1.8 7.1-3.8z" color="#47cb87"/>
<path d="M344.5 280.8l-7.1 4-0.6-2 7.1-3.8z" color="#34c79c"/>
<path d="M337.4 284.8l-7.1 4.1-0.6-2.1 7.1-4z" color="#24c1af"/>
<path d="M330.3 288.9l-7.1 4.2-0.6-2.3 7.1-4z" color="#07bcc0"/>
<path d="M465.9 227.3l-7.1 2-0.6-0.2 7.1-1.9z" color="#fcfc13"/>
<path d="M458.8 229.3l-7.1 2.3-0.6-0.3 7.1-2.2z" color="#faf817"/>
<path d="M451.7 231.6l-7.1 2.6-0.6-0.4 7.1-2.5z" color="#f7f11d"/>
<path d="M444.6 234.2l-7.1 2.8-0.6-0.6 7.1-2.6z" color="#f5eb23"/>
<path d="M437.5 237l-7.1 2.9-0.6-0.7 7.1-2.8z" color="#f5e327"/>
<path d="M430.4 239.9l-7.1 3.1-0.6-0.9 7.1-2.9z" color="#f8da2b"/>
<path d="M423.3 243l-7.1 3.2-0.6-1.1 7.1-3z" color="#fcd030"/>
<path d="M416.2 246.2l-7.1 3.4-0.6-1.3 7.1-3.2z" color="#fec636"/>
<path d="M409.1 249.6l-7.1 3.4-0.6-1.5 7.1-3.2z" color="#fdbd3d"/>
<path d="M402 253l-7.1 3.6-0.6-1.7 7.1-3.4z" color="#efba35"/>
<path d="M394.9 256.6l-7.1 3.7-0.6-1.9 7.1-3.5z" color="#dcbd29"/>
<path d="M387.8 260.3l-7.1 3.8-0.6-2.2 7.1-3.5z" color="#c4c22b"/>
<path d="M380.7 264.1l-7.1 3.9-0.6-2.5 7.1-3.6z" color="#a8c73b"/>
<path d="M373.6 268l-7.1 4-0.6-2.8 7.1-3.7z" color="#88cb53"/>
<path d="M366.5 272l-7.1 4-0.7-3 7.2-3.8z" color="#67cd6d"/>
<path d="M359.4 276l-7.2 4.2-0.6-3.3 7.1-3.9z" color="#48cb86"/>
<path d="M352.2 280.2l-7.1 4.2-0.6-3.6 7.1-3.9z" color="#33c79c"/>
<path d="M345.1 284.4l-7.1 4.3-0.6-3.9 7.1-4z" color="#22c1b0"/>
<path d="M338 288.7l-7.1 4.4-0.6-4.2 7.1-4.1z" color="#03bbc2"/>
<path d="M330.9 293.1l-7.1 4.5-0.6-4.5 7.1-4.2z" color="#0db3d3"/>
<path d="M466.5 227.5l-7.1 2-0.6-0.2 7.1-2z" color="#fcfb13"/>
<path d="M459.4 229.5l-7.1 2.5-0.6-0.4 7.1-2.3z" color="#f9f717"/>
<path d="M452.3 232l-7.1 2.7-0.6-0.5 7.1-2.6z" color="#f6f01f"/>
<path d="M445.2 234.7l-7.1 2.9-0.6-0.6 7.1-2.8z" color="#f5e924"/>
<path d="M438.1 237.6l-7.1 3.1-0.6-0.8 7.1-2.9z" color="#f6e028"/>
<path d="M431 240.7l-7.1 3.3-0.6-1 7.1-3.1z" color="#fad62d"/>
<path d="M423.9 244l-7.1 3.4-0.6-1.2 7.1-3.2z" color="#fdcb33"/>
<path d="M416.8 247.4l-7.1 3.6-0.6-1.4 7.1-3.4z" color="#fec03a"/>
<path d="M409.7 251l-7.1 3.7-0.6-1.7 7.1-3.4z" color="#f4ba39"/>
<path d="M402.6 254.7l-7.1 3.8-0.6-1.9 7.1-3.6z" color="#e1bc2b"/>
<path d="M395.5 258.5l-7.1 4-0.6-2.2 7.1-3.7z" color="#c8c129"/>
<path d="M388.4 262.5l-7.1 4.1-0.6-2.5 7.1-3.8z" color="#aac739"/>
<path d="M381.3 266.6l-7.1 4.1-0.6-2.7 7.1-3.9z" color="#88cb53"/>
<path d="M374.2 270.7l-7.1 4.3-0.6-3 7.1-4z" color="#64cd6f"/>
<path d="M367.1 275l-7.1 4.4-0.6-3.4 7.1-4z" color="#44cb8a"/>
<path d="M360 279.4l-7.1 4.5-0.7-3.7 7.2-4.2z" color="#30c5a1"/>
<path d="M352.9 283.9l-7.2 4.5-0.6-4 7.1-4.2z" color="#18bfb6"/>
<path d="M345.7 288.4l-7.1 4.7-0.6-4.4 7.1-4.3z" color="#01b8c9"/>
<path d="M338.6 293.1l-7.1 4.8-0.6-4.8 7.1-4.4z" color="#17aeda"/>
<path d="M331.5 297.9l-7.1 4.8-0.6-5.1 7.1-4.5z" color="#23a1e5"/>
<path d="M467.1 227.7l-7.1 2.1-0.6-0.3 7.1-2z" color="#fcfb13"/>
<path d="M460 229.8l-7.1 2.5-0.6-0.3 7.1-2.5z" color="#f9f618"/>
<path d="M452.9 232.3l-7.1 2.8-0.6-0.4 7.1-2.7z" color="#f5ef21"/>
<path d="M445.8 235.1l-7.1 3.1-0.6-0.6 7.1-2.9z" color="#f5e625"/>
<path d="M438.7 238.2l-7.1 3.3-0.6-0.8 7.1-3.1z" color="#f7dd2a"/>
<path d="M431.6 241.5l-7.1 3.5-0.6-1 7.1-3.3z" color="#fbd12f"/>
<path d="M424.5 245l-7.1 3.6-0.6-1.2 7.1-3.4z" color="#fec636"/>
<path d="M417.4 248.6l-7.1 3.8-0.6-1.4 7.1-3.6z" color="#fabb3d"/>
<path d="M410.3 252.4l-7.1 4-0.6-1.7 7.1-3.7z" color="#e8bb2f"/>
<path d="M403.2 256.4l-7.1 4-0.6-1.9 7.1-3.8z" color="#cfc028"/>
<path d="M396.1 260.4l-7.1 4.3-0.6-2.2 7.1-4z" color="#b1c635"/>
<path d="M389 264.7l-7.1 4.3-0.6-2.4 7.1-4.1z" color="#8dcb4f"/>
<path d="M381.9 269l-7.1 4.5-0.6-2.8 7.1-4.1z" color="#66cd6d"/>
<path d="M374.8 273.5l-7.1 4.6-0.6-3.1 7.1-4.3z" color="#43ca8a"/>
<path d="M367.7 278.1l-7.1 4.7-0.6-3.4 7.1-4.4z" color="#2ec5a4"/>
<path d="M360.6 282.8l-7.1 4.8-0.6-3.7 7.1-4.5z" color="#11beb9"/>
<path d="M353.5 287.6l-7.2 4.9-0.6-4.1 7.2-4.5z" color="#05b6ce"/>
<path d="M346.3 292.5l-7.1 5-0.6-4.4 7.1-4.7z" color="#1caadf"/>
<path d="M339.2 297.5l-7.1 5.1-0.6-4.7 7.1-4.8z" color="#259be8"/>
<path d="M332.1 302.6l-7.1 5.2-0.6-5.1 7.1-4.8z" color="#2d8af5"/>
<path d="M467.7 227.9l-7.1 2.1-0.6-0.2 7.1-2.1z" color="#fcfb14"/>
<path d="M460.6 230l-7.1 2.6-0.6-0.3 7.1-2.5z" color="#f8f519"/>
<path d="M453.5 232.6l-7.1 3-0.6-0.5 7.1-2.8z" color="#f5ed21"/>
<path d="M446.4 235.6l-7.1 3.2-0.6-0.6 7.1-3.1z" color="#f5e427"/>
<path d="M439.3 238.8l-7.1 3.5-0.6-0.8 7.1-3.3z" color="#f8d92b"/>
<path d="M432.2 242.3l-7.1 3.6-0.6-0.9 7.1-3.5z" color="#fdcd31"/>
<path d="M425.1 245.9l-7.1 3.9-0.6-1.2 7.1-3.6z" color="#fec13a"/>
<path d="M418 249.8l-7.1 4-0.6-1.4 7.1-3.8z" color="#f2ba38"/>
<path d="M410.9 253.8l-7.1 4.2-0.6-1.6 7.1-4z" color="#dbbd28"/>
<path d="M403.8 258l-7.1 4.4-0.6-2 7.1-4z" color="#bcc42f"/>
<path d="M396.7 262.4l-7.1 4.4-0.6-2.1 7.1-4.3z" color="#97ca47"/>
<path d="M389.6 266.8l-7.1 4.7-0.6-2.5 7.1-4.3z" color="#6ecd67"/>
<path d="M382.5 271.5l-7.1 4.7-0.6-2.7 7.1-4.5z" color="#48cb86"/>
<path d="M375.4 276.2l-7.1 4.9-0.6-3 7.1-4.6z" color="#30c5a2"/>
<path d="M368.3 281.1l-7.1 5-0.6-3.3 7.1-4.7z" color="#12beb9"/>
<path d="M361.2 286.1l-7.1 5.2-0.6-3.7 7.1-4.8z" color="#06b5cf"/>
<path d="M354.1 291.3l-7.1 5.2-0.7-4 7.2-4.9z" color="#1da8e0"/>
<path d="M347 296.5l-7.2 5.4-0.6-4.4 7.1-5z" color="#2798ea"/>
<path d="M339.8 301.9l-7.1 5.4-0.6-4.7 7.1-5.1z" color="#2e85f8"/>
<path d="M332.7 307.3l-7.1 5.6-0.6-5.1 7.1-5.2z" color="#3f6eff"/>
<path d="M468.3 228l-7.1 2.2-0.6-0.2 7.1-2.1z" color="#fcfb14"/>
<path d="M461.2 230.2l-7.1 2.8-0.6-0.4 7.1-2.6z" color="#f8f51a"/>
<path d="M454.1 233l-7.1 3-0.6-0.4 7.1-3z" color="#f5ec22"/>
<path d="M447 236l-7.1 3.4-0.6-0.6 7.1-3.2z" color="#f5e228"/>
<path d="M439.9 239.4l-7.1 3.7-0.6-0.8 7.1-3.5z" color="#f9d62d"/>
<path d="M432.8 243.1l-7.1 3.8-0.6-1 7.1-3.6z" color="#fec934"/>
<path d="M425.7 246.9l-7.1 4.1-0.6-1.2 7.1-3.9z" color="#fcbc3d"/>
<path d="M418.6 251l-7.1 4.2-0.6-1.4 7.1-4z" color="#e8bb2f"/>
<path d="M411.5 255.2l-7.1 4.5-0.6-1.7 7.1-4.2z" color="#cbc029"/>
<path d="M404.4 259.7l-7.1 4.6-0.6-1.9 7.1-4.4z" color="#a7c73c"/>
<path d="M397.3 264.3l-7.1 4.7-0.6-2.2 7.1-4.4z" color="#7dcc5b"/>
<path d="M390.2 269l-7.1 4.9-0.6-2.4 7.1-4.7z" color="#52cc7e"/>
<path d="M383.1 273.9l-7.1 5.1-0.6-2.8 7.1-4.7z" color="#34c79c"/>
<path d="M376 279l-7.1 5.2-0.6-3.1 7.1-4.9z" color="#19bfb5"/>
<path d="M368.9 284.2l-7.1 5.3-0.6-3.4 7.1-5z" color="#04b6cd"/>
<path d="M361.8 289.5l-7.1 5.5-0.6-3.7 7.1-5.2z" color="#1da9e0"/>
<path d="M354.7 295l-7.1 5.5-0.6-4 7.1-5.2z" color="#2797ea"/>
<path d="M347.6 300.5l-7.1 5.7-0.7-4.3 7.2-5.4z" color="#2e83f9"/>
<path d="M340.5 306.2l-7.2 5.8-0.6-4.7 7.1-5.4z" color="#416bfe"/>
<path d="M333.3 312l-7.1 6-0.6-5.1 7.1-5.6z" color="#4854f5"/>
<path d="M468.9 228.2l-7.1 2.2-0.6-0.2 7.1-2.2z" color="#fbfb14"/>
<path d="M461.8 230.4l-7.1 2.9-0.6-0.3 7.1-2.8z" color="#f8f41b"/>
<path d="M454.7 233.3l-7.1 3.2-0.6-0.5 7.1-3z" color="#f5eb23"/>
<path d="M447.6 236.5l-7.1 3.5-0.6-0.6 7.1-3.4z" color="#f6e028"/>
<path d="M440.5 240l-7.1 3.9-0.6-0.8 7.1-3.7z" color="#fbd32f"/>
<path d="M433.4 243.9l-7.1 4-0.6-1 7.1-3.8z" color="#fec537"/>
<path d="M426.3 247.9l-7.1 4.3-0.6-1.2 7.1-4.1z" color="#f6ba3b"/>
<path d="M419.2 252.2l-7.1 4.5-0.6-1.5 7.1-4.2z" color="#ddbd29"/>
<path d="M412.1 256.7l-7.1 4.6-0.6-1.6 7.1-4.5z" color="#bbc42f"/>
<path d="M405 261.3l-7.1 4.9-0.6-1.9 7.1-4.6z" color="#91ca4c"/>
<path d="M397.9 266.2l-7.1 5-0.6-2.2 7.1-4.7z" color="#63cd70"/>
<path d="M390.8 271.2l-7.1 5.2-0.6-2.5 7.1-4.9z" color="#3cc992"/>
<path d="M383.7 276.4l-7.1 5.3-0.6-2.7 7.1-5.1z" color="#24c1ae"/>
<path d="M376.6 281.7l-7.1 5.5-0.6-3 7.1-5.2z" color="#01b9c7"/>
<path d="M369.5 287.2l-7.1 5.7-0.6-3.4 7.1-5.3z" color="#1aacdd"/>
<path d="M362.4 292.9l-7.1 5.7-0.6-3.6 7.1-5.5z" color="#269ae9"/>
<path d="M355.3 298.6l-7.1 6-0.6-4.1 7.1-5.5z" color="#2e85f8"/>
<path d="M348.2 304.6l-7.1 6-0.6-4.4 7.1-5.7z" color="#416bfe"/>
<path d="M341.1 310.6l-7.2 6.2-0.6-4.8 7.2-5.8z" color="#4853f5"/>
<path d="M333.9 316.8l-7.1 6.3-0.6-5.1 7.1-6z" color="#463adb"/>
<path d="M469.6 228.4l-3.6 1-0.6-0.2 3.5-1z" color="#fcfc13"/>
<path d="M466 229.4l-3.5 1.2-0.7-0.2 3.6-1.2z" color="#fbfa15"/>
<path d="M462.5 230.6l-3.6 1.3-0.6-0.1 3.5-1.4z" color="#f9f618"/>
<path d="M458.9 231.9l-3.6 1.4-0.6 0 3.6-1.5z" color="#f7f21d"/>
<path d="M455.3 233.3l-3.5 1.4-0.6 0.2 3.5-1.6z" color="#f5ed21"/>
<path d="M451.8 234.7l-3.6 1.6-0.6 0.2 3.6-1.6z" color="#f5e924"/>
<path d="M448.2 236.3l-3.5 1.6-0.6 0.3 3.5-1.7z" color="#f5e327"/>
<path d="M444.7 237.9l-3.6 1.7-0.6 0.4 3.6-1.8z" color="#f7dd2a"/>
<path d="M441.1 239.6l-3.5 1.8-0.6 0.5 3.5-1.9z" color="#f9d72d"/>
<path d="M437.6 241.4l-3.6 1.8-0.6 0.7 3.6-2z" color="#fcd030"/>
<path d="M434 243.2l-3.5 1.9-0.6 0.8 3.5-2z" color="#fec934"/>
<path d="M430.5 245.1l-3.6 1.9-0.6 0.9 3.6-2z" color="#fec239"/>
<path d="M426.9 247l-3.5 2-0.6 1 3.5-2.1z" color="#fbbc3d"/>
<path d="M423.4 249l-3.6 2-0.6 1.2 3.6-2.2z" color="#f2ba37"/>
<path d="M419.8 251l-3.5 2.1-0.6 1.3 3.5-2.2z" color="#e6bb2d"/>
<path d="M416.3 253.1l-3.6 2.1-0.6 1.5 3.6-2.3z" color="#d7be28"/>
<path d="M412.7 255.2l-3.5 2.2-0.6 1.6 3.5-2.3z" color="#c7c12a"/>
<path d="M409.2 257.4l-3.6 2.2-0.6 1.7 3.6-2.3z" color="#b4c533"/>
<path d="M405.6 259.6l-3.5 2.2-0.7 1.9 3.6-2.4z" color="#a0c841"/>
<path d="M402.1 261.8l-3.6 2.3-0.6 2.1 3.5-2.5z" color="#8acb52"/>
<path d="M398.5 264.1l-3.5 2.3-0.7 2.3 3.6-2.5z" color="#72cd63"/>
<path d="M395 266.4l-3.6 2.4-0.6 2.4 3.5-2.5z" color="#5ccc76"/>
<path d="M391.4 268.8l-3.5 2.3-0.7 2.7 3.6-2.6z" color="#47cb87"/>
<path d="M387.9 271.1l-3.6 2.5-0.6 2.8 3.5-2.6z" color="#37c897"/>
<path d="M384.3 273.6l-3.6 2.4-0.6 3 3.6-2.6z" color="#2ec4a5"/>
<path d="M380.7 276l-3.5 2.5-0.6 3.2 3.5-2.7z" color="#1fc0b2"/>
<path d="M377.2 278.5l-3.6 2.6-0.6 3.4 3.6-2.8z" color="#08bcbe"/>
<path d="M373.6 281.1l-3.5 2.5-0.6 3.6 3.5-2.7z" color="#02b7cb"/>
<path d="M370.1 283.6l-3.6 2.6-0.6 3.8 3.6-2.8z" color="#12b1d6"/>
<path d="M366.5 286.2l-3.5 2.7-0.6 4 3.5-2.9z" color="#1caadf"/>
<path d="M363 288.9l-3.6 2.6-0.6 4.2 3.6-2.8z" color="#23a1e4"/>
<path d="M359.4 291.5l-3.5 2.7-0.6 4.4 3.5-2.9z" color="#2797ea"/>
<path d="M355.9 294.2l-3.6 2.7-0.6 4.7 3.6-3z" color="#2d8df2"/>
<path d="M352.3 296.9l-3.5 2.8-0.6 4.9 3.5-3z" color="#2f82f9"/>
<path d="M348.8 299.7l-3.6 2.8-0.6 5.1 3.6-3z" color="#3876fe"/>
<path d="M345.2 302.5l-3.5 2.8-0.6 5.3 3.5-3z" color="#4269fe"/>
<path d="M341.7 305.3l-3.6 2.8-0.6 5.6 3.6-3.1z" color="#475dfa"/>
<path d="M338.1 308.1l-3.5 2.9-0.7 5.8 3.6-3.1z" color="#4850f3"/>
<path d="M334.6 311l-3.6 2.9-0.6 6 3.5-3.1z" color="#4744e8"/>
<path d="M331 313.9l-3.5 2.9-0.7 6.3 3.6-3.2z" color="#4538d8"/>
<path d="M470.2 228.6l-3.6 0.9-0.6-0.1 3.6-1z" color="#fdfc13"/>
<path d="M466.6 229.5l-3.5 1.2-0.6-0.1 3.5-1.2z" color="#fbfa14"/>
<path d="M463.1 230.7l-3.6 1.2-0.6 0 3.6-1.3z" color="#f9f717"/>
<path d="M459.5 231.9l-3.5 1.3-0.7 0.1 3.6-1.4z" color="#f7f31b"/>
<path d="M456 233.2l-3.6 1.4-0.6 0.1 3.5-1.4z" color="#f5ef20"/>
<path d="M452.4 234.6l-3.5 1.5-0.7 0.2 3.6-1.6z" color="#f5eb23"/>
<path d="M448.9 236.1l-3.6 1.6-0.6 0.2 3.5-1.6z" color="#f5e626"/>
<path d="M445.3 237.7l-3.5 1.5-0.7 0.4 3.6-1.7z" color="#f6e028"/>
<path d="M441.8 239.2l-3.6 1.7-0.6 0.5 3.5-1.8z" color="#f7db2b"/>
<path d="M438.2 240.9l-3.5 1.7-0.7 0.6 3.6-1.8z" color="#fad52e"/>
<path d="M434.7 242.6l-3.6 1.7-0.6 0.8 3.5-1.9z" color="#fdce31"/>
<path d="M431.1 244.3l-3.6 1.8-0.6 0.9 3.6-1.9z" color="#fec835"/>
<path d="M427.5 246.1l-3.5 1.9-0.6 1 3.5-2z" color="#fec13a"/>
<path d="M424 248l-3.6 1.9-0.6 1.1 3.6-2z" color="#fbbc3d"/>
<path d="M420.4 249.9l-3.5 1.9-0.6 1.3 3.5-2.1z" color="#f2ba38"/>
<path d="M416.9 251.8l-3.6 2-0.6 1.4 3.6-2.1z" color="#e7bb2e"/>
<path d="M413.3 253.8l-3.5 2-0.6 1.6 3.5-2.2z" color="#dabd28"/>
<path d="M409.8 255.8l-3.6 2-0.6 1.8 3.6-2.2z" color="#cbc029"/>
<path d="M406.2 257.8l-3.5 2.1-0.6 1.9 3.5-2.2z" color="#bbc430"/>
<path d="M402.7 259.9l-3.6 2.1-0.6 2.1 3.6-2.3z" color="#a8c73b"/>
<path d="M399.1 262l-3.5 2.1-0.6 2.3 3.5-2.3z" color="#94ca4a"/>
<path d="M395.6 264.1l-3.6 2.2-0.6 2.5 3.6-2.4z" color="#7fcc5a"/>
<path d="M392 266.3l-3.5 2.2-0.6 2.6 3.5-2.3z" color="#69cd6a"/>
<path d="M388.5 268.5l-3.6 2.3-0.6 2.8 3.6-2.5z" color="#55cc7b"/>
<path d="M384.9 270.8l-3.5 2.2-0.7 3 3.6-2.4z" color="#43ca8b"/>
<path d="M381.4 273l-3.6 2.3-0.6 3.2 3.5-2.5z" color="#36c799"/>
<path d="M377.8 275.3l-3.5 2.4-0.7 3.4 3.6-2.6z" color="#2cc4a6"/>
<path d="M374.3 277.7l-3.6 2.3-0.6 3.6 3.5-2.5z" color="#1ec0b2"/>
<path d="M370.7 280l-3.5 2.4-0.7 3.8 3.6-2.6z" color="#09bcbe"/>
<path d="M367.2 282.4l-3.6 2.4-0.6 4.1 3.5-2.7z" color="#01b8c9"/>
<path d="M363.6 284.8l-3.6 2.5-0.6 4.2 3.6-2.6z" color="#0eb2d4"/>
<path d="M360 287.3l-3.5 2.5-0.6 4.4 3.5-2.7z" color="#1aacdd"/>
<path d="M356.5 289.8l-3.6 2.5-0.6 4.6 3.6-2.7z" color="#21a4e3"/>
<path d="M352.9 292.3l-3.5 2.5-0.6 4.9 3.5-2.8z" color="#259be8"/>
<path d="M349.4 294.8l-3.6 2.6-0.6 5.1 3.6-2.8z" color="#2b92ee"/>
<path d="M345.8 297.4l-3.5 2.5-0.6 5.4 3.5-2.8z" color="#2d88f6"/>
<path d="M342.3 299.9l-3.6 2.6-0.6 5.6 3.6-2.8z" color="#317dfb"/>
<path d="M338.7 302.5l-3.5 2.7-0.6 5.8 3.5-2.9z" color="#3c72ff"/>
<path d="M335.2 305.2l-3.6 2.6-0.6 6.1 3.6-2.9z" color="#4466fd"/>
<path d="M331.6 307.8l-3.5 2.7-0.6 6.3 3.5-2.9z" color="#475af9"/>
<path d="M470.8 228.7l-3.6 1-0.6-0.2 3.6-0.9z" color="#fdfc12"/>
<path d="M467.2 229.7l-3.5 1.1-0.6-0.1 3.5-1.2z" color="#fbfa14"/>
<path d="M463.7 230.8l-3.6 1.1-0.6 0 3.6-1.2z" color="#faf817"/>
<path d="M460.1 231.9l-3.5 1.3-0.6 0 3.5-1.3z" color="#f8f41a"/>
<path d="M456.6 233.2l-3.6 1.3-0.6 0.1 3.6-1.4z" color="#f6f01f"/>
<path d="M453 234.5l-3.5 1.4-0.6 0.2 3.5-1.5z" color="#f5ec22"/>
<path d="M449.5 235.9l-3.6 1.5-0.6 0.3 3.6-1.6z" color="#f5e825"/>
<path d="M445.9 237.4l-3.5 1.4-0.6 0.4 3.5-1.5z" color="#f5e427"/>
<path d="M442.4 238.8l-3.6 1.6-0.6 0.5 3.6-1.7z" color="#f6df29"/>
<path d="M438.8 240.4l-3.5 1.6-0.6 0.6 3.5-1.7z" color="#f8d92b"/>
<path d="M435.3 242l-3.6 1.6-0.6 0.7 3.6-1.7z" color="#fbd42e"/>
<path d="M431.7 243.6l-3.5 1.7-0.7 0.8 3.6-1.8z" color="#fdce31"/>
<path d="M428.2 245.3l-3.6 1.7-0.6 1 3.5-1.9z" color="#fec835"/>
<path d="M424.6 247l-3.5 1.7-0.7 1.2 3.6-1.9z" color="#fec239"/>
<path d="M421.1 248.7l-3.6 1.8-0.6 1.3 3.5-1.9z" color="#fcbc3d"/>
<path d="M417.5 250.5l-3.5 1.8-0.7 1.5 3.6-2z" color="#f5ba3a"/>
<path d="M414 252.3l-3.6 1.8-0.6 1.7 3.5-2z" color="#ebba31"/>
<path d="M410.4 254.1l-3.6 1.9-0.6 1.8 3.6-2z" color="#dfbc2a"/>
<path d="M406.8 256l-3.5 1.9-0.6 2 3.5-2.1z" color="#d3bf27"/>
<path d="M403.3 257.9l-3.6 2-0.6 2.1 3.6-2.1z" color="#c4c22b"/>
<path d="M399.7 259.9l-3.5 1.9-0.6 2.3 3.5-2.1z" color="#b4c533"/>
<path d="M396.2 261.8l-3.6 2-0.6 2.5 3.6-2.2z" color="#a3c83f"/>
<path d="M392.6 263.8l-3.5 2.1-0.6 2.6 3.5-2.2z" color="#90ca4d"/>
<path d="M389.1 265.9l-3.6 2-0.6 2.9 3.6-2.3z" color="#7ccc5c"/>
<path d="M385.5 267.9l-3.5 2.1-0.6 3 3.5-2.2z" color="#69cd6b"/>
<path d="M382 270l-3.6 2.1-0.6 3.2 3.6-2.3z" color="#56cc7b"/>
<path d="M378.4 272.1l-3.5 2.2-0.6 3.4 3.5-2.4z" color="#45cb89"/>
<path d="M374.9 274.3l-3.6 2.1-0.6 3.6 3.6-2.3z" color="#38c896"/>
<path d="M371.3 276.4l-3.5 2.2-0.6 3.8 3.5-2.4z" color="#2fc5a3"/>
<path d="M367.8 278.6l-3.6 2.2-0.6 4 3.6-2.4z" color="#24c2ae"/>
<path d="M364.2 280.8l-3.5 2.3-0.7 4.2 3.6-2.5z" color="#12beb9"/>
<path d="M360.7 283.1l-3.6 2.2-0.6 4.5 3.5-2.5z" color="#02bac3"/>
<path d="M357.1 285.3l-3.5 2.3-0.7 4.7 3.6-2.5z" color="#05b6ce"/>
<path d="M353.6 287.6l-3.6 2.3-0.6 4.9 3.5-2.5z" color="#13b0d7"/>
<path d="M350 289.9l-3.5 2.3-0.7 5.2 3.6-2.6z" color="#1caadf"/>
<path d="M346.5 292.2l-3.6 2.4-0.6 5.3 3.5-2.5z" color="#22a2e4"/>
<path d="M342.9 294.6l-3.6 2.4-0.6 5.5 3.6-2.6z" color="#269ae8"/>
<path d="M339.3 297l-3.5 2.4-0.6 5.8 3.5-2.7z" color="#2b92ee"/>
<path d="M335.8 299.4l-3.6 2.4-0.6 6 3.6-2.6z" color="#2d89f5"/>
<path d="M332.2 301.8l-3.5 2.4-0.6 6.3 3.5-2.7z" color="#307ffb"/>
<path d="M471.4 228.9l-3.5 0.9-0.7-0.1 3.6-1z" color="#fdfc12"/>
<path d="M467.9 229.8l-3.6 1.1-0.6-0.1 3.5-1.1z" color="#fcfb14"/>
<path d="M464.3 230.9l-3.6 1.1-0.6-0.1 3.6-1.1z" color="#faf816"/>
<path d="M460.7 232l-3.5 1.2-0.6 0 3.5-1.3z" color="#f8f619"/>
<path d="M457.2 233.2l-3.6 1.2-0.6 0.1 3.6-1.3z" color="#f7f21d"/>
<path d="M453.6 234.4l-3.5 1.3-0.6 0.2 3.5-1.4z" color="#f5ee21"/>
<path d="M450.1 235.7l-3.6 1.4-0.6 0.3 3.6-1.5z" color="#f5eb23"/>
<path d="M446.5 237.1l-3.5 1.4-0.6 0.3 3.5-1.4z" color="#f5e725"/>
<path d="M443 238.5l-3.6 1.4-0.6 0.5 3.6-1.6z" color="#f5e327"/>
<path d="M439.4 239.9l-3.5 1.4-0.6 0.7 3.5-1.6z" color="#f6de29"/>
<path d="M435.9 241.3l-3.6 1.5-0.6 0.8 3.6-1.6z" color="#f8d92c"/>
<path d="M432.3 242.8l-3.5 1.6-0.6 0.9 3.5-1.7z" color="#fad42e"/>
<path d="M428.8 244.4l-3.6 1.6-0.6 1 3.6-1.7z" color="#fcce31"/>
<path d="M425.2 246l-3.5 1.6-0.6 1.1 3.5-1.7z" color="#fec934"/>
<path d="M421.7 247.6l-3.6 1.6-0.6 1.3 3.6-1.8z" color="#fec438"/>
<path d="M418.1 249.2l-3.5 1.6-0.6 1.5 3.5-1.8z" color="#febe3c"/>
<path d="M414.6 250.8l-3.6 1.7-0.6 1.6 3.6-1.8z" color="#f9bb3d"/>
<path d="M411 252.5l-3.5 1.8-0.7 1.7 3.6-1.9z" color="#f1ba37"/>
<path d="M407.5 254.3l-3.6 1.7-0.6 1.9 3.5-1.9z" color="#e7bb2e"/>
<path d="M403.9 256l-3.5 1.8-0.7 2.1 3.6-2z" color="#ddbd29"/>
<path d="M400.4 257.8l-3.6 1.8-0.6 2.2 3.5-1.9z" color="#d1bf27"/>
<path d="M396.8 259.6l-3.5 1.8-0.7 2.4 3.6-2z" color="#c4c22b"/>
<path d="M393.3 261.4l-3.6 1.8-0.6 2.7 3.5-2.1z" color="#b5c533"/>
<path d="M389.7 263.2l-3.6 1.9-0.6 2.8 3.6-2z" color="#a5c83d"/>
<path d="M386.1 265.1l-3.5 1.9-0.6 3 3.5-2.1z" color="#94ca4a"/>
<path d="M382.6 267l-3.6 1.9-0.6 3.2 3.6-2.1z" color="#83cc57"/>
<path d="M379 268.9l-3.5 2-0.6 3.4 3.5-2.2z" color="#70cd65"/>
<path d="M375.5 270.9l-3.6 1.9-0.6 3.6 3.6-2.1z" color="#5fcd73"/>
<path d="M371.9 272.8l-3.5 2-0.6 3.8 3.5-2.2z" color="#4fcc81"/>
<path d="M368.4 274.8l-3.6 2-0.6 4 3.6-2.2z" color="#40ca8d"/>
<path d="M364.8 276.8l-3.5 2-0.6 4.3 3.5-2.3z" color="#36c799"/>
<path d="M361.3 278.8l-3.6 2.1-0.6 4.4 3.6-2.2z" color="#2ec4a4"/>
<path d="M357.7 280.9l-3.5 2.1-0.6 4.6 3.5-2.3z" color="#24c1ae"/>
<path d="M354.2 283l-3.6 2-0.6 4.9 3.6-2.3z" color="#13beb8"/>
<path d="M350.6 285l-3.5 2.1-0.6 5.1 3.5-2.3z" color="#04bbc2"/>
<path d="M347.1 287.1l-3.6 2.2-0.6 5.3 3.6-2.4z" color="#03b7cb"/>
<path d="M343.5 289.3l-3.5 2.1-0.7 5.6 3.6-2.4z" color="#0fb2d4"/>
<path d="M340 291.4l-3.6 2.2-0.6 5.8 3.5-2.4z" color="#19addc"/>
<path d="M336.4 293.6l-3.5 2.2-0.7 6 3.6-2.4z" color="#1fa6e2"/>
<path d="M332.9 295.8l-3.6 2.2-0.6 6.2 3.5-2.4z" color="#249fe5"/>
<path d="M472 229.1l-3.5 0.9-0.6-0.2 3.5-0.9z" color="#fdfc12"/>
<path d="M468.5 230l-3.6 1-0.6-0.1 3.6-1.1z" color="#fcfb14"/>
<path d="M464.9 231l-3.5 1-0.7 0 3.6-1.1z" color="#fbf915"/>
<path d="M461.4 232l-3.6 1.2-0.6 0 3.5-1.2z" color="#f9f718"/>
<path d="M457.8 233.2l-3.5 1.1-0.7 0.1 3.6-1.2z" color="#f8f41b"/>
<path d="M454.3 234.3l-3.6 1.2-0.6 0.2 3.5-1.3z" color="#f6f11e"/>
<path d="M450.7 235.5l-3.5 1.3-0.7 0.3 3.6-1.4z" color="#f5ed21"/>
<path d="M447.2 236.8l-3.6 1.3-0.6 0.4 3.5-1.4z" color="#f5ea24"/>
<path d="M443.6 238.1l-3.6 1.3-0.6 0.5 3.6-1.4z" color="#f5e625"/>
<path d="M440 239.4l-3.5 1.3-0.6 0.6 3.5-1.4z" color="#f5e327"/>
<path d="M436.5 240.7l-3.6 1.4-0.6 0.7 3.6-1.5z" color="#f6de29"/>
<path d="M432.9 242.1l-3.5 1.4-0.6 0.9 3.5-1.6z" color="#f8da2b"/>
<path d="M429.4 243.5l-3.6 1.4-0.6 1.1 3.6-1.6z" color="#fad52d"/>
<path d="M425.8 244.9l-3.5 1.5-0.6 1.2 3.5-1.6z" color="#fcd12f"/>
<path d="M422.3 246.4l-3.6 1.5-0.6 1.3 3.6-1.6z" color="#fdcc32"/>
<path d="M418.7 247.9l-3.5 1.5-0.6 1.4 3.5-1.6z" color="#fec735"/>
<path d="M415.2 249.4l-3.6 1.5-0.6 1.6 3.6-1.7z" color="#fec239"/>
<path d="M411.6 250.9l-3.5 1.6-0.6 1.8 3.5-1.8z" color="#febd3c"/>
<path d="M408.1 252.5l-3.6 1.6-0.6 1.9 3.6-1.7z" color="#f9ba3d"/>
<path d="M404.5 254.1l-3.5 1.6-0.6 2.1 3.5-1.8z" color="#f1ba37"/>
<path d="M401 255.7l-3.6 1.6-0.6 2.3 3.6-1.8z" color="#e9bb30"/>
<path d="M397.4 257.3l-3.5 1.6-0.6 2.5 3.5-1.8z" color="#e0bc2a"/>
<path d="M393.9 258.9l-3.6 1.7-0.6 2.6 3.6-1.8z" color="#d5be28"/>
<path d="M390.3 260.6l-3.5 1.7-0.7 2.8 3.6-1.9z" color="#cac129"/>
<path d="M386.8 262.3l-3.6 1.7-0.6 3 3.5-1.9z" color="#bec32e"/>
<path d="M383.2 264l-3.5 1.7-0.7 3.2 3.6-1.9z" color="#b0c636"/>
<path d="M379.7 265.7l-3.6 1.8-0.6 3.4 3.5-2z" color="#a2c840"/>
<path d="M376.1 267.5l-3.5 1.7-0.7 3.6 3.6-1.9z" color="#93ca4b"/>
<path d="M372.6 269.2l-3.6 1.8-0.6 3.8 3.5-2z" color="#83cc57"/>
<path d="M369 271l-3.6 1.8-0.6 4 3.6-2z" color="#72cd63"/>
<path d="M365.4 272.8l-3.5 1.8-0.6 4.2 3.5-2z" color="#63cd70"/>
<path d="M361.9 274.6l-3.6 1.8-0.6 4.5 3.6-2.1z" color="#54cc7c"/>
<path d="M358.3 276.4l-3.5 1.9-0.6 4.7 3.5-2.1z" color="#46cb88"/>
<path d="M354.8 278.3l-3.6 1.9-0.6 4.8 3.6-2z" color="#3bc993"/>
<path d="M351.2 280.2l-3.5 1.8-0.6 5.1 3.5-2.1z" color="#33c69d"/>
<path d="M347.7 282l-3.6 1.9-0.6 5.4 3.6-2.2z" color="#2cc4a7"/>
<path d="M344.1 283.9l-3.5 1.9-0.6 5.6 3.5-2.1z" color="#22c1b0"/>
<path d="M340.6 285.8l-3.6 2-0.6 5.8 3.6-2.2z" color="#12beb9"/>
<path d="M337 287.8l-3.5 1.9-0.6 6.1 3.5-2.2z" color="#04bbc1"/>
<path d="M333.5 289.7l-3.6 2-0.6 6.3 3.6-2.2z" color="#01b8ca"/>
<path d="M472.6 229.3l-3.5 0.8-0.6-0.1 3.5-0.9z" color="#fdfd12"/>
<path d="M469.1 230.1l-3.6 1-0.6-0.1 3.6-1z" color="#fcfb13"/>
<path d="M465.5 231.1l-3.5 1-0.6-0.1 3.5-1z" color="#fbfa15"/>
<path d="M462 232.1l-3.6 1-0.6 0.1 3.6-1.2z" color="#faf817"/>
<path d="M458.4 233.1l-3.5 1.1-0.6 0.1 3.5-1.1z" color="#f8f619"/>
<path d="M454.9 234.2l-3.6 1.1-0.6 0.2 3.6-1.2z" color="#f7f31c"/>
<path d="M451.3 235.3l-3.5 1.2-0.6 0.3 3.5-1.3z" color="#f6f01f"/>
<path d="M447.8 236.5l-3.6 1.2-0.6 0.4 3.6-1.3z" color="#f5ed21"/>
<path d="M444.2 237.7l-3.5 1.2-0.7 0.5 3.6-1.3z" color="#f5ea23"/>
<path d="M440.7 238.9l-3.6 1.2-0.6 0.6 3.5-1.3z" color="#f5e725"/>
<path d="M437.1 240.1l-3.5 1.2-0.7 0.8 3.6-1.4z" color="#f5e427"/>
<path d="M433.6 241.3l-3.6 1.3-0.6 0.9 3.5-1.4z" color="#f6e028"/>
<path d="M430 242.6l-3.5 1.3-0.7 1 3.6-1.4z" color="#f7dd2a"/>
<path d="M426.5 243.9l-3.6 1.3-0.6 1.2 3.5-1.5z" color="#f8d92c"/>
<path d="M422.9 245.2l-3.5 1.4-0.7 1.3 3.6-1.5z" color="#fad52e"/>
<path d="M419.4 246.6l-3.6 1.3-0.6 1.5 3.5-1.5z" color="#fcd030"/>
<path d="M415.8 247.9l-3.6 1.4-0.6 1.6 3.6-1.5z" color="#fdcc32"/>
<path d="M412.2 249.3l-3.5 1.4-0.6 1.8 3.5-1.6z" color="#fec835"/>
<path d="M408.7 250.7l-3.6 1.4-0.6 2 3.6-1.6z" color="#fec438"/>
<path d="M405.1 252.1l-3.5 1.5-0.6 2.1 3.5-1.6z" color="#fec03b"/>
<path d="M401.6 253.6l-3.6 1.4-0.6 2.3 3.6-1.6z" color="#fcbc3d"/>
<path d="M398 255l-3.5 1.5-0.6 2.4 3.5-1.6z" color="#f7ba3c"/>
<path d="M394.5 256.5l-3.6 1.5-0.6 2.6 3.6-1.7z" color="#f0ba36"/>
<path d="M390.9 258l-3.5 1.5-0.6 2.8 3.5-1.7z" color="#e9bb2f"/>
<path d="M387.4 259.5l-3.6 1.5-0.6 3 3.6-1.7z" color="#e0bc2b"/>
<path d="M383.8 261l-3.5 1.5-0.6 3.2 3.5-1.7z" color="#d7be28"/>
<path d="M380.3 262.5l-3.6 1.6-0.6 3.4 3.6-1.8z" color="#cec028"/>
<path d="M376.7 264.1l-3.5 1.5-0.6 3.6 3.5-1.7z" color="#c3c22b"/>
<path d="M373.2 265.6l-3.6 1.6-0.6 3.8 3.6-1.8z" color="#b8c431"/>
<path d="M369.6 267.2l-3.5 1.6-0.7 4 3.6-1.8z" color="#acc738"/>
<path d="M366.1 268.8l-3.6 1.6-0.6 4.2 3.5-1.8z" color="#9fc941"/>
<path d="M362.5 270.4l-3.5 1.6-0.7 4.4 3.6-1.8z" color="#92ca4c"/>
<path d="M359 272l-3.6 1.6-0.6 4.7 3.5-1.9z" color="#84cc56"/>
<path d="M355.4 273.6l-3.5 1.7-0.7 4.9 3.6-1.9z" color="#76cc61"/>
<path d="M351.9 275.3l-3.6 1.6-0.6 5.1 3.5-1.8z" color="#68cd6c"/>
<path d="M348.3 276.9l-3.6 1.7-0.6 5.3 3.6-1.9z" color="#5bcc77"/>
<path d="M344.7 278.6l-3.5 1.7-0.6 5.5 3.5-1.9z" color="#4ecc81"/>
<path d="M341.2 280.3l-3.6 1.7-0.6 5.8 3.6-2z" color="#42ca8b"/>
<path d="M337.6 282l-3.5 1.7-0.6 6 3.5-1.9z" color="#39c895"/>
<path d="M334.1 283.7l-3.6 1.7-0.6 6.3 3.6-2z" color="#32c69e"/>
<path d="M473.3 229.5l-3.6 0.8-0.6-0.2 3.5-0.8z" color="#fdfd12"/>
<path d="M469.7 230.3l-3.6 0.9-0.6-0.1 3.6-1z" color="#fcfc13"/>
<path d="M466.1 231.2l-3.5 0.9-0.6 0 3.5-1z" color="#fbfb14"/>
<path d="M462.6 232.1l-3.6 1-0.6 0 3.6-1z" color="#faf916"/>
<path d="M459 233.1l-3.5 1-0.6 0.1 3.5-1.1z" color="#f9f717"/>
<path d="M455.5 234.1l-3.6 1-0.6 0.2 3.6-1.1z" color="#f8f519"/>
<path d="M451.9 235.1l-3.5 1.1-0.6 0.3 3.5-1.2z" color="#f7f31c"/>
<path d="M448.4 236.2l-3.6 1.1-0.6 0.4 3.6-1.2z" color="#f6f01f"/>
<path d="M444.8 237.3l-3.5 1-0.6 0.6 3.5-1.2z" color="#f5ee21"/>
<path d="M441.3 238.3l-3.6 1.2-0.6 0.6 3.6-1.2z" color="#f5ec22"/>
<path d="M437.7 239.5l-3.5 1.1-0.6 0.7 3.5-1.2z" color="#f5e924"/>
<path d="M434.2 240.6l-3.6 1.1-0.6 0.9 3.6-1.3z" color="#f5e625"/>
<path d="M430.6 241.7l-3.5 1.2-0.6 1 3.5-1.3z" color="#f5e427"/>
<path d="M427.1 242.9l-3.6 1.2-0.6 1.1 3.6-1.3z" color="#f6e128"/>
<path d="M423.5 244.1l-3.5 1.2-0.6 1.3 3.5-1.4z" color="#f6dd29"/>
<path d="M420 245.3l-3.6 1.2-0.6 1.4 3.6-1.3z" color="#f8da2b"/>
<path d="M416.4 246.5l-3.5 1.2-0.7 1.6 3.6-1.4z" color="#f9d72d"/>
<path d="M412.9 247.7l-3.6 1.2-0.6 1.8 3.5-1.4z" color="#fbd32e"/>
<path d="M409.3 248.9l-3.5 1.3-0.7 1.9 3.6-1.4z" color="#fcd030"/>
<path d="M405.8 250.2l-3.6 1.3-0.6 2.1 3.5-1.5z" color="#fdcc32"/>
<path d="M402.2 251.5l-3.5 1.2-0.7 2.3 3.6-1.4z" color="#fec934"/>
<path d="M398.7 252.7l-3.6 1.3-0.6 2.5 3.5-1.5z" color="#fec537"/>
<path d="M395.1 254l-3.6 1.3-0.6 2.7 3.6-1.5z" color="#fec239"/>
<path d="M391.5 255.3l-3.5 1.3-0.6 2.9 3.5-1.5z" color="#febe3c"/>
<path d="M388 256.6l-3.6 1.4-0.6 3 3.6-1.5z" color="#fbbc3d"/>
<path d="M384.4 258l-3.5 1.3-0.6 3.2 3.5-1.5z" color="#f6ba3b"/>
<path d="M380.9 259.3l-3.6 1.4-0.6 3.4 3.6-1.6z" color="#f0ba36"/>
<path d="M377.3 260.7l-3.5 1.3-0.6 3.6 3.5-1.5z" color="#eaba31"/>
<path d="M373.8 262l-3.6 1.4-0.6 3.8 3.6-1.6z" color="#e4bb2c"/>
<path d="M370.2 263.4l-3.5 1.4-0.6 4 3.5-1.6z" color="#ddbd29"/>
<path d="M366.7 264.8l-3.6 1.4-0.6 4.2 3.6-1.6z" color="#d5be28"/>
<path d="M363.1 266.2l-3.5 1.4-0.6 4.4 3.5-1.6z" color="#ccc028"/>
<path d="M359.6 267.6l-3.6 1.4-0.6 4.6 3.6-1.6z" color="#c3c22b"/>
<path d="M356 269l-3.5 1.4-0.6 4.9 3.5-1.7z" color="#bac430"/>
<path d="M352.5 270.4l-3.6 1.4-0.6 5.1 3.6-1.6z" color="#b0c636"/>
<path d="M348.9 271.8l-3.5 1.5-0.7 5.3 3.6-1.7z" color="#a5c83d"/>
<path d="M345.4 273.3l-3.6 1.4-0.6 5.6 3.5-1.7z" color="#9ac945"/>
<path d="M341.8 274.7l-3.5 1.5-0.7 5.8 3.6-1.7z" color="#8fcb4e"/>
<path d="M338.3 276.2l-3.6 1.5-0.6 6 3.5-1.7z" color="#83cc57"/>
<path d="M334.7 277.7l-3.5 1.4-0.7 6.3 3.6-1.7z" color="#77cc60"/>
<path d="M473.9 229.6l-3.6 0.9-0.6-0.2 3.6-0.8z" color="#fdfd12"/>
<path d="M470.3 230.5l-3.5 0.8-0.7-0.1 3.6-0.9z" color="#fcfc13"/>
<path d="M466.8 231.3l-3.6 0.9-0.6-0.1 3.5-0.9z" color="#fcfb13"/>
<path d="M463.2 232.2l-3.5 0.9-0.7 0 3.6-1z" color="#fbfa14"/>
<path d="M459.7 233.1l-3.6 0.9-0.6 0.1 3.5-1z" color="#faf916"/>
<path d="M456.1 234l-3.5 0.9-0.7 0.2 3.6-1z" color="#f9f717"/>
<path d="M452.6 234.9l-3.6 1-0.6 0.3 3.5-1.1z" color="#f9f618"/>
<path d="M449 235.9l-3.6 1-0.6 0.4 3.6-1.1z" color="#f8f41a"/>
<path d="M445.4 236.9l-3.5 0.9-0.6 0.5 3.5-1z" color="#f7f21d"/>
<path d="M441.9 237.8l-3.6 1-0.6 0.7 3.6-1.2z" color="#f6f01f"/>
<path d="M438.3 238.8l-3.5 1-0.6 0.8 3.5-1.1z" color="#f5ee21"/>
<path d="M434.8 239.8l-3.6 1.1-0.6 0.8 3.6-1.1z" color="#f5ec22"/>
<path d="M431.2 240.9l-3.5 1-0.6 1 3.5-1.2z" color="#f5ea23"/>
<path d="M427.7 241.9l-3.6 1-0.6 1.2 3.6-1.2z" color="#f5e825"/>
<path d="M424.1 242.9l-3.5 1.1-0.6 1.3 3.5-1.2z" color="#f5e626"/>
<path d="M420.6 244l-3.6 1-0.6 1.5 3.6-1.2z" color="#f5e427"/>
<path d="M417 245l-3.5 1.1-0.6 1.6 3.5-1.2z" color="#f5e228"/>
<path d="M413.5 246.1l-3.6 1.1-0.6 1.7 3.6-1.2z" color="#f6df29"/>
<path d="M409.9 247.2l-3.5 1.1-0.6 1.9 3.5-1.3z" color="#f7dd2a"/>
<path d="M406.4 248.3l-3.6 1.1-0.6 2.1 3.6-1.3z" color="#f8da2b"/>
<path d="M402.8 249.4l-3.5 1.1-0.6 2.2 3.5-1.2z" color="#f9d72c"/>
<path d="M399.3 250.5l-3.6 1.1-0.6 2.4 3.6-1.3z" color="#fad52e"/>
<path d="M395.7 251.6l-3.5 1.1-0.7 2.6 3.6-1.3z" color="#fbd22f"/>
<path d="M392.2 252.7l-3.6 1.1-0.6 2.8 3.5-1.3z" color="#fccf30"/>
<path d="M388.6 253.8l-3.5 1.2-0.7 3 3.6-1.4z" color="#fdcc32"/>
<path d="M385.1 255l-3.6 1.1-0.6 3.2 3.5-1.3z" color="#fec934"/>
<path d="M381.5 256.1l-3.5 1.2-0.7 3.4 3.6-1.4z" color="#fec636"/>
<path d="M378 257.3l-3.6 1.1-0.6 3.6 3.5-1.3z" color="#fec338"/>
<path d="M374.4 258.4l-3.6 1.2-0.6 3.8 3.6-1.4z" color="#fec13a"/>
<path d="M370.8 259.6l-3.5 1.2-0.6 4 3.5-1.4z" color="#febe3c"/>
<path d="M367.3 260.8l-3.6 1.1-0.6 4.3 3.6-1.4z" color="#fbbc3d"/>
<path d="M363.7 261.9l-3.5 1.2-0.6 4.5 3.5-1.4z" color="#f8ba3d"/>
<path d="M360.2 263.1l-3.6 1.2-0.6 4.7 3.6-1.4z" color="#f3ba39"/>
<path d="M356.6 264.3l-3.5 1.2-0.6 4.9 3.5-1.4z" color="#efba35"/>
<path d="M353.1 265.5l-3.6 1.2-0.6 5.1 3.6-1.4z" color="#eabb30"/>
<path d="M349.5 266.7l-3.5 1.2-0.6 5.4 3.5-1.5z" color="#e5bb2c"/>
<path d="M346 267.9l-3.6 1.3-0.6 5.5 3.6-1.4z" color="#dfbc2a"/>
<path d="M342.4 269.2l-3.5 1.2-0.6 5.8 3.5-1.5z" color="#d9be28"/>
<path d="M338.9 270.4l-3.6 1.2-0.6 6.1 3.6-1.5z" color="#d3bf27"/>
<path d="M335.3 271.6l-3.5 1.3-0.6 6.2 3.5-1.4z" color="#ccc028"/>
<path d="M474.5 229.8l-3.6 0.8-0.6-0.1 3.6-0.9z" color="#fdfd12"/>
<path d="M470.9 230.6l-3.5 0.8-0.6-0.1 3.5-0.8z" color="#fdfc12"/>
<path d="M467.4 231.4l-3.6 0.8-0.6 0 3.6-0.9z" color="#fcfc13"/>
<path d="M463.8 232.2l-3.5 0.9-0.6 0 3.5-0.9z" color="#fcfb13"/>
<path d="M460.3 233.1l-3.6 0.8-0.6 0.1 3.6-0.9z" color="#fbfa14"/>
<path d="M456.7 233.9l-3.5 0.8-0.6 0.2 3.5-0.9z" color="#fbfa15"/>
<path d="M453.2 234.7l-3.6 0.9-0.6 0.3 3.6-1z" color="#faf916"/>
<path d="M449.6 235.6l-3.5 0.9-0.7 0.4 3.6-1z" color="#faf817"/>
<path d="M446.1 236.5l-3.6 0.8-0.6 0.5 3.5-0.9z" color="#f9f718"/>
<path d="M442.5 237.3l-3.5 0.9-0.7 0.6 3.6-1z" color="#f8f519"/>
<path d="M439 238.2l-3.6 0.9-0.6 0.7 3.5-1z" color="#f8f41a"/>
<path d="M435.4 239.1l-3.5 0.9-0.7 0.9 3.6-1.1z" color="#f7f31c"/>
<path d="M431.9 240l-3.6 0.9-0.6 1 3.5-1z" color="#f7f11d"/>
<path d="M428.3 240.9l-3.6 0.9-0.6 1.1 3.6-1z" color="#f6f01f"/>
<path d="M424.7 241.8l-3.5 0.9-0.6 1.3 3.5-1.1z" color="#f5ef21"/>
<path d="M421.2 242.7l-3.6 0.9-0.6 1.4 3.6-1z" color="#f5ed21"/>
<path d="M417.6 243.6l-3.5 0.9-0.6 1.6 3.5-1.1z" color="#f5ec22"/>
<path d="M414.1 244.5l-3.6 0.9-0.6 1.8 3.6-1.1z" color="#f5eb23"/>
<path d="M410.5 245.4l-3.5 0.9-0.6 2 3.5-1.1z" color="#f5e924"/>
<path d="M407 246.3l-3.6 1-0.6 2.1 3.6-1.1z" color="#f5e825"/>
<path d="M403.4 247.3l-3.5 0.9-0.6 2.3 3.5-1.1z" color="#f5e626"/>
<path d="M399.9 248.2l-3.6 0.9-0.6 2.5 3.6-1.1z" color="#f5e426"/>
<path d="M396.3 249.1l-3.5 1-0.6 2.6 3.5-1.1z" color="#f5e327"/>
<path d="M392.8 250.1l-3.6 0.9-0.6 2.8 3.6-1.1z" color="#f5e128"/>
<path d="M389.2 251l-3.5 0.9-0.6 3.1 3.5-1.2z" color="#f6df29"/>
<path d="M385.7 251.9l-3.6 1-0.6 3.2 3.6-1.1z" color="#f6de29"/>
<path d="M382.1 252.9l-3.5 1-0.6 3.4 3.5-1.2z" color="#f7dc2a"/>
<path d="M378.6 253.9l-3.6 0.9-0.6 3.6 3.6-1.1z" color="#f8da2b"/>
<path d="M375 254.8l-3.5 1-0.7 3.8 3.6-1.2z" color="#f9d82c"/>
<path d="M371.5 255.8l-3.6 0.9-0.6 4.1 3.5-1.2z" color="#fad62d"/>
<path d="M367.9 256.7l-3.5 1-0.7 4.2 3.6-1.1z" color="#fad42e"/>
<path d="M364.4 257.7l-3.6 1-0.6 4.4 3.5-1.2z" color="#fbd22f"/>
<path d="M360.8 258.7l-3.5 1-0.7 4.6 3.6-1.2z" color="#fcd030"/>
<path d="M357.3 259.7l-3.6 0.9-0.6 4.9 3.5-1.2z" color="#fdce31"/>
<path d="M353.7 260.6l-3.6 1-0.6 5.1 3.6-1.2z" color="#fdcc32"/>
<path d="M350.1 261.6l-3.5 1-0.6 5.3 3.5-1.2z" color="#feca33"/>
<path d="M346.6 262.6l-3.6 1-0.6 5.6 3.6-1.3z" color="#fec835"/>
<path d="M343 263.6l-3.5 1-0.6 5.8 3.5-1.2z" color="#fec636"/>
<path d="M339.5 264.6l-3.6 1-0.6 6 3.6-1.2z" color="#fec438"/>
<path d="M335.9 265.6l-3.5 1-0.6 6.3 3.5-1.3z" color="#fec239"/>
<path d="M475.1 230l-3.6 0.8-0.6-0.2 3.6-0.8z" color="#fdfd12"/>
<path d="M471.5 230.8l-3.5 0.7-0.6-0.1 3.5-0.8z" color="#fdfd12"/>
<path d="M468 231.5l-3.6 0.8-0.6-0.1 3.6-0.8z" color="#fdfd12"/>
<path d="M464.4 232.3l-3.5 0.7-0.6 0.1 3.5-0.9z" color="#fdfc12"/>
<path d="M460.9 233l-3.6 0.8-0.6 0.1 3.6-0.8z" color="#fcfc13"/>
<path d="M457.3 233.8l-3.5 0.7-0.6 0.2 3.5-0.8z" color="#fcfc13"/>
<path d="M453.8 234.5l-3.6 0.8-0.6 0.3 3.6-0.9z" color="#fcfc13"/>
<path d="M450.2 235.3l-3.5 0.8-0.6 0.4 3.5-0.9z" color="#fcfb13"/>
<path d="M446.7 236.1l-3.6 0.7-0.6 0.5 3.6-0.8z" color="#fcfb14"/>
<path d="M443.1 236.8l-3.5 0.8-0.6 0.6 3.5-0.9z" color="#fbfa14"/>
<path d="M439.6 237.6l-3.6 0.7-0.6 0.8 3.6-0.9z" color="#fbfa15"/>
<path d="M436 238.3l-3.5 0.8-0.6 0.9 3.5-0.9z" color="#fbfa15"/>
<path d="M432.5 239.1l-3.6 0.7-0.6 1.1 3.6-0.9z" color="#fbf915"/>
<path d="M428.9 239.8l-3.5 0.8-0.7 1.2 3.6-0.9z" color="#faf916"/>
<path d="M425.4 240.6l-3.6 0.8-0.6 1.3 3.5-0.9z" color="#faf816"/>
<path d="M421.8 241.4l-3.5 0.7-0.7 1.5 3.6-0.9z" color="#faf817"/>
<path d="M418.3 242.1l-3.6 0.8-0.6 1.6 3.5-0.9z" color="#f9f717"/>
<path d="M414.7 242.9l-3.5 0.7-0.7 1.8 3.6-0.9z" color="#f9f718"/>
<path d="M411.2 243.6l-3.6 0.8-0.6 1.9 3.5-0.9z" color="#f9f618"/>
<path d="M407.6 244.4l-3.6 0.8-0.6 2.1 3.6-1z" color="#f8f619"/>
<path d="M404 245.2l-3.5 0.7-0.6 2.3 3.5-0.9z" color="#f8f519"/>
<path d="M400.5 245.9l-3.6 0.8-0.6 2.4 3.6-0.9z" color="#f8f41a"/>
<path d="M396.9 246.7l-3.5 0.7-0.6 2.7 3.5-1z" color="#f8f41b"/>
<path d="M393.4 247.4l-3.6 0.8-0.6 2.8 3.6-0.9z" color="#f7f31c"/>
<path d="M389.8 248.2l-3.5 0.7-0.6 3 3.5-0.9z" color="#f7f21c"/>
<path d="M386.3 248.9l-3.6 0.8-0.6 3.2 3.6-1z" color="#f7f21d"/>
<path d="M382.7 249.7l-3.5 0.8-0.6 3.4 3.5-1z" color="#f6f11e"/>
<path d="M379.2 250.5l-3.6 0.7-0.6 3.6 3.6-0.9z" color="#f6f01f"/>
<path d="M375.6 251.2l-3.5 0.8-0.6 3.8 3.5-1z" color="#f6f01f"/>
<path d="M372.1 252l-3.6 0.7-0.6 4 3.6-0.9z" color="#f6ef20"/>
<path d="M368.5 252.7l-3.5 0.8-0.6 4.2 3.5-1z" color="#f5ee21"/>
<path d="M365 253.5l-3.6 0.7-0.6 4.5 3.6-1z" color="#f5ee21"/>
<path d="M361.4 254.2l-3.5 0.8-0.6 4.7 3.5-1z" color="#f5ed21"/>
<path d="M357.9 255l-3.6 0.8-0.6 4.8 3.6-0.9z" color="#f5ec22"/>
<path d="M354.3 255.8l-3.5 0.7-0.7 5.1 3.6-1z" color="#f5ec22"/>
<path d="M350.8 256.5l-3.6 0.8-0.6 5.3 3.5-1z" color="#f5eb23"/>
<path d="M347.2 257.3l-3.5 0.7-0.7 5.6 3.6-1z" color="#f5ea23"/>
<path d="M343.7 258l-3.6 0.8-0.6 5.8 3.5-1z" color="#f5ea24"/>
<path d="M340.1 258.8l-3.5 0.7-0.7 6.1 3.6-1z" color="#f5e924"/>
<path d="M336.6 259.5l-3.6 0.8-0.6 6.3 3.5-1z" color="#f5e825"/>
</g></g>
<path d="M212.30 305.90L212.30 225.20" stroke="#262626" stroke-width="0.7" fill="none"/>
<path d="M212.30 305.90L333.00 341.00" stroke="#262626" stroke-width="0.7" fill="none"/>
<path d="M333.00 341.00L475.10 310.70" stroke="#262626" stroke-width="0.7" fill="none"/>
<path d="M475.10 310.70L477.88 311.51" stroke="#262626" stroke-width="0.7" fill="none"/>
<path d="M427.73 320.80L430.52 321.61" stroke="#262626" stroke-width="0.7" fill="none"/>
<path d="M380.37 330.90L383.15 331.71" stroke="#262626" stroke-width="0.7" fill="none"/>
<path d="M333.00 341.00L335.78 341.81" stroke="#262626" stroke-width="0.7" fill="none"/>
<path d="M333.00 341.00L330.16 341.60" stroke="#262626" stroke-width="0.7" fill="none"/>
<path d="M272.65 323.45L269.81 324.05" stroke="#262626" stroke-width="0.7" fill="none"/>
<path d="M212.30 305.90L209.46 306.50" stroke="#262626" stroke-width="0.7" fill="none"/>
<path d="M212.30 305.90L209.52 305.09" stroke="#262626" stroke-width="0.7" fill="none"/>
<path d="M212.30 279.00L209.52 278.19" stroke="#262626" stroke-width="0.7" fill="none"/>
<path d="M212.30 252.10L209.52 251.29" stroke="#262626" stroke-width="0.7" fill="none"/>
<path d="M212.30 225.20L209.52 224.39" stroke="#262626" stroke-width="0.7" fill="none"/>
<g opacity="0.999">
<text transform="translate(37.60,38.40) scale(0.85,1)" font-size="9.0" text-anchor="end">0.01</text>
<text transform="translate(37.60,58.50) scale(0.85,1)" font-size="9.0" text-anchor="end">0.005</text>
<text transform="translate(37.60,78.70) scale(0.85,1)" font-size="9.0" text-anchor="end">0</text>
<text transform="translate(37.60,98.80) scale(0.85,1)" font-size="9.0" text-anchor="end">-0.005</text>
<text transform="translate(37.60,119.00) scale(0.85,1)" font-size="9.0" text-anchor="end">-0.01</text>
<text transform="translate(38.00,127.60) scale(0.85,1)" font-size="9.0" text-anchor="end">10</text>
<text transform="translate(95.00,145.30) scale(0.85,1)" font-size="9.0" text-anchor="middle">5</text>
<text transform="translate(155.00,163.60) scale(0.85,1)" font-size="9.0" text-anchor="middle">0</text>
<text transform="translate(176.00,164.30) scale(0.85,1)" font-size="9.0" text-anchor="middle">1.5</text>
<text transform="translate(220.00,154.00) scale(0.85,1)" font-size="9.0" text-anchor="middle">1</text>
<text transform="translate(270.40,144.50) scale(0.85,1)" font-size="9.0" text-anchor="middle">0.5</text>
<text transform="translate(315.40,134.10) scale(0.85,1)" font-size="9.0" text-anchor="middle">0</text>
<text transform="translate(86.50,156.00) scale(0.85,1)" font-size="9.0" text-anchor="middle"><tspan font-style="italic">t</tspan> (sec)</text>
<text transform="translate(239.00,157.70) scale(0.85,1)" font-size="9.0" text-anchor="middle"><tspan font-style="italic">x</tspan> (m)</text>
<text transform="translate(296.10,21.70) scale(1,1)" font-size="13" text-anchor="middle" fill="#1a1a1a">(a)</text>
<text transform="translate(7.0,73.7) rotate(-90)" font-size="7.9" text-anchor="middle">Transverse deflection <tspan font-style="italic">w</tspan>(<tspan font-style="italic">x</tspan>, <tspan font-style="italic">t</tspan>) (m)</text>
<text transform="translate(386.60,42.50) scale(0.85,1)" font-size="9.0" text-anchor="end">2</text>
<text transform="translate(386.60,58.40) scale(0.85,1)" font-size="9.0" text-anchor="end">1</text>
<text transform="translate(386.60,74.30) scale(0.85,1)" font-size="9.0" text-anchor="end">0</text>
<text transform="translate(386.60,90.10) scale(0.85,1)" font-size="9.0" text-anchor="end">-1</text>
<text transform="translate(386.60,105.90) scale(0.85,1)" font-size="9.0" text-anchor="end">-2</text>
<text transform="translate(387.00,123.20) scale(0.85,1)" font-size="9.0" text-anchor="end">10</text>
<text transform="translate(444.50,140.30) scale(0.85,1)" font-size="9.0" text-anchor="middle">5</text>
<text transform="translate(505.00,158.60) scale(0.85,1)" font-size="9.0" text-anchor="middle">0</text>
<text transform="translate(526.00,159.30) scale(0.85,1)" font-size="9.0" text-anchor="middle">1.5</text>
<text transform="translate(569.00,149.00) scale(0.85,1)" font-size="9.0" text-anchor="middle">1</text>
<text transform="translate(619.40,139.50) scale(0.85,1)" font-size="9.0" text-anchor="middle">0.5</text>
<text transform="translate(664.40,129.10) scale(0.85,1)" font-size="9.0" text-anchor="middle">0</text>
<text transform="translate(447.40,151.10) scale(0.85,1)" font-size="9.0" text-anchor="middle"><tspan font-style="italic">t</tspan> (sec)</text>
<text transform="translate(596.10,150.90) scale(0.85,1)" font-size="9.0" text-anchor="middle"><tspan font-style="italic">x</tspan> (m)</text>
<text transform="translate(647.40,15.00) scale(1,1)" font-size="13" text-anchor="middle" fill="#1a1a1a">(b)</text>
<text transform="translate(356.9,61.2) rotate(-90)" font-size="7.9" text-anchor="middle">Lateral deflection <tspan font-style="italic">v</tspan>(<tspan font-style="italic">x</tspan>, <tspan font-style="italic">t</tspan>) (m)</text>
<text transform="translate(370.60,20.10) scale(0.85,1)" font-size="9.0" text-anchor="start"><tspan font-size="9.6" dy="0.4">×</tspan><tspan dy="-0.4" dx="1.1">10</tspan><tspan dy="-3.6" font-size="6.8">-3</tspan></text>
<text transform="translate(206.20,226.60) scale(0.85,1)" font-size="9.0" text-anchor="end">0</text>
<text transform="translate(206.20,253.50) scale(0.85,1)" font-size="9.0" text-anchor="end">-2</text>
<text transform="translate(206.20,280.40) scale(0.85,1)" font-size="9.0" text-anchor="end">-4</text>
<text transform="translate(206.20,307.30) scale(0.85,1)" font-size="9.0" text-anchor="end">-6</text>
<text transform="translate(205.30,315.70) scale(0.85,1)" font-size="9.0" text-anchor="end">10</text>
<text transform="translate(264.20,333.20) scale(0.85,1)" font-size="9.0" text-anchor="middle">5</text>
<text transform="translate(325.00,351.30) scale(0.85,1)" font-size="9.0" text-anchor="middle">0</text>
<text transform="translate(346.00,352.00) scale(0.85,1)" font-size="9.0" text-anchor="middle">1.5</text>
<text transform="translate(389.20,341.60) scale(0.85,1)" font-size="9.0" text-anchor="middle">1</text>
<text transform="translate(439.50,331.60) scale(0.85,1)" font-size="9.0" text-anchor="middle">0.5</text>
<text transform="translate(483.50,321.50) scale(0.85,1)" font-size="9.0" text-anchor="middle">0</text>
<text transform="translate(257.40,344.80) scale(0.85,1)" font-size="9.0" text-anchor="middle"><tspan font-style="italic">t</tspan> (sec)</text>
<text transform="translate(420.50,344.80) scale(0.85,1)" font-size="9.0" text-anchor="middle"><tspan font-style="italic">x</tspan> (m)</text>
<text transform="translate(470.40,197.60) scale(1,1)" font-size="13" text-anchor="middle" fill="#1a1a1a">(c)</text>
<text transform="translate(180.8,257.9) rotate(-90)" font-size="7.9" text-anchor="middle">Longitudinal deflection <tspan font-style="italic">u</tspan>(<tspan font-style="italic">x</tspan>, <tspan font-style="italic">t</tspan>) (m)</text>
<text transform="translate(190.20,212.60) scale(0.85,1)" font-size="9.0" text-anchor="start"><tspan font-size="9.6" dy="0.4">×</tspan><tspan dy="-0.4" dx="1.1">10</tspan><tspan dy="-3.6" font-size="6.8">-5</tspan></text>
</g>
</svg>
</body></html>
